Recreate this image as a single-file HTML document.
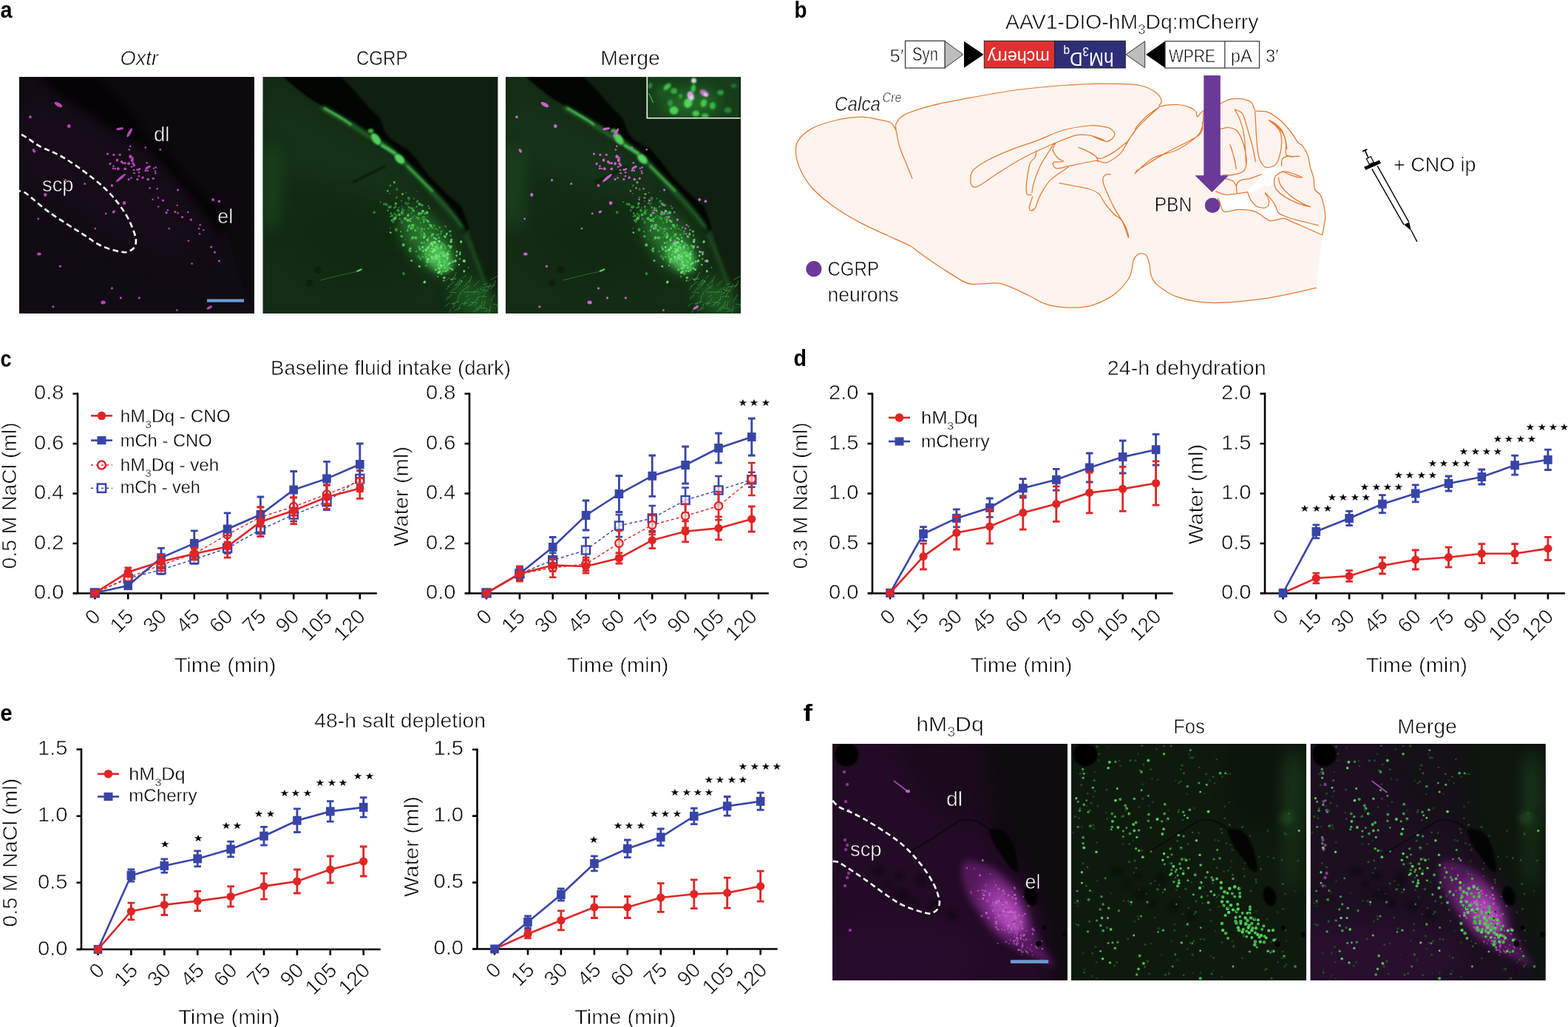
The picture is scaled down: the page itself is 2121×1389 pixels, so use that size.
<!DOCTYPE html>
<html><head><meta charset="utf-8"><title>Figure</title>
<style>html,body{margin:0;padding:0;background:#fff;overflow:hidden}svg{display:block}
text{font-family:"Liberation Sans", Arial, sans-serif}.k{stroke:#fff;stroke-width:0.6px}.k2{stroke:#fff;stroke-width:0.35px}</style></head>
<body><svg xmlns="http://www.w3.org/2000/svg" width="2121" height="1389" viewBox="0 0 2121 1389">
<rect width="2121" height="1389" fill="#fff"/>
<text x="0.5" y="24.3" font-size="32" font-weight="bold" textLength="16.0" lengthAdjust="spacingAndGlyphs">a</text>
<text x="1074.5" y="24.0" font-size="32" font-weight="bold" textLength="17.0" lengthAdjust="spacingAndGlyphs">b</text>
<text x="0.5" y="495.6" font-size="32" font-weight="bold" textLength="15.0" lengthAdjust="spacingAndGlyphs">c</text>
<text x="1073.5" y="494.8" font-size="32" font-weight="bold" textLength="17.5" lengthAdjust="spacingAndGlyphs">d</text>
<text x="0.3" y="975.4" font-size="32" font-weight="bold" textLength="16.5" lengthAdjust="spacingAndGlyphs">e</text>
<text x="1086.5" y="974.8" font-size="32" font-weight="bold" textLength="12.5" lengthAdjust="spacingAndGlyphs">f</text>
<path d="M99.0 802.5H509.8M105.0 803.5V531.3" stroke="#000" stroke-width="2.6" fill="none"/>
<path d="M98.5 802.5H105.0M98.5 735.0H105.0M98.5 667.5H105.0M98.5 600.0H105.0M98.5 532.5H105.0M128.4 802.5V810.5M173.2 802.5V810.5M218.0 802.5V810.5M262.8 802.5V810.5M307.6 802.5V810.5M352.4 802.5V810.5M397.2 802.5V810.5M442.0 802.5V810.5M486.8 802.5V810.5" stroke="#000" stroke-width="2.6" fill="none"/>
<text x="86.5" y="810.2" font-size="28" class="k" text-anchor="end" textLength="40.5" lengthAdjust="spacingAndGlyphs">0.0</text>
<text x="86.5" y="742.7" font-size="28" class="k" text-anchor="end" textLength="40.5" lengthAdjust="spacingAndGlyphs">0.2</text>
<text x="86.5" y="675.2" font-size="28" class="k" text-anchor="end" textLength="40.5" lengthAdjust="spacingAndGlyphs">0.4</text>
<text x="86.5" y="607.7" font-size="28" class="k" text-anchor="end" textLength="40.5" lengthAdjust="spacingAndGlyphs">0.6</text>
<text x="86.5" y="540.2" font-size="28" class="k" text-anchor="end" textLength="40.5" lengthAdjust="spacingAndGlyphs">0.8</text>
<text x="0.0" y="0.0" font-size="28" class="k" text-anchor="end" transform="translate(137.4 835.5) rotate(-45)">0</text>
<text x="0.0" y="0.0" font-size="28" class="k" text-anchor="end" transform="translate(182.2 835.5) rotate(-45)">15</text>
<text x="0.0" y="0.0" font-size="28" class="k" text-anchor="end" transform="translate(227.0 835.5) rotate(-45)">30</text>
<text x="0.0" y="0.0" font-size="28" class="k" text-anchor="end" transform="translate(271.8 835.5) rotate(-45)">45</text>
<text x="0.0" y="0.0" font-size="28" class="k" text-anchor="end" transform="translate(316.6 835.5) rotate(-45)">60</text>
<text x="0.0" y="0.0" font-size="28" class="k" text-anchor="end" transform="translate(361.4 835.5) rotate(-45)">75</text>
<text x="0.0" y="0.0" font-size="28" class="k" text-anchor="end" transform="translate(406.2 835.5) rotate(-45)">90</text>
<text x="0.0" y="0.0" font-size="28" class="k" text-anchor="end" transform="translate(451.0 835.5) rotate(-45)">105</text>
<text x="0.0" y="0.0" font-size="28" class="k" text-anchor="end" transform="translate(495.8 835.5) rotate(-45)">120</text>
<text x="235.7" y="908.5" font-size="28" class="k" textLength="137.8" lengthAdjust="spacingAndGlyphs">Time (min)</text>
<text x="0.0" y="0.0" font-size="28" class="k" text-anchor="middle" textLength="198.0" lengthAdjust="spacingAndGlyphs" transform="translate(21.5 670.4) rotate(-90)">0.5 M NaCl (ml)</text>
<path d="M128.4 802.0 L173.2 782.4 L218.0 770.5 L262.8 756.5 L307.6 741.4 L352.4 716.5 L397.2 696.0 L442.0 678.7 L486.8 647.4" stroke="#3845a8" stroke-width="1.4" fill="none" stroke-dasharray="4 3"/>
<path d="M173.2 778.4V786.4M168.4 778.4H178.0M168.4 786.4H178.0M218.0 764.5V776.5M213.2 764.5H222.8M213.2 776.5H222.8M262.8 750.5V762.5M258.0 750.5H267.6M258.0 762.5H267.6M307.6 734.4V748.4M302.8 734.4H312.4M302.8 748.4H312.4M352.4 707.5V725.5M347.6 707.5H357.2M347.6 725.5H357.2M397.2 687.0V705.0M392.4 687.0H402.0M392.4 705.0H402.0M442.0 667.7V689.7M437.2 667.7H446.8M437.2 689.7H446.8M486.8 636.4V658.4M482.0 636.4H491.6M482.0 658.4H491.6" stroke="#3845a8" stroke-width="2.6" fill="none"/>
<rect x="122.9" y="796.5" width="11" height="11" fill="#fff" fill-opacity="0.6" stroke="#3845a8" stroke-width="2.4"/><rect x="167.7" y="776.9" width="11" height="11" fill="#fff" fill-opacity="0.6" stroke="#3845a8" stroke-width="2.4"/><rect x="212.5" y="765.0" width="11" height="11" fill="#fff" fill-opacity="0.6" stroke="#3845a8" stroke-width="2.4"/><rect x="257.3" y="751.0" width="11" height="11" fill="#fff" fill-opacity="0.6" stroke="#3845a8" stroke-width="2.4"/><rect x="302.1" y="735.9" width="11" height="11" fill="#fff" fill-opacity="0.6" stroke="#3845a8" stroke-width="2.4"/><rect x="346.9" y="711.0" width="11" height="11" fill="#fff" fill-opacity="0.6" stroke="#3845a8" stroke-width="2.4"/><rect x="391.7" y="690.5" width="11" height="11" fill="#fff" fill-opacity="0.6" stroke="#3845a8" stroke-width="2.4"/><rect x="436.5" y="673.2" width="11" height="11" fill="#fff" fill-opacity="0.6" stroke="#3845a8" stroke-width="2.4"/><rect x="481.3" y="641.9" width="11" height="11" fill="#fff" fill-opacity="0.6" stroke="#3845a8" stroke-width="2.4"/>
<path d="M128.4 802.0 L173.2 781.3 L218.0 764.0 L262.8 749.0 L307.6 723.0 L352.4 699.3 L397.2 685.2 L442.0 668.6 L486.8 650.7" stroke="#e02525" stroke-width="1.4" fill="none" stroke-dasharray="4 3"/>
<path d="M173.2 776.3V786.3M168.4 776.3H178.0M168.4 786.3H178.0M218.0 756.0V772.0M213.2 756.0H222.8M213.2 772.0H222.8M262.8 742.0V756.0M258.0 742.0H267.6M258.0 756.0H267.6M307.6 713.0V733.0M302.8 713.0H312.4M302.8 733.0H312.4M352.4 686.3V712.3M347.6 686.3H357.2M347.6 712.3H357.2M397.2 673.2V697.2M392.4 673.2H402.0M392.4 697.2H402.0M442.0 655.6V681.6M437.2 655.6H446.8M437.2 681.6H446.8M486.8 636.7V664.7M482.0 636.7H491.6M482.0 664.7H491.6" stroke="#e02525" stroke-width="2.6" fill="none"/>
<circle cx="128.4" cy="802.0" r="5.2" fill="#fff" fill-opacity="0.6" stroke="#e02525" stroke-width="2.4"/><circle cx="173.2" cy="781.3" r="5.2" fill="#fff" fill-opacity="0.6" stroke="#e02525" stroke-width="2.4"/><circle cx="218.0" cy="764.0" r="5.2" fill="#fff" fill-opacity="0.6" stroke="#e02525" stroke-width="2.4"/><circle cx="262.8" cy="749.0" r="5.2" fill="#fff" fill-opacity="0.6" stroke="#e02525" stroke-width="2.4"/><circle cx="307.6" cy="723.0" r="5.2" fill="#fff" fill-opacity="0.6" stroke="#e02525" stroke-width="2.4"/><circle cx="352.4" cy="699.3" r="5.2" fill="#fff" fill-opacity="0.6" stroke="#e02525" stroke-width="2.4"/><circle cx="397.2" cy="685.2" r="5.2" fill="#fff" fill-opacity="0.6" stroke="#e02525" stroke-width="2.4"/><circle cx="442.0" cy="668.6" r="5.2" fill="#fff" fill-opacity="0.6" stroke="#e02525" stroke-width="2.4"/><circle cx="486.8" cy="650.7" r="5.2" fill="#fff" fill-opacity="0.6" stroke="#e02525" stroke-width="2.4"/>
<path d="M128.4 802.0 L173.2 792.1 L218.0 754.3 L262.8 734.9 L307.6 715.5 L352.4 696.0 L397.2 662.5 L442.0 647.4 L486.8 628.0" stroke="#3845a8" stroke-width="2.6" fill="none"/>
<path d="M173.2 788.1V796.1M168.4 788.1H178.0M168.4 796.1H178.0M218.0 741.3V767.3M213.2 741.3H222.8M213.2 767.3H222.8M262.8 717.9V751.9M258.0 717.9H267.6M258.0 751.9H267.6M307.6 693.9V737.1M302.8 693.9H312.4M302.8 737.1H312.4M352.4 672.0V720.0M347.6 672.0H357.2M347.6 720.0H357.2M397.2 637.5V687.5M392.4 637.5H402.0M392.4 687.5H402.0M442.0 624.4V670.4M437.2 624.4H446.8M437.2 670.4H446.8M486.8 600.0V656.0M482.0 600.0H491.6M482.0 656.0H491.6" stroke="#3845a8" stroke-width="2.8" fill="none"/>
<rect x="122.6" y="796.0" width="11.6" height="12" fill="#3845a8"/><rect x="167.4" y="786.1" width="11.6" height="12" fill="#3845a8"/><rect x="212.2" y="748.3" width="11.6" height="12" fill="#3845a8"/><rect x="257.0" y="728.9" width="11.6" height="12" fill="#3845a8"/><rect x="301.8" y="709.5" width="11.6" height="12" fill="#3845a8"/><rect x="346.6" y="690.0" width="11.6" height="12" fill="#3845a8"/><rect x="391.4" y="656.5" width="11.6" height="12" fill="#3845a8"/><rect x="436.2" y="641.4" width="11.6" height="12" fill="#3845a8"/><rect x="481.0" y="622.0" width="11.6" height="12" fill="#3845a8"/>
<path d="M128.4 802.0 L173.2 773.8 L218.0 759.6 L262.8 749.0 L307.6 739.2 L352.4 705.7 L397.2 690.6 L442.0 672.3 L486.8 660.4" stroke="#e02525" stroke-width="2.6" fill="none"/>
<path d="M173.2 767.8V779.8M168.4 767.8H178.0M168.4 779.8H178.0M218.0 750.6V768.6M213.2 750.6H222.8M213.2 768.6H222.8M262.8 741.0V757.0M258.0 741.0H267.6M258.0 757.0H267.6M307.6 724.2V754.2M302.8 724.2H312.4M302.8 754.2H312.4M352.4 685.7V725.7M347.6 685.7H357.2M347.6 725.7H357.2M397.2 672.6V708.6M392.4 672.6H402.0M392.4 708.6H402.0M442.0 656.3V688.3M437.2 656.3H446.8M437.2 688.3H446.8M486.8 646.4V674.4M482.0 646.4H491.6M482.0 674.4H491.6" stroke="#e02525" stroke-width="2.8" fill="none"/>
<circle cx="128.4" cy="802.0" r="5.6" fill="#e02525"/><circle cx="173.2" cy="773.8" r="5.6" fill="#e02525"/><circle cx="218.0" cy="759.6" r="5.6" fill="#e02525"/><circle cx="262.8" cy="749.0" r="5.6" fill="#e02525"/><circle cx="307.6" cy="739.2" r="5.6" fill="#e02525"/><circle cx="352.4" cy="705.7" r="5.6" fill="#e02525"/><circle cx="397.2" cy="690.6" r="5.6" fill="#e02525"/><circle cx="442.0" cy="672.3" r="5.6" fill="#e02525"/><circle cx="486.8" cy="660.4" r="5.6" fill="#e02525"/>
<path d="M123.0 562.3H152.0" stroke="#e02525" stroke-width="2.6"/>
<circle cx="137.5" cy="562.3" r="5.8" fill="#e02525"/>
<text x="162.7" y="571.3" font-size="24" class="k2" textLength="149.0" lengthAdjust="spacingAndGlyphs">hM<tspan font-size="15" dy="8">3</tspan><tspan dy="-8">Dq - CNO</tspan></text>
<path d="M123.0 595.6H152.0" stroke="#3845a8" stroke-width="2.6"/>
<rect x="131.5" y="590.0" width="12" height="11.2" fill="#3845a8"/>
<text x="162.7" y="604.4" font-size="24" class="k2" textLength="124.0" lengthAdjust="spacingAndGlyphs">mCh - CNO</text>
<path d="M123.0 629.0H152.0" stroke="#e02525" stroke-width="1.4" stroke-dasharray="3 4"/>
<circle cx="137.5" cy="629.0" r="5.4" fill="none" stroke="#e02525" stroke-width="2.5"/>
<text x="162.7" y="636.6" font-size="24" class="k2" textLength="133.5" lengthAdjust="spacingAndGlyphs">hM<tspan font-size="15" dy="8">3</tspan><tspan dy="-8">Dq - veh</tspan></text>
<path d="M123.0 660.2H152.0" stroke="#3845a8" stroke-width="1.4" stroke-dasharray="3 4"/>
<rect x="131.9" y="654.6" width="11.2" height="11.2" fill="none" stroke="#3845a8" stroke-width="2.5"/>
<text x="162.7" y="666.7" font-size="24" class="k2" textLength="108.0" lengthAdjust="spacingAndGlyphs">mCh - veh</text>
<path d="M629.0 802.5H1039.8M635.0 803.5V531.3" stroke="#000" stroke-width="2.6" fill="none"/>
<path d="M628.5 802.5H635.0M628.5 735.0H635.0M628.5 667.5H635.0M628.5 600.0H635.0M628.5 532.5H635.0M658.0 802.5V810.5M702.9 802.5V810.5M747.7 802.5V810.5M792.5 802.5V810.5M837.4 802.5V810.5M882.2 802.5V810.5M927.1 802.5V810.5M972.0 802.5V810.5M1016.8 802.5V810.5" stroke="#000" stroke-width="2.6" fill="none"/>
<text x="616.5" y="810.2" font-size="28" class="k" text-anchor="end" textLength="40.5" lengthAdjust="spacingAndGlyphs">0.0</text>
<text x="616.5" y="742.7" font-size="28" class="k" text-anchor="end" textLength="40.5" lengthAdjust="spacingAndGlyphs">0.2</text>
<text x="616.5" y="675.2" font-size="28" class="k" text-anchor="end" textLength="40.5" lengthAdjust="spacingAndGlyphs">0.4</text>
<text x="616.5" y="607.7" font-size="28" class="k" text-anchor="end" textLength="40.5" lengthAdjust="spacingAndGlyphs">0.6</text>
<text x="616.5" y="540.2" font-size="28" class="k" text-anchor="end" textLength="40.5" lengthAdjust="spacingAndGlyphs">0.8</text>
<text x="0.0" y="0.0" font-size="28" class="k" text-anchor="end" transform="translate(667.0 835.5) rotate(-45)">0</text>
<text x="0.0" y="0.0" font-size="28" class="k" text-anchor="end" transform="translate(711.9 835.5) rotate(-45)">15</text>
<text x="0.0" y="0.0" font-size="28" class="k" text-anchor="end" transform="translate(756.7 835.5) rotate(-45)">30</text>
<text x="0.0" y="0.0" font-size="28" class="k" text-anchor="end" transform="translate(801.5 835.5) rotate(-45)">45</text>
<text x="0.0" y="0.0" font-size="28" class="k" text-anchor="end" transform="translate(846.4 835.5) rotate(-45)">60</text>
<text x="0.0" y="0.0" font-size="28" class="k" text-anchor="end" transform="translate(891.2 835.5) rotate(-45)">75</text>
<text x="0.0" y="0.0" font-size="28" class="k" text-anchor="end" transform="translate(936.1 835.5) rotate(-45)">90</text>
<text x="0.0" y="0.0" font-size="28" class="k" text-anchor="end" transform="translate(981.0 835.5) rotate(-45)">105</text>
<text x="0.0" y="0.0" font-size="28" class="k" text-anchor="end" transform="translate(1025.8 835.5) rotate(-45)">120</text>
<text x="766.7" y="908.5" font-size="28" class="k" textLength="137.8" lengthAdjust="spacingAndGlyphs">Time (min)</text>
<text x="0.0" y="0.0" font-size="28" class="k" text-anchor="middle" textLength="135.0" lengthAdjust="spacingAndGlyphs" transform="translate(551.5 671.4) rotate(-90)">Water (ml)</text>
<path d="M658.0 802.0 L702.9 776.0 L747.7 757.7 L792.5 744.0 L837.4 711.0 L882.2 701.0 L927.1 676.5 L972.0 663.0 L1016.8 648.8" stroke="#3845a8" stroke-width="1.4" fill="none" stroke-dasharray="4 3"/>
<path d="M702.9 768.0V784.0M698.1 768.0H707.6M698.1 784.0H707.6M747.7 747.7V767.7M742.9 747.7H752.5M742.9 767.7H752.5M792.5 727.0V761.0M787.8 727.0H797.3M787.8 761.0H797.3M837.4 696.0V726.0M832.6 696.0H842.2M832.6 726.0H842.2M882.2 684.0V718.0M877.5 684.0H887.0M877.5 718.0H887.0M927.1 659.5V693.5M922.3 659.5H931.9M922.3 693.5H931.9M972.0 644.0V682.0M967.2 644.0H976.8M967.2 682.0H976.8M1016.8 638.8V658.8M1012.0 638.8H1021.6M1012.0 658.8H1021.6" stroke="#3845a8" stroke-width="2.6" fill="none"/>
<rect x="652.5" y="796.5" width="11" height="11" fill="#fff" fill-opacity="0.6" stroke="#3845a8" stroke-width="2.4"/><rect x="697.4" y="770.5" width="11" height="11" fill="#fff" fill-opacity="0.6" stroke="#3845a8" stroke-width="2.4"/><rect x="742.2" y="752.2" width="11" height="11" fill="#fff" fill-opacity="0.6" stroke="#3845a8" stroke-width="2.4"/><rect x="787.0" y="738.5" width="11" height="11" fill="#fff" fill-opacity="0.6" stroke="#3845a8" stroke-width="2.4"/><rect x="831.9" y="705.5" width="11" height="11" fill="#fff" fill-opacity="0.6" stroke="#3845a8" stroke-width="2.4"/><rect x="876.8" y="695.5" width="11" height="11" fill="#fff" fill-opacity="0.6" stroke="#3845a8" stroke-width="2.4"/><rect x="921.6" y="671.0" width="11" height="11" fill="#fff" fill-opacity="0.6" stroke="#3845a8" stroke-width="2.4"/><rect x="966.5" y="657.5" width="11" height="11" fill="#fff" fill-opacity="0.6" stroke="#3845a8" stroke-width="2.4"/><rect x="1011.3" y="643.3" width="11" height="11" fill="#fff" fill-opacity="0.6" stroke="#3845a8" stroke-width="2.4"/>
<path d="M658.0 802.0 L702.9 776.0 L747.7 767.8 L792.5 762.8 L837.4 734.7 L882.2 710.0 L927.1 697.8 L972.0 684.3 L1016.8 648.0" stroke="#e02525" stroke-width="1.4" fill="none" stroke-dasharray="4 3"/>
<path d="M702.9 767.0V785.0M698.1 767.0H707.6M698.1 785.0H707.6M747.7 754.8V780.8M742.9 754.8H752.5M742.9 780.8H752.5M792.5 753.8V771.8M787.8 753.8H797.3M787.8 771.8H797.3M837.4 717.7V751.7M832.6 717.7H842.2M832.6 751.7H842.2M882.2 697.0V723.0M877.5 697.0H887.0M877.5 723.0H887.0M927.1 681.8V713.8M922.3 681.8H931.9M922.3 713.8H931.9M972.0 665.3V703.3M967.2 665.3H976.8M967.2 703.3H976.8M1016.8 626.0V670.0M1012.0 626.0H1021.6M1012.0 670.0H1021.6" stroke="#e02525" stroke-width="2.6" fill="none"/>
<circle cx="658.0" cy="802.0" r="5.2" fill="#fff" fill-opacity="0.6" stroke="#e02525" stroke-width="2.4"/><circle cx="702.9" cy="776.0" r="5.2" fill="#fff" fill-opacity="0.6" stroke="#e02525" stroke-width="2.4"/><circle cx="747.7" cy="767.8" r="5.2" fill="#fff" fill-opacity="0.6" stroke="#e02525" stroke-width="2.4"/><circle cx="792.5" cy="762.8" r="5.2" fill="#fff" fill-opacity="0.6" stroke="#e02525" stroke-width="2.4"/><circle cx="837.4" cy="734.7" r="5.2" fill="#fff" fill-opacity="0.6" stroke="#e02525" stroke-width="2.4"/><circle cx="882.2" cy="710.0" r="5.2" fill="#fff" fill-opacity="0.6" stroke="#e02525" stroke-width="2.4"/><circle cx="927.1" cy="697.8" r="5.2" fill="#fff" fill-opacity="0.6" stroke="#e02525" stroke-width="2.4"/><circle cx="972.0" cy="684.3" r="5.2" fill="#fff" fill-opacity="0.6" stroke="#e02525" stroke-width="2.4"/><circle cx="1016.8" cy="648.0" r="5.2" fill="#fff" fill-opacity="0.6" stroke="#e02525" stroke-width="2.4"/>
<path d="M658.0 802.0 L702.9 776.0 L747.7 740.0 L792.5 697.0 L837.4 668.0 L882.2 643.7 L927.1 629.0 L972.0 606.0 L1016.8 591.0" stroke="#3845a8" stroke-width="2.6" fill="none"/>
<path d="M702.9 768.0V784.0M698.1 768.0H707.6M698.1 784.0H707.6M747.7 726.5V753.5M742.9 726.5H752.5M742.9 753.5H752.5M792.5 677.0V717.0M787.8 677.0H797.3M787.8 717.0H797.3M837.4 643.5V692.5M832.6 643.5H842.2M832.6 692.5H842.2M882.2 616.0V671.4M877.5 616.0H887.0M877.5 671.4H887.0M927.1 604.0V654.0M922.3 604.0H931.9M922.3 654.0H931.9M972.0 586.0V626.0M967.2 586.0H976.8M967.2 626.0H976.8M1016.8 566.0V616.0M1012.0 566.0H1021.6M1012.0 616.0H1021.6" stroke="#3845a8" stroke-width="2.8" fill="none"/>
<rect x="652.2" y="796.0" width="11.6" height="12" fill="#3845a8"/><rect x="697.1" y="770.0" width="11.6" height="12" fill="#3845a8"/><rect x="741.9" y="734.0" width="11.6" height="12" fill="#3845a8"/><rect x="786.8" y="691.0" width="11.6" height="12" fill="#3845a8"/><rect x="831.6" y="662.0" width="11.6" height="12" fill="#3845a8"/><rect x="876.5" y="637.7" width="11.6" height="12" fill="#3845a8"/><rect x="921.3" y="623.0" width="11.6" height="12" fill="#3845a8"/><rect x="966.2" y="600.0" width="11.6" height="12" fill="#3845a8"/><rect x="1011.0" y="585.0" width="11.6" height="12" fill="#3845a8"/>
<path d="M658.0 802.0 L702.9 776.0 L747.7 764.5 L792.5 766.0 L837.4 755.0 L882.2 730.6 L927.1 718.8 L972.0 714.4 L1016.8 702.0" stroke="#e02525" stroke-width="2.6" fill="none"/>
<path d="M702.9 766.0V786.0M698.1 766.0H707.6M698.1 786.0H707.6M747.7 756.5V772.5M742.9 756.5H752.5M742.9 772.5H752.5M792.5 757.0V775.0M787.8 757.0H797.3M787.8 775.0H797.3M837.4 748.0V762.0M832.6 748.0H842.2M832.6 762.0H842.2M882.2 719.6V741.6M877.5 719.6H887.0M877.5 741.6H887.0M927.1 704.8V732.8M922.3 704.8H931.9M922.3 732.8H931.9M972.0 698.9V729.9M967.2 698.9H976.8M967.2 729.9H976.8M1016.8 685.0V719.0M1012.0 685.0H1021.6M1012.0 719.0H1021.6" stroke="#e02525" stroke-width="2.8" fill="none"/>
<circle cx="658.0" cy="802.0" r="5.6" fill="#e02525"/><circle cx="702.9" cy="776.0" r="5.6" fill="#e02525"/><circle cx="747.7" cy="764.5" r="5.6" fill="#e02525"/><circle cx="792.5" cy="766.0" r="5.6" fill="#e02525"/><circle cx="837.4" cy="755.0" r="5.6" fill="#e02525"/><circle cx="882.2" cy="730.6" r="5.6" fill="#e02525"/><circle cx="927.1" cy="718.8" r="5.6" fill="#e02525"/><circle cx="972.0" cy="714.4" r="5.6" fill="#e02525"/><circle cx="1016.8" cy="702.0" r="5.6" fill="#e02525"/>
<text x="996.9" y="550.2" font-size="15.5" textLength="46.3" lengthAdjust="spacingAndGlyphs" font-family="DejaVu Sans, sans-serif" stroke="#fff" stroke-width="0.7">★★★</text>
<path d="M1174.0 802.5H1586.6M1180.0 803.5V531.3" stroke="#000" stroke-width="2.6" fill="none"/>
<path d="M1173.5 802.5H1180.0M1173.5 735.0H1180.0M1173.5 667.5H1180.0M1173.5 600.0H1180.0M1173.5 532.5H1180.0M1204.0 802.5V810.5M1249.0 802.5V810.5M1293.9 802.5V810.5M1338.8 802.5V810.5M1383.8 802.5V810.5M1428.8 802.5V810.5M1473.7 802.5V810.5M1518.7 802.5V810.5M1563.6 802.5V810.5" stroke="#000" stroke-width="2.6" fill="none"/>
<text x="1161.5" y="810.2" font-size="28" class="k" text-anchor="end" textLength="40.5" lengthAdjust="spacingAndGlyphs">0.0</text>
<text x="1161.5" y="742.7" font-size="28" class="k" text-anchor="end" textLength="40.5" lengthAdjust="spacingAndGlyphs">0.5</text>
<text x="1161.5" y="675.2" font-size="28" class="k" text-anchor="end" textLength="40.5" lengthAdjust="spacingAndGlyphs">1.0</text>
<text x="1161.5" y="607.7" font-size="28" class="k" text-anchor="end" textLength="40.5" lengthAdjust="spacingAndGlyphs">1.5</text>
<text x="1161.5" y="540.2" font-size="28" class="k" text-anchor="end" textLength="40.5" lengthAdjust="spacingAndGlyphs">2.0</text>
<text x="0.0" y="0.0" font-size="28" class="k" text-anchor="end" transform="translate(1213.0 835.5) rotate(-45)">0</text>
<text x="0.0" y="0.0" font-size="28" class="k" text-anchor="end" transform="translate(1258.0 835.5) rotate(-45)">15</text>
<text x="0.0" y="0.0" font-size="28" class="k" text-anchor="end" transform="translate(1302.9 835.5) rotate(-45)">30</text>
<text x="0.0" y="0.0" font-size="28" class="k" text-anchor="end" transform="translate(1347.8 835.5) rotate(-45)">45</text>
<text x="0.0" y="0.0" font-size="28" class="k" text-anchor="end" transform="translate(1392.8 835.5) rotate(-45)">60</text>
<text x="0.0" y="0.0" font-size="28" class="k" text-anchor="end" transform="translate(1437.8 835.5) rotate(-45)">75</text>
<text x="0.0" y="0.0" font-size="28" class="k" text-anchor="end" transform="translate(1482.7 835.5) rotate(-45)">90</text>
<text x="0.0" y="0.0" font-size="28" class="k" text-anchor="end" transform="translate(1527.7 835.5) rotate(-45)">105</text>
<text x="0.0" y="0.0" font-size="28" class="k" text-anchor="end" transform="translate(1572.6 835.5) rotate(-45)">120</text>
<text x="1312.7" y="908.5" font-size="28" class="k" textLength="137.8" lengthAdjust="spacingAndGlyphs">Time (min)</text>
<text x="0.0" y="0.0" font-size="28" class="k" text-anchor="middle" textLength="198.0" lengthAdjust="spacingAndGlyphs" transform="translate(1091.5 670.4) rotate(-90)">0.3 M NaCl (ml)</text>
<path d="M1204.0 802.0 L1249.0 722.0 L1293.9 700.9 L1338.8 686.7 L1383.8 660.3 L1428.8 648.8 L1473.7 632.5 L1518.7 618.0 L1563.6 608.2" stroke="#3845a8" stroke-width="2.6" fill="none"/>
<path d="M1249.0 712.7V731.3M1244.2 712.7H1253.8M1244.2 731.3H1253.8M1293.9 688.9V712.9M1289.1 688.9H1298.7M1289.1 712.9H1298.7M1338.8 674.0V699.4M1334.0 674.0H1343.6M1334.0 699.4H1343.6M1383.8 647.6V673.0M1379.0 647.6H1388.6M1379.0 673.0H1388.6M1428.8 634.4V663.2M1424.0 634.4H1433.5M1424.0 663.2H1433.5M1473.7 613.0V652.0M1468.9 613.0H1478.5M1468.9 652.0H1478.5M1518.7 596.0V640.0M1513.9 596.0H1523.5M1513.9 640.0H1523.5M1563.6 587.4V629.0M1558.8 587.4H1568.4M1558.8 629.0H1568.4" stroke="#3845a8" stroke-width="2.8" fill="none"/>
<rect x="1198.2" y="796.0" width="11.6" height="12" fill="#3845a8"/><rect x="1243.2" y="716.0" width="11.6" height="12" fill="#3845a8"/><rect x="1288.1" y="694.9" width="11.6" height="12" fill="#3845a8"/><rect x="1333.0" y="680.7" width="11.6" height="12" fill="#3845a8"/><rect x="1378.0" y="654.3" width="11.6" height="12" fill="#3845a8"/><rect x="1423.0" y="642.8" width="11.6" height="12" fill="#3845a8"/><rect x="1467.9" y="626.5" width="11.6" height="12" fill="#3845a8"/><rect x="1512.9" y="612.0" width="11.6" height="12" fill="#3845a8"/><rect x="1557.8" y="602.2" width="11.6" height="12" fill="#3845a8"/>
<path d="M1204.0 802.0 L1249.0 752.6 L1293.9 720.5 L1338.8 712.0 L1383.8 693.4 L1428.8 681.6 L1473.7 666.4 L1518.7 661.3 L1563.6 653.5" stroke="#e02525" stroke-width="2.6" fill="none"/>
<path d="M1249.0 735.2V770.0M1244.2 735.2H1253.8M1244.2 770.0H1253.8M1293.9 698.0V743.0M1289.1 698.0H1298.7M1289.1 743.0H1298.7M1338.8 689.0V735.0M1334.0 689.0H1343.6M1334.0 735.0H1343.6M1383.8 670.6V716.2M1379.0 670.6H1388.6M1379.0 716.2H1388.6M1428.8 657.9V705.3M1424.0 657.9H1433.5M1424.0 705.3H1433.5M1473.7 639.0V693.8M1468.9 639.0H1478.5M1468.9 693.8H1478.5M1518.7 631.3V691.3M1513.9 631.3H1523.5M1513.9 691.3H1523.5M1563.6 623.9V683.1M1558.8 623.9H1568.4M1558.8 683.1H1568.4" stroke="#e02525" stroke-width="2.8" fill="none"/>
<circle cx="1204.0" cy="802.0" r="5.6" fill="#e02525"/><circle cx="1249.0" cy="752.6" r="5.6" fill="#e02525"/><circle cx="1293.9" cy="720.5" r="5.6" fill="#e02525"/><circle cx="1338.8" cy="712.0" r="5.6" fill="#e02525"/><circle cx="1383.8" cy="693.4" r="5.6" fill="#e02525"/><circle cx="1428.8" cy="681.6" r="5.6" fill="#e02525"/><circle cx="1473.7" cy="666.4" r="5.6" fill="#e02525"/><circle cx="1518.7" cy="661.3" r="5.6" fill="#e02525"/><circle cx="1563.6" cy="653.5" r="5.6" fill="#e02525"/>
<path d="M1202.0 564.9H1231.0" stroke="#e02525" stroke-width="2.6"/>
<circle cx="1216.5" cy="564.9" r="5.8" fill="#e02525"/>
<text x="1246.0" y="573.3" font-size="24" class="k2" textLength="76.7" lengthAdjust="spacingAndGlyphs">hM<tspan font-size="15" dy="8">3</tspan><tspan dy="-8">Dq</tspan></text>
<path d="M1202.0 597.0H1231.0" stroke="#3845a8" stroke-width="2.6"/>
<rect x="1210.5" y="591.4" width="12" height="11.2" fill="#3845a8"/>
<text x="1246.0" y="604.8" font-size="24" class="k2" textLength="92.7" lengthAdjust="spacingAndGlyphs">mCherry</text>
<path d="M1705.0 802.5H2116.9M1711.0 803.5V531.3" stroke="#000" stroke-width="2.6" fill="none"/>
<path d="M1704.5 802.5H1711.0M1704.5 735.0H1711.0M1704.5 667.5H1711.0M1704.5 600.0H1711.0M1704.5 532.5H1711.0M1735.5 802.5V810.5M1780.3 802.5V810.5M1825.1 802.5V810.5M1869.9 802.5V810.5M1914.7 802.5V810.5M1959.5 802.5V810.5M2004.3 802.5V810.5M2049.1 802.5V810.5M2093.9 802.5V810.5" stroke="#000" stroke-width="2.6" fill="none"/>
<text x="1692.5" y="810.2" font-size="28" class="k" text-anchor="end" textLength="40.5" lengthAdjust="spacingAndGlyphs">0.0</text>
<text x="1692.5" y="742.7" font-size="28" class="k" text-anchor="end" textLength="40.5" lengthAdjust="spacingAndGlyphs">0.5</text>
<text x="1692.5" y="675.2" font-size="28" class="k" text-anchor="end" textLength="40.5" lengthAdjust="spacingAndGlyphs">1.0</text>
<text x="1692.5" y="607.7" font-size="28" class="k" text-anchor="end" textLength="40.5" lengthAdjust="spacingAndGlyphs">1.5</text>
<text x="1692.5" y="540.2" font-size="28" class="k" text-anchor="end" textLength="40.5" lengthAdjust="spacingAndGlyphs">2.0</text>
<text x="0.0" y="0.0" font-size="28" class="k" text-anchor="end" transform="translate(1744.5 835.5) rotate(-45)">0</text>
<text x="0.0" y="0.0" font-size="28" class="k" text-anchor="end" transform="translate(1789.3 835.5) rotate(-45)">15</text>
<text x="0.0" y="0.0" font-size="28" class="k" text-anchor="end" transform="translate(1834.1 835.5) rotate(-45)">30</text>
<text x="0.0" y="0.0" font-size="28" class="k" text-anchor="end" transform="translate(1878.9 835.5) rotate(-45)">45</text>
<text x="0.0" y="0.0" font-size="28" class="k" text-anchor="end" transform="translate(1923.7 835.5) rotate(-45)">60</text>
<text x="0.0" y="0.0" font-size="28" class="k" text-anchor="end" transform="translate(1968.5 835.5) rotate(-45)">75</text>
<text x="0.0" y="0.0" font-size="28" class="k" text-anchor="end" transform="translate(2013.3 835.5) rotate(-45)">90</text>
<text x="0.0" y="0.0" font-size="28" class="k" text-anchor="end" transform="translate(2058.1 835.5) rotate(-45)">105</text>
<text x="0.0" y="0.0" font-size="28" class="k" text-anchor="end" transform="translate(2102.9 835.5) rotate(-45)">120</text>
<text x="1847.7" y="908.5" font-size="28" class="k" textLength="137.3" lengthAdjust="spacingAndGlyphs">Time (min)</text>
<text x="0.0" y="0.0" font-size="28" class="k" text-anchor="middle" textLength="136.0" lengthAdjust="spacingAndGlyphs" transform="translate(1627.0 668.6) rotate(-90)">Water (ml)</text>
<path d="M1735.5 802.0 L1780.3 782.0 L1825.1 779.0 L1869.9 765.0 L1914.7 757.0 L1959.5 753.7 L2004.3 748.7 L2049.1 748.7 L2093.9 741.9" stroke="#e02525" stroke-width="2.6" fill="none"/>
<path d="M1780.3 775.2V788.8M1775.5 775.2H1785.1M1775.5 788.8H1785.1M1825.1 771.7V786.3M1820.3 771.7H1829.9M1820.3 786.3H1829.9M1869.9 754.0V776.0M1865.1 754.0H1874.7M1865.1 776.0H1874.7M1914.7 744.0V770.0M1909.9 744.0H1919.5M1909.9 770.0H1919.5M1959.5 740.2V767.2M1954.7 740.2H1964.3M1954.7 767.2H1964.3M2004.3 735.7V761.7M1999.5 735.7H2009.1M1999.5 761.7H2009.1M2049.1 735.7V761.7M2044.3 735.7H2053.9M2044.3 761.7H2053.9M2093.9 726.3V757.5M2089.1 726.3H2098.7M2089.1 757.5H2098.7" stroke="#e02525" stroke-width="2.8" fill="none"/>
<circle cx="1735.5" cy="802.0" r="5.6" fill="#e02525"/><circle cx="1780.3" cy="782.0" r="5.6" fill="#e02525"/><circle cx="1825.1" cy="779.0" r="5.6" fill="#e02525"/><circle cx="1869.9" cy="765.0" r="5.6" fill="#e02525"/><circle cx="1914.7" cy="757.0" r="5.6" fill="#e02525"/><circle cx="1959.5" cy="753.7" r="5.6" fill="#e02525"/><circle cx="2004.3" cy="748.7" r="5.6" fill="#e02525"/><circle cx="2049.1" cy="748.7" r="5.6" fill="#e02525"/><circle cx="2093.9" cy="741.9" r="5.6" fill="#e02525"/>
<path d="M1735.5 802.0 L1780.3 718.9 L1825.1 701.0 L1869.9 681.7 L1914.7 667.4 L1959.5 654.0 L2004.3 645.0 L2049.1 629.2 L2093.9 621.8" stroke="#3845a8" stroke-width="2.6" fill="none"/>
<path d="M1780.3 709.9V727.9M1775.5 709.9H1785.1M1775.5 727.9H1785.1M1825.1 691.4V710.6M1820.3 691.4H1829.9M1820.3 710.6H1829.9M1869.9 669.7V693.7M1865.1 669.7H1874.7M1865.1 693.7H1874.7M1914.7 655.9V678.9M1909.9 655.9H1919.5M1909.9 678.9H1919.5M1959.5 644.0V664.0M1954.7 644.0H1964.3M1954.7 664.0H1964.3M2004.3 635.0V655.0M1999.5 635.0H2009.1M1999.5 655.0H2009.1M2049.1 616.2V642.2M2044.3 616.2H2053.9M2044.3 642.2H2053.9M2093.9 608.1V635.5M2089.1 608.1H2098.7M2089.1 635.5H2098.7" stroke="#3845a8" stroke-width="2.8" fill="none"/>
<rect x="1729.7" y="796.0" width="11.6" height="12" fill="#3845a8"/><rect x="1774.5" y="712.9" width="11.6" height="12" fill="#3845a8"/><rect x="1819.3" y="695.0" width="11.6" height="12" fill="#3845a8"/><rect x="1864.1" y="675.7" width="11.6" height="12" fill="#3845a8"/><rect x="1908.9" y="661.4" width="11.6" height="12" fill="#3845a8"/><rect x="1953.7" y="648.0" width="11.6" height="12" fill="#3845a8"/><rect x="1998.5" y="639.0" width="11.6" height="12" fill="#3845a8"/><rect x="2043.3" y="623.2" width="11.6" height="12" fill="#3845a8"/><rect x="2088.1" y="615.8" width="11.6" height="12" fill="#3845a8"/>
<text x="1757.1" y="693.0" font-size="15.5" textLength="46.3" lengthAdjust="spacingAndGlyphs" font-family="DejaVu Sans, sans-serif" stroke="#fff" stroke-width="0.7">★★★</text>
<text x="1793.8" y="678.1" font-size="15.5" textLength="61.5" lengthAdjust="spacingAndGlyphs" font-family="DejaVu Sans, sans-serif" stroke="#fff" stroke-width="0.7">★★★★</text>
<text x="1838.2" y="663.6" font-size="15.5" textLength="61.5" lengthAdjust="spacingAndGlyphs" font-family="DejaVu Sans, sans-serif" stroke="#fff" stroke-width="0.7">★★★★</text>
<text x="1883.8" y="648.3" font-size="15.5" textLength="61.5" lengthAdjust="spacingAndGlyphs" font-family="DejaVu Sans, sans-serif" stroke="#fff" stroke-width="0.7">★★★★</text>
<text x="1929.8" y="632.4" font-size="15.5" textLength="61.5" lengthAdjust="spacingAndGlyphs" font-family="DejaVu Sans, sans-serif" stroke="#fff" stroke-width="0.7">★★★★</text>
<text x="1972.2" y="615.6" font-size="15.5" textLength="61.5" lengthAdjust="spacingAndGlyphs" font-family="DejaVu Sans, sans-serif" stroke="#fff" stroke-width="0.7">★★★★</text>
<text x="2017.8" y="599.3" font-size="15.5" textLength="61.5" lengthAdjust="spacingAndGlyphs" font-family="DejaVu Sans, sans-serif" stroke="#fff" stroke-width="0.7">★★★★</text>
<text x="2062.2" y="583.4" font-size="15.5" textLength="61.5" lengthAdjust="spacingAndGlyphs" font-family="DejaVu Sans, sans-serif" stroke="#fff" stroke-width="0.7">★★★★</text>
<path d="M104.0 1284.0H514.7M110.0 1285.0V1012.3" stroke="#000" stroke-width="2.6" fill="none"/>
<path d="M103.5 1284.0H110.0M103.5 1193.8H110.0M103.5 1103.7H110.0M103.5 1013.5H110.0M132.5 1284.0V1292.0M177.4 1284.0V1292.0M222.3 1284.0V1292.0M267.2 1284.0V1292.0M312.1 1284.0V1292.0M357.0 1284.0V1292.0M401.9 1284.0V1292.0M446.8 1284.0V1292.0M491.7 1284.0V1292.0" stroke="#000" stroke-width="2.6" fill="none"/>
<text x="91.5" y="1291.7" font-size="28" class="k" text-anchor="end" textLength="40.5" lengthAdjust="spacingAndGlyphs">0.0</text>
<text x="91.5" y="1201.5" font-size="28" class="k" text-anchor="end" textLength="40.5" lengthAdjust="spacingAndGlyphs">0.5</text>
<text x="91.5" y="1111.4" font-size="28" class="k" text-anchor="end" textLength="40.5" lengthAdjust="spacingAndGlyphs">1.0</text>
<text x="91.5" y="1021.2" font-size="28" class="k" text-anchor="end" textLength="40.5" lengthAdjust="spacingAndGlyphs">1.5</text>
<text x="0.0" y="0.0" font-size="28" class="k" text-anchor="end" transform="translate(143.0 1314.0) rotate(-45)">0</text>
<text x="0.0" y="0.0" font-size="28" class="k" text-anchor="end" transform="translate(187.9 1314.0) rotate(-45)">15</text>
<text x="0.0" y="0.0" font-size="28" class="k" text-anchor="end" transform="translate(232.8 1314.0) rotate(-45)">30</text>
<text x="0.0" y="0.0" font-size="28" class="k" text-anchor="end" transform="translate(277.7 1314.0) rotate(-45)">45</text>
<text x="0.0" y="0.0" font-size="28" class="k" text-anchor="end" transform="translate(322.6 1314.0) rotate(-45)">60</text>
<text x="0.0" y="0.0" font-size="28" class="k" text-anchor="end" transform="translate(367.5 1314.0) rotate(-45)">75</text>
<text x="0.0" y="0.0" font-size="28" class="k" text-anchor="end" transform="translate(412.4 1314.0) rotate(-45)">90</text>
<text x="0.0" y="0.0" font-size="28" class="k" text-anchor="end" transform="translate(457.3 1314.0) rotate(-45)">105</text>
<text x="0.0" y="0.0" font-size="28" class="k" text-anchor="end" transform="translate(502.2 1314.0) rotate(-45)">120</text>
<text x="241.2" y="1385.0" font-size="28" class="k" textLength="137.3" lengthAdjust="spacingAndGlyphs">Time (min)</text>
<text x="0.0" y="0.0" font-size="28" class="k" text-anchor="middle" textLength="201.0" lengthAdjust="spacingAndGlyphs" transform="translate(22.5 1153.3) rotate(-90)">0.5 M NaCl (ml)</text>
<path d="M132.5 1284.0 L177.4 1184.0 L222.3 1171.0 L267.2 1161.4 L312.1 1148.5 L357.0 1130.7 L401.9 1109.7 L446.8 1097.4 L491.7 1091.9" stroke="#3845a8" stroke-width="2.6" fill="none"/>
<path d="M177.4 1176.0V1192.0M172.6 1176.0H182.2M172.6 1192.0H182.2M222.3 1161.8V1180.2M217.5 1161.8H227.1M217.5 1180.2H227.1M267.2 1150.9V1171.9M262.4 1150.9H272.0M262.4 1171.9H272.0M312.1 1138.2V1158.8M307.3 1138.2H316.9M307.3 1158.8H316.9M357.0 1118.3V1143.1M352.2 1118.3H361.8M352.2 1143.1H361.8M401.9 1093.9V1125.5M397.1 1093.9H406.7M397.1 1125.5H406.7M446.8 1083.7V1111.1M442.0 1083.7H451.6M442.0 1111.1H451.6M491.7 1078.6V1105.2M486.9 1078.6H496.5M486.9 1105.2H496.5" stroke="#3845a8" stroke-width="2.8" fill="none"/>
<rect x="126.7" y="1278.0" width="11.6" height="12" fill="#3845a8"/><rect x="171.6" y="1178.0" width="11.6" height="12" fill="#3845a8"/><rect x="216.5" y="1165.0" width="11.6" height="12" fill="#3845a8"/><rect x="261.4" y="1155.4" width="11.6" height="12" fill="#3845a8"/><rect x="306.3" y="1142.5" width="11.6" height="12" fill="#3845a8"/><rect x="351.2" y="1124.7" width="11.6" height="12" fill="#3845a8"/><rect x="396.1" y="1103.7" width="11.6" height="12" fill="#3845a8"/><rect x="441.0" y="1091.4" width="11.6" height="12" fill="#3845a8"/><rect x="485.9" y="1085.9" width="11.6" height="12" fill="#3845a8"/>
<path d="M132.5 1284.0 L177.4 1232.5 L222.3 1223.8 L267.2 1218.6 L312.1 1212.5 L357.0 1198.6 L401.9 1192.0 L446.8 1176.0 L491.7 1165.0" stroke="#e02525" stroke-width="2.6" fill="none"/>
<path d="M177.4 1221.2V1243.8M172.6 1221.2H182.2M172.6 1243.8H182.2M222.3 1210.1V1237.5M217.5 1210.1H227.1M217.5 1237.5H227.1M267.2 1205.4V1231.8M262.4 1205.4H272.0M262.4 1231.8H272.0M312.1 1198.8V1226.2M307.3 1198.8H316.9M307.3 1226.2H316.9M357.0 1181.1V1216.1M352.2 1181.1H361.8M352.2 1216.1H361.8M401.9 1176.0V1208.0M397.1 1176.0H406.7M397.1 1208.0H406.7M446.8 1158.0V1194.0M442.0 1158.0H451.6M442.0 1194.0H451.6M491.7 1145.0V1185.0M486.9 1145.0H496.5M486.9 1185.0H496.5" stroke="#e02525" stroke-width="2.8" fill="none"/>
<circle cx="132.5" cy="1284.0" r="5.6" fill="#e02525"/><circle cx="177.4" cy="1232.5" r="5.6" fill="#e02525"/><circle cx="222.3" cy="1223.8" r="5.6" fill="#e02525"/><circle cx="267.2" cy="1218.6" r="5.6" fill="#e02525"/><circle cx="312.1" cy="1212.5" r="5.6" fill="#e02525"/><circle cx="357.0" cy="1198.6" r="5.6" fill="#e02525"/><circle cx="401.9" cy="1192.0" r="5.6" fill="#e02525"/><circle cx="446.8" cy="1176.0" r="5.6" fill="#e02525"/><circle cx="491.7" cy="1165.0" r="5.6" fill="#e02525"/>
<text x="215.1" y="1146.6" font-size="15.5" textLength="15.9" lengthAdjust="spacingAndGlyphs" font-family="DejaVu Sans, sans-serif" stroke="#fff" stroke-width="0.7">★</text>
<text x="260.4" y="1138.9" font-size="15.5" textLength="15.9" lengthAdjust="spacingAndGlyphs" font-family="DejaVu Sans, sans-serif" stroke="#fff" stroke-width="0.7">★</text>
<text x="297.9" y="1121.6" font-size="15.5" textLength="31.1" lengthAdjust="spacingAndGlyphs" font-family="DejaVu Sans, sans-serif" stroke="#fff" stroke-width="0.7">★★</text>
<text x="342.4" y="1106.2" font-size="15.5" textLength="31.1" lengthAdjust="spacingAndGlyphs" font-family="DejaVu Sans, sans-serif" stroke="#fff" stroke-width="0.7">★★</text>
<text x="376.9" y="1077.5" font-size="15.5" textLength="46.3" lengthAdjust="spacingAndGlyphs" font-family="DejaVu Sans, sans-serif" stroke="#fff" stroke-width="0.7">★★★</text>
<text x="425.2" y="1063.6" font-size="15.5" textLength="46.3" lengthAdjust="spacingAndGlyphs" font-family="DejaVu Sans, sans-serif" stroke="#fff" stroke-width="0.7">★★★</text>
<text x="476.4" y="1054.8" font-size="15.5" textLength="31.1" lengthAdjust="spacingAndGlyphs" font-family="DejaVu Sans, sans-serif" stroke="#fff" stroke-width="0.7">★★</text>
<path d="M132.0 1046.7H161.0" stroke="#e02525" stroke-width="2.6"/>
<circle cx="146.5" cy="1046.7" r="5.8" fill="#e02525"/>
<text x="174.2" y="1055.4" font-size="24" class="k2" textLength="76.5" lengthAdjust="spacingAndGlyphs">hM<tspan font-size="15" dy="8">3</tspan><tspan dy="-8">Dq</tspan></text>
<path d="M132.0 1077.4H161.0" stroke="#3845a8" stroke-width="2.6"/>
<rect x="140.5" y="1071.8" width="12" height="11.2" fill="#3845a8"/>
<text x="174.2" y="1083.8" font-size="24" class="k2" textLength="92.5" lengthAdjust="spacingAndGlyphs">mCherry</text>
<path d="M639.5 1283.5H1051.7M645.5 1284.5V1012.5" stroke="#000" stroke-width="2.6" fill="none"/>
<path d="M639.0 1283.5H645.5M639.0 1193.6H645.5M639.0 1103.6H645.5M639.0 1013.7H645.5M669.0 1283.5V1291.5M714.0 1283.5V1291.5M758.9 1283.5V1291.5M803.9 1283.5V1291.5M848.8 1283.5V1291.5M893.8 1283.5V1291.5M938.8 1283.5V1291.5M983.7 1283.5V1291.5M1028.7 1283.5V1291.5" stroke="#000" stroke-width="2.6" fill="none"/>
<text x="627.0" y="1291.2" font-size="28" class="k" text-anchor="end" textLength="40.5" lengthAdjust="spacingAndGlyphs">0.0</text>
<text x="627.0" y="1201.3" font-size="28" class="k" text-anchor="end" textLength="40.5" lengthAdjust="spacingAndGlyphs">0.5</text>
<text x="627.0" y="1111.3" font-size="28" class="k" text-anchor="end" textLength="40.5" lengthAdjust="spacingAndGlyphs">1.0</text>
<text x="627.0" y="1021.4" font-size="28" class="k" text-anchor="end" textLength="40.5" lengthAdjust="spacingAndGlyphs">1.5</text>
<text x="0.0" y="0.0" font-size="28" class="k" text-anchor="end" transform="translate(679.5 1313.5) rotate(-45)">0</text>
<text x="0.0" y="0.0" font-size="28" class="k" text-anchor="end" transform="translate(724.5 1313.5) rotate(-45)">15</text>
<text x="0.0" y="0.0" font-size="28" class="k" text-anchor="end" transform="translate(769.4 1313.5) rotate(-45)">30</text>
<text x="0.0" y="0.0" font-size="28" class="k" text-anchor="end" transform="translate(814.4 1313.5) rotate(-45)">45</text>
<text x="0.0" y="0.0" font-size="28" class="k" text-anchor="end" transform="translate(859.3 1313.5) rotate(-45)">60</text>
<text x="0.0" y="0.0" font-size="28" class="k" text-anchor="end" transform="translate(904.3 1313.5) rotate(-45)">75</text>
<text x="0.0" y="0.0" font-size="28" class="k" text-anchor="end" transform="translate(949.3 1313.5) rotate(-45)">90</text>
<text x="0.0" y="0.0" font-size="28" class="k" text-anchor="end" transform="translate(994.2 1313.5) rotate(-45)">105</text>
<text x="0.0" y="0.0" font-size="28" class="k" text-anchor="end" transform="translate(1039.2 1313.5) rotate(-45)">120</text>
<text x="777.2" y="1385.0" font-size="28" class="k" textLength="137.3" lengthAdjust="spacingAndGlyphs">Time (min)</text>
<text x="0.0" y="0.0" font-size="28" class="k" text-anchor="middle" textLength="136.0" lengthAdjust="spacingAndGlyphs" transform="translate(566.0 1145.3) rotate(-90)">Water (ml)</text>
<path d="M669.0 1283.5 L714.0 1263.2 L758.9 1244.8 L803.9 1227.0 L848.8 1227.0 L893.8 1214.0 L938.8 1209.2 L983.7 1207.6 L1028.7 1198.6" stroke="#e02525" stroke-width="2.6" fill="none"/>
<path d="M714.0 1257.5V1268.9M709.2 1257.5H718.8M709.2 1268.9H718.8M758.9 1231.8V1257.8M754.1 1231.8H763.7M754.1 1257.8H763.7M803.9 1212.5V1241.5M799.1 1212.5H808.7M799.1 1241.5H808.7M848.8 1212.5V1241.5M844.0 1212.5H853.6M844.0 1241.5H853.6M893.8 1194.6V1233.4M889.0 1194.6H898.6M889.0 1233.4H898.6M938.8 1189.8V1228.6M934.0 1189.8H943.6M934.0 1228.6H943.6M983.7 1187.1V1228.1M978.9 1187.1H988.5M978.9 1228.1H988.5M1028.7 1178.1V1219.1M1023.9 1178.1H1033.5M1023.9 1219.1H1033.5" stroke="#e02525" stroke-width="2.8" fill="none"/>
<circle cx="669.0" cy="1283.5" r="5.6" fill="#e02525"/><circle cx="714.0" cy="1263.2" r="5.6" fill="#e02525"/><circle cx="758.9" cy="1244.8" r="5.6" fill="#e02525"/><circle cx="803.9" cy="1227.0" r="5.6" fill="#e02525"/><circle cx="848.8" cy="1227.0" r="5.6" fill="#e02525"/><circle cx="893.8" cy="1214.0" r="5.6" fill="#e02525"/><circle cx="938.8" cy="1209.2" r="5.6" fill="#e02525"/><circle cx="983.7" cy="1207.6" r="5.6" fill="#e02525"/><circle cx="1028.7" cy="1198.6" r="5.6" fill="#e02525"/>
<path d="M669.0 1283.5 L714.0 1247.0 L758.9 1210.0 L803.9 1167.9 L848.8 1147.8 L893.8 1132.3 L938.8 1103.9 L983.7 1090.3 L1028.7 1083.8" stroke="#3845a8" stroke-width="2.6" fill="none"/>
<path d="M714.0 1239.0V1255.0M709.2 1239.0H718.8M709.2 1255.0H718.8M758.9 1202.0V1218.0M754.1 1202.0H763.7M754.1 1218.0H763.7M803.9 1157.9V1177.9M799.1 1157.9H808.7M799.1 1177.9H808.7M848.8 1136.0V1159.6M844.0 1136.0H853.6M844.0 1159.6H853.6M893.8 1121.0V1143.6M889.0 1121.0H898.6M889.0 1143.6H898.6M938.8 1093.2V1114.6M934.0 1093.2H943.6M934.0 1114.6H943.6M983.7 1077.5V1103.1M978.9 1077.5H988.5M978.9 1103.1H988.5M1028.7 1072.2V1095.4M1023.9 1072.2H1033.5M1023.9 1095.4H1033.5" stroke="#3845a8" stroke-width="2.8" fill="none"/>
<rect x="663.2" y="1277.5" width="11.6" height="12" fill="#3845a8"/><rect x="708.2" y="1241.0" width="11.6" height="12" fill="#3845a8"/><rect x="753.1" y="1204.0" width="11.6" height="12" fill="#3845a8"/><rect x="798.1" y="1161.9" width="11.6" height="12" fill="#3845a8"/><rect x="843.0" y="1141.8" width="11.6" height="12" fill="#3845a8"/><rect x="888.0" y="1126.3" width="11.6" height="12" fill="#3845a8"/><rect x="933.0" y="1097.9" width="11.6" height="12" fill="#3845a8"/><rect x="977.9" y="1084.3" width="11.6" height="12" fill="#3845a8"/><rect x="1022.9" y="1077.8" width="11.6" height="12" fill="#3845a8"/>
<text x="795.0" y="1140.5" font-size="15.5" textLength="15.9" lengthAdjust="spacingAndGlyphs" font-family="DejaVu Sans, sans-serif" stroke="#fff" stroke-width="0.7">★</text>
<text x="827.9" y="1121.6" font-size="15.5" textLength="46.3" lengthAdjust="spacingAndGlyphs" font-family="DejaVu Sans, sans-serif" stroke="#fff" stroke-width="0.7">★★★</text>
<text x="876.9" y="1106.2" font-size="15.5" textLength="46.3" lengthAdjust="spacingAndGlyphs" font-family="DejaVu Sans, sans-serif" stroke="#fff" stroke-width="0.7">★★★</text>
<text x="905.2" y="1076.6" font-size="15.5" textLength="61.5" lengthAdjust="spacingAndGlyphs" font-family="DejaVu Sans, sans-serif" stroke="#fff" stroke-width="0.7">★★★★</text>
<text x="950.8" y="1059.6" font-size="15.5" textLength="61.5" lengthAdjust="spacingAndGlyphs" font-family="DejaVu Sans, sans-serif" stroke="#fff" stroke-width="0.7">★★★★</text>
<text x="997.2" y="1041.9" font-size="15.5" textLength="61.5" lengthAdjust="spacingAndGlyphs" font-family="DejaVu Sans, sans-serif" stroke="#fff" stroke-width="0.7">★★★★</text>
<text x="366.0" y="507.4" font-size="28" class="k" textLength="325.0" lengthAdjust="spacingAndGlyphs">Baseline fluid intake (dark)</text>
<text x="1497.8" y="507.4" font-size="28" class="k" textLength="214.8" lengthAdjust="spacingAndGlyphs">24-h dehydration</text>
<text x="425.2" y="983.6" font-size="28" class="k" textLength="231.8" lengthAdjust="spacingAndGlyphs">48-h salt depletion</text>
<path d="M1212.0,176.0 C1210.8,174.3 1208.9,168.4 1205.0,166.0 C1201.1,163.6 1195.5,163.1 1188.8,161.8 C1182.1,160.5 1174.9,158.0 1165.0,158.2 C1155.1,158.4 1140.5,160.4 1129.4,163.0 C1118.3,165.6 1106.8,169.0 1098.5,173.6 C1090.2,178.2 1083.1,184.4 1079.5,190.3 C1075.9,196.2 1075.9,202.2 1076.7,209.3 C1077.5,216.4 1080.3,225.1 1084.3,233.0 C1088.3,240.9 1093.4,248.9 1100.9,256.8 C1108.4,264.7 1118.7,273.0 1129.4,280.5 C1140.1,288.0 1153.1,295.6 1165.0,301.9 C1176.9,308.2 1189.5,313.4 1200.6,318.5 C1211.7,323.6 1224.8,329.2 1231.5,332.8 C1238.2,336.4 1234.3,335.1 1241.0,339.9 C1247.7,344.6 1260.8,354.2 1271.9,361.3 C1283.0,368.4 1298.4,378.9 1307.5,382.7 C1316.6,386.4 1318.6,383.6 1326.5,383.8 C1334.4,384.0 1344.3,381.2 1355.0,383.8 C1365.7,386.4 1380.8,394.7 1390.7,399.3 C1400.6,403.9 1406.1,408.4 1414.4,411.2 C1422.7,414.0 1431.2,415.3 1440.5,415.9 C1449.8,416.5 1461.8,416.0 1470.0,414.7 C1478.2,413.4 1483.4,411.0 1490.0,408.0 C1496.6,405.0 1503.4,401.6 1509.4,396.6 C1515.4,391.6 1522.4,383.1 1526.0,378.0 C1529.6,372.9 1529.6,370.0 1530.8,365.7 C1532.0,361.4 1532.0,355.4 1533.2,352.0 C1534.4,348.6 1536.0,346.5 1538.0,345.0 C1540.0,343.5 1542.8,342.8 1545.0,343.0 C1547.2,343.2 1549.3,343.4 1551.0,346.0 C1552.7,348.6 1554.0,354.2 1555.0,358.5 C1556.0,362.8 1555.3,367.6 1557.0,372.0 C1558.7,376.4 1559.1,380.1 1565.0,385.0 C1570.9,389.9 1580.1,397.6 1592.6,401.7 C1605.1,405.8 1620.2,409.3 1640.0,409.6 C1659.8,409.9 1688.0,407.1 1711.4,403.7 C1734.8,400.3 1768.8,391.8 1780.3,389.4 L1788.6,318.0 C1789.3,314.0 1792.4,300.6 1792.7,293.8 C1793.0,287.0 1791.6,282.2 1790.5,277.2 C1789.4,272.2 1788.0,267.1 1786.0,263.6 C1784.0,260.1 1779.9,259.9 1778.4,256.1 C1776.9,252.3 1777.9,246.0 1776.9,240.9 C1775.9,235.8 1773.6,230.8 1772.3,225.8 C1771.0,220.8 1771.0,215.5 1769.3,210.7 C1767.5,205.9 1764.1,200.1 1761.8,197.1 C1759.5,194.1 1758.2,195.6 1755.7,192.6 C1753.2,189.6 1750.4,183.8 1746.6,179.0 C1742.8,174.2 1738.3,168.4 1733.0,163.8 C1727.7,159.2 1720.4,154.0 1714.9,151.7 C1709.4,149.4 1702.8,150.9 1699.8,150.2 C1696.8,149.4 1698.0,149.2 1696.7,147.2 C1695.4,145.2 1695.2,140.4 1692.2,138.1 C1689.2,135.8 1683.4,134.2 1678.6,133.6 C1673.8,133.0 1668.0,133.4 1663.5,134.4 C1659.0,135.4 1657.5,137.1 1651.4,139.7 C1645.4,142.3 1632.4,147.1 1627.2,150.2 C1622.0,153.2 1621.5,157.7 1620.0,158.0 C1618.5,158.3 1619.4,153.8 1617.9,151.8 C1616.4,149.8 1615.0,147.5 1611.0,145.8 C1607.0,144.1 1599.5,142.1 1593.7,141.5 C1587.9,140.9 1580.7,141.9 1576.4,142.3 C1572.1,142.7 1568.9,145.0 1568.0,144.0 C1567.1,143.0 1571.8,139.3 1571.2,136.3 C1570.6,133.3 1569.2,129.4 1564.3,125.9 C1559.4,122.4 1554.3,117.7 1541.9,115.5 C1529.5,113.3 1507.3,113.0 1490.0,113.0 C1472.7,113.0 1458.2,113.9 1438.0,115.5 C1417.8,117.1 1392.0,119.3 1369.0,122.5 C1346.0,125.7 1318.2,131.2 1300.0,134.6 C1281.8,138.0 1272.6,139.5 1260.0,142.8 C1247.4,146.1 1232.3,150.7 1224.4,154.6 C1216.5,158.5 1214.6,162.9 1212.5,166.5 C1210.4,170.1 1212.1,174.4 1212.0,176.0 Z" fill="#fdf4ef"/>
<path d="M1647.0,268.0 C1647.5,268.8 1648.4,269.6 1649.9,272.7 C1651.4,275.8 1651.6,284.5 1655.9,286.3 C1660.2,288.1 1668.5,283.3 1675.6,283.3 C1682.7,283.3 1691.2,283.8 1698.3,286.3 C1705.3,288.8 1711.6,296.9 1717.9,298.4 C1724.2,299.9 1730.5,294.9 1736.1,295.4 C1741.6,295.9 1742.4,297.6 1751.2,301.4 C1760.0,305.2 1783.0,317.7 1789.0,318.0 C1795.0,318.3 1788.3,305.3 1787.0,303.0 C1785.7,300.7 1784.9,304.9 1781.4,304.4 C1778.0,303.9 1771.3,301.7 1766.3,299.9 C1761.3,298.1 1756.2,295.3 1751.2,293.8 C1746.2,292.3 1739.9,292.1 1736.1,290.8 C1732.3,289.6 1731.0,289.6 1728.5,286.3 C1726.0,283.0 1723.2,275.0 1720.9,271.2 C1718.6,267.4 1716.4,265.4 1714.9,263.6 C1713.4,261.8 1711.7,259.3 1711.9,260.6 C1712.2,261.9 1716.2,268.2 1716.4,271.2 C1716.7,274.2 1715.2,277.2 1713.4,278.7 C1711.6,280.2 1708.8,280.7 1705.8,280.2 C1702.8,279.7 1698.0,278.2 1695.2,275.7 C1692.4,273.2 1690.5,267.6 1689.2,265.1 C1688.0,262.6 1690.9,261.1 1687.7,260.6 C1684.5,260.1 1675.5,261.8 1670.0,262.0 C1664.5,262.2 1658.8,261.0 1655.0,262.0 C1651.2,263.0 1648.3,267.0 1647.0,268.0 C1645.7,269.0 1646.5,267.2 1647.0,268.0 Z" fill="#fff"/>
<path d="M1701.9,235.9 C1702.9,234.1 1705.0,234.0 1707.7,232.3 C1710.3,230.6 1714.6,226.5 1717.8,225.8 C1720.9,225.1 1723.8,228.2 1726.4,228.0 C1729.0,227.7 1732.2,223.9 1733.6,224.4 C1735.0,224.8 1735.8,229.2 1735.0,230.8 C1734.3,232.5 1731.0,232.9 1729.3,234.4 C1727.6,236.0 1726.0,237.8 1725.0,240.2 C1723.9,242.6 1724.5,246.8 1722.8,248.8 C1721.1,250.9 1717.4,252.2 1714.9,252.4 C1712.4,252.7 1709.6,249.8 1707.7,250.3 C1705.8,250.8 1705.5,253.8 1703.4,255.3 C1701.2,256.9 1697.4,258.9 1694.7,259.6 C1692.1,260.4 1688.2,260.5 1687.5,259.6 C1686.8,258.8 1688.7,256.4 1690.4,254.6 C1692.1,252.8 1695.7,250.8 1697.6,248.8 C1699.5,246.9 1701.2,245.2 1701.9,243.1 C1702.6,240.9 1701.0,237.7 1701.9,235.9 Z" fill="#fff"/>
<path d="M1650.8,161.0 C1651.6,160.6 1655.5,170.4 1655.8,172.5 C1656.2,174.7 1653.8,173.6 1653.0,174.0 C1652.1,174.3 1651.2,176.8 1650.8,174.7 C1650.4,172.5 1650.0,161.4 1650.8,161.0 Z" fill="#fff"/>
<path d="M1212.0,176.0 C1210.8,174.3 1208.9,168.4 1205.0,166.0 C1201.1,163.6 1195.5,163.1 1188.8,161.8 C1182.1,160.5 1174.9,158.0 1165.0,158.2 C1155.1,158.4 1140.5,160.4 1129.4,163.0 C1118.3,165.6 1106.8,169.0 1098.5,173.6 C1090.2,178.2 1083.1,184.4 1079.5,190.3 C1075.9,196.2 1075.9,202.2 1076.7,209.3 C1077.5,216.4 1080.3,225.1 1084.3,233.0 C1088.3,240.9 1093.4,248.9 1100.9,256.8 C1108.4,264.7 1118.7,273.0 1129.4,280.5 C1140.1,288.0 1153.1,295.6 1165.0,301.9 C1176.9,308.2 1189.5,313.4 1200.6,318.5 C1211.7,323.6 1224.8,329.2 1231.5,332.8 C1238.2,336.4 1234.3,335.1 1241.0,339.9 C1247.7,344.6 1260.8,354.2 1271.9,361.3 C1283.0,368.4 1298.4,378.9 1307.5,382.7 C1316.6,386.4 1318.6,383.6 1326.5,383.8 C1334.4,384.0 1344.3,381.2 1355.0,383.8 C1365.7,386.4 1380.8,394.7 1390.7,399.3 C1400.6,403.9 1406.1,408.4 1414.4,411.2 C1422.7,414.0 1431.2,415.3 1440.5,415.9 C1449.8,416.5 1461.8,416.0 1470.0,414.7 C1478.2,413.4 1483.4,411.0 1490.0,408.0 C1496.6,405.0 1503.4,401.6 1509.4,396.6 C1515.4,391.6 1522.4,383.1 1526.0,378.0 C1529.6,372.9 1529.6,370.0 1530.8,365.7 C1532.0,361.4 1532.0,355.4 1533.2,352.0 C1534.4,348.6 1536.0,346.5 1538.0,345.0 C1540.0,343.5 1542.8,342.8 1545.0,343.0 C1547.2,343.2 1549.3,343.4 1551.0,346.0 C1552.7,348.6 1554.0,354.2 1555.0,358.5 C1556.0,362.8 1555.3,367.6 1557.0,372.0 C1558.7,376.4 1559.1,380.1 1565.0,385.0 C1570.9,389.9 1580.1,397.6 1592.6,401.7 C1605.1,405.8 1620.2,409.3 1640.0,409.6 C1659.8,409.9 1688.0,407.1 1711.4,403.7 C1734.8,400.3 1768.8,391.8 1780.3,389.4 M1788.6,318.0 C1789.3,314.0 1792.4,300.6 1792.7,293.8 C1793.0,287.0 1791.6,282.2 1790.5,277.2 C1789.4,272.2 1788.0,267.1 1786.0,263.6 C1784.0,260.1 1779.9,259.9 1778.4,256.1 C1776.9,252.3 1777.9,246.0 1776.9,240.9 C1775.9,235.8 1773.6,230.8 1772.3,225.8 C1771.0,220.8 1771.0,215.5 1769.3,210.7 C1767.5,205.9 1764.1,200.1 1761.8,197.1 C1759.5,194.1 1758.2,195.6 1755.7,192.6 C1753.2,189.6 1750.4,183.8 1746.6,179.0 C1742.8,174.2 1738.3,168.4 1733.0,163.8 C1727.7,159.2 1720.4,154.0 1714.9,151.7 C1709.4,149.4 1702.8,150.9 1699.8,150.2 C1696.8,149.4 1698.0,149.2 1696.7,147.2 C1695.4,145.2 1695.2,140.4 1692.2,138.1 C1689.2,135.8 1683.4,134.2 1678.6,133.6 C1673.8,133.0 1668.0,133.4 1663.5,134.4 C1659.0,135.4 1657.5,137.1 1651.4,139.7 C1645.4,142.3 1632.4,147.1 1627.2,150.2 C1622.0,153.2 1621.5,157.7 1620.0,158.0 C1618.5,158.3 1619.4,153.8 1617.9,151.8 C1616.4,149.8 1615.0,147.5 1611.0,145.8 C1607.0,144.1 1599.5,142.1 1593.7,141.5 C1587.9,140.9 1580.7,141.9 1576.4,142.3 C1572.1,142.7 1568.9,145.0 1568.0,144.0 C1567.1,143.0 1571.8,139.3 1571.2,136.3 C1570.6,133.3 1569.2,129.4 1564.3,125.9 C1559.4,122.4 1554.3,117.7 1541.9,115.5 C1529.5,113.3 1507.3,113.0 1490.0,113.0 C1472.7,113.0 1458.2,113.9 1438.0,115.5 C1417.8,117.1 1392.0,119.3 1369.0,122.5 C1346.0,125.7 1318.2,131.2 1300.0,134.6 C1281.8,138.0 1272.6,139.5 1260.0,142.8 C1247.4,146.1 1232.3,150.7 1224.4,154.6 C1216.5,158.5 1214.6,162.9 1212.5,166.5 C1210.4,170.1 1212.1,174.4 1212.0,176.0 M1212.0,176.0 C1212.9,180.0 1214.8,191.9 1217.3,199.8 C1219.8,207.7 1224.0,216.6 1226.8,223.5 C1229.6,230.4 1232.7,238.3 1233.9,241.3 M1490.0,170.8 C1485.5,170.3 1481.4,169.1 1472.8,170.0 C1464.2,170.9 1449.7,172.7 1438.2,176.0 C1426.7,179.3 1415.2,185.5 1403.7,189.8 C1392.2,194.1 1380.6,197.3 1369.1,201.9 C1357.6,206.5 1343.5,212.6 1334.6,217.5 C1325.7,222.4 1319.1,226.4 1315.5,231.3 C1311.9,236.2 1312.7,243.3 1313.0,246.9 C1313.3,250.5 1315.1,252.3 1317.3,252.9 C1319.5,253.5 1320.2,253.6 1325.9,250.3 C1331.7,247.0 1341.7,239.3 1351.8,233.0 C1361.9,226.7 1373.7,218.9 1386.4,212.3 C1399.1,205.7 1416.3,198.2 1427.8,193.3 C1439.3,188.4 1448.0,184.6 1455.5,182.9 C1463.0,181.2 1467.0,182.0 1472.8,182.9 C1478.5,183.8 1486.0,186.7 1490.0,188.1 C1494.0,189.5 1494.4,191.9 1497.0,191.6 C1499.6,191.3 1503.9,188.4 1505.6,186.4 C1507.3,184.4 1508.2,181.7 1507.3,179.5 C1506.4,177.3 1502.9,174.4 1500.0,173.0 C1497.1,171.6 1494.5,171.3 1490.0,170.8 Z M1479.0,185.0 C1480.8,185.8 1487.0,188.4 1490.0,189.5 C1493.0,190.6 1495.8,191.2 1497.0,191.6 M1427.8,193.3 C1427.5,193.9 1426.7,195.1 1426.1,196.8 C1425.5,198.5 1423.5,200.8 1424.4,203.7 C1425.3,206.6 1429.0,211.6 1431.3,214.0 C1433.6,216.4 1439.1,217.4 1438.2,218.3 C1437.3,219.2 1428.4,218.5 1426.1,219.2 C1423.8,219.9 1423.8,221.3 1424.4,222.7 C1425.0,224.1 1425.8,227.5 1429.6,227.8 C1433.3,228.1 1438.3,226.1 1446.9,224.4 C1455.5,222.7 1474.2,218.4 1481.4,217.5 C1488.6,216.6 1487.1,218.9 1490.0,219.2 C1492.9,219.5 1494.4,221.2 1498.7,219.2 C1503.0,217.2 1511.7,211.4 1516.0,207.1 C1520.3,202.8 1521.7,197.9 1524.6,193.3 C1527.5,188.7 1529.8,184.1 1533.2,179.5 C1536.7,174.9 1539.5,171.3 1545.3,165.6 C1551.1,159.8 1564.0,148.4 1567.8,145.0 M1459.0,199.3 C1461.3,200.3 1468.8,203.2 1472.8,205.4 C1476.8,207.6 1481.1,210.0 1483.1,212.3 C1485.1,214.6 1484.6,218.0 1484.9,219.2 M1483.1,213.2 C1484.2,213.3 1486.0,215.3 1490.0,214.0 C1494.0,212.7 1501.8,208.8 1507.3,205.4 C1512.8,202.0 1520.3,195.3 1522.9,193.3 M1401.9,203.7 C1401.6,205.1 1401.6,209.4 1400.2,212.3 C1398.8,215.2 1395.0,216.7 1393.3,221.0 C1391.6,225.3 1390.7,232.4 1389.8,238.2 C1388.9,243.9 1388.1,251.3 1388.1,255.5 C1388.1,259.7 1388.6,262.0 1389.8,263.3 C1391.0,264.6 1394.1,263.3 1395.0,263.3 M1426.1,193.3 C1424.7,195.6 1420.7,201.9 1417.5,207.1 C1414.3,212.3 1410.3,217.8 1407.1,224.4 C1403.9,231.0 1400.4,240.9 1398.5,246.9 C1396.6,252.9 1396.3,258.4 1395.9,260.7 M1445.1,226.1 C1441.1,229.0 1427.3,237.1 1421.0,243.4 C1414.7,249.7 1410.6,257.8 1407.1,264.1 C1403.6,270.4 1402.3,277.9 1400.2,281.4 C1398.1,284.9 1395.5,285.2 1394.2,284.9 C1392.9,284.6 1392.0,282.9 1392.4,279.7 C1392.8,276.5 1396.1,268.2 1396.8,265.9 M1433.0,247.7 C1436.8,248.4 1448.9,250.7 1455.5,252.0 C1462.1,253.3 1467.6,253.8 1472.8,255.5 C1478.0,257.2 1482.9,258.9 1486.6,262.4 C1490.3,265.8 1491.8,271.6 1495.2,276.2 C1498.7,280.8 1503.5,286.2 1507.3,290.0 C1511.0,293.8 1514.5,293.5 1517.7,298.7 C1520.9,303.9 1525.4,319.7 1526.3,321.1 C1527.2,322.5 1526.1,313.9 1522.9,307.3 C1519.7,300.7 1511.9,290.0 1507.3,281.4 C1502.7,272.8 1497.8,261.8 1495.2,255.5 C1492.6,249.2 1491.8,246.6 1491.8,243.4 C1491.8,240.2 1493.5,237.8 1495.2,236.5 C1496.9,235.2 1500.9,235.8 1502.1,235.6 M1535.0,234.8 C1539.0,231.3 1549.4,219.5 1559.2,214.0 C1569.0,208.5 1583.1,207.8 1593.7,202.0 C1604.3,196.2 1617.2,187.9 1623.0,179.5 C1628.8,171.1 1627.4,156.4 1628.3,151.8 M1536.7,231.3 C1543.3,227.3 1562.3,215.2 1576.4,207.1 C1590.5,199.0 1613.0,189.9 1621.3,183.0 C1629.6,176.1 1625.6,168.6 1626.5,165.7 M1522.9,194.2 C1524.9,191.4 1532.7,181.3 1535.0,177.7 C1537.3,174.1 1534.2,175.9 1536.7,172.6 C1539.2,169.3 1544.8,162.6 1550.0,158.0 C1555.2,153.4 1564.8,147.2 1567.8,145.0 M1670.2,148.0 C1671.2,148.4 1674.1,148.9 1676.0,150.2 C1677.9,151.5 1679.6,151.0 1681.8,156.0 C1683.9,160.9 1686.8,172.4 1689.0,179.7 C1691.1,187.0 1693.2,193.4 1694.7,199.9 C1696.3,206.4 1697.7,215.5 1698.3,218.6 M1670.2,148.0 C1671.4,150.4 1675.3,156.2 1677.4,162.4 C1679.6,168.7 1681.9,175.9 1683.2,185.5 C1684.5,195.1 1685.0,214.3 1685.4,220.0 M1650.8,174.7 C1652.6,174.3 1657.9,172.2 1661.6,172.5 C1665.3,172.9 1670.0,174.0 1673.1,176.8 C1676.2,179.7 1678.4,185.0 1680.3,189.8 C1682.2,194.6 1683.7,200.6 1684.6,205.6 C1685.6,210.7 1686.3,216.0 1686.1,220.0 C1685.8,224.1 1684.9,227.7 1683.2,230.1 C1681.5,232.5 1678.9,233.4 1676.0,234.4 C1673.1,235.5 1669.5,236.2 1665.9,236.6 C1662.3,237.0 1656.3,236.6 1654.4,236.6 M1663.8,195.6 C1664.6,198.2 1667.4,205.9 1668.8,211.4 C1670.2,216.9 1671.8,225.8 1672.4,228.7 M1663.8,195.6 C1664.1,196.5 1664.7,197.5 1665.9,201.3 C1667.1,205.2 1670.1,215.7 1671.0,218.6 M1697.6,150.9 C1697.8,155.0 1698.6,167.7 1699.0,175.4 C1699.5,183.1 1699.8,190.5 1700.5,197.0 C1701.2,203.5 1701.9,209.7 1703.4,214.3 C1704.8,218.8 1707.2,222.3 1709.1,224.4 C1711.0,226.4 1712.2,226.8 1714.9,226.5 C1717.5,226.3 1722.3,225.4 1725.0,222.9 C1727.6,220.4 1729.3,216.2 1730.7,211.4 C1732.2,206.6 1733.4,199.4 1733.6,194.1 C1733.8,188.8 1733.4,183.6 1732.2,179.7 C1731.0,175.9 1728.8,173.7 1726.4,171.1 C1724.0,168.4 1719.2,165.1 1717.8,163.9 M1716.3,162.4 C1718.0,163.4 1723.3,165.6 1726.4,168.2 C1729.5,170.8 1732.9,174.0 1735.0,178.3 C1737.2,182.6 1738.6,189.1 1739.4,194.1 C1740.1,199.2 1738.2,205.6 1739.4,208.5 C1740.6,211.4 1743.4,210.9 1746.6,211.4 C1749.7,211.9 1756.2,211.4 1758.1,211.4 M1716.3,162.4 C1718.7,164.4 1727.1,170.1 1730.7,174.0 C1734.3,177.8 1736.2,180.9 1737.9,185.5 C1739.6,190.0 1740.3,198.7 1740.8,201.3 M1733.6,224.4 C1733.7,222.9 1733.1,217.9 1734.3,215.7 C1735.5,213.6 1738.3,212.0 1740.8,211.4 C1743.3,210.8 1748.0,212.0 1749.4,212.1 M1735.0,231.6 C1736.5,232.3 1740.8,234.7 1743.7,235.9 C1746.6,237.1 1749.4,238.0 1752.3,238.8 C1755.2,239.5 1760.7,240.6 1761.0,240.2 C1761.2,239.8 1757.1,237.9 1753.8,236.6 C1750.4,235.3 1744.4,232.9 1740.8,232.3 C1737.2,231.7 1733.6,232.9 1732.2,233.0 M1732.2,233.0 C1731.0,234.0 1726.4,236.4 1725.0,238.8 C1723.5,241.2 1723.3,244.5 1723.5,247.4 C1723.8,250.3 1724.0,252.9 1726.4,256.0 C1728.8,259.2 1733.1,263.0 1737.9,266.1 C1742.7,269.2 1749.4,272.5 1755.2,274.8 C1761.0,277.0 1771.5,279.8 1772.5,279.8 C1773.4,279.8 1765.8,277.5 1761.0,274.8 C1756.2,272.0 1748.5,267.3 1743.7,263.2 C1738.9,259.2 1734.6,254.1 1732.2,250.3 C1729.8,246.4 1729.8,241.9 1729.3,240.2 M1644.3,258.9 C1646.5,259.6 1652.5,262.8 1657.3,263.2 C1662.1,263.7 1668.1,262.4 1673.1,261.8 C1678.2,261.2 1685.1,260.0 1687.5,259.6 M1673.1,261.8 C1673.1,259.6 1671.9,252.0 1673.1,248.8 C1674.3,245.7 1677.4,244.3 1680.3,243.1 C1683.2,241.9 1686.1,242.8 1690.4,241.6 C1694.7,240.4 1703.6,236.8 1706.2,235.9 M1657.3,241.6 C1659.0,242.1 1664.8,242.8 1667.4,244.5 C1669.9,246.2 1671.6,250.5 1672.4,251.7 M1687.5,259.6 C1688.2,261.4 1689.9,267.3 1691.8,270.4 C1693.8,273.6 1696.4,276.6 1699.0,278.4 C1701.7,280.2 1705.0,281.1 1707.7,281.2 C1710.3,281.4 1713.4,280.9 1714.9,279.1 C1716.3,277.3 1716.9,273.4 1716.3,270.4 C1715.7,267.4 1711.0,261.6 1711.3,261.1 C1711.5,260.6 1715.5,264.8 1717.8,267.6 C1720.0,270.3 1723.0,274.3 1725.0,277.6 C1726.9,281.0 1726.6,285.1 1729.3,287.7 C1731.9,290.4 1736.5,291.8 1740.8,293.5 C1745.1,295.2 1750.4,296.5 1755.2,297.8 C1760.0,299.1 1764.8,300.2 1769.6,301.4 C1774.4,302.6 1781.6,304.4 1784.0,305.0 M1647.0,268.0 C1647.5,268.8 1648.4,269.6 1649.9,272.7 C1651.4,275.8 1651.6,284.5 1655.9,286.3 C1660.2,288.1 1668.5,283.3 1675.6,283.3 C1682.7,283.3 1691.2,283.8 1698.3,286.3 C1705.3,288.8 1711.6,296.9 1717.9,298.4 C1724.2,299.9 1730.5,294.9 1736.1,295.4 C1741.6,295.9 1742.4,297.6 1751.2,301.4 C1760.0,305.2 1782.7,315.2 1789.0,318.0" fill="none" stroke="#e8782f" stroke-width="1.25" stroke-linecap="round" stroke-linejoin="round"/>
<path d="M1628.3,101.9 H1650.8 V237.3 H1662 L1639.4,260 L1616.4,237.3 H1628.3 Z" fill="#6b3997"/>
<circle cx="1640.1" cy="277.7" r="10.3" fill="#6b3997"/>
<text x="1561.7" y="286.1" font-size="28" class="k" textLength="50.5" lengthAdjust="spacingAndGlyphs">PBN</text>
<circle cx="1100.9" cy="363.7" r="10.6" fill="#6b3997"/>
<text x="1119.5" y="373.2" font-size="28" class="k" textLength="69.5" lengthAdjust="spacingAndGlyphs">CGRP</text>
<text x="1119.5" y="407.6" font-size="28" class="k" textLength="96.0" lengthAdjust="spacingAndGlyphs">neurons</text>
<text x="1129.0" y="150.4" font-size="28" class="k" textLength="62.0" lengthAdjust="spacingAndGlyphs" font-style="italic">Calca</text>
<text x="1193.5" y="138.0" font-size="18.5" class="k" textLength="26.0" lengthAdjust="spacingAndGlyphs" font-style="italic">Cre</text>
<text x="1360.0" y="38.9" font-size="27.5" class="k" textLength="342.5" lengthAdjust="spacingAndGlyphs">AAV1-DIO-hM<tspan font-size="18" dy="7">3</tspan><tspan dy="-7">Dq:mCherry</tspan></text>
<text x="1203.5" y="83.5" font-size="24" class="k" textLength="19.0" lengthAdjust="spacingAndGlyphs">5′</text>
<text x="1712.0" y="83.5" font-size="24" class="k" textLength="17.5" lengthAdjust="spacingAndGlyphs">3′</text>
<rect x="1224.5" y="55.3" width="53.7" height="36.7" fill="#fff" stroke="#333" stroke-width="1.2"/>
<text x="1234.0" y="82.0" font-size="25.5" class="k" textLength="35.0" lengthAdjust="spacingAndGlyphs">Syn</text>
<path d="M1278.2,55.8 L1302.8,73.7 L1278.2,91.7 Z" fill="#bdbdbd" stroke="#333" stroke-width="1"/>
<path d="M1304,55.8 L1330.5,73.7 L1304,91.7 Z" fill="#000"/>
<rect x="1331.3" y="55.3" width="95.4" height="36.7" fill="#e03030" stroke="#222" stroke-width="1"/>
<rect x="1426.7" y="55.3" width="95.6" height="36.7" fill="#2e2e78" stroke="#222" stroke-width="1"/>
<text x="0.0" y="0.0" font-size="24" textLength="84.0" lengthAdjust="spacingAndGlyphs" fill="#fff" transform="translate(1419.7,68.5) rotate(180)">mcherry</text>
<text x="0.0" y="0.0" font-size="25" textLength="68.0" lengthAdjust="spacingAndGlyphs" fill="#fff" transform="translate(1506.5,71) rotate(180)">hM<tspan font-size="16" dy="7">3</tspan><tspan dy="-7">D</tspan><tspan font-size="16" dy="7">q</tspan></text>
<path d="M1548.7,55.8 L1523,73.7 L1548.7,91.7 Z" fill="#bdbdbd" stroke="#333" stroke-width="1"/>
<path d="M1576,55.8 L1550,73.7 L1576,91.7 Z" fill="#000"/>
<rect x="1576" y="55.8" width="127.5" height="36.2" fill="#fff" stroke="#333" stroke-width="1.2"/>
<path d="M1656.8,55.8 V92" stroke="#333" stroke-width="1.2"/>
<text x="1581.0" y="83.5" font-size="24" class="k" textLength="63.0" lengthAdjust="spacingAndGlyphs">WPRE</text>
<text x="1664.8" y="83.5" font-size="24" class="k" textLength="29.0" lengthAdjust="spacingAndGlyphs">pA</text>
<g stroke="#000" fill="none" stroke-linecap="butt"><path d="M1843,204.8 L1849.4,201.9" stroke-width="1.8"/><path d="M1846.5,203.4 L1850.5,212.8" stroke-width="1.6"/><path d="M1848.3,214.6 L1854.3,211.8 L1858.2,219.5 L1852.2,222.3 Z" stroke-width="1.2" fill="#fff"/><path d="M1846.2,227.9 L1867,218.6" stroke-width="4.8"/><path d="M1855.7,228.4 L1898.9,303.8 M1863.2,224.4 L1905.8,300.4" stroke-width="1.4"/><path d="M1916.8,326.9 L1908.7,311.3" stroke-width="1.4"/></g>
<path d="M1899.2,303.8 L1906.2,300.4 L1908.9,312 Z" fill="#000"/>
<text x="1885.0" y="232.4" font-size="28" class="k" textLength="111.5" lengthAdjust="spacingAndGlyphs">+ CNO ip</text>
<defs>
<filter color-interpolation-filters="sRGB" id="b1" x="-20%" y="-20%" width="140%" height="140%"><feGaussianBlur stdDeviation="1"/></filter>
<filter color-interpolation-filters="sRGB" id="b2" x="-20%" y="-20%" width="140%" height="140%"><feGaussianBlur stdDeviation="2.5"/></filter>
<filter color-interpolation-filters="sRGB" id="b4" x="-30%" y="-30%" width="160%" height="160%"><feGaussianBlur stdDeviation="5"/></filter>
<filter color-interpolation-filters="sRGB" id="b8" x="-50%" y="-50%" width="200%" height="200%"><feGaussianBlur stdDeviation="10"/></filter>
<filter color-interpolation-filters="sRGB" id="b16" x="-50%" y="-50%" width="200%" height="200%"><feGaussianBlur stdDeviation="18"/></filter>
<filter color-interpolation-filters="sRGB" id="b0" x="-50%" y="-50%" width="200%" height="200%"><feGaussianBlur stdDeviation="0.6"/></filter>
<clipPath id="cpA"><rect width="318" height="320"/></clipPath>
<clipPath id="cpIn"><rect width="126" height="55"/></clipPath>
</defs>
<g transform="translate(26,104)" clip-path="url(#cpA)">
<rect width="318" height="320" fill="#120b13"/>
<path d="M0.0,0.0 L27.0,0.0 L45.0,15.0 L60.0,27.0 L81.5,40.0 L105.6,55.8 L120.7,66.4 L143.3,80.0 L160.0,88.0 L175.0,98.0 L188.0,111.6 L211.0,135.8 L230.0,158.0 L248.0,180.0 L262.0,200.0 L272.0,214.0 L284.0,225.0 L292.0,250.0 L305.0,290.0 L318.0,318.0 L318.0,320.0 L0.0,320.0 Z" fill="#110b13"/>
<path d="M0.0,40.0 C6.7,22.5 25.0,31.7 40.0,35.0 C55.0,38.3 71.7,50.0 90.0,60.0 C108.3,70.0 130.0,81.7 150.0,95.0 C170.0,108.3 195.0,124.2 210.0,140.0 C225.0,155.8 236.7,173.3 240.0,190.0 C243.3,206.7 241.7,233.3 230.0,240.0 C218.3,246.7 190.0,236.7 170.0,230.0 C150.0,223.3 130.0,211.7 110.0,200.0 C90.0,188.3 68.3,170.0 50.0,160.0 C31.7,150.0 8.3,160.0 0.0,140.0 C-8.3,120.0 -6.7,57.5 0.0,40.0 Z" fill="#170d19" filter="url(#b16)" opacity="0.8"/>
<path d="M106.0,0.0 L120.7,15.1 L143.3,40.7 L158.4,55.8 L166.0,75.4 L173.5,84.5 L196.0,98.0 L208.2,111.6 L226.3,135.8 L250.0,159.0 L268.6,175.0 L279.0,205.0 L279.0,205.0 L284.0,225.0 L292.0,250.0 L305.0,290.0 L318.0,318.0 L318.0,0.0 Z" fill="#0d090e"/>
<path d="M27.0,0.0 L45.0,15.0 L60.0,27.0 L81.5,40.0 L105.6,55.8 L120.7,66.4 L143.3,80.0 L160.0,88.0 L175.0,98.0 L188.0,111.6 L211.0,135.8 L230.0,158.0 L248.0,180.0 L262.0,200.0 L272.0,214.0 L279.0,205.0 L268.6,175.0 L250.0,159.0 L226.3,135.8 L208.2,111.6 L196.0,98.0 L173.5,84.5 L166.0,75.4 L158.4,55.8 L143.3,40.7 L120.7,15.1 L106.0,0.0 Z" fill="#050305" filter="url(#b4)"/>
<g fill="#b845bc" opacity="1.0" filter="url(#b0)"><ellipse cx="53.0" cy="37.6" rx="2.6" ry="6.0" transform="rotate(-60 53.0 37.6)"/><ellipse cx="15.0" cy="54.2" rx="1.8" ry="1.9" transform="rotate(0 15.0 54.2)"/><ellipse cx="67.3" cy="66.6" rx="2.4" ry="2.5" transform="rotate(0 67.3 66.6)"/><ellipse cx="19.8" cy="99.8" rx="1.8" ry="3.0" transform="rotate(-30 19.8 99.8)"/><ellipse cx="136.2" cy="70.1" rx="1.6" ry="5.1" transform="rotate(80 136.2 70.1)"/><ellipse cx="149.2" cy="75.6" rx="2.0" ry="6.8" transform="rotate(30 149.2 75.6)"/><circle cx="119.5" cy="104.1" r="1.6"/><circle cx="127.9" cy="105.3" r="1.6"/><circle cx="136.2" cy="105.3" r="1.6"/><ellipse cx="132.6" cy="112.4" rx="1.8" ry="2.0" transform="rotate(0 132.6 112.4)"/><ellipse cx="138.6" cy="114.8" rx="1.8" ry="1.9" transform="rotate(0 138.6 114.8)"/><ellipse cx="150.4" cy="107.7" rx="2.1" ry="2.5" transform="rotate(0 150.4 107.7)"/><ellipse cx="152.8" cy="112.4" rx="2.1" ry="2.5" transform="rotate(0 152.8 112.4)"/><ellipse cx="148.1" cy="117.2" rx="1.9" ry="2.0" transform="rotate(0 148.1 117.2)"/><ellipse cx="155.2" cy="119.5" rx="1.8" ry="1.9" transform="rotate(0 155.2 119.5)"/><ellipse cx="133.8" cy="124.3" rx="1.9" ry="2.0" transform="rotate(0 133.8 124.3)"/><ellipse cx="143.3" cy="124.3" rx="1.8" ry="1.9" transform="rotate(0 143.3 124.3)"/><circle cx="159.9" cy="125.5" r="1.6"/><ellipse cx="174.2" cy="122.4" rx="1.6" ry="4.2" transform="rotate(60 174.2 122.4)"/><ellipse cx="137.4" cy="136.7" rx="1.8" ry="8.5" transform="rotate(50 137.4 136.7)"/><ellipse cx="125.5" cy="146.9" rx="1.8" ry="1.9" transform="rotate(0 125.5 146.9)"/><circle cx="148.1" cy="138.6" r="1.6"/><circle cx="159.9" cy="138.6" r="1.6"/><circle cx="167.1" cy="136.2" r="1.6"/><ellipse cx="174.2" cy="138.6" rx="1.8" ry="1.9" transform="rotate(0 174.2 138.6)"/><circle cx="181.3" cy="137.4" r="1.6"/><circle cx="214.6" cy="152.8" r="1.6"/><ellipse cx="262.1" cy="165.9" rx="1.9" ry="2.0" transform="rotate(0 262.1 165.9)"/><ellipse cx="270.4" cy="168.2" rx="1.8" ry="1.9" transform="rotate(0 270.4 168.2)"/><circle cx="194.4" cy="167.1" r="1.6"/><circle cx="199.1" cy="183.7" r="1.6"/><circle cx="211.0" cy="182.5" r="1.6"/><circle cx="220.5" cy="189.6" r="1.6"/><circle cx="232.4" cy="193.2" r="1.6"/><ellipse cx="35.2" cy="159.5" rx="2.2" ry="2.4" transform="rotate(0 35.2 159.5)"/><circle cx="62.5" cy="139.7" r="1.6"/><circle cx="88.7" cy="144.5" r="1.6"/><ellipse cx="142.1" cy="170.6" rx="2.4" ry="2.5" transform="rotate(0 142.1 170.6)"/><ellipse cx="127.9" cy="182.5" rx="1.6" ry="2.5" transform="rotate(60 127.9 182.5)"/><circle cx="117.2" cy="184.9" r="1.4"/><circle cx="25.7" cy="192.0" r="1.4"/><circle cx="259.7" cy="230.0" r="1.6"/><circle cx="264.5" cy="237.1" r="1.6"/><circle cx="270.4" cy="249.0" r="1.6"/><ellipse cx="26.9" cy="239.5" rx="2.8" ry="2.1" transform="rotate(0 26.9 239.5)"/><circle cx="55.4" cy="256.2" r="1.6"/><circle cx="125.5" cy="285.9" r="1.6"/><circle cx="137.4" cy="298.9" r="1.6"/><circle cx="162.3" cy="298.9" r="1.6"/><ellipse cx="113.6" cy="304.9" rx="3.2" ry="2.5" transform="rotate(0 113.6 304.9)"/><circle cx="45.9" cy="310.8" r="1.6"/><ellipse cx="257.3" cy="312.0" rx="1.6" ry="4.2" transform="rotate(60 257.3 312.0)"/><circle cx="213.4" cy="315.6" r="1.4"/><circle cx="190.8" cy="98.2" r="1.3"/><circle cx="176.6" cy="150.4" r="1.3"/><circle cx="202.7" cy="205.1" r="1.3"/><circle cx="243.1" cy="205.1" r="1.3"/><circle cx="228.8" cy="221.7" r="1.3"/><circle cx="233.6" cy="252.6" r="1.3"/><circle cx="102.9" cy="205.1" r="1.3"/><circle cx="153.8" cy="109.5" r="1.3"/><circle cx="151.6" cy="136.6" r="1.3"/><circle cx="161.9" cy="125.5" r="1.3"/><circle cx="132.0" cy="113.1" r="1.3"/><circle cx="162.1" cy="129.2" r="1.3"/><circle cx="122.7" cy="117.9" r="1.3"/><circle cx="184.6" cy="122.4" r="1.3"/><circle cx="162.0" cy="134.2" r="1.3"/><circle cx="123.4" cy="117.1" r="1.3"/><circle cx="155.0" cy="126.0" r="1.3"/><circle cx="170.8" cy="127.0" r="1.3"/><circle cx="140.7" cy="116.6" r="1.3"/><circle cx="152.1" cy="121.8" r="1.3"/><circle cx="155.5" cy="130.2" r="1.3"/><circle cx="129.8" cy="124.0" r="1.3"/><circle cx="173.8" cy="126.8" r="1.3"/><circle cx="172.8" cy="116.2" r="1.3"/><circle cx="148.8" cy="98.5" r="1.3"/><circle cx="162.9" cy="124.2" r="1.3"/><circle cx="171.4" cy="126.3" r="1.3"/><circle cx="143.5" cy="116.9" r="1.3"/><circle cx="127.2" cy="123.9" r="1.3"/><circle cx="143.3" cy="116.4" r="1.3"/><circle cx="154.4" cy="116.7" r="1.3"/><circle cx="170.9" cy="95.5" r="1.3"/><circle cx="150.2" cy="93.8" r="1.3"/><circle cx="140.3" cy="116.6" r="1.3"/><circle cx="127.4" cy="120.8" r="1.3"/><circle cx="151.6" cy="108.2" r="1.3"/><circle cx="153.5" cy="117.1" r="1.3"/><circle cx="214.7" cy="184.2" r="1.2"/><circle cx="249.3" cy="207.1" r="1.2"/><circle cx="188.3" cy="175.4" r="1.2"/><circle cx="228.2" cy="183.0" r="1.2"/><circle cx="183.9" cy="127.4" r="1.2"/><circle cx="186.7" cy="151.3" r="1.2"/><circle cx="200.9" cy="180.2" r="1.2"/><circle cx="244.1" cy="212.3" r="1.2"/><circle cx="244.7" cy="200.3" r="1.2"/><circle cx="184.4" cy="130.2" r="1.2"/><circle cx="213.7" cy="173.7" r="1.2"/><circle cx="181.9" cy="123.6" r="1.2"/><circle cx="180.6" cy="165.7" r="1.2"/><circle cx="187.9" cy="163.5" r="1.2"/></g>
<path d="M-8.0,78.0 C-1.7,69.7 17.8,89.3 30.0,95.0 C42.2,100.7 51.5,103.6 65.3,112.4 C79.1,121.2 100.1,136.5 112.8,148.0 C125.5,159.5 134.1,170.6 141.3,181.3 C148.5,192.0 153.4,204.2 156.0,212.0 C158.6,219.8 158.3,224.0 157.0,228.0 C155.7,232.0 151.8,234.6 148.4,236.0 C145.0,237.4 142.9,237.8 136.5,236.5 C130.1,235.2 117.9,231.7 110.0,228.0 C102.1,224.3 100.4,222.0 89.0,214.6 C77.6,207.2 54.7,193.1 41.5,183.7 C28.3,174.3 18.2,164.4 10.0,158.0 C1.8,151.6 -5.0,158.3 -8.0,145.0 C-11.0,131.7 -14.3,86.3 -8.0,78.0 Z" fill="none" stroke="#fff" stroke-width="2.6" stroke-dasharray="7.5 4.5"/>
<text x="182.0" y="86.9" font-size="28" fill="#fff" stroke="#0e090f" stroke-width="0.6" textLength="21.5" lengthAdjust="spacingAndGlyphs">dl</text>
<text x="31.0" y="155.0" font-size="28" fill="#fff" stroke="#0e090f" stroke-width="0.6" textLength="42.5" lengthAdjust="spacingAndGlyphs">scp</text>
<text x="268.3" y="198.3" font-size="28" fill="#fff" stroke="#0e090f" stroke-width="0.6" textLength="21.0" lengthAdjust="spacingAndGlyphs">el</text>
<rect x="254" y="300.5" width="50" height="4.2" fill="#6c9bd2"/>
</g>
<g transform="translate(355.5,104)" clip-path="url(#cpA)">
<rect width="318" height="320" fill="#13291a"/>
<path d="M0.0,0.0 L27.0,0.0 L45.0,15.0 L60.0,27.0 L81.5,40.0 L105.6,55.8 L120.7,66.4 L143.3,80.0 L160.0,88.0 L175.0,98.0 L188.0,111.6 L211.0,135.8 L230.0,158.0 L248.0,180.0 L262.0,200.0 L272.0,214.0 L284.0,225.0 L292.0,250.0 L305.0,290.0 L318.0,318.0 L318.0,320.0 L0.0,320.0 Z" fill="#132c14"/>
<path d="M0.0,40.0 C6.7,25.8 25.0,31.7 40.0,35.0 C55.0,38.3 71.7,50.0 90.0,60.0 C108.3,70.0 131.7,83.3 150.0,95.0 C168.3,106.7 189.2,118.3 200.0,130.0 C210.8,141.7 220.0,158.3 215.0,165.0 C210.0,171.7 187.5,172.5 170.0,170.0 C152.5,167.5 130.0,156.7 110.0,150.0 C90.0,143.3 68.3,135.0 50.0,130.0 C31.7,125.0 8.3,135.0 0.0,120.0 C-8.3,105.0 -6.7,54.2 0.0,40.0 Z" fill="#1a3b1d" filter="url(#b16)" opacity="0.45"/>
<ellipse cx="12" cy="150" rx="14" ry="60" fill="#1d4521" filter="url(#b8)" opacity="0.8"/>
<ellipse cx="120" cy="225" rx="80" ry="45" fill="#10280f" filter="url(#b16)" opacity="0.8" transform="rotate(20 120 225)"/>
<path d="M106.0,0.0 L120.7,15.1 L143.3,40.7 L158.4,55.8 L166.0,75.4 L173.5,84.5 L196.0,98.0 L208.2,111.6 L226.3,135.8 L250.0,159.0 L268.6,175.0 L279.0,205.0 L279.0,205.0 L284.0,225.0 L292.0,250.0 L305.0,290.0 L318.0,318.0 L318.0,0.0 Z" fill="#10200f"/>
<path d="M27.0,0.0 L45.0,15.0 L60.0,27.0 L81.5,40.0 L105.6,55.8 L120.7,66.4 L143.3,80.0 L160.0,88.0 L175.0,98.0 L188.0,111.6 L211.0,135.8 L230.0,158.0 L248.0,180.0 L262.0,200.0 L272.0,214.0 L279.0,205.0 L268.6,175.0 L250.0,159.0 L226.3,135.8 L208.2,111.6 L196.0,98.0 L173.5,84.5 L166.0,75.4 L158.4,55.8 L143.3,40.7 L120.7,15.1 L106.0,0.0 Z" fill="#030503" filter="url(#b1)"/>
<path d="M80,41 C100,52 120,64 143,79 C160,88 172,96 186,110 C200,124 215,140 232,158 C245,172 258,186 270,205" stroke="#2f8c37" stroke-width="5" fill="none" filter="url(#b2)" opacity="0.85"/>
<path d="M270,205 C280,225 290,250 305,290" stroke="#24622a" stroke-width="4" fill="none" filter="url(#b2)" opacity="0.7"/>
<path d="M83,42 C100,52 112,58 120,65" stroke="#4cc255" stroke-width="2.5" fill="none" filter="url(#b1)"/>
<ellipse cx="153" cy="84" rx="9" ry="5" fill="#55d060" filter="url(#b1)" transform="rotate(55 153 84)"/>
<ellipse cx="146" cy="73" rx="4" ry="3" fill="#3faa48" filter="url(#b1)"/>
<ellipse cx="185" cy="111" rx="8" ry="5" fill="#5ad464" filter="url(#b1)" transform="rotate(45 185 111)"/>
<path d="M160,92 L180,104" stroke="#49bb52" stroke-width="4" filter="url(#b1)"/>
<path d="M195,120 L230,155" stroke="#3aa043" stroke-width="3" filter="url(#b1)"/>
<path d="M121,143 C135,136 150,128 166,121" stroke="#0a1a0a" stroke-width="3" fill="none" filter="url(#b1)"/>
<ellipse cx="222" cy="222" rx="50" ry="24" fill="#2a7a30" filter="url(#b8)" transform="rotate(52 222 222)" opacity="0.9"/>
<ellipse cx="236" cy="242" rx="24" ry="16" fill="#3c9c42" filter="url(#b4)" transform="rotate(50 236 242)"/>
<g opacity="0.9" filter="url(#b0)"><ellipse cx="213.1" cy="243.8" rx="1.5" ry="1.1" fill="#2e8a35" transform="rotate(143 213.1 243.8)"/><ellipse cx="236.6" cy="213.5" rx="1.9" ry="1.2" fill="#52c85a" transform="rotate(168 236.6 213.5)"/><ellipse cx="202.8" cy="200.9" rx="2.1" ry="2.4" fill="#52c85a" transform="rotate(79 202.8 200.9)"/><ellipse cx="247.1" cy="256.5" rx="1.7" ry="1.0" fill="#62da6a" transform="rotate(59 247.1 256.5)"/><ellipse cx="205.8" cy="199.1" rx="0.8" ry="1.0" fill="#2e8a35" transform="rotate(16 205.8 199.1)"/><ellipse cx="218.6" cy="212.3" rx="1.6" ry="1.4" fill="#52c85a" transform="rotate(87 218.6 212.3)"/><ellipse cx="213.8" cy="217.0" rx="0.9" ry="0.7" fill="#52c85a" transform="rotate(121 213.8 217.0)"/><ellipse cx="240.8" cy="212.6" rx="1.0" ry="1.0" fill="#3fae48" transform="rotate(149 240.8 212.6)"/><ellipse cx="201.0" cy="248.5" rx="1.2" ry="1.6" fill="#62da6a" transform="rotate(90 201.0 248.5)"/><ellipse cx="193.4" cy="208.5" rx="0.8" ry="0.6" fill="#2e8a35" transform="rotate(129 193.4 208.5)"/><ellipse cx="237.1" cy="242.2" rx="0.9" ry="1.0" fill="#62da6a" transform="rotate(94 237.1 242.2)"/><ellipse cx="205.2" cy="188.0" rx="1.1" ry="0.8" fill="#3fae48" transform="rotate(63 205.2 188.0)"/><ellipse cx="235.2" cy="230.2" rx="1.1" ry="0.8" fill="#2e8a35" transform="rotate(166 235.2 230.2)"/><ellipse cx="212.4" cy="232.8" rx="1.8" ry="2.0" fill="#52c85a" transform="rotate(162 212.4 232.8)"/><ellipse cx="236.4" cy="235.6" rx="2.1" ry="2.3" fill="#52c85a" transform="rotate(159 236.4 235.6)"/><ellipse cx="196.5" cy="187.1" rx="2.1" ry="1.7" fill="#52c85a" transform="rotate(101 196.5 187.1)"/><ellipse cx="192.9" cy="190.4" rx="0.9" ry="0.7" fill="#62da6a" transform="rotate(154 192.9 190.4)"/><ellipse cx="215.1" cy="206.3" rx="1.0" ry="0.7" fill="#52c85a" transform="rotate(61 215.1 206.3)"/><ellipse cx="278.2" cy="257.9" rx="0.9" ry="0.6" fill="#62da6a" transform="rotate(117 278.2 257.9)"/><ellipse cx="240.2" cy="232.2" rx="2.1" ry="1.8" fill="#52c85a" transform="rotate(28 240.2 232.2)"/><ellipse cx="178.0" cy="192.2" rx="1.6" ry="2.1" fill="#62da6a" transform="rotate(55 178.0 192.2)"/><ellipse cx="202.7" cy="189.9" rx="1.3" ry="0.9" fill="#3fae48" transform="rotate(129 202.7 189.9)"/><ellipse cx="202.7" cy="217.5" rx="2.0" ry="2.1" fill="#52c85a" transform="rotate(46 202.7 217.5)"/><ellipse cx="159.2" cy="169.3" rx="1.0" ry="0.7" fill="#52c85a" transform="rotate(17 159.2 169.3)"/><ellipse cx="232.6" cy="241.6" rx="0.9" ry="0.6" fill="#52c85a" transform="rotate(51 232.6 241.6)"/><ellipse cx="172.8" cy="210.5" rx="1.5" ry="1.2" fill="#62da6a" transform="rotate(30 172.8 210.5)"/><ellipse cx="211.3" cy="230.0" rx="1.6" ry="1.7" fill="#3fae48" transform="rotate(134 211.3 230.0)"/><ellipse cx="244.7" cy="275.4" rx="1.4" ry="0.9" fill="#62da6a" transform="rotate(138 244.7 275.4)"/><ellipse cx="210.8" cy="242.8" rx="2.1" ry="2.3" fill="#2e8a35" transform="rotate(134 210.8 242.8)"/><ellipse cx="208.2" cy="217.5" rx="1.9" ry="2.4" fill="#2e8a35" transform="rotate(88 208.2 217.5)"/><ellipse cx="201.2" cy="177.7" rx="1.5" ry="1.8" fill="#3fae48" transform="rotate(174 201.2 177.7)"/><ellipse cx="186.8" cy="209.4" rx="0.9" ry="1.1" fill="#52c85a" transform="rotate(176 186.8 209.4)"/><ellipse cx="196.7" cy="203.9" rx="1.0" ry="0.6" fill="#62da6a" transform="rotate(13 196.7 203.9)"/><ellipse cx="246.3" cy="216.1" rx="1.5" ry="2.0" fill="#62da6a" transform="rotate(122 246.3 216.1)"/><ellipse cx="222.6" cy="194.5" rx="2.0" ry="1.3" fill="#62da6a" transform="rotate(4 222.6 194.5)"/><ellipse cx="215.2" cy="205.8" rx="1.8" ry="2.2" fill="#2e8a35" transform="rotate(130 215.2 205.8)"/><ellipse cx="199.6" cy="195.2" rx="1.3" ry="1.0" fill="#62da6a" transform="rotate(165 199.6 195.2)"/><ellipse cx="214.9" cy="205.9" rx="1.5" ry="1.7" fill="#52c85a" transform="rotate(160 214.9 205.9)"/><ellipse cx="236.7" cy="206.9" rx="1.1" ry="1.5" fill="#2e8a35" transform="rotate(69 236.7 206.9)"/><ellipse cx="204.4" cy="164.6" rx="1.0" ry="0.8" fill="#3fae48" transform="rotate(158 204.4 164.6)"/><ellipse cx="218.6" cy="205.9" rx="0.9" ry="0.8" fill="#52c85a" transform="rotate(170 218.6 205.9)"/><ellipse cx="227.7" cy="201.0" rx="2.2" ry="1.6" fill="#3fae48" transform="rotate(78 227.7 201.0)"/><ellipse cx="218.0" cy="193.6" rx="1.2" ry="1.6" fill="#52c85a" transform="rotate(58 218.0 193.6)"/><ellipse cx="190.3" cy="227.3" rx="2.1" ry="2.1" fill="#52c85a" transform="rotate(43 190.3 227.3)"/><ellipse cx="222.0" cy="183.6" rx="2.1" ry="2.1" fill="#52c85a" transform="rotate(79 222.0 183.6)"/><ellipse cx="210.6" cy="191.5" rx="1.7" ry="1.9" fill="#52c85a" transform="rotate(18 210.6 191.5)"/><ellipse cx="229.0" cy="229.1" rx="1.9" ry="2.6" fill="#2e8a35" transform="rotate(127 229.0 229.1)"/><ellipse cx="234.8" cy="243.9" rx="1.4" ry="1.3" fill="#3fae48" transform="rotate(81 234.8 243.9)"/><ellipse cx="260.4" cy="273.2" rx="0.9" ry="0.8" fill="#52c85a" transform="rotate(82 260.4 273.2)"/><ellipse cx="236.2" cy="226.8" rx="1.6" ry="2.1" fill="#52c85a" transform="rotate(78 236.2 226.8)"/><ellipse cx="232.4" cy="217.9" rx="1.4" ry="1.4" fill="#62da6a" transform="rotate(41 232.4 217.9)"/><ellipse cx="248.8" cy="212.6" rx="2.0" ry="1.3" fill="#62da6a" transform="rotate(105 248.8 212.6)"/><ellipse cx="236.7" cy="270.1" rx="1.0" ry="1.0" fill="#52c85a" transform="rotate(95 236.7 270.1)"/><ellipse cx="197.4" cy="180.1" rx="1.0" ry="0.7" fill="#2e8a35" transform="rotate(52 197.4 180.1)"/><ellipse cx="214.7" cy="208.8" rx="1.7" ry="1.3" fill="#3fae48" transform="rotate(18 214.7 208.8)"/><ellipse cx="233.4" cy="216.5" rx="0.9" ry="0.6" fill="#2e8a35" transform="rotate(89 233.4 216.5)"/><ellipse cx="220.0" cy="184.6" rx="0.8" ry="0.7" fill="#52c85a" transform="rotate(65 220.0 184.6)"/><ellipse cx="206.8" cy="217.7" rx="1.8" ry="1.9" fill="#52c85a" transform="rotate(14 206.8 217.7)"/><ellipse cx="228.5" cy="215.2" rx="1.8" ry="2.0" fill="#3fae48" transform="rotate(114 228.5 215.2)"/><ellipse cx="214.6" cy="207.2" rx="1.5" ry="1.1" fill="#2e8a35" transform="rotate(153 214.6 207.2)"/><ellipse cx="254.0" cy="214.4" rx="1.1" ry="1.3" fill="#3fae48" transform="rotate(162 254.0 214.4)"/><ellipse cx="181.3" cy="152.0" rx="1.3" ry="1.8" fill="#2e8a35" transform="rotate(169 181.3 152.0)"/><ellipse cx="217.5" cy="211.8" rx="1.0" ry="0.8" fill="#2e8a35" transform="rotate(5 217.5 211.8)"/><ellipse cx="178.9" cy="191.0" rx="2.1" ry="2.2" fill="#52c85a" transform="rotate(159 178.9 191.0)"/><ellipse cx="190.5" cy="266.1" rx="1.9" ry="2.2" fill="#2e8a35" transform="rotate(159 190.5 266.1)"/><ellipse cx="206.2" cy="207.7" rx="1.6" ry="1.4" fill="#62da6a" transform="rotate(121 206.2 207.7)"/><ellipse cx="242.9" cy="226.5" rx="2.1" ry="2.8" fill="#3fae48" transform="rotate(136 242.9 226.5)"/><ellipse cx="247.0" cy="253.4" rx="1.1" ry="1.1" fill="#3fae48" transform="rotate(67 247.0 253.4)"/><ellipse cx="230.9" cy="233.5" rx="1.1" ry="1.1" fill="#52c85a" transform="rotate(115 230.9 233.5)"/><ellipse cx="239.3" cy="203.5" rx="1.2" ry="1.1" fill="#52c85a" transform="rotate(68 239.3 203.5)"/><ellipse cx="200.0" cy="191.9" rx="1.1" ry="1.3" fill="#62da6a" transform="rotate(60 200.0 191.9)"/><ellipse cx="196.7" cy="194.0" rx="1.8" ry="2.5" fill="#52c85a" transform="rotate(68 196.7 194.0)"/><ellipse cx="213.1" cy="210.7" rx="1.6" ry="2.2" fill="#2e8a35" transform="rotate(35 213.1 210.7)"/><ellipse cx="199.5" cy="231.9" rx="1.7" ry="1.1" fill="#62da6a" transform="rotate(165 199.5 231.9)"/><ellipse cx="218.0" cy="233.7" rx="1.3" ry="1.5" fill="#2e8a35" transform="rotate(108 218.0 233.7)"/><ellipse cx="225.2" cy="177.5" rx="1.3" ry="1.1" fill="#3fae48" transform="rotate(141 225.2 177.5)"/><ellipse cx="253.4" cy="209.0" rx="1.6" ry="1.4" fill="#52c85a" transform="rotate(153 253.4 209.0)"/><ellipse cx="223.9" cy="205.0" rx="1.0" ry="1.3" fill="#52c85a" transform="rotate(48 223.9 205.0)"/><ellipse cx="218.0" cy="196.4" rx="1.5" ry="1.1" fill="#52c85a" transform="rotate(139 218.0 196.4)"/><ellipse cx="210.2" cy="205.4" rx="2.1" ry="2.1" fill="#2e8a35" transform="rotate(2 210.2 205.4)"/><ellipse cx="231.6" cy="217.9" rx="1.8" ry="1.7" fill="#2e8a35" transform="rotate(22 231.6 217.9)"/><ellipse cx="246.8" cy="231.4" rx="2.2" ry="1.7" fill="#3fae48" transform="rotate(127 246.8 231.4)"/><ellipse cx="191.1" cy="180.3" rx="1.4" ry="0.9" fill="#2e8a35" transform="rotate(171 191.1 180.3)"/><ellipse cx="216.9" cy="235.4" rx="1.7" ry="1.6" fill="#62da6a" transform="rotate(92 216.9 235.4)"/><ellipse cx="199.0" cy="234.6" rx="2.0" ry="2.6" fill="#3fae48" transform="rotate(152 199.0 234.6)"/><ellipse cx="247.3" cy="202.4" rx="1.3" ry="0.9" fill="#3fae48" transform="rotate(2 247.3 202.4)"/><ellipse cx="192.6" cy="219.8" rx="1.1" ry="0.7" fill="#2e8a35" transform="rotate(34 192.6 219.8)"/><ellipse cx="215.9" cy="243.1" rx="1.1" ry="0.8" fill="#52c85a" transform="rotate(96 215.9 243.1)"/><ellipse cx="220.7" cy="237.8" rx="1.1" ry="1.3" fill="#3fae48" transform="rotate(97 220.7 237.8)"/><ellipse cx="222.1" cy="232.1" rx="1.1" ry="1.1" fill="#3fae48" transform="rotate(142 222.1 232.1)"/><ellipse cx="248.9" cy="242.8" rx="1.4" ry="1.9" fill="#3fae48" transform="rotate(145 248.9 242.8)"/><ellipse cx="223.9" cy="174.5" rx="0.8" ry="0.8" fill="#62da6a" transform="rotate(160 223.9 174.5)"/><ellipse cx="234.3" cy="205.4" rx="0.9" ry="0.9" fill="#52c85a" transform="rotate(140 234.3 205.4)"/><ellipse cx="200.2" cy="220.4" rx="1.5" ry="1.1" fill="#2e8a35" transform="rotate(61 200.2 220.4)"/><ellipse cx="216.6" cy="181.5" rx="2.1" ry="1.7" fill="#62da6a" transform="rotate(21 216.6 181.5)"/><ellipse cx="204.0" cy="180.9" rx="1.9" ry="1.3" fill="#52c85a" transform="rotate(56 204.0 180.9)"/><ellipse cx="223.9" cy="249.6" rx="2.1" ry="1.3" fill="#62da6a" transform="rotate(134 223.9 249.6)"/><ellipse cx="238.3" cy="217.6" rx="1.7" ry="1.6" fill="#3fae48" transform="rotate(100 238.3 217.6)"/><ellipse cx="200.8" cy="204.9" rx="1.7" ry="1.8" fill="#62da6a" transform="rotate(78 200.8 204.9)"/><ellipse cx="217.8" cy="211.0" rx="1.0" ry="0.8" fill="#52c85a" transform="rotate(30 217.8 211.0)"/><ellipse cx="218.4" cy="215.8" rx="2.0" ry="2.7" fill="#52c85a" transform="rotate(45 218.4 215.8)"/><ellipse cx="174.5" cy="194.2" rx="1.2" ry="1.3" fill="#52c85a" transform="rotate(150 174.5 194.2)"/><ellipse cx="220.6" cy="192.1" rx="1.3" ry="1.7" fill="#2e8a35" transform="rotate(117 220.6 192.1)"/><ellipse cx="187.9" cy="215.7" rx="2.0" ry="1.6" fill="#3fae48" transform="rotate(179 187.9 215.7)"/><ellipse cx="196.0" cy="207.4" rx="1.8" ry="1.1" fill="#52c85a" transform="rotate(104 196.0 207.4)"/><ellipse cx="230.2" cy="224.7" rx="1.9" ry="2.5" fill="#52c85a" transform="rotate(161 230.2 224.7)"/><ellipse cx="268.1" cy="223.0" rx="1.7" ry="1.9" fill="#62da6a" transform="rotate(38 268.1 223.0)"/><ellipse cx="211.8" cy="256.3" rx="1.7" ry="1.4" fill="#62da6a" transform="rotate(23 211.8 256.3)"/><ellipse cx="203.1" cy="204.3" rx="1.9" ry="1.4" fill="#3fae48" transform="rotate(20 203.1 204.3)"/><ellipse cx="207.1" cy="202.4" rx="1.0" ry="1.0" fill="#2e8a35" transform="rotate(53 207.1 202.4)"/></g>
<g opacity="0.85" filter="url(#b0)"><ellipse cx="246.7" cy="201.5" rx="0.8" ry="0.7" fill="#37a040" transform="rotate(68 246.7 201.5)"/><ellipse cx="173.2" cy="184.6" rx="1.3" ry="1.0" fill="#4ec057" transform="rotate(82 173.2 184.6)"/><ellipse cx="207.1" cy="190.9" rx="1.4" ry="0.9" fill="#2e8a35" transform="rotate(113 207.1 190.9)"/><ellipse cx="167.0" cy="172.4" rx="1.7" ry="1.9" fill="#37a040" transform="rotate(118 167.0 172.4)"/><ellipse cx="177.9" cy="142.7" rx="1.5" ry="1.9" fill="#4ec057" transform="rotate(174 177.9 142.7)"/><ellipse cx="172.2" cy="204.5" rx="0.9" ry="0.9" fill="#2e8a35" transform="rotate(129 172.2 204.5)"/><ellipse cx="187.5" cy="167.7" rx="1.0" ry="1.2" fill="#2e8a35" transform="rotate(96 187.5 167.7)"/><ellipse cx="197.3" cy="167.4" rx="0.9" ry="0.6" fill="#2e8a35" transform="rotate(7 197.3 167.4)"/><ellipse cx="187.4" cy="195.0" rx="1.2" ry="1.1" fill="#2e8a35" transform="rotate(52 187.4 195.0)"/><ellipse cx="178.2" cy="193.7" rx="1.1" ry="0.8" fill="#2e8a35" transform="rotate(112 178.2 193.7)"/><ellipse cx="215.1" cy="213.4" rx="1.1" ry="1.1" fill="#4ec057" transform="rotate(165 215.1 213.4)"/><ellipse cx="172.8" cy="146.5" rx="1.3" ry="0.8" fill="#37a040" transform="rotate(114 172.8 146.5)"/><ellipse cx="189.0" cy="182.7" rx="1.6" ry="2.2" fill="#37a040" transform="rotate(145 189.0 182.7)"/><ellipse cx="224.0" cy="196.0" rx="1.7" ry="1.5" fill="#4ec057" transform="rotate(175 224.0 196.0)"/><ellipse cx="188.4" cy="183.6" rx="1.1" ry="1.2" fill="#37a040" transform="rotate(136 188.4 183.6)"/><ellipse cx="183.9" cy="176.9" rx="0.9" ry="0.9" fill="#37a040" transform="rotate(31 183.9 176.9)"/><ellipse cx="171.7" cy="157.9" rx="0.9" ry="0.7" fill="#4ec057" transform="rotate(2 171.7 157.9)"/><ellipse cx="212.0" cy="172.0" rx="1.8" ry="2.3" fill="#4ec057" transform="rotate(124 212.0 172.0)"/><ellipse cx="170.9" cy="176.3" rx="1.7" ry="1.8" fill="#2e8a35" transform="rotate(77 170.9 176.3)"/><ellipse cx="176.2" cy="196.0" rx="1.5" ry="1.8" fill="#2e8a35" transform="rotate(20 176.2 196.0)"/><ellipse cx="193.5" cy="170.8" rx="1.7" ry="1.6" fill="#2e8a35" transform="rotate(30 193.5 170.8)"/><ellipse cx="196.6" cy="171.3" rx="1.5" ry="1.1" fill="#2e8a35" transform="rotate(101 196.6 171.3)"/><ellipse cx="179.3" cy="173.4" rx="1.1" ry="1.0" fill="#2e8a35" transform="rotate(4 179.3 173.4)"/><ellipse cx="231.9" cy="200.8" rx="1.0" ry="1.2" fill="#4ec057" transform="rotate(31 231.9 200.8)"/><ellipse cx="179.8" cy="175.7" rx="1.3" ry="1.1" fill="#37a040" transform="rotate(108 179.8 175.7)"/><ellipse cx="229.3" cy="204.3" rx="1.4" ry="1.2" fill="#37a040" transform="rotate(162 229.3 204.3)"/><ellipse cx="224.3" cy="217.5" rx="1.3" ry="0.8" fill="#4ec057" transform="rotate(82 224.3 217.5)"/><ellipse cx="171.3" cy="176.6" rx="1.2" ry="1.0" fill="#4ec057" transform="rotate(173 171.3 176.6)"/><ellipse cx="184.6" cy="186.4" rx="1.9" ry="2.1" fill="#4ec057" transform="rotate(136 184.6 186.4)"/><ellipse cx="222.4" cy="188.5" rx="0.9" ry="0.7" fill="#2e8a35" transform="rotate(47 222.4 188.5)"/><ellipse cx="219.3" cy="184.6" rx="1.5" ry="2.1" fill="#37a040" transform="rotate(50 219.3 184.6)"/><ellipse cx="201.1" cy="184.0" rx="1.1" ry="1.4" fill="#37a040" transform="rotate(45 201.1 184.0)"/><ellipse cx="226.5" cy="201.3" rx="1.3" ry="0.9" fill="#37a040" transform="rotate(36 226.5 201.3)"/><ellipse cx="180.8" cy="163.4" rx="1.0" ry="1.0" fill="#37a040" transform="rotate(110 180.8 163.4)"/><ellipse cx="150.7" cy="183.3" rx="1.9" ry="2.1" fill="#2e8a35" transform="rotate(31 150.7 183.3)"/><ellipse cx="241.5" cy="209.3" rx="2.0" ry="1.4" fill="#37a040" transform="rotate(123 241.5 209.3)"/><ellipse cx="216.1" cy="191.2" rx="1.2" ry="1.4" fill="#2e8a35" transform="rotate(9 216.1 191.2)"/><ellipse cx="226.2" cy="210.0" rx="1.2" ry="0.8" fill="#37a040" transform="rotate(17 226.2 210.0)"/><ellipse cx="211.3" cy="185.1" rx="2.0" ry="2.4" fill="#4ec057" transform="rotate(40 211.3 185.1)"/><ellipse cx="172.1" cy="147.4" rx="1.2" ry="1.4" fill="#2e8a35" transform="rotate(134 172.1 147.4)"/><ellipse cx="216.6" cy="190.9" rx="2.0" ry="2.7" fill="#2e8a35" transform="rotate(23 216.6 190.9)"/><ellipse cx="169.2" cy="180.7" rx="1.4" ry="1.2" fill="#37a040" transform="rotate(38 169.2 180.7)"/><ellipse cx="197.1" cy="175.9" rx="1.3" ry="0.8" fill="#4ec057" transform="rotate(57 197.1 175.9)"/><ellipse cx="164.3" cy="172.0" rx="1.9" ry="1.7" fill="#2e8a35" transform="rotate(172 164.3 172.0)"/><ellipse cx="213.5" cy="197.1" rx="1.3" ry="1.1" fill="#37a040" transform="rotate(90 213.5 197.1)"/><ellipse cx="236.8" cy="214.0" rx="1.3" ry="1.4" fill="#2e8a35" transform="rotate(165 236.8 214.0)"/><ellipse cx="227.5" cy="201.7" rx="2.0" ry="1.9" fill="#4ec057" transform="rotate(1 227.5 201.7)"/><ellipse cx="195.0" cy="173.0" rx="0.8" ry="0.8" fill="#2e8a35" transform="rotate(175 195.0 173.0)"/><ellipse cx="209.1" cy="168.4" rx="1.8" ry="2.2" fill="#2e8a35" transform="rotate(26 209.1 168.4)"/><ellipse cx="231.1" cy="204.3" rx="1.4" ry="1.6" fill="#2e8a35" transform="rotate(167 231.1 204.3)"/><ellipse cx="170.8" cy="174.9" rx="1.8" ry="1.2" fill="#2e8a35" transform="rotate(3 170.8 174.9)"/><ellipse cx="188.4" cy="175.6" rx="1.0" ry="0.9" fill="#2e8a35" transform="rotate(176 188.4 175.6)"/><ellipse cx="192.7" cy="191.8" rx="1.9" ry="2.6" fill="#4ec057" transform="rotate(98 192.7 191.8)"/><ellipse cx="174.9" cy="187.8" rx="1.7" ry="1.8" fill="#37a040" transform="rotate(162 174.9 187.8)"/><ellipse cx="207.1" cy="208.4" rx="1.6" ry="1.1" fill="#37a040" transform="rotate(166 207.1 208.4)"/><ellipse cx="209.2" cy="190.1" rx="0.9" ry="0.6" fill="#2e8a35" transform="rotate(143 209.2 190.1)"/><ellipse cx="208.5" cy="154.8" rx="0.8" ry="0.7" fill="#2e8a35" transform="rotate(98 208.5 154.8)"/><ellipse cx="172.8" cy="175.8" rx="1.9" ry="1.4" fill="#37a040" transform="rotate(132 172.8 175.8)"/><ellipse cx="201.8" cy="180.7" rx="1.0" ry="0.8" fill="#37a040" transform="rotate(11 201.8 180.7)"/><ellipse cx="198.0" cy="176.7" rx="1.5" ry="1.4" fill="#37a040" transform="rotate(8 198.0 176.7)"/><ellipse cx="208.2" cy="175.4" rx="1.6" ry="1.1" fill="#37a040" transform="rotate(143 208.2 175.4)"/><ellipse cx="178.3" cy="185.2" rx="1.5" ry="2.0" fill="#2e8a35" transform="rotate(2 178.3 185.2)"/><ellipse cx="179.9" cy="171.3" rx="1.6" ry="1.7" fill="#4ec057" transform="rotate(150 179.9 171.3)"/><ellipse cx="196.5" cy="208.1" rx="1.0" ry="0.7" fill="#37a040" transform="rotate(105 196.5 208.1)"/><ellipse cx="226.0" cy="200.1" rx="1.7" ry="1.3" fill="#4ec057" transform="rotate(31 226.0 200.1)"/><ellipse cx="197.4" cy="164.2" rx="1.9" ry="2.4" fill="#2e8a35" transform="rotate(151 197.4 164.2)"/><ellipse cx="188.2" cy="196.5" rx="1.7" ry="2.3" fill="#2e8a35" transform="rotate(165 188.2 196.5)"/><ellipse cx="209.0" cy="203.9" rx="0.9" ry="1.0" fill="#4ec057" transform="rotate(68 209.0 203.9)"/><ellipse cx="172.5" cy="188.8" rx="1.1" ry="1.0" fill="#2e8a35" transform="rotate(159 172.5 188.8)"/><ellipse cx="188.7" cy="179.3" rx="1.8" ry="1.5" fill="#2e8a35" transform="rotate(101 188.7 179.3)"/><ellipse cx="208.5" cy="189.9" rx="1.7" ry="1.2" fill="#37a040" transform="rotate(101 208.5 189.9)"/><ellipse cx="189.0" cy="158.5" rx="1.8" ry="1.3" fill="#4ec057" transform="rotate(160 189.0 158.5)"/><ellipse cx="189.1" cy="185.4" rx="1.7" ry="1.5" fill="#2e8a35" transform="rotate(17 189.1 185.4)"/><ellipse cx="178.0" cy="176.9" rx="1.3" ry="1.5" fill="#37a040" transform="rotate(68 178.0 176.9)"/><ellipse cx="203.0" cy="178.1" rx="1.9" ry="1.2" fill="#2e8a35" transform="rotate(155 203.0 178.1)"/><ellipse cx="215.3" cy="173.5" rx="1.8" ry="2.1" fill="#37a040" transform="rotate(118 215.3 173.5)"/><ellipse cx="214.6" cy="184.5" rx="1.6" ry="2.1" fill="#4ec057" transform="rotate(26 214.6 184.5)"/><ellipse cx="185.3" cy="191.9" rx="1.5" ry="1.6" fill="#2e8a35" transform="rotate(146 185.3 191.9)"/><ellipse cx="181.0" cy="162.9" rx="1.3" ry="1.5" fill="#2e8a35" transform="rotate(108 181.0 162.9)"/><ellipse cx="183.0" cy="180.8" rx="1.8" ry="2.3" fill="#37a040" transform="rotate(142 183.0 180.8)"/><ellipse cx="168.9" cy="154.2" rx="1.2" ry="1.6" fill="#4ec057" transform="rotate(140 168.9 154.2)"/><ellipse cx="193.7" cy="156.2" rx="1.0" ry="0.6" fill="#4ec057" transform="rotate(110 193.7 156.2)"/><ellipse cx="217.8" cy="189.5" rx="1.5" ry="1.9" fill="#37a040" transform="rotate(94 217.8 189.5)"/><ellipse cx="180.5" cy="206.6" rx="2.0" ry="2.3" fill="#37a040" transform="rotate(177 180.5 206.6)"/><ellipse cx="210.6" cy="191.5" rx="1.2" ry="1.4" fill="#2e8a35" transform="rotate(73 210.6 191.5)"/><ellipse cx="187.7" cy="183.9" rx="1.8" ry="1.2" fill="#4ec057" transform="rotate(68 187.7 183.9)"/><ellipse cx="176.2" cy="192.1" rx="0.9" ry="0.6" fill="#37a040" transform="rotate(33 176.2 192.1)"/><ellipse cx="214.1" cy="186.0" rx="1.2" ry="0.8" fill="#37a040" transform="rotate(121 214.1 186.0)"/><ellipse cx="180.6" cy="188.0" rx="1.8" ry="2.4" fill="#2e8a35" transform="rotate(180 180.6 188.0)"/><ellipse cx="197.9" cy="201.7" rx="1.9" ry="2.3" fill="#4ec057" transform="rotate(51 197.9 201.7)"/></g>
<ellipse cx="238" cy="245" rx="20" ry="12" fill="#4cbc54" filter="url(#b4)" transform="rotate(50 238 245)" opacity="0.8"/>
<g opacity="0.9" filter="url(#b0)"><ellipse cx="243.2" cy="248.2" rx="1.5" ry="1.5" fill="#5ad062" transform="rotate(126 243.2 248.2)"/><ellipse cx="251.4" cy="228.3" rx="1.1" ry="1.5" fill="#5ad062" transform="rotate(58 251.4 228.3)"/><ellipse cx="229.5" cy="212.7" rx="1.6" ry="1.1" fill="#7ae884" transform="rotate(159 229.5 212.7)"/><ellipse cx="233.5" cy="231.7" rx="1.0" ry="0.7" fill="#6ee478" transform="rotate(96 233.5 231.7)"/><ellipse cx="255.0" cy="220.5" rx="1.6" ry="1.8" fill="#5ad062" transform="rotate(47 255.0 220.5)"/><ellipse cx="246.8" cy="251.1" rx="1.1" ry="0.9" fill="#6ee478" transform="rotate(125 246.8 251.1)"/><ellipse cx="226.1" cy="235.9" rx="1.3" ry="1.0" fill="#5ad062" transform="rotate(51 226.1 235.9)"/><ellipse cx="249.4" cy="247.2" rx="1.2" ry="1.1" fill="#6ee478" transform="rotate(105 249.4 247.2)"/><ellipse cx="223.3" cy="246.7" rx="1.7" ry="2.3" fill="#7ae884" transform="rotate(77 223.3 246.7)"/><ellipse cx="241.3" cy="257.2" rx="1.3" ry="1.2" fill="#5ad062" transform="rotate(167 241.3 257.2)"/><ellipse cx="250.7" cy="253.9" rx="0.8" ry="0.8" fill="#7ae884" transform="rotate(35 250.7 253.9)"/><ellipse cx="244.8" cy="255.1" rx="1.2" ry="1.1" fill="#6ee478" transform="rotate(34 244.8 255.1)"/><ellipse cx="246.4" cy="258.7" rx="1.6" ry="1.1" fill="#6ee478" transform="rotate(35 246.4 258.7)"/><ellipse cx="237.9" cy="250.2" rx="0.9" ry="0.6" fill="#7ae884" transform="rotate(127 237.9 250.2)"/><ellipse cx="237.5" cy="253.1" rx="1.4" ry="0.9" fill="#7ae884" transform="rotate(129 237.5 253.1)"/><ellipse cx="242.5" cy="247.5" rx="1.9" ry="1.2" fill="#48bb51" transform="rotate(90 242.5 247.5)"/><ellipse cx="236.4" cy="231.7" rx="1.6" ry="1.7" fill="#6ee478" transform="rotate(126 236.4 231.7)"/><ellipse cx="236.0" cy="247.3" rx="1.2" ry="0.8" fill="#6ee478" transform="rotate(39 236.0 247.3)"/><ellipse cx="221.0" cy="255.2" rx="0.8" ry="1.0" fill="#6ee478" transform="rotate(105 221.0 255.2)"/><ellipse cx="235.1" cy="230.0" rx="1.7" ry="2.3" fill="#5ad062" transform="rotate(150 235.1 230.0)"/><ellipse cx="244.3" cy="255.4" rx="1.0" ry="1.3" fill="#5ad062" transform="rotate(114 244.3 255.4)"/><ellipse cx="247.5" cy="262.7" rx="1.4" ry="1.1" fill="#7ae884" transform="rotate(42 247.5 262.7)"/><ellipse cx="233.8" cy="244.9" rx="1.0" ry="1.4" fill="#6ee478" transform="rotate(57 233.8 244.9)"/><ellipse cx="241.7" cy="250.3" rx="0.9" ry="0.8" fill="#48bb51" transform="rotate(5 241.7 250.3)"/><ellipse cx="237.8" cy="242.5" rx="1.8" ry="1.4" fill="#7ae884" transform="rotate(96 237.8 242.5)"/><ellipse cx="237.2" cy="254.2" rx="1.6" ry="1.8" fill="#5ad062" transform="rotate(19 237.2 254.2)"/><ellipse cx="266.3" cy="246.1" rx="1.1" ry="1.4" fill="#48bb51" transform="rotate(47 266.3 246.1)"/><ellipse cx="227.0" cy="250.0" rx="1.8" ry="1.8" fill="#48bb51" transform="rotate(125 227.0 250.0)"/><ellipse cx="266.5" cy="239.9" rx="1.4" ry="1.2" fill="#6ee478" transform="rotate(158 266.5 239.9)"/><ellipse cx="244.3" cy="262.5" rx="1.6" ry="1.1" fill="#6ee478" transform="rotate(166 244.3 262.5)"/><ellipse cx="233.1" cy="242.8" rx="1.0" ry="0.9" fill="#6ee478" transform="rotate(171 233.1 242.8)"/><ellipse cx="245.5" cy="253.1" rx="0.9" ry="0.9" fill="#5ad062" transform="rotate(9 245.5 253.1)"/><ellipse cx="236.7" cy="238.4" rx="1.9" ry="1.5" fill="#5ad062" transform="rotate(55 236.7 238.4)"/><ellipse cx="213.2" cy="246.4" rx="1.2" ry="1.4" fill="#48bb51" transform="rotate(143 213.2 246.4)"/><ellipse cx="241.9" cy="252.5" rx="1.6" ry="1.0" fill="#48bb51" transform="rotate(44 241.9 252.5)"/><ellipse cx="238.7" cy="254.1" rx="1.9" ry="1.3" fill="#5ad062" transform="rotate(163 238.7 254.1)"/><ellipse cx="262.1" cy="241.8" rx="1.4" ry="1.3" fill="#6ee478" transform="rotate(64 262.1 241.8)"/><ellipse cx="246.2" cy="241.7" rx="1.9" ry="2.5" fill="#6ee478" transform="rotate(67 246.2 241.7)"/><ellipse cx="255.2" cy="274.2" rx="0.9" ry="1.1" fill="#6ee478" transform="rotate(135 255.2 274.2)"/><ellipse cx="230.1" cy="228.9" rx="2.0" ry="2.5" fill="#48bb51" transform="rotate(20 230.1 228.9)"/><ellipse cx="218.1" cy="223.9" rx="0.9" ry="0.8" fill="#7ae884" transform="rotate(69 218.1 223.9)"/><ellipse cx="253.1" cy="251.7" rx="1.3" ry="1.4" fill="#7ae884" transform="rotate(71 253.1 251.7)"/><ellipse cx="214.9" cy="224.5" rx="1.2" ry="1.0" fill="#7ae884" transform="rotate(2 214.9 224.5)"/><ellipse cx="239.7" cy="250.6" rx="1.7" ry="1.1" fill="#7ae884" transform="rotate(101 239.7 250.6)"/><ellipse cx="244.8" cy="240.4" rx="0.8" ry="1.1" fill="#6ee478" transform="rotate(105 244.8 240.4)"/><ellipse cx="229.3" cy="244.7" rx="1.9" ry="1.7" fill="#6ee478" transform="rotate(72 229.3 244.7)"/><ellipse cx="233.1" cy="234.9" rx="1.6" ry="1.5" fill="#7ae884" transform="rotate(144 233.1 234.9)"/><ellipse cx="216.1" cy="230.3" rx="1.7" ry="1.4" fill="#6ee478" transform="rotate(95 216.1 230.3)"/><ellipse cx="240.9" cy="229.2" rx="1.5" ry="1.2" fill="#6ee478" transform="rotate(83 240.9 229.2)"/><ellipse cx="267.0" cy="237.4" rx="1.5" ry="1.2" fill="#5ad062" transform="rotate(75 267.0 237.4)"/><ellipse cx="238.9" cy="263.6" rx="1.5" ry="1.5" fill="#5ad062" transform="rotate(117 238.9 263.6)"/><ellipse cx="241.8" cy="266.5" rx="1.3" ry="0.9" fill="#6ee478" transform="rotate(91 241.8 266.5)"/><ellipse cx="238.1" cy="241.9" rx="1.3" ry="1.7" fill="#6ee478" transform="rotate(28 238.1 241.9)"/><ellipse cx="251.0" cy="253.0" rx="1.6" ry="1.3" fill="#6ee478" transform="rotate(22 251.0 253.0)"/><ellipse cx="233.7" cy="260.7" rx="1.6" ry="1.7" fill="#48bb51" transform="rotate(59 233.7 260.7)"/><ellipse cx="245.4" cy="239.6" rx="1.7" ry="1.9" fill="#6ee478" transform="rotate(111 245.4 239.6)"/><ellipse cx="235.3" cy="242.6" rx="1.6" ry="1.3" fill="#7ae884" transform="rotate(77 235.3 242.6)"/><ellipse cx="241.7" cy="237.4" rx="1.1" ry="1.2" fill="#7ae884" transform="rotate(111 241.7 237.4)"/><ellipse cx="222.5" cy="250.5" rx="1.9" ry="1.9" fill="#48bb51" transform="rotate(163 222.5 250.5)"/><ellipse cx="241.4" cy="230.3" rx="1.3" ry="1.7" fill="#6ee478" transform="rotate(2 241.4 230.3)"/><ellipse cx="238.2" cy="230.8" rx="1.5" ry="2.0" fill="#48bb51" transform="rotate(70 238.2 230.8)"/><ellipse cx="223.6" cy="247.8" rx="1.9" ry="2.7" fill="#6ee478" transform="rotate(20 223.6 247.8)"/><ellipse cx="229.5" cy="236.4" rx="1.8" ry="1.7" fill="#7ae884" transform="rotate(30 229.5 236.4)"/><ellipse cx="241.2" cy="249.0" rx="1.3" ry="1.5" fill="#48bb51" transform="rotate(88 241.2 249.0)"/><ellipse cx="224.2" cy="248.7" rx="1.7" ry="1.5" fill="#48bb51" transform="rotate(15 224.2 248.7)"/><ellipse cx="229.2" cy="235.9" rx="1.3" ry="0.9" fill="#6ee478" transform="rotate(146 229.2 235.9)"/><ellipse cx="252.1" cy="235.3" rx="1.7" ry="1.0" fill="#48bb51" transform="rotate(162 252.1 235.3)"/><ellipse cx="250.0" cy="240.8" rx="1.0" ry="0.8" fill="#7ae884" transform="rotate(132 250.0 240.8)"/><ellipse cx="238.7" cy="246.1" rx="0.9" ry="0.8" fill="#7ae884" transform="rotate(20 238.7 246.1)"/><ellipse cx="231.1" cy="250.4" rx="1.0" ry="0.8" fill="#7ae884" transform="rotate(164 231.1 250.4)"/><ellipse cx="250.0" cy="237.4" rx="0.9" ry="1.2" fill="#7ae884" transform="rotate(25 250.0 237.4)"/><ellipse cx="238.1" cy="264.4" rx="1.9" ry="2.2" fill="#6ee478" transform="rotate(63 238.1 264.4)"/><ellipse cx="250.8" cy="258.5" rx="1.6" ry="1.7" fill="#48bb51" transform="rotate(40 250.8 258.5)"/><ellipse cx="236.7" cy="236.4" rx="1.1" ry="1.5" fill="#48bb51" transform="rotate(168 236.7 236.4)"/><ellipse cx="235.0" cy="245.6" rx="1.8" ry="1.5" fill="#7ae884" transform="rotate(22 235.0 245.6)"/><ellipse cx="245.4" cy="271.6" rx="1.6" ry="2.0" fill="#5ad062" transform="rotate(88 245.4 271.6)"/><ellipse cx="223.6" cy="231.2" rx="1.7" ry="2.1" fill="#6ee478" transform="rotate(31 223.6 231.2)"/><ellipse cx="229.6" cy="247.7" rx="0.9" ry="0.9" fill="#5ad062" transform="rotate(43 229.6 247.7)"/><ellipse cx="229.4" cy="227.6" rx="2.0" ry="1.6" fill="#6ee478" transform="rotate(58 229.4 227.6)"/><ellipse cx="240.3" cy="246.1" rx="1.5" ry="0.9" fill="#5ad062" transform="rotate(55 240.3 246.1)"/><ellipse cx="247.0" cy="240.6" rx="1.2" ry="1.2" fill="#5ad062" transform="rotate(90 247.0 240.6)"/><ellipse cx="207.5" cy="235.9" rx="1.3" ry="1.0" fill="#48bb51" transform="rotate(138 207.5 235.9)"/><ellipse cx="240.1" cy="254.0" rx="1.2" ry="1.0" fill="#7ae884" transform="rotate(65 240.1 254.0)"/><ellipse cx="238.3" cy="253.2" rx="1.1" ry="0.7" fill="#48bb51" transform="rotate(133 238.3 253.2)"/><ellipse cx="256.6" cy="260.6" rx="1.5" ry="1.1" fill="#7ae884" transform="rotate(146 256.6 260.6)"/><ellipse cx="239.0" cy="250.7" rx="1.7" ry="1.4" fill="#6ee478" transform="rotate(78 239.0 250.7)"/><ellipse cx="241.0" cy="255.7" rx="1.3" ry="1.8" fill="#7ae884" transform="rotate(81 241.0 255.7)"/><ellipse cx="262.5" cy="236.4" rx="1.4" ry="1.6" fill="#5ad062" transform="rotate(169 262.5 236.4)"/><ellipse cx="250.0" cy="239.9" rx="1.4" ry="2.0" fill="#7ae884" transform="rotate(107 250.0 239.9)"/><ellipse cx="233.2" cy="229.8" rx="1.1" ry="1.1" fill="#7ae884" transform="rotate(90 233.2 229.8)"/><ellipse cx="238.7" cy="257.6" rx="1.6" ry="1.7" fill="#48bb51" transform="rotate(66 238.7 257.6)"/><ellipse cx="249.8" cy="260.9" rx="1.4" ry="1.9" fill="#5ad062" transform="rotate(141 249.8 260.9)"/><ellipse cx="243.9" cy="252.0" rx="1.4" ry="0.9" fill="#48bb51" transform="rotate(33 243.9 252.0)"/><ellipse cx="233.5" cy="249.3" rx="0.9" ry="0.6" fill="#48bb51" transform="rotate(16 233.5 249.3)"/><ellipse cx="254.6" cy="222.9" rx="1.5" ry="1.8" fill="#6ee478" transform="rotate(92 254.6 222.9)"/><ellipse cx="234.7" cy="236.3" rx="0.8" ry="0.8" fill="#48bb51" transform="rotate(34 234.7 236.3)"/><ellipse cx="238.2" cy="247.0" rx="2.0" ry="2.5" fill="#5ad062" transform="rotate(35 238.2 247.0)"/><ellipse cx="225.9" cy="227.9" rx="0.9" ry="0.7" fill="#6ee478" transform="rotate(51 225.9 227.9)"/><ellipse cx="229.0" cy="247.5" rx="1.5" ry="1.3" fill="#5ad062" transform="rotate(41 229.0 247.5)"/><ellipse cx="224.9" cy="240.7" rx="1.1" ry="1.5" fill="#48bb51" transform="rotate(9 224.9 240.7)"/><ellipse cx="233.1" cy="244.4" rx="1.6" ry="2.1" fill="#6ee478" transform="rotate(120 233.1 244.4)"/><ellipse cx="238.0" cy="255.8" rx="1.4" ry="1.0" fill="#48bb51" transform="rotate(86 238.0 255.8)"/><ellipse cx="238.6" cy="222.4" rx="1.9" ry="1.6" fill="#7ae884" transform="rotate(29 238.6 222.4)"/><ellipse cx="239.3" cy="243.7" rx="1.1" ry="1.3" fill="#6ee478" transform="rotate(70 239.3 243.7)"/><ellipse cx="246.2" cy="250.1" rx="2.0" ry="2.5" fill="#5ad062" transform="rotate(105 246.2 250.1)"/><ellipse cx="221.8" cy="232.3" rx="1.2" ry="0.9" fill="#5ad062" transform="rotate(162 221.8 232.3)"/><ellipse cx="236.1" cy="230.8" rx="0.9" ry="1.1" fill="#7ae884" transform="rotate(95 236.1 230.8)"/><ellipse cx="257.0" cy="250.0" rx="1.7" ry="1.5" fill="#5ad062" transform="rotate(115 257.0 250.0)"/><ellipse cx="254.2" cy="259.2" rx="1.6" ry="1.1" fill="#6ee478" transform="rotate(35 254.2 259.2)"/><ellipse cx="232.5" cy="224.0" rx="1.9" ry="2.5" fill="#6ee478" transform="rotate(88 232.5 224.0)"/><ellipse cx="220.7" cy="234.1" rx="1.9" ry="1.6" fill="#7ae884" transform="rotate(22 220.7 234.1)"/><ellipse cx="265.4" cy="254.0" rx="1.2" ry="1.1" fill="#7ae884" transform="rotate(114 265.4 254.0)"/><ellipse cx="222.8" cy="220.5" rx="2.0" ry="1.4" fill="#6ee478" transform="rotate(87 222.8 220.5)"/><ellipse cx="240.0" cy="262.8" rx="1.1" ry="1.1" fill="#7ae884" transform="rotate(143 240.0 262.8)"/><ellipse cx="230.7" cy="212.9" rx="1.3" ry="1.6" fill="#48bb51" transform="rotate(19 230.7 212.9)"/><ellipse cx="243.3" cy="263.1" rx="1.4" ry="1.8" fill="#48bb51" transform="rotate(27 243.3 263.1)"/><ellipse cx="249.6" cy="244.7" rx="1.8" ry="1.8" fill="#6ee478" transform="rotate(52 249.6 244.7)"/><ellipse cx="218.2" cy="217.5" rx="1.0" ry="1.3" fill="#7ae884" transform="rotate(59 218.2 217.5)"/><ellipse cx="234.0" cy="261.1" rx="0.9" ry="0.8" fill="#6ee478" transform="rotate(116 234.0 261.1)"/><ellipse cx="225.6" cy="228.5" rx="1.3" ry="0.8" fill="#5ad062" transform="rotate(78 225.6 228.5)"/><ellipse cx="244.2" cy="236.7" rx="1.1" ry="1.1" fill="#7ae884" transform="rotate(91 244.2 236.7)"/><ellipse cx="260.4" cy="248.9" rx="1.9" ry="1.6" fill="#6ee478" transform="rotate(138 260.4 248.9)"/><ellipse cx="229.2" cy="232.4" rx="1.6" ry="1.8" fill="#48bb51" transform="rotate(161 229.2 232.4)"/><ellipse cx="268.8" cy="276.5" rx="1.3" ry="1.5" fill="#5ad062" transform="rotate(177 268.8 276.5)"/><ellipse cx="230.6" cy="235.6" rx="1.4" ry="0.9" fill="#7ae884" transform="rotate(167 230.6 235.6)"/><ellipse cx="238.2" cy="259.1" rx="2.0" ry="1.6" fill="#6ee478" transform="rotate(67 238.2 259.1)"/><ellipse cx="225.3" cy="240.5" rx="1.7" ry="1.1" fill="#5ad062" transform="rotate(131 225.3 240.5)"/><ellipse cx="244.1" cy="241.6" rx="1.8" ry="1.3" fill="#7ae884" transform="rotate(143 244.1 241.6)"/><ellipse cx="244.5" cy="239.2" rx="1.6" ry="2.2" fill="#5ad062" transform="rotate(155 244.5 239.2)"/><ellipse cx="231.1" cy="233.8" rx="1.5" ry="1.7" fill="#7ae884" transform="rotate(118 231.1 233.8)"/><ellipse cx="272.3" cy="262.8" rx="1.7" ry="1.5" fill="#6ee478" transform="rotate(86 272.3 262.8)"/><ellipse cx="240.9" cy="259.1" rx="1.4" ry="0.9" fill="#5ad062" transform="rotate(122 240.9 259.1)"/><ellipse cx="231.5" cy="236.5" rx="1.1" ry="1.4" fill="#6ee478" transform="rotate(122 231.5 236.5)"/><ellipse cx="220.2" cy="239.8" rx="1.1" ry="1.5" fill="#48bb51" transform="rotate(83 220.2 239.8)"/><ellipse cx="238.6" cy="240.2" rx="1.0" ry="1.0" fill="#5ad062" transform="rotate(87 238.6 240.2)"/><ellipse cx="228.6" cy="243.4" rx="1.6" ry="1.8" fill="#7ae884" transform="rotate(142 228.6 243.4)"/><ellipse cx="254.0" cy="230.1" rx="2.0" ry="2.6" fill="#5ad062" transform="rotate(30 254.0 230.1)"/><ellipse cx="272.3" cy="249.0" rx="1.9" ry="2.1" fill="#7ae884" transform="rotate(95 272.3 249.0)"/><ellipse cx="228.7" cy="232.2" rx="1.1" ry="1.0" fill="#6ee478" transform="rotate(4 228.7 232.2)"/><ellipse cx="216.8" cy="244.1" rx="0.9" ry="0.5" fill="#6ee478" transform="rotate(92 216.8 244.1)"/><ellipse cx="231.9" cy="218.1" rx="1.0" ry="1.3" fill="#7ae884" transform="rotate(140 231.9 218.1)"/><ellipse cx="253.2" cy="239.8" rx="0.8" ry="0.7" fill="#48bb51" transform="rotate(66 253.2 239.8)"/><ellipse cx="242.4" cy="238.6" rx="1.7" ry="2.4" fill="#5ad062" transform="rotate(138 242.4 238.6)"/><ellipse cx="220.7" cy="243.4" rx="1.9" ry="1.5" fill="#48bb51" transform="rotate(131 220.7 243.4)"/><ellipse cx="240.4" cy="238.1" rx="1.9" ry="1.6" fill="#5ad062" transform="rotate(53 240.4 238.1)"/><ellipse cx="239.5" cy="234.7" rx="0.8" ry="0.5" fill="#5ad062" transform="rotate(61 239.5 234.7)"/><ellipse cx="244.5" cy="246.3" rx="0.9" ry="0.6" fill="#5ad062" transform="rotate(14 244.5 246.3)"/><ellipse cx="249.9" cy="238.8" rx="1.7" ry="1.4" fill="#6ee478" transform="rotate(86 249.9 238.8)"/><ellipse cx="232.1" cy="247.4" rx="1.0" ry="1.2" fill="#7ae884" transform="rotate(67 232.1 247.4)"/><ellipse cx="241.0" cy="265.7" rx="0.9" ry="0.6" fill="#5ad062" transform="rotate(52 241.0 265.7)"/><ellipse cx="218.8" cy="277.5" rx="2.0" ry="1.7" fill="#6ee478" transform="rotate(149 218.8 277.5)"/><ellipse cx="249.4" cy="255.5" rx="1.3" ry="0.8" fill="#5ad062" transform="rotate(86 249.4 255.5)"/><ellipse cx="232.2" cy="233.5" rx="1.7" ry="1.5" fill="#7ae884" transform="rotate(168 232.2 233.5)"/><ellipse cx="239.3" cy="256.4" rx="1.3" ry="0.9" fill="#48bb51" transform="rotate(176 239.3 256.4)"/><ellipse cx="236.5" cy="238.7" rx="0.8" ry="0.7" fill="#5ad062" transform="rotate(27 236.5 238.7)"/><ellipse cx="246.2" cy="227.9" rx="1.0" ry="1.0" fill="#5ad062" transform="rotate(90 246.2 227.9)"/><ellipse cx="227.8" cy="225.2" rx="1.9" ry="1.5" fill="#7ae884" transform="rotate(127 227.8 225.2)"/><ellipse cx="241.6" cy="255.5" rx="1.6" ry="1.6" fill="#7ae884" transform="rotate(80 241.6 255.5)"/><ellipse cx="234.1" cy="240.7" rx="1.9" ry="1.3" fill="#7ae884" transform="rotate(6 234.1 240.7)"/><ellipse cx="234.4" cy="219.4" rx="1.0" ry="1.4" fill="#7ae884" transform="rotate(167 234.4 219.4)"/></g>
<ellipse cx="285" cy="300" rx="32" ry="20" fill="#1f5a24" filter="url(#b8)" transform="rotate(35 285 300)" opacity="0.9"/>
<g stroke="#44b04c" stroke-width="0.8" opacity="0.7" fill="none" filter="url(#b0)"><path d="M245.9,277.4 l6.8,-6.6"/><path d="M255.1,277.4 l5.2,-8.6"/><path d="M255.8,307.6 l4.8,-1.7"/><path d="M284.1,293.5 l8.8,-8.1"/><path d="M251.8,273.0 l7.2,0.7"/><path d="M259.5,287.9 l8.0,-8.5"/><path d="M260.4,282.4 l7.5,-3.8"/><path d="M314.6,312.3 l3.8,-4.2"/><path d="M306.1,319.5 l2.2,-9.6"/><path d="M308.4,303.3 l5.2,-9.0"/><path d="M298.3,281.3 l5.4,-2.1"/><path d="M248.0,288.1 l4.7,-5.5"/><path d="M292.2,312.1 l11.7,1.6"/><path d="M317.5,309.9 l3.3,-4.3"/><path d="M290.5,298.2 l4.5,-1.5"/><path d="M259.1,316.2 l8.7,-4.1"/><path d="M252.0,291.2 l9.2,0.5"/><path d="M317.4,281.5 l8.1,-6.5"/><path d="M277.5,309.9 l4.3,-2.4"/><path d="M252.2,319.2 l2.0,-5.2"/><path d="M269.5,306.2 l7.8,-0.3"/><path d="M281.4,309.8 l4.0,-5.7"/><path d="M289.7,302.5 l1.1,-4.8"/><path d="M255.1,306.8 l11.3,-3.4"/><path d="M301.0,284.2 l11.7,-2.1"/><path d="M270.5,272.5 l4.4,-4.5"/><path d="M257.9,274.2 l4.0,-10.2"/><path d="M248.6,301.5 l2.7,-4.9"/><path d="M304.9,286.3 l3.4,-6.8"/><path d="M295.7,297.2 l7.2,-0.2"/><path d="M283.3,306.4 l7.7,-6.0"/><path d="M279.1,278.4 l3.7,-9.6"/><path d="M299.4,317.3 l8.3,-2.5"/><path d="M257.1,313.0 l2.6,-6.9"/><path d="M255.3,290.3 l4.6,-5.8"/><path d="M296.9,298.0 l5.4,-8.7"/><path d="M298.7,311.7 l2.0,-8.7"/><path d="M310.4,284.4 l5.0,-9.3"/><path d="M271.6,291.3 l7.0,-0.6"/><path d="M259.5,282.3 l6.3,-7.2"/><path d="M271.9,309.0 l1.6,-5.8"/><path d="M290.6,295.0 l9.5,-6.5"/><path d="M265.2,280.7 l1.8,-7.7"/><path d="M266.7,294.7 l0.7,-3.9"/><path d="M272.7,308.4 l6.9,-9.0"/><path d="M287.3,291.4 l5.8,-0.9"/><path d="M289.2,312.6 l5.6,-3.3"/><path d="M252.0,299.6 l3.2,-6.2"/><path d="M284.6,317.2 l7.7,-2.6"/><path d="M307.7,286.8 l6.7,-6.6"/><path d="M285.5,282.6 l7.8,-7.2"/><path d="M262.7,305.9 l2.9,-11.3"/><path d="M294.9,287.5 l10.2,1.8"/><path d="M249.5,283.9 l9.8,-6.9"/><path d="M255.3,274.3 l2.7,-3.4"/><path d="M274.9,297.8 l3.9,-3.3"/><path d="M246.7,310.5 l6.0,-5.0"/><path d="M279.9,304.9 l10.6,0.4"/><path d="M298.1,288.3 l2.0,-4.3"/><path d="M307.7,274.7 l10.0,-5.3"/><path d="M268.5,290.7 l8.6,-7.7"/><path d="M294.9,312.3 l2.3,-9.6"/><path d="M277.9,291.3 l9.8,-0.9"/><path d="M311.5,307.4 l7.4,0.4"/><path d="M285.6,309.7 l4.0,-3.2"/><path d="M287.7,313.8 l5.0,-0.0"/><path d="M272.8,283.0 l7.7,-8.8"/><path d="M275.7,287.0 l4.3,-6.2"/><path d="M293.9,288.4 l2.6,-5.2"/><path d="M264.0,315.5 l4.3,-9.1"/></g>
<path d="M78,275 C95,270 115,266 132,262" stroke="#2d7a32" stroke-width="1.2" fill="none" opacity="0.8"/>
<path d="M127,263 L134,260" stroke="#5ad062" stroke-width="2"/>
<circle cx="74" cy="261" r="5" fill="#0c1e0c" opacity="0.8"/>
<circle cx="63" cy="279" r="5" fill="#0c1e0c" opacity="0.8"/>
</g>
<g transform="translate(684,104)" clip-path="url(#cpA)">
<rect width="318" height="320" fill="#13291a"/>
<path d="M0.0,0.0 L27.0,0.0 L45.0,15.0 L60.0,27.0 L81.5,40.0 L105.6,55.8 L120.7,66.4 L143.3,80.0 L160.0,88.0 L175.0,98.0 L188.0,111.6 L211.0,135.8 L230.0,158.0 L248.0,180.0 L262.0,200.0 L272.0,214.0 L284.0,225.0 L292.0,250.0 L305.0,290.0 L318.0,318.0 L318.0,320.0 L0.0,320.0 Z" fill="#132c14"/>
<path d="M0.0,40.0 C6.7,25.8 25.0,31.7 40.0,35.0 C55.0,38.3 71.7,50.0 90.0,60.0 C108.3,70.0 131.7,83.3 150.0,95.0 C168.3,106.7 189.2,118.3 200.0,130.0 C210.8,141.7 220.0,158.3 215.0,165.0 C210.0,171.7 187.5,172.5 170.0,170.0 C152.5,167.5 130.0,156.7 110.0,150.0 C90.0,143.3 68.3,135.0 50.0,130.0 C31.7,125.0 8.3,135.0 0.0,120.0 C-8.3,105.0 -6.7,54.2 0.0,40.0 Z" fill="#1a3b1d" filter="url(#b16)" opacity="0.45"/>
<ellipse cx="12" cy="150" rx="14" ry="60" fill="#1d4521" filter="url(#b8)" opacity="0.8"/>
<ellipse cx="120" cy="225" rx="80" ry="45" fill="#10280f" filter="url(#b16)" opacity="0.8" transform="rotate(20 120 225)"/>
<path d="M106.0,0.0 L120.7,15.1 L143.3,40.7 L158.4,55.8 L166.0,75.4 L173.5,84.5 L196.0,98.0 L208.2,111.6 L226.3,135.8 L250.0,159.0 L268.6,175.0 L279.0,205.0 L279.0,205.0 L284.0,225.0 L292.0,250.0 L305.0,290.0 L318.0,318.0 L318.0,0.0 Z" fill="#10200f"/>
<path d="M27.0,0.0 L45.0,15.0 L60.0,27.0 L81.5,40.0 L105.6,55.8 L120.7,66.4 L143.3,80.0 L160.0,88.0 L175.0,98.0 L188.0,111.6 L211.0,135.8 L230.0,158.0 L248.0,180.0 L262.0,200.0 L272.0,214.0 L279.0,205.0 L268.6,175.0 L250.0,159.0 L226.3,135.8 L208.2,111.6 L196.0,98.0 L173.5,84.5 L166.0,75.4 L158.4,55.8 L143.3,40.7 L120.7,15.1 L106.0,0.0 Z" fill="#030503" filter="url(#b1)"/>
<path d="M80,41 C100,52 120,64 143,79 C160,88 172,96 186,110 C200,124 215,140 232,158 C245,172 258,186 270,205" stroke="#2f8c37" stroke-width="5" fill="none" filter="url(#b2)" opacity="0.85"/>
<path d="M270,205 C280,225 290,250 305,290" stroke="#24622a" stroke-width="4" fill="none" filter="url(#b2)" opacity="0.7"/>
<path d="M83,42 C100,52 112,58 120,65" stroke="#4cc255" stroke-width="2.5" fill="none" filter="url(#b1)"/>
<ellipse cx="153" cy="84" rx="9" ry="5" fill="#55d060" filter="url(#b1)" transform="rotate(55 153 84)"/>
<ellipse cx="146" cy="73" rx="4" ry="3" fill="#3faa48" filter="url(#b1)"/>
<ellipse cx="185" cy="111" rx="8" ry="5" fill="#5ad464" filter="url(#b1)" transform="rotate(45 185 111)"/>
<path d="M160,92 L180,104" stroke="#49bb52" stroke-width="4" filter="url(#b1)"/>
<path d="M195,120 L230,155" stroke="#3aa043" stroke-width="3" filter="url(#b1)"/>
<path d="M121,143 C135,136 150,128 166,121" stroke="#0a1a0a" stroke-width="3" fill="none" filter="url(#b1)"/>
<ellipse cx="222" cy="222" rx="50" ry="24" fill="#2a7a30" filter="url(#b8)" transform="rotate(52 222 222)" opacity="0.9"/>
<ellipse cx="236" cy="242" rx="24" ry="16" fill="#3c9c42" filter="url(#b4)" transform="rotate(50 236 242)"/>
<g opacity="0.9" filter="url(#b0)"><ellipse cx="213.1" cy="243.8" rx="1.5" ry="1.1" fill="#2e8a35" transform="rotate(143 213.1 243.8)"/><ellipse cx="236.6" cy="213.5" rx="1.9" ry="1.2" fill="#52c85a" transform="rotate(168 236.6 213.5)"/><ellipse cx="202.8" cy="200.9" rx="2.1" ry="2.4" fill="#52c85a" transform="rotate(79 202.8 200.9)"/><ellipse cx="247.1" cy="256.5" rx="1.7" ry="1.0" fill="#62da6a" transform="rotate(59 247.1 256.5)"/><ellipse cx="205.8" cy="199.1" rx="0.8" ry="1.0" fill="#2e8a35" transform="rotate(16 205.8 199.1)"/><ellipse cx="218.6" cy="212.3" rx="1.6" ry="1.4" fill="#52c85a" transform="rotate(87 218.6 212.3)"/><ellipse cx="213.8" cy="217.0" rx="0.9" ry="0.7" fill="#52c85a" transform="rotate(121 213.8 217.0)"/><ellipse cx="240.8" cy="212.6" rx="1.0" ry="1.0" fill="#3fae48" transform="rotate(149 240.8 212.6)"/><ellipse cx="201.0" cy="248.5" rx="1.2" ry="1.6" fill="#62da6a" transform="rotate(90 201.0 248.5)"/><ellipse cx="193.4" cy="208.5" rx="0.8" ry="0.6" fill="#2e8a35" transform="rotate(129 193.4 208.5)"/><ellipse cx="237.1" cy="242.2" rx="0.9" ry="1.0" fill="#62da6a" transform="rotate(94 237.1 242.2)"/><ellipse cx="205.2" cy="188.0" rx="1.1" ry="0.8" fill="#3fae48" transform="rotate(63 205.2 188.0)"/><ellipse cx="235.2" cy="230.2" rx="1.1" ry="0.8" fill="#2e8a35" transform="rotate(166 235.2 230.2)"/><ellipse cx="212.4" cy="232.8" rx="1.8" ry="2.0" fill="#52c85a" transform="rotate(162 212.4 232.8)"/><ellipse cx="236.4" cy="235.6" rx="2.1" ry="2.3" fill="#52c85a" transform="rotate(159 236.4 235.6)"/><ellipse cx="196.5" cy="187.1" rx="2.1" ry="1.7" fill="#52c85a" transform="rotate(101 196.5 187.1)"/><ellipse cx="192.9" cy="190.4" rx="0.9" ry="0.7" fill="#62da6a" transform="rotate(154 192.9 190.4)"/><ellipse cx="215.1" cy="206.3" rx="1.0" ry="0.7" fill="#52c85a" transform="rotate(61 215.1 206.3)"/><ellipse cx="278.2" cy="257.9" rx="0.9" ry="0.6" fill="#62da6a" transform="rotate(117 278.2 257.9)"/><ellipse cx="240.2" cy="232.2" rx="2.1" ry="1.8" fill="#52c85a" transform="rotate(28 240.2 232.2)"/><ellipse cx="178.0" cy="192.2" rx="1.6" ry="2.1" fill="#62da6a" transform="rotate(55 178.0 192.2)"/><ellipse cx="202.7" cy="189.9" rx="1.3" ry="0.9" fill="#3fae48" transform="rotate(129 202.7 189.9)"/><ellipse cx="202.7" cy="217.5" rx="2.0" ry="2.1" fill="#52c85a" transform="rotate(46 202.7 217.5)"/><ellipse cx="159.2" cy="169.3" rx="1.0" ry="0.7" fill="#52c85a" transform="rotate(17 159.2 169.3)"/><ellipse cx="232.6" cy="241.6" rx="0.9" ry="0.6" fill="#52c85a" transform="rotate(51 232.6 241.6)"/><ellipse cx="172.8" cy="210.5" rx="1.5" ry="1.2" fill="#62da6a" transform="rotate(30 172.8 210.5)"/><ellipse cx="211.3" cy="230.0" rx="1.6" ry="1.7" fill="#3fae48" transform="rotate(134 211.3 230.0)"/><ellipse cx="244.7" cy="275.4" rx="1.4" ry="0.9" fill="#62da6a" transform="rotate(138 244.7 275.4)"/><ellipse cx="210.8" cy="242.8" rx="2.1" ry="2.3" fill="#2e8a35" transform="rotate(134 210.8 242.8)"/><ellipse cx="208.2" cy="217.5" rx="1.9" ry="2.4" fill="#2e8a35" transform="rotate(88 208.2 217.5)"/><ellipse cx="201.2" cy="177.7" rx="1.5" ry="1.8" fill="#3fae48" transform="rotate(174 201.2 177.7)"/><ellipse cx="186.8" cy="209.4" rx="0.9" ry="1.1" fill="#52c85a" transform="rotate(176 186.8 209.4)"/><ellipse cx="196.7" cy="203.9" rx="1.0" ry="0.6" fill="#62da6a" transform="rotate(13 196.7 203.9)"/><ellipse cx="246.3" cy="216.1" rx="1.5" ry="2.0" fill="#62da6a" transform="rotate(122 246.3 216.1)"/><ellipse cx="222.6" cy="194.5" rx="2.0" ry="1.3" fill="#62da6a" transform="rotate(4 222.6 194.5)"/><ellipse cx="215.2" cy="205.8" rx="1.8" ry="2.2" fill="#2e8a35" transform="rotate(130 215.2 205.8)"/><ellipse cx="199.6" cy="195.2" rx="1.3" ry="1.0" fill="#62da6a" transform="rotate(165 199.6 195.2)"/><ellipse cx="214.9" cy="205.9" rx="1.5" ry="1.7" fill="#52c85a" transform="rotate(160 214.9 205.9)"/><ellipse cx="236.7" cy="206.9" rx="1.1" ry="1.5" fill="#2e8a35" transform="rotate(69 236.7 206.9)"/><ellipse cx="204.4" cy="164.6" rx="1.0" ry="0.8" fill="#3fae48" transform="rotate(158 204.4 164.6)"/><ellipse cx="218.6" cy="205.9" rx="0.9" ry="0.8" fill="#52c85a" transform="rotate(170 218.6 205.9)"/><ellipse cx="227.7" cy="201.0" rx="2.2" ry="1.6" fill="#3fae48" transform="rotate(78 227.7 201.0)"/><ellipse cx="218.0" cy="193.6" rx="1.2" ry="1.6" fill="#52c85a" transform="rotate(58 218.0 193.6)"/><ellipse cx="190.3" cy="227.3" rx="2.1" ry="2.1" fill="#52c85a" transform="rotate(43 190.3 227.3)"/><ellipse cx="222.0" cy="183.6" rx="2.1" ry="2.1" fill="#52c85a" transform="rotate(79 222.0 183.6)"/><ellipse cx="210.6" cy="191.5" rx="1.7" ry="1.9" fill="#52c85a" transform="rotate(18 210.6 191.5)"/><ellipse cx="229.0" cy="229.1" rx="1.9" ry="2.6" fill="#2e8a35" transform="rotate(127 229.0 229.1)"/><ellipse cx="234.8" cy="243.9" rx="1.4" ry="1.3" fill="#3fae48" transform="rotate(81 234.8 243.9)"/><ellipse cx="260.4" cy="273.2" rx="0.9" ry="0.8" fill="#52c85a" transform="rotate(82 260.4 273.2)"/><ellipse cx="236.2" cy="226.8" rx="1.6" ry="2.1" fill="#52c85a" transform="rotate(78 236.2 226.8)"/><ellipse cx="232.4" cy="217.9" rx="1.4" ry="1.4" fill="#62da6a" transform="rotate(41 232.4 217.9)"/><ellipse cx="248.8" cy="212.6" rx="2.0" ry="1.3" fill="#62da6a" transform="rotate(105 248.8 212.6)"/><ellipse cx="236.7" cy="270.1" rx="1.0" ry="1.0" fill="#52c85a" transform="rotate(95 236.7 270.1)"/><ellipse cx="197.4" cy="180.1" rx="1.0" ry="0.7" fill="#2e8a35" transform="rotate(52 197.4 180.1)"/><ellipse cx="214.7" cy="208.8" rx="1.7" ry="1.3" fill="#3fae48" transform="rotate(18 214.7 208.8)"/><ellipse cx="233.4" cy="216.5" rx="0.9" ry="0.6" fill="#2e8a35" transform="rotate(89 233.4 216.5)"/><ellipse cx="220.0" cy="184.6" rx="0.8" ry="0.7" fill="#52c85a" transform="rotate(65 220.0 184.6)"/><ellipse cx="206.8" cy="217.7" rx="1.8" ry="1.9" fill="#52c85a" transform="rotate(14 206.8 217.7)"/><ellipse cx="228.5" cy="215.2" rx="1.8" ry="2.0" fill="#3fae48" transform="rotate(114 228.5 215.2)"/><ellipse cx="214.6" cy="207.2" rx="1.5" ry="1.1" fill="#2e8a35" transform="rotate(153 214.6 207.2)"/><ellipse cx="254.0" cy="214.4" rx="1.1" ry="1.3" fill="#3fae48" transform="rotate(162 254.0 214.4)"/><ellipse cx="181.3" cy="152.0" rx="1.3" ry="1.8" fill="#2e8a35" transform="rotate(169 181.3 152.0)"/><ellipse cx="217.5" cy="211.8" rx="1.0" ry="0.8" fill="#2e8a35" transform="rotate(5 217.5 211.8)"/><ellipse cx="178.9" cy="191.0" rx="2.1" ry="2.2" fill="#52c85a" transform="rotate(159 178.9 191.0)"/><ellipse cx="190.5" cy="266.1" rx="1.9" ry="2.2" fill="#2e8a35" transform="rotate(159 190.5 266.1)"/><ellipse cx="206.2" cy="207.7" rx="1.6" ry="1.4" fill="#62da6a" transform="rotate(121 206.2 207.7)"/><ellipse cx="242.9" cy="226.5" rx="2.1" ry="2.8" fill="#3fae48" transform="rotate(136 242.9 226.5)"/><ellipse cx="247.0" cy="253.4" rx="1.1" ry="1.1" fill="#3fae48" transform="rotate(67 247.0 253.4)"/><ellipse cx="230.9" cy="233.5" rx="1.1" ry="1.1" fill="#52c85a" transform="rotate(115 230.9 233.5)"/><ellipse cx="239.3" cy="203.5" rx="1.2" ry="1.1" fill="#52c85a" transform="rotate(68 239.3 203.5)"/><ellipse cx="200.0" cy="191.9" rx="1.1" ry="1.3" fill="#62da6a" transform="rotate(60 200.0 191.9)"/><ellipse cx="196.7" cy="194.0" rx="1.8" ry="2.5" fill="#52c85a" transform="rotate(68 196.7 194.0)"/><ellipse cx="213.1" cy="210.7" rx="1.6" ry="2.2" fill="#2e8a35" transform="rotate(35 213.1 210.7)"/><ellipse cx="199.5" cy="231.9" rx="1.7" ry="1.1" fill="#62da6a" transform="rotate(165 199.5 231.9)"/><ellipse cx="218.0" cy="233.7" rx="1.3" ry="1.5" fill="#2e8a35" transform="rotate(108 218.0 233.7)"/><ellipse cx="225.2" cy="177.5" rx="1.3" ry="1.1" fill="#3fae48" transform="rotate(141 225.2 177.5)"/><ellipse cx="253.4" cy="209.0" rx="1.6" ry="1.4" fill="#52c85a" transform="rotate(153 253.4 209.0)"/><ellipse cx="223.9" cy="205.0" rx="1.0" ry="1.3" fill="#52c85a" transform="rotate(48 223.9 205.0)"/><ellipse cx="218.0" cy="196.4" rx="1.5" ry="1.1" fill="#52c85a" transform="rotate(139 218.0 196.4)"/><ellipse cx="210.2" cy="205.4" rx="2.1" ry="2.1" fill="#2e8a35" transform="rotate(2 210.2 205.4)"/><ellipse cx="231.6" cy="217.9" rx="1.8" ry="1.7" fill="#2e8a35" transform="rotate(22 231.6 217.9)"/><ellipse cx="246.8" cy="231.4" rx="2.2" ry="1.7" fill="#3fae48" transform="rotate(127 246.8 231.4)"/><ellipse cx="191.1" cy="180.3" rx="1.4" ry="0.9" fill="#2e8a35" transform="rotate(171 191.1 180.3)"/><ellipse cx="216.9" cy="235.4" rx="1.7" ry="1.6" fill="#62da6a" transform="rotate(92 216.9 235.4)"/><ellipse cx="199.0" cy="234.6" rx="2.0" ry="2.6" fill="#3fae48" transform="rotate(152 199.0 234.6)"/><ellipse cx="247.3" cy="202.4" rx="1.3" ry="0.9" fill="#3fae48" transform="rotate(2 247.3 202.4)"/><ellipse cx="192.6" cy="219.8" rx="1.1" ry="0.7" fill="#2e8a35" transform="rotate(34 192.6 219.8)"/><ellipse cx="215.9" cy="243.1" rx="1.1" ry="0.8" fill="#52c85a" transform="rotate(96 215.9 243.1)"/><ellipse cx="220.7" cy="237.8" rx="1.1" ry="1.3" fill="#3fae48" transform="rotate(97 220.7 237.8)"/><ellipse cx="222.1" cy="232.1" rx="1.1" ry="1.1" fill="#3fae48" transform="rotate(142 222.1 232.1)"/><ellipse cx="248.9" cy="242.8" rx="1.4" ry="1.9" fill="#3fae48" transform="rotate(145 248.9 242.8)"/><ellipse cx="223.9" cy="174.5" rx="0.8" ry="0.8" fill="#62da6a" transform="rotate(160 223.9 174.5)"/><ellipse cx="234.3" cy="205.4" rx="0.9" ry="0.9" fill="#52c85a" transform="rotate(140 234.3 205.4)"/><ellipse cx="200.2" cy="220.4" rx="1.5" ry="1.1" fill="#2e8a35" transform="rotate(61 200.2 220.4)"/><ellipse cx="216.6" cy="181.5" rx="2.1" ry="1.7" fill="#62da6a" transform="rotate(21 216.6 181.5)"/><ellipse cx="204.0" cy="180.9" rx="1.9" ry="1.3" fill="#52c85a" transform="rotate(56 204.0 180.9)"/><ellipse cx="223.9" cy="249.6" rx="2.1" ry="1.3" fill="#62da6a" transform="rotate(134 223.9 249.6)"/><ellipse cx="238.3" cy="217.6" rx="1.7" ry="1.6" fill="#3fae48" transform="rotate(100 238.3 217.6)"/><ellipse cx="200.8" cy="204.9" rx="1.7" ry="1.8" fill="#62da6a" transform="rotate(78 200.8 204.9)"/><ellipse cx="217.8" cy="211.0" rx="1.0" ry="0.8" fill="#52c85a" transform="rotate(30 217.8 211.0)"/><ellipse cx="218.4" cy="215.8" rx="2.0" ry="2.7" fill="#52c85a" transform="rotate(45 218.4 215.8)"/><ellipse cx="174.5" cy="194.2" rx="1.2" ry="1.3" fill="#52c85a" transform="rotate(150 174.5 194.2)"/><ellipse cx="220.6" cy="192.1" rx="1.3" ry="1.7" fill="#2e8a35" transform="rotate(117 220.6 192.1)"/><ellipse cx="187.9" cy="215.7" rx="2.0" ry="1.6" fill="#3fae48" transform="rotate(179 187.9 215.7)"/><ellipse cx="196.0" cy="207.4" rx="1.8" ry="1.1" fill="#52c85a" transform="rotate(104 196.0 207.4)"/><ellipse cx="230.2" cy="224.7" rx="1.9" ry="2.5" fill="#52c85a" transform="rotate(161 230.2 224.7)"/><ellipse cx="268.1" cy="223.0" rx="1.7" ry="1.9" fill="#62da6a" transform="rotate(38 268.1 223.0)"/><ellipse cx="211.8" cy="256.3" rx="1.7" ry="1.4" fill="#62da6a" transform="rotate(23 211.8 256.3)"/><ellipse cx="203.1" cy="204.3" rx="1.9" ry="1.4" fill="#3fae48" transform="rotate(20 203.1 204.3)"/><ellipse cx="207.1" cy="202.4" rx="1.0" ry="1.0" fill="#2e8a35" transform="rotate(53 207.1 202.4)"/></g>
<g opacity="0.85" filter="url(#b0)"><ellipse cx="246.7" cy="201.5" rx="0.8" ry="0.7" fill="#37a040" transform="rotate(68 246.7 201.5)"/><ellipse cx="173.2" cy="184.6" rx="1.3" ry="1.0" fill="#4ec057" transform="rotate(82 173.2 184.6)"/><ellipse cx="207.1" cy="190.9" rx="1.4" ry="0.9" fill="#2e8a35" transform="rotate(113 207.1 190.9)"/><ellipse cx="167.0" cy="172.4" rx="1.7" ry="1.9" fill="#37a040" transform="rotate(118 167.0 172.4)"/><ellipse cx="177.9" cy="142.7" rx="1.5" ry="1.9" fill="#4ec057" transform="rotate(174 177.9 142.7)"/><ellipse cx="172.2" cy="204.5" rx="0.9" ry="0.9" fill="#2e8a35" transform="rotate(129 172.2 204.5)"/><ellipse cx="187.5" cy="167.7" rx="1.0" ry="1.2" fill="#2e8a35" transform="rotate(96 187.5 167.7)"/><ellipse cx="197.3" cy="167.4" rx="0.9" ry="0.6" fill="#2e8a35" transform="rotate(7 197.3 167.4)"/><ellipse cx="187.4" cy="195.0" rx="1.2" ry="1.1" fill="#2e8a35" transform="rotate(52 187.4 195.0)"/><ellipse cx="178.2" cy="193.7" rx="1.1" ry="0.8" fill="#2e8a35" transform="rotate(112 178.2 193.7)"/><ellipse cx="215.1" cy="213.4" rx="1.1" ry="1.1" fill="#4ec057" transform="rotate(165 215.1 213.4)"/><ellipse cx="172.8" cy="146.5" rx="1.3" ry="0.8" fill="#37a040" transform="rotate(114 172.8 146.5)"/><ellipse cx="189.0" cy="182.7" rx="1.6" ry="2.2" fill="#37a040" transform="rotate(145 189.0 182.7)"/><ellipse cx="224.0" cy="196.0" rx="1.7" ry="1.5" fill="#4ec057" transform="rotate(175 224.0 196.0)"/><ellipse cx="188.4" cy="183.6" rx="1.1" ry="1.2" fill="#37a040" transform="rotate(136 188.4 183.6)"/><ellipse cx="183.9" cy="176.9" rx="0.9" ry="0.9" fill="#37a040" transform="rotate(31 183.9 176.9)"/><ellipse cx="171.7" cy="157.9" rx="0.9" ry="0.7" fill="#4ec057" transform="rotate(2 171.7 157.9)"/><ellipse cx="212.0" cy="172.0" rx="1.8" ry="2.3" fill="#4ec057" transform="rotate(124 212.0 172.0)"/><ellipse cx="170.9" cy="176.3" rx="1.7" ry="1.8" fill="#2e8a35" transform="rotate(77 170.9 176.3)"/><ellipse cx="176.2" cy="196.0" rx="1.5" ry="1.8" fill="#2e8a35" transform="rotate(20 176.2 196.0)"/><ellipse cx="193.5" cy="170.8" rx="1.7" ry="1.6" fill="#2e8a35" transform="rotate(30 193.5 170.8)"/><ellipse cx="196.6" cy="171.3" rx="1.5" ry="1.1" fill="#2e8a35" transform="rotate(101 196.6 171.3)"/><ellipse cx="179.3" cy="173.4" rx="1.1" ry="1.0" fill="#2e8a35" transform="rotate(4 179.3 173.4)"/><ellipse cx="231.9" cy="200.8" rx="1.0" ry="1.2" fill="#4ec057" transform="rotate(31 231.9 200.8)"/><ellipse cx="179.8" cy="175.7" rx="1.3" ry="1.1" fill="#37a040" transform="rotate(108 179.8 175.7)"/><ellipse cx="229.3" cy="204.3" rx="1.4" ry="1.2" fill="#37a040" transform="rotate(162 229.3 204.3)"/><ellipse cx="224.3" cy="217.5" rx="1.3" ry="0.8" fill="#4ec057" transform="rotate(82 224.3 217.5)"/><ellipse cx="171.3" cy="176.6" rx="1.2" ry="1.0" fill="#4ec057" transform="rotate(173 171.3 176.6)"/><ellipse cx="184.6" cy="186.4" rx="1.9" ry="2.1" fill="#4ec057" transform="rotate(136 184.6 186.4)"/><ellipse cx="222.4" cy="188.5" rx="0.9" ry="0.7" fill="#2e8a35" transform="rotate(47 222.4 188.5)"/><ellipse cx="219.3" cy="184.6" rx="1.5" ry="2.1" fill="#37a040" transform="rotate(50 219.3 184.6)"/><ellipse cx="201.1" cy="184.0" rx="1.1" ry="1.4" fill="#37a040" transform="rotate(45 201.1 184.0)"/><ellipse cx="226.5" cy="201.3" rx="1.3" ry="0.9" fill="#37a040" transform="rotate(36 226.5 201.3)"/><ellipse cx="180.8" cy="163.4" rx="1.0" ry="1.0" fill="#37a040" transform="rotate(110 180.8 163.4)"/><ellipse cx="150.7" cy="183.3" rx="1.9" ry="2.1" fill="#2e8a35" transform="rotate(31 150.7 183.3)"/><ellipse cx="241.5" cy="209.3" rx="2.0" ry="1.4" fill="#37a040" transform="rotate(123 241.5 209.3)"/><ellipse cx="216.1" cy="191.2" rx="1.2" ry="1.4" fill="#2e8a35" transform="rotate(9 216.1 191.2)"/><ellipse cx="226.2" cy="210.0" rx="1.2" ry="0.8" fill="#37a040" transform="rotate(17 226.2 210.0)"/><ellipse cx="211.3" cy="185.1" rx="2.0" ry="2.4" fill="#4ec057" transform="rotate(40 211.3 185.1)"/><ellipse cx="172.1" cy="147.4" rx="1.2" ry="1.4" fill="#2e8a35" transform="rotate(134 172.1 147.4)"/><ellipse cx="216.6" cy="190.9" rx="2.0" ry="2.7" fill="#2e8a35" transform="rotate(23 216.6 190.9)"/><ellipse cx="169.2" cy="180.7" rx="1.4" ry="1.2" fill="#37a040" transform="rotate(38 169.2 180.7)"/><ellipse cx="197.1" cy="175.9" rx="1.3" ry="0.8" fill="#4ec057" transform="rotate(57 197.1 175.9)"/><ellipse cx="164.3" cy="172.0" rx="1.9" ry="1.7" fill="#2e8a35" transform="rotate(172 164.3 172.0)"/><ellipse cx="213.5" cy="197.1" rx="1.3" ry="1.1" fill="#37a040" transform="rotate(90 213.5 197.1)"/><ellipse cx="236.8" cy="214.0" rx="1.3" ry="1.4" fill="#2e8a35" transform="rotate(165 236.8 214.0)"/><ellipse cx="227.5" cy="201.7" rx="2.0" ry="1.9" fill="#4ec057" transform="rotate(1 227.5 201.7)"/><ellipse cx="195.0" cy="173.0" rx="0.8" ry="0.8" fill="#2e8a35" transform="rotate(175 195.0 173.0)"/><ellipse cx="209.1" cy="168.4" rx="1.8" ry="2.2" fill="#2e8a35" transform="rotate(26 209.1 168.4)"/><ellipse cx="231.1" cy="204.3" rx="1.4" ry="1.6" fill="#2e8a35" transform="rotate(167 231.1 204.3)"/><ellipse cx="170.8" cy="174.9" rx="1.8" ry="1.2" fill="#2e8a35" transform="rotate(3 170.8 174.9)"/><ellipse cx="188.4" cy="175.6" rx="1.0" ry="0.9" fill="#2e8a35" transform="rotate(176 188.4 175.6)"/><ellipse cx="192.7" cy="191.8" rx="1.9" ry="2.6" fill="#4ec057" transform="rotate(98 192.7 191.8)"/><ellipse cx="174.9" cy="187.8" rx="1.7" ry="1.8" fill="#37a040" transform="rotate(162 174.9 187.8)"/><ellipse cx="207.1" cy="208.4" rx="1.6" ry="1.1" fill="#37a040" transform="rotate(166 207.1 208.4)"/><ellipse cx="209.2" cy="190.1" rx="0.9" ry="0.6" fill="#2e8a35" transform="rotate(143 209.2 190.1)"/><ellipse cx="208.5" cy="154.8" rx="0.8" ry="0.7" fill="#2e8a35" transform="rotate(98 208.5 154.8)"/><ellipse cx="172.8" cy="175.8" rx="1.9" ry="1.4" fill="#37a040" transform="rotate(132 172.8 175.8)"/><ellipse cx="201.8" cy="180.7" rx="1.0" ry="0.8" fill="#37a040" transform="rotate(11 201.8 180.7)"/><ellipse cx="198.0" cy="176.7" rx="1.5" ry="1.4" fill="#37a040" transform="rotate(8 198.0 176.7)"/><ellipse cx="208.2" cy="175.4" rx="1.6" ry="1.1" fill="#37a040" transform="rotate(143 208.2 175.4)"/><ellipse cx="178.3" cy="185.2" rx="1.5" ry="2.0" fill="#2e8a35" transform="rotate(2 178.3 185.2)"/><ellipse cx="179.9" cy="171.3" rx="1.6" ry="1.7" fill="#4ec057" transform="rotate(150 179.9 171.3)"/><ellipse cx="196.5" cy="208.1" rx="1.0" ry="0.7" fill="#37a040" transform="rotate(105 196.5 208.1)"/><ellipse cx="226.0" cy="200.1" rx="1.7" ry="1.3" fill="#4ec057" transform="rotate(31 226.0 200.1)"/><ellipse cx="197.4" cy="164.2" rx="1.9" ry="2.4" fill="#2e8a35" transform="rotate(151 197.4 164.2)"/><ellipse cx="188.2" cy="196.5" rx="1.7" ry="2.3" fill="#2e8a35" transform="rotate(165 188.2 196.5)"/><ellipse cx="209.0" cy="203.9" rx="0.9" ry="1.0" fill="#4ec057" transform="rotate(68 209.0 203.9)"/><ellipse cx="172.5" cy="188.8" rx="1.1" ry="1.0" fill="#2e8a35" transform="rotate(159 172.5 188.8)"/><ellipse cx="188.7" cy="179.3" rx="1.8" ry="1.5" fill="#2e8a35" transform="rotate(101 188.7 179.3)"/><ellipse cx="208.5" cy="189.9" rx="1.7" ry="1.2" fill="#37a040" transform="rotate(101 208.5 189.9)"/><ellipse cx="189.0" cy="158.5" rx="1.8" ry="1.3" fill="#4ec057" transform="rotate(160 189.0 158.5)"/><ellipse cx="189.1" cy="185.4" rx="1.7" ry="1.5" fill="#2e8a35" transform="rotate(17 189.1 185.4)"/><ellipse cx="178.0" cy="176.9" rx="1.3" ry="1.5" fill="#37a040" transform="rotate(68 178.0 176.9)"/><ellipse cx="203.0" cy="178.1" rx="1.9" ry="1.2" fill="#2e8a35" transform="rotate(155 203.0 178.1)"/><ellipse cx="215.3" cy="173.5" rx="1.8" ry="2.1" fill="#37a040" transform="rotate(118 215.3 173.5)"/><ellipse cx="214.6" cy="184.5" rx="1.6" ry="2.1" fill="#4ec057" transform="rotate(26 214.6 184.5)"/><ellipse cx="185.3" cy="191.9" rx="1.5" ry="1.6" fill="#2e8a35" transform="rotate(146 185.3 191.9)"/><ellipse cx="181.0" cy="162.9" rx="1.3" ry="1.5" fill="#2e8a35" transform="rotate(108 181.0 162.9)"/><ellipse cx="183.0" cy="180.8" rx="1.8" ry="2.3" fill="#37a040" transform="rotate(142 183.0 180.8)"/><ellipse cx="168.9" cy="154.2" rx="1.2" ry="1.6" fill="#4ec057" transform="rotate(140 168.9 154.2)"/><ellipse cx="193.7" cy="156.2" rx="1.0" ry="0.6" fill="#4ec057" transform="rotate(110 193.7 156.2)"/><ellipse cx="217.8" cy="189.5" rx="1.5" ry="1.9" fill="#37a040" transform="rotate(94 217.8 189.5)"/><ellipse cx="180.5" cy="206.6" rx="2.0" ry="2.3" fill="#37a040" transform="rotate(177 180.5 206.6)"/><ellipse cx="210.6" cy="191.5" rx="1.2" ry="1.4" fill="#2e8a35" transform="rotate(73 210.6 191.5)"/><ellipse cx="187.7" cy="183.9" rx="1.8" ry="1.2" fill="#4ec057" transform="rotate(68 187.7 183.9)"/><ellipse cx="176.2" cy="192.1" rx="0.9" ry="0.6" fill="#37a040" transform="rotate(33 176.2 192.1)"/><ellipse cx="214.1" cy="186.0" rx="1.2" ry="0.8" fill="#37a040" transform="rotate(121 214.1 186.0)"/><ellipse cx="180.6" cy="188.0" rx="1.8" ry="2.4" fill="#2e8a35" transform="rotate(180 180.6 188.0)"/><ellipse cx="197.9" cy="201.7" rx="1.9" ry="2.3" fill="#4ec057" transform="rotate(51 197.9 201.7)"/></g>
<ellipse cx="238" cy="245" rx="20" ry="12" fill="#4cbc54" filter="url(#b4)" transform="rotate(50 238 245)" opacity="0.8"/>
<g opacity="0.9" filter="url(#b0)"><ellipse cx="243.2" cy="248.2" rx="1.5" ry="1.5" fill="#5ad062" transform="rotate(126 243.2 248.2)"/><ellipse cx="251.4" cy="228.3" rx="1.1" ry="1.5" fill="#5ad062" transform="rotate(58 251.4 228.3)"/><ellipse cx="229.5" cy="212.7" rx="1.6" ry="1.1" fill="#7ae884" transform="rotate(159 229.5 212.7)"/><ellipse cx="233.5" cy="231.7" rx="1.0" ry="0.7" fill="#6ee478" transform="rotate(96 233.5 231.7)"/><ellipse cx="255.0" cy="220.5" rx="1.6" ry="1.8" fill="#5ad062" transform="rotate(47 255.0 220.5)"/><ellipse cx="246.8" cy="251.1" rx="1.1" ry="0.9" fill="#6ee478" transform="rotate(125 246.8 251.1)"/><ellipse cx="226.1" cy="235.9" rx="1.3" ry="1.0" fill="#5ad062" transform="rotate(51 226.1 235.9)"/><ellipse cx="249.4" cy="247.2" rx="1.2" ry="1.1" fill="#6ee478" transform="rotate(105 249.4 247.2)"/><ellipse cx="223.3" cy="246.7" rx="1.7" ry="2.3" fill="#7ae884" transform="rotate(77 223.3 246.7)"/><ellipse cx="241.3" cy="257.2" rx="1.3" ry="1.2" fill="#5ad062" transform="rotate(167 241.3 257.2)"/><ellipse cx="250.7" cy="253.9" rx="0.8" ry="0.8" fill="#7ae884" transform="rotate(35 250.7 253.9)"/><ellipse cx="244.8" cy="255.1" rx="1.2" ry="1.1" fill="#6ee478" transform="rotate(34 244.8 255.1)"/><ellipse cx="246.4" cy="258.7" rx="1.6" ry="1.1" fill="#6ee478" transform="rotate(35 246.4 258.7)"/><ellipse cx="237.9" cy="250.2" rx="0.9" ry="0.6" fill="#7ae884" transform="rotate(127 237.9 250.2)"/><ellipse cx="237.5" cy="253.1" rx="1.4" ry="0.9" fill="#7ae884" transform="rotate(129 237.5 253.1)"/><ellipse cx="242.5" cy="247.5" rx="1.9" ry="1.2" fill="#48bb51" transform="rotate(90 242.5 247.5)"/><ellipse cx="236.4" cy="231.7" rx="1.6" ry="1.7" fill="#6ee478" transform="rotate(126 236.4 231.7)"/><ellipse cx="236.0" cy="247.3" rx="1.2" ry="0.8" fill="#6ee478" transform="rotate(39 236.0 247.3)"/><ellipse cx="221.0" cy="255.2" rx="0.8" ry="1.0" fill="#6ee478" transform="rotate(105 221.0 255.2)"/><ellipse cx="235.1" cy="230.0" rx="1.7" ry="2.3" fill="#5ad062" transform="rotate(150 235.1 230.0)"/><ellipse cx="244.3" cy="255.4" rx="1.0" ry="1.3" fill="#5ad062" transform="rotate(114 244.3 255.4)"/><ellipse cx="247.5" cy="262.7" rx="1.4" ry="1.1" fill="#7ae884" transform="rotate(42 247.5 262.7)"/><ellipse cx="233.8" cy="244.9" rx="1.0" ry="1.4" fill="#6ee478" transform="rotate(57 233.8 244.9)"/><ellipse cx="241.7" cy="250.3" rx="0.9" ry="0.8" fill="#48bb51" transform="rotate(5 241.7 250.3)"/><ellipse cx="237.8" cy="242.5" rx="1.8" ry="1.4" fill="#7ae884" transform="rotate(96 237.8 242.5)"/><ellipse cx="237.2" cy="254.2" rx="1.6" ry="1.8" fill="#5ad062" transform="rotate(19 237.2 254.2)"/><ellipse cx="266.3" cy="246.1" rx="1.1" ry="1.4" fill="#48bb51" transform="rotate(47 266.3 246.1)"/><ellipse cx="227.0" cy="250.0" rx="1.8" ry="1.8" fill="#48bb51" transform="rotate(125 227.0 250.0)"/><ellipse cx="266.5" cy="239.9" rx="1.4" ry="1.2" fill="#6ee478" transform="rotate(158 266.5 239.9)"/><ellipse cx="244.3" cy="262.5" rx="1.6" ry="1.1" fill="#6ee478" transform="rotate(166 244.3 262.5)"/><ellipse cx="233.1" cy="242.8" rx="1.0" ry="0.9" fill="#6ee478" transform="rotate(171 233.1 242.8)"/><ellipse cx="245.5" cy="253.1" rx="0.9" ry="0.9" fill="#5ad062" transform="rotate(9 245.5 253.1)"/><ellipse cx="236.7" cy="238.4" rx="1.9" ry="1.5" fill="#5ad062" transform="rotate(55 236.7 238.4)"/><ellipse cx="213.2" cy="246.4" rx="1.2" ry="1.4" fill="#48bb51" transform="rotate(143 213.2 246.4)"/><ellipse cx="241.9" cy="252.5" rx="1.6" ry="1.0" fill="#48bb51" transform="rotate(44 241.9 252.5)"/><ellipse cx="238.7" cy="254.1" rx="1.9" ry="1.3" fill="#5ad062" transform="rotate(163 238.7 254.1)"/><ellipse cx="262.1" cy="241.8" rx="1.4" ry="1.3" fill="#6ee478" transform="rotate(64 262.1 241.8)"/><ellipse cx="246.2" cy="241.7" rx="1.9" ry="2.5" fill="#6ee478" transform="rotate(67 246.2 241.7)"/><ellipse cx="255.2" cy="274.2" rx="0.9" ry="1.1" fill="#6ee478" transform="rotate(135 255.2 274.2)"/><ellipse cx="230.1" cy="228.9" rx="2.0" ry="2.5" fill="#48bb51" transform="rotate(20 230.1 228.9)"/><ellipse cx="218.1" cy="223.9" rx="0.9" ry="0.8" fill="#7ae884" transform="rotate(69 218.1 223.9)"/><ellipse cx="253.1" cy="251.7" rx="1.3" ry="1.4" fill="#7ae884" transform="rotate(71 253.1 251.7)"/><ellipse cx="214.9" cy="224.5" rx="1.2" ry="1.0" fill="#7ae884" transform="rotate(2 214.9 224.5)"/><ellipse cx="239.7" cy="250.6" rx="1.7" ry="1.1" fill="#7ae884" transform="rotate(101 239.7 250.6)"/><ellipse cx="244.8" cy="240.4" rx="0.8" ry="1.1" fill="#6ee478" transform="rotate(105 244.8 240.4)"/><ellipse cx="229.3" cy="244.7" rx="1.9" ry="1.7" fill="#6ee478" transform="rotate(72 229.3 244.7)"/><ellipse cx="233.1" cy="234.9" rx="1.6" ry="1.5" fill="#7ae884" transform="rotate(144 233.1 234.9)"/><ellipse cx="216.1" cy="230.3" rx="1.7" ry="1.4" fill="#6ee478" transform="rotate(95 216.1 230.3)"/><ellipse cx="240.9" cy="229.2" rx="1.5" ry="1.2" fill="#6ee478" transform="rotate(83 240.9 229.2)"/><ellipse cx="267.0" cy="237.4" rx="1.5" ry="1.2" fill="#5ad062" transform="rotate(75 267.0 237.4)"/><ellipse cx="238.9" cy="263.6" rx="1.5" ry="1.5" fill="#5ad062" transform="rotate(117 238.9 263.6)"/><ellipse cx="241.8" cy="266.5" rx="1.3" ry="0.9" fill="#6ee478" transform="rotate(91 241.8 266.5)"/><ellipse cx="238.1" cy="241.9" rx="1.3" ry="1.7" fill="#6ee478" transform="rotate(28 238.1 241.9)"/><ellipse cx="251.0" cy="253.0" rx="1.6" ry="1.3" fill="#6ee478" transform="rotate(22 251.0 253.0)"/><ellipse cx="233.7" cy="260.7" rx="1.6" ry="1.7" fill="#48bb51" transform="rotate(59 233.7 260.7)"/><ellipse cx="245.4" cy="239.6" rx="1.7" ry="1.9" fill="#6ee478" transform="rotate(111 245.4 239.6)"/><ellipse cx="235.3" cy="242.6" rx="1.6" ry="1.3" fill="#7ae884" transform="rotate(77 235.3 242.6)"/><ellipse cx="241.7" cy="237.4" rx="1.1" ry="1.2" fill="#7ae884" transform="rotate(111 241.7 237.4)"/><ellipse cx="222.5" cy="250.5" rx="1.9" ry="1.9" fill="#48bb51" transform="rotate(163 222.5 250.5)"/><ellipse cx="241.4" cy="230.3" rx="1.3" ry="1.7" fill="#6ee478" transform="rotate(2 241.4 230.3)"/><ellipse cx="238.2" cy="230.8" rx="1.5" ry="2.0" fill="#48bb51" transform="rotate(70 238.2 230.8)"/><ellipse cx="223.6" cy="247.8" rx="1.9" ry="2.7" fill="#6ee478" transform="rotate(20 223.6 247.8)"/><ellipse cx="229.5" cy="236.4" rx="1.8" ry="1.7" fill="#7ae884" transform="rotate(30 229.5 236.4)"/><ellipse cx="241.2" cy="249.0" rx="1.3" ry="1.5" fill="#48bb51" transform="rotate(88 241.2 249.0)"/><ellipse cx="224.2" cy="248.7" rx="1.7" ry="1.5" fill="#48bb51" transform="rotate(15 224.2 248.7)"/><ellipse cx="229.2" cy="235.9" rx="1.3" ry="0.9" fill="#6ee478" transform="rotate(146 229.2 235.9)"/><ellipse cx="252.1" cy="235.3" rx="1.7" ry="1.0" fill="#48bb51" transform="rotate(162 252.1 235.3)"/><ellipse cx="250.0" cy="240.8" rx="1.0" ry="0.8" fill="#7ae884" transform="rotate(132 250.0 240.8)"/><ellipse cx="238.7" cy="246.1" rx="0.9" ry="0.8" fill="#7ae884" transform="rotate(20 238.7 246.1)"/><ellipse cx="231.1" cy="250.4" rx="1.0" ry="0.8" fill="#7ae884" transform="rotate(164 231.1 250.4)"/><ellipse cx="250.0" cy="237.4" rx="0.9" ry="1.2" fill="#7ae884" transform="rotate(25 250.0 237.4)"/><ellipse cx="238.1" cy="264.4" rx="1.9" ry="2.2" fill="#6ee478" transform="rotate(63 238.1 264.4)"/><ellipse cx="250.8" cy="258.5" rx="1.6" ry="1.7" fill="#48bb51" transform="rotate(40 250.8 258.5)"/><ellipse cx="236.7" cy="236.4" rx="1.1" ry="1.5" fill="#48bb51" transform="rotate(168 236.7 236.4)"/><ellipse cx="235.0" cy="245.6" rx="1.8" ry="1.5" fill="#7ae884" transform="rotate(22 235.0 245.6)"/><ellipse cx="245.4" cy="271.6" rx="1.6" ry="2.0" fill="#5ad062" transform="rotate(88 245.4 271.6)"/><ellipse cx="223.6" cy="231.2" rx="1.7" ry="2.1" fill="#6ee478" transform="rotate(31 223.6 231.2)"/><ellipse cx="229.6" cy="247.7" rx="0.9" ry="0.9" fill="#5ad062" transform="rotate(43 229.6 247.7)"/><ellipse cx="229.4" cy="227.6" rx="2.0" ry="1.6" fill="#6ee478" transform="rotate(58 229.4 227.6)"/><ellipse cx="240.3" cy="246.1" rx="1.5" ry="0.9" fill="#5ad062" transform="rotate(55 240.3 246.1)"/><ellipse cx="247.0" cy="240.6" rx="1.2" ry="1.2" fill="#5ad062" transform="rotate(90 247.0 240.6)"/><ellipse cx="207.5" cy="235.9" rx="1.3" ry="1.0" fill="#48bb51" transform="rotate(138 207.5 235.9)"/><ellipse cx="240.1" cy="254.0" rx="1.2" ry="1.0" fill="#7ae884" transform="rotate(65 240.1 254.0)"/><ellipse cx="238.3" cy="253.2" rx="1.1" ry="0.7" fill="#48bb51" transform="rotate(133 238.3 253.2)"/><ellipse cx="256.6" cy="260.6" rx="1.5" ry="1.1" fill="#7ae884" transform="rotate(146 256.6 260.6)"/><ellipse cx="239.0" cy="250.7" rx="1.7" ry="1.4" fill="#6ee478" transform="rotate(78 239.0 250.7)"/><ellipse cx="241.0" cy="255.7" rx="1.3" ry="1.8" fill="#7ae884" transform="rotate(81 241.0 255.7)"/><ellipse cx="262.5" cy="236.4" rx="1.4" ry="1.6" fill="#5ad062" transform="rotate(169 262.5 236.4)"/><ellipse cx="250.0" cy="239.9" rx="1.4" ry="2.0" fill="#7ae884" transform="rotate(107 250.0 239.9)"/><ellipse cx="233.2" cy="229.8" rx="1.1" ry="1.1" fill="#7ae884" transform="rotate(90 233.2 229.8)"/><ellipse cx="238.7" cy="257.6" rx="1.6" ry="1.7" fill="#48bb51" transform="rotate(66 238.7 257.6)"/><ellipse cx="249.8" cy="260.9" rx="1.4" ry="1.9" fill="#5ad062" transform="rotate(141 249.8 260.9)"/><ellipse cx="243.9" cy="252.0" rx="1.4" ry="0.9" fill="#48bb51" transform="rotate(33 243.9 252.0)"/><ellipse cx="233.5" cy="249.3" rx="0.9" ry="0.6" fill="#48bb51" transform="rotate(16 233.5 249.3)"/><ellipse cx="254.6" cy="222.9" rx="1.5" ry="1.8" fill="#6ee478" transform="rotate(92 254.6 222.9)"/><ellipse cx="234.7" cy="236.3" rx="0.8" ry="0.8" fill="#48bb51" transform="rotate(34 234.7 236.3)"/><ellipse cx="238.2" cy="247.0" rx="2.0" ry="2.5" fill="#5ad062" transform="rotate(35 238.2 247.0)"/><ellipse cx="225.9" cy="227.9" rx="0.9" ry="0.7" fill="#6ee478" transform="rotate(51 225.9 227.9)"/><ellipse cx="229.0" cy="247.5" rx="1.5" ry="1.3" fill="#5ad062" transform="rotate(41 229.0 247.5)"/><ellipse cx="224.9" cy="240.7" rx="1.1" ry="1.5" fill="#48bb51" transform="rotate(9 224.9 240.7)"/><ellipse cx="233.1" cy="244.4" rx="1.6" ry="2.1" fill="#6ee478" transform="rotate(120 233.1 244.4)"/><ellipse cx="238.0" cy="255.8" rx="1.4" ry="1.0" fill="#48bb51" transform="rotate(86 238.0 255.8)"/><ellipse cx="238.6" cy="222.4" rx="1.9" ry="1.6" fill="#7ae884" transform="rotate(29 238.6 222.4)"/><ellipse cx="239.3" cy="243.7" rx="1.1" ry="1.3" fill="#6ee478" transform="rotate(70 239.3 243.7)"/><ellipse cx="246.2" cy="250.1" rx="2.0" ry="2.5" fill="#5ad062" transform="rotate(105 246.2 250.1)"/><ellipse cx="221.8" cy="232.3" rx="1.2" ry="0.9" fill="#5ad062" transform="rotate(162 221.8 232.3)"/><ellipse cx="236.1" cy="230.8" rx="0.9" ry="1.1" fill="#7ae884" transform="rotate(95 236.1 230.8)"/><ellipse cx="257.0" cy="250.0" rx="1.7" ry="1.5" fill="#5ad062" transform="rotate(115 257.0 250.0)"/><ellipse cx="254.2" cy="259.2" rx="1.6" ry="1.1" fill="#6ee478" transform="rotate(35 254.2 259.2)"/><ellipse cx="232.5" cy="224.0" rx="1.9" ry="2.5" fill="#6ee478" transform="rotate(88 232.5 224.0)"/><ellipse cx="220.7" cy="234.1" rx="1.9" ry="1.6" fill="#7ae884" transform="rotate(22 220.7 234.1)"/><ellipse cx="265.4" cy="254.0" rx="1.2" ry="1.1" fill="#7ae884" transform="rotate(114 265.4 254.0)"/><ellipse cx="222.8" cy="220.5" rx="2.0" ry="1.4" fill="#6ee478" transform="rotate(87 222.8 220.5)"/><ellipse cx="240.0" cy="262.8" rx="1.1" ry="1.1" fill="#7ae884" transform="rotate(143 240.0 262.8)"/><ellipse cx="230.7" cy="212.9" rx="1.3" ry="1.6" fill="#48bb51" transform="rotate(19 230.7 212.9)"/><ellipse cx="243.3" cy="263.1" rx="1.4" ry="1.8" fill="#48bb51" transform="rotate(27 243.3 263.1)"/><ellipse cx="249.6" cy="244.7" rx="1.8" ry="1.8" fill="#6ee478" transform="rotate(52 249.6 244.7)"/><ellipse cx="218.2" cy="217.5" rx="1.0" ry="1.3" fill="#7ae884" transform="rotate(59 218.2 217.5)"/><ellipse cx="234.0" cy="261.1" rx="0.9" ry="0.8" fill="#6ee478" transform="rotate(116 234.0 261.1)"/><ellipse cx="225.6" cy="228.5" rx="1.3" ry="0.8" fill="#5ad062" transform="rotate(78 225.6 228.5)"/><ellipse cx="244.2" cy="236.7" rx="1.1" ry="1.1" fill="#7ae884" transform="rotate(91 244.2 236.7)"/><ellipse cx="260.4" cy="248.9" rx="1.9" ry="1.6" fill="#6ee478" transform="rotate(138 260.4 248.9)"/><ellipse cx="229.2" cy="232.4" rx="1.6" ry="1.8" fill="#48bb51" transform="rotate(161 229.2 232.4)"/><ellipse cx="268.8" cy="276.5" rx="1.3" ry="1.5" fill="#5ad062" transform="rotate(177 268.8 276.5)"/><ellipse cx="230.6" cy="235.6" rx="1.4" ry="0.9" fill="#7ae884" transform="rotate(167 230.6 235.6)"/><ellipse cx="238.2" cy="259.1" rx="2.0" ry="1.6" fill="#6ee478" transform="rotate(67 238.2 259.1)"/><ellipse cx="225.3" cy="240.5" rx="1.7" ry="1.1" fill="#5ad062" transform="rotate(131 225.3 240.5)"/><ellipse cx="244.1" cy="241.6" rx="1.8" ry="1.3" fill="#7ae884" transform="rotate(143 244.1 241.6)"/><ellipse cx="244.5" cy="239.2" rx="1.6" ry="2.2" fill="#5ad062" transform="rotate(155 244.5 239.2)"/><ellipse cx="231.1" cy="233.8" rx="1.5" ry="1.7" fill="#7ae884" transform="rotate(118 231.1 233.8)"/><ellipse cx="272.3" cy="262.8" rx="1.7" ry="1.5" fill="#6ee478" transform="rotate(86 272.3 262.8)"/><ellipse cx="240.9" cy="259.1" rx="1.4" ry="0.9" fill="#5ad062" transform="rotate(122 240.9 259.1)"/><ellipse cx="231.5" cy="236.5" rx="1.1" ry="1.4" fill="#6ee478" transform="rotate(122 231.5 236.5)"/><ellipse cx="220.2" cy="239.8" rx="1.1" ry="1.5" fill="#48bb51" transform="rotate(83 220.2 239.8)"/><ellipse cx="238.6" cy="240.2" rx="1.0" ry="1.0" fill="#5ad062" transform="rotate(87 238.6 240.2)"/><ellipse cx="228.6" cy="243.4" rx="1.6" ry="1.8" fill="#7ae884" transform="rotate(142 228.6 243.4)"/><ellipse cx="254.0" cy="230.1" rx="2.0" ry="2.6" fill="#5ad062" transform="rotate(30 254.0 230.1)"/><ellipse cx="272.3" cy="249.0" rx="1.9" ry="2.1" fill="#7ae884" transform="rotate(95 272.3 249.0)"/><ellipse cx="228.7" cy="232.2" rx="1.1" ry="1.0" fill="#6ee478" transform="rotate(4 228.7 232.2)"/><ellipse cx="216.8" cy="244.1" rx="0.9" ry="0.5" fill="#6ee478" transform="rotate(92 216.8 244.1)"/><ellipse cx="231.9" cy="218.1" rx="1.0" ry="1.3" fill="#7ae884" transform="rotate(140 231.9 218.1)"/><ellipse cx="253.2" cy="239.8" rx="0.8" ry="0.7" fill="#48bb51" transform="rotate(66 253.2 239.8)"/><ellipse cx="242.4" cy="238.6" rx="1.7" ry="2.4" fill="#5ad062" transform="rotate(138 242.4 238.6)"/><ellipse cx="220.7" cy="243.4" rx="1.9" ry="1.5" fill="#48bb51" transform="rotate(131 220.7 243.4)"/><ellipse cx="240.4" cy="238.1" rx="1.9" ry="1.6" fill="#5ad062" transform="rotate(53 240.4 238.1)"/><ellipse cx="239.5" cy="234.7" rx="0.8" ry="0.5" fill="#5ad062" transform="rotate(61 239.5 234.7)"/><ellipse cx="244.5" cy="246.3" rx="0.9" ry="0.6" fill="#5ad062" transform="rotate(14 244.5 246.3)"/><ellipse cx="249.9" cy="238.8" rx="1.7" ry="1.4" fill="#6ee478" transform="rotate(86 249.9 238.8)"/><ellipse cx="232.1" cy="247.4" rx="1.0" ry="1.2" fill="#7ae884" transform="rotate(67 232.1 247.4)"/><ellipse cx="241.0" cy="265.7" rx="0.9" ry="0.6" fill="#5ad062" transform="rotate(52 241.0 265.7)"/><ellipse cx="218.8" cy="277.5" rx="2.0" ry="1.7" fill="#6ee478" transform="rotate(149 218.8 277.5)"/><ellipse cx="249.4" cy="255.5" rx="1.3" ry="0.8" fill="#5ad062" transform="rotate(86 249.4 255.5)"/><ellipse cx="232.2" cy="233.5" rx="1.7" ry="1.5" fill="#7ae884" transform="rotate(168 232.2 233.5)"/><ellipse cx="239.3" cy="256.4" rx="1.3" ry="0.9" fill="#48bb51" transform="rotate(176 239.3 256.4)"/><ellipse cx="236.5" cy="238.7" rx="0.8" ry="0.7" fill="#5ad062" transform="rotate(27 236.5 238.7)"/><ellipse cx="246.2" cy="227.9" rx="1.0" ry="1.0" fill="#5ad062" transform="rotate(90 246.2 227.9)"/><ellipse cx="227.8" cy="225.2" rx="1.9" ry="1.5" fill="#7ae884" transform="rotate(127 227.8 225.2)"/><ellipse cx="241.6" cy="255.5" rx="1.6" ry="1.6" fill="#7ae884" transform="rotate(80 241.6 255.5)"/><ellipse cx="234.1" cy="240.7" rx="1.9" ry="1.3" fill="#7ae884" transform="rotate(6 234.1 240.7)"/><ellipse cx="234.4" cy="219.4" rx="1.0" ry="1.4" fill="#7ae884" transform="rotate(167 234.4 219.4)"/></g>
<ellipse cx="285" cy="300" rx="32" ry="20" fill="#1f5a24" filter="url(#b8)" transform="rotate(35 285 300)" opacity="0.9"/>
<g stroke="#44b04c" stroke-width="0.8" opacity="0.7" fill="none" filter="url(#b0)"><path d="M245.9,277.4 l6.8,-6.6"/><path d="M255.1,277.4 l5.2,-8.6"/><path d="M255.8,307.6 l4.8,-1.7"/><path d="M284.1,293.5 l8.8,-8.1"/><path d="M251.8,273.0 l7.2,0.7"/><path d="M259.5,287.9 l8.0,-8.5"/><path d="M260.4,282.4 l7.5,-3.8"/><path d="M314.6,312.3 l3.8,-4.2"/><path d="M306.1,319.5 l2.2,-9.6"/><path d="M308.4,303.3 l5.2,-9.0"/><path d="M298.3,281.3 l5.4,-2.1"/><path d="M248.0,288.1 l4.7,-5.5"/><path d="M292.2,312.1 l11.7,1.6"/><path d="M317.5,309.9 l3.3,-4.3"/><path d="M290.5,298.2 l4.5,-1.5"/><path d="M259.1,316.2 l8.7,-4.1"/><path d="M252.0,291.2 l9.2,0.5"/><path d="M317.4,281.5 l8.1,-6.5"/><path d="M277.5,309.9 l4.3,-2.4"/><path d="M252.2,319.2 l2.0,-5.2"/><path d="M269.5,306.2 l7.8,-0.3"/><path d="M281.4,309.8 l4.0,-5.7"/><path d="M289.7,302.5 l1.1,-4.8"/><path d="M255.1,306.8 l11.3,-3.4"/><path d="M301.0,284.2 l11.7,-2.1"/><path d="M270.5,272.5 l4.4,-4.5"/><path d="M257.9,274.2 l4.0,-10.2"/><path d="M248.6,301.5 l2.7,-4.9"/><path d="M304.9,286.3 l3.4,-6.8"/><path d="M295.7,297.2 l7.2,-0.2"/><path d="M283.3,306.4 l7.7,-6.0"/><path d="M279.1,278.4 l3.7,-9.6"/><path d="M299.4,317.3 l8.3,-2.5"/><path d="M257.1,313.0 l2.6,-6.9"/><path d="M255.3,290.3 l4.6,-5.8"/><path d="M296.9,298.0 l5.4,-8.7"/><path d="M298.7,311.7 l2.0,-8.7"/><path d="M310.4,284.4 l5.0,-9.3"/><path d="M271.6,291.3 l7.0,-0.6"/><path d="M259.5,282.3 l6.3,-7.2"/><path d="M271.9,309.0 l1.6,-5.8"/><path d="M290.6,295.0 l9.5,-6.5"/><path d="M265.2,280.7 l1.8,-7.7"/><path d="M266.7,294.7 l0.7,-3.9"/><path d="M272.7,308.4 l6.9,-9.0"/><path d="M287.3,291.4 l5.8,-0.9"/><path d="M289.2,312.6 l5.6,-3.3"/><path d="M252.0,299.6 l3.2,-6.2"/><path d="M284.6,317.2 l7.7,-2.6"/><path d="M307.7,286.8 l6.7,-6.6"/><path d="M285.5,282.6 l7.8,-7.2"/><path d="M262.7,305.9 l2.9,-11.3"/><path d="M294.9,287.5 l10.2,1.8"/><path d="M249.5,283.9 l9.8,-6.9"/><path d="M255.3,274.3 l2.7,-3.4"/><path d="M274.9,297.8 l3.9,-3.3"/><path d="M246.7,310.5 l6.0,-5.0"/><path d="M279.9,304.9 l10.6,0.4"/><path d="M298.1,288.3 l2.0,-4.3"/><path d="M307.7,274.7 l10.0,-5.3"/><path d="M268.5,290.7 l8.6,-7.7"/><path d="M294.9,312.3 l2.3,-9.6"/><path d="M277.9,291.3 l9.8,-0.9"/><path d="M311.5,307.4 l7.4,0.4"/><path d="M285.6,309.7 l4.0,-3.2"/><path d="M287.7,313.8 l5.0,-0.0"/><path d="M272.8,283.0 l7.7,-8.8"/><path d="M275.7,287.0 l4.3,-6.2"/><path d="M293.9,288.4 l2.6,-5.2"/><path d="M264.0,315.5 l4.3,-9.1"/></g>
<path d="M78,275 C95,270 115,266 132,262" stroke="#2d7a32" stroke-width="1.2" fill="none" opacity="0.8"/>
<path d="M127,263 L134,260" stroke="#5ad062" stroke-width="2"/>
<circle cx="74" cy="261" r="5" fill="#0c1e0c" opacity="0.8"/>
<circle cx="63" cy="279" r="5" fill="#0c1e0c" opacity="0.8"/>
<g fill="#cf5fd3" opacity="1.0" filter="url(#b0)"><ellipse cx="53.0" cy="37.6" rx="2.6" ry="6.0" transform="rotate(-60 53.0 37.6)"/><ellipse cx="15.0" cy="54.2" rx="1.8" ry="1.9" transform="rotate(0 15.0 54.2)"/><ellipse cx="67.3" cy="66.6" rx="2.4" ry="2.5" transform="rotate(0 67.3 66.6)"/><ellipse cx="19.8" cy="99.8" rx="1.8" ry="3.0" transform="rotate(-30 19.8 99.8)"/><ellipse cx="136.2" cy="70.1" rx="1.6" ry="5.1" transform="rotate(80 136.2 70.1)"/><ellipse cx="149.2" cy="75.6" rx="2.0" ry="6.8" transform="rotate(30 149.2 75.6)"/><circle cx="119.5" cy="104.1" r="1.6"/><circle cx="127.9" cy="105.3" r="1.6"/><circle cx="136.2" cy="105.3" r="1.6"/><ellipse cx="132.6" cy="112.4" rx="1.8" ry="2.0" transform="rotate(0 132.6 112.4)"/><ellipse cx="138.6" cy="114.8" rx="1.8" ry="1.9" transform="rotate(0 138.6 114.8)"/><ellipse cx="150.4" cy="107.7" rx="2.1" ry="2.5" transform="rotate(0 150.4 107.7)"/><ellipse cx="152.8" cy="112.4" rx="2.1" ry="2.5" transform="rotate(0 152.8 112.4)"/><ellipse cx="148.1" cy="117.2" rx="1.9" ry="2.0" transform="rotate(0 148.1 117.2)"/><ellipse cx="155.2" cy="119.5" rx="1.8" ry="1.9" transform="rotate(0 155.2 119.5)"/><ellipse cx="133.8" cy="124.3" rx="1.9" ry="2.0" transform="rotate(0 133.8 124.3)"/><ellipse cx="143.3" cy="124.3" rx="1.8" ry="1.9" transform="rotate(0 143.3 124.3)"/><circle cx="159.9" cy="125.5" r="1.6"/><ellipse cx="174.2" cy="122.4" rx="1.6" ry="4.2" transform="rotate(60 174.2 122.4)"/><ellipse cx="137.4" cy="136.7" rx="1.8" ry="8.5" transform="rotate(50 137.4 136.7)"/><ellipse cx="125.5" cy="146.9" rx="1.8" ry="1.9" transform="rotate(0 125.5 146.9)"/><circle cx="148.1" cy="138.6" r="1.6"/><circle cx="159.9" cy="138.6" r="1.6"/><circle cx="167.1" cy="136.2" r="1.6"/><ellipse cx="174.2" cy="138.6" rx="1.8" ry="1.9" transform="rotate(0 174.2 138.6)"/><circle cx="181.3" cy="137.4" r="1.6"/><circle cx="214.6" cy="152.8" r="1.6"/><ellipse cx="262.1" cy="165.9" rx="1.9" ry="2.0" transform="rotate(0 262.1 165.9)"/><ellipse cx="270.4" cy="168.2" rx="1.8" ry="1.9" transform="rotate(0 270.4 168.2)"/><circle cx="194.4" cy="167.1" r="1.6"/><circle cx="199.1" cy="183.7" r="1.6"/><circle cx="211.0" cy="182.5" r="1.6"/><circle cx="220.5" cy="189.6" r="1.6"/><circle cx="232.4" cy="193.2" r="1.6"/><ellipse cx="35.2" cy="159.5" rx="2.2" ry="2.4" transform="rotate(0 35.2 159.5)"/><circle cx="62.5" cy="139.7" r="1.6"/><circle cx="88.7" cy="144.5" r="1.6"/><ellipse cx="142.1" cy="170.6" rx="2.4" ry="2.5" transform="rotate(0 142.1 170.6)"/><ellipse cx="127.9" cy="182.5" rx="1.6" ry="2.5" transform="rotate(60 127.9 182.5)"/><circle cx="117.2" cy="184.9" r="1.4"/><circle cx="25.7" cy="192.0" r="1.4"/><circle cx="259.7" cy="230.0" r="1.6"/><circle cx="264.5" cy="237.1" r="1.6"/><circle cx="270.4" cy="249.0" r="1.6"/><ellipse cx="26.9" cy="239.5" rx="2.8" ry="2.1" transform="rotate(0 26.9 239.5)"/><circle cx="55.4" cy="256.2" r="1.6"/><circle cx="125.5" cy="285.9" r="1.6"/><circle cx="137.4" cy="298.9" r="1.6"/><circle cx="162.3" cy="298.9" r="1.6"/><ellipse cx="113.6" cy="304.9" rx="3.2" ry="2.5" transform="rotate(0 113.6 304.9)"/><circle cx="45.9" cy="310.8" r="1.6"/><ellipse cx="257.3" cy="312.0" rx="1.6" ry="4.2" transform="rotate(60 257.3 312.0)"/><circle cx="213.4" cy="315.6" r="1.4"/><circle cx="190.8" cy="98.2" r="1.3"/><circle cx="176.6" cy="150.4" r="1.3"/><circle cx="202.7" cy="205.1" r="1.3"/><circle cx="243.1" cy="205.1" r="1.3"/><circle cx="228.8" cy="221.7" r="1.3"/><circle cx="233.6" cy="252.6" r="1.3"/><circle cx="102.9" cy="205.1" r="1.3"/><circle cx="153.8" cy="109.5" r="1.3"/><circle cx="151.6" cy="136.6" r="1.3"/><circle cx="161.9" cy="125.5" r="1.3"/><circle cx="132.0" cy="113.1" r="1.3"/><circle cx="162.1" cy="129.2" r="1.3"/><circle cx="122.7" cy="117.9" r="1.3"/><circle cx="184.6" cy="122.4" r="1.3"/><circle cx="162.0" cy="134.2" r="1.3"/><circle cx="123.4" cy="117.1" r="1.3"/><circle cx="155.0" cy="126.0" r="1.3"/><circle cx="170.8" cy="127.0" r="1.3"/><circle cx="140.7" cy="116.6" r="1.3"/><circle cx="152.1" cy="121.8" r="1.3"/><circle cx="155.5" cy="130.2" r="1.3"/><circle cx="129.8" cy="124.0" r="1.3"/><circle cx="173.8" cy="126.8" r="1.3"/><circle cx="172.8" cy="116.2" r="1.3"/><circle cx="148.8" cy="98.5" r="1.3"/><circle cx="162.9" cy="124.2" r="1.3"/><circle cx="171.4" cy="126.3" r="1.3"/><circle cx="143.5" cy="116.9" r="1.3"/><circle cx="127.2" cy="123.9" r="1.3"/><circle cx="143.3" cy="116.4" r="1.3"/><circle cx="154.4" cy="116.7" r="1.3"/><circle cx="170.9" cy="95.5" r="1.3"/><circle cx="150.2" cy="93.8" r="1.3"/><circle cx="140.3" cy="116.6" r="1.3"/><circle cx="127.4" cy="120.8" r="1.3"/><circle cx="151.6" cy="108.2" r="1.3"/><circle cx="153.5" cy="117.1" r="1.3"/><circle cx="214.7" cy="184.2" r="1.2"/><circle cx="249.3" cy="207.1" r="1.2"/><circle cx="188.3" cy="175.4" r="1.2"/><circle cx="228.2" cy="183.0" r="1.2"/><circle cx="183.9" cy="127.4" r="1.2"/><circle cx="186.7" cy="151.3" r="1.2"/><circle cx="200.9" cy="180.2" r="1.2"/><circle cx="244.1" cy="212.3" r="1.2"/><circle cx="244.7" cy="200.3" r="1.2"/><circle cx="184.4" cy="130.2" r="1.2"/><circle cx="213.7" cy="173.7" r="1.2"/><circle cx="181.9" cy="123.6" r="1.2"/><circle cx="180.6" cy="165.7" r="1.2"/><circle cx="187.9" cy="163.5" r="1.2"/></g>
<g transform="translate(190.5,0)">
<g clip-path="url(#cpIn)">
<rect width="126" height="55" fill="#163d1a"/>
<ellipse cx="60" cy="35" rx="40" ry="18" fill="#24702a" filter="url(#b8)" opacity="0.9"/>
<ellipse cx="25" cy="20" rx="14" ry="10" fill="#1f5a24" filter="url(#b4)" opacity="0.8"/>
<ellipse cx="27.9" cy="13.4" rx="6" ry="3.5" fill="#3ec14a" filter="url(#b1)" transform="rotate(-40 27.9 13.4)"/>
<ellipse cx="37.1" cy="19.1" rx="4.5" ry="4" fill="#34a83f" filter="url(#b1)" transform="rotate(0 37.1 19.1)"/>
<ellipse cx="63.3" cy="15.6" rx="3.2" ry="5.5" fill="#3cc046" filter="url(#b1)" transform="rotate(10 63.3 15.6)"/>
<ellipse cx="77.4" cy="35.4" rx="4" ry="5.5" fill="#42c84c" filter="url(#b1)" transform="rotate(20 77.4 35.4)"/>
<ellipse cx="89.5" cy="39" rx="4" ry="5" fill="#3bb545" filter="url(#b1)" transform="rotate(0 89.5 39)"/>
<ellipse cx="100.1" cy="21.2" rx="4.5" ry="3.5" fill="#2f9a38" filter="url(#b1)" transform="rotate(0 100.1 21.2)"/>
<ellipse cx="37.1" cy="45.3" rx="6" ry="5.5" fill="#4cd056" filter="url(#b1)" transform="rotate(0 37.1 45.3)"/>
<ellipse cx="56.2" cy="35.4" rx="5.5" ry="6.5" fill="#52d65c" filter="url(#b1)" transform="rotate(20 56.2 35.4)"/>
<ellipse cx="66.8" cy="49.5" rx="5" ry="4" fill="#45c44e" filter="url(#b1)" transform="rotate(0 66.8 49.5)"/>
<ellipse cx="79.2" cy="52.3" rx="5" ry="3" fill="#3db847" filter="url(#b1)" transform="rotate(0 79.2 52.3)"/>
<ellipse cx="32.2" cy="35.4" rx="3.5" ry="4.5" fill="#2e9637" filter="url(#b1)" transform="rotate(0 32.2 35.4)"/>
<ellipse cx="5" cy="12" rx="2.5" ry="4" fill="#2d8a34" filter="url(#b1)" transform="rotate(20 5 12)"/>
<ellipse cx="110" cy="45" rx="5" ry="4" fill="#2a8231" filter="url(#b1)" transform="rotate(0 110 45)"/>
<ellipse cx="46" cy="26" rx="3" ry="3" fill="#2f9a38" filter="url(#b1)" transform="rotate(0 46 26)"/>
<ellipse cx="118" cy="12" rx="4" ry="3" fill="#24702a" filter="url(#b1)" transform="rotate(0 118 12)"/>
<path d="M3,22 C6,28 8,32 9,35" stroke="#3aa843" stroke-width="1.5" fill="none" filter="url(#b0)"/>
<ellipse cx="59.8" cy="26.2" rx="4" ry="6" fill="#ead0ee" filter="url(#b1)" transform="rotate(-25 59.8 26.2)"/>
<ellipse cx="59" cy="23" rx="3" ry="3" fill="#d890dc" filter="url(#b1)"/>
<ellipse cx="78.1" cy="21.9" rx="6.5" ry="4" fill="#c472cc" filter="url(#b1)" transform="rotate(30 78.1 21.9)"/>
<ellipse cx="80" cy="24" rx="3" ry="2" fill="#e8d6ea" filter="url(#b1)" transform="rotate(30 80 24)"/>
<ellipse cx="64" cy="5" rx="3.5" ry="3.5" fill="#cfe6cf" filter="url(#b1)"/>
</g>
<path d="M0.8,0 V55.8 H127" fill="none" stroke="#eef5ee" stroke-width="1.6"/>
</g>
</g>
<g transform="translate(1126,1006)" clip-path="url(#cpA)">
<rect width="318" height="320" fill="#220b25"/>
<path d="M110.0,-10.0 C147.5,-16.7 293.3,-66.7 330.0,-10.0 C366.7,46.7 334.2,273.3 330.0,330.0 C325.8,386.7 311.3,343.3 305.0,330.0 C298.7,316.7 298.7,273.3 292.0,250.0 C285.3,226.7 274.5,208.3 265.0,190.0 C255.5,171.7 245.0,153.3 235.0,140.0 C225.0,126.7 215.8,116.7 205.0,110.0 C194.2,103.3 182.5,106.7 170.0,100.0 C157.5,93.3 140.8,81.7 130.0,70.0 C119.2,58.3 108.3,43.3 105.0,30.0 C101.7,16.7 72.5,-3.3 110.0,-10.0 Z" fill="#1a0a1c" filter="url(#b8)"/>
<path d="M215.0,-10.0 C234.7,-18.3 310.8,-66.7 330.0,-10.0 C349.2,46.7 334.2,273.3 330.0,330.0 C325.8,386.7 311.7,343.3 305.0,330.0 C298.3,316.7 296.7,272.5 290.0,250.0 C283.3,227.5 272.0,210.0 265.0,195.0 C258.0,180.0 254.2,171.7 248.0,160.0 C241.8,148.3 233.3,135.0 228.0,125.0 C222.7,115.0 218.7,114.2 216.0,100.0 C213.3,85.8 212.2,58.3 212.0,40.0 C211.8,21.7 195.3,-1.7 215.0,-10.0 Z" fill="#100a11" filter="url(#b8)"/>
<ellipse cx="80" cy="290" rx="120" ry="50" fill="#2a0d30" filter="url(#b16)" opacity="0.8"/>
<path d="M184.0,158.0 C191.5,157.6 209.8,163.5 219.7,169.8 C229.6,176.1 237.6,187.7 243.5,196.0 C249.4,204.3 250.2,209.8 255.3,219.7 C260.4,229.6 269.2,245.4 274.3,255.3 C279.4,265.2 281.9,271.6 286.2,279.0 C290.5,286.4 303.2,298.8 300.0,300.0 C296.8,301.2 276.6,290.5 267.2,286.2 C257.8,281.9 251.4,279.4 243.5,274.3 C235.6,269.2 226.4,262.4 219.7,255.3 C212.9,248.2 208.9,239.5 203.0,231.6 C197.1,223.7 188.7,217.7 184.0,207.8 C179.3,197.9 174.6,180.5 174.6,172.2 C174.6,163.9 176.5,158.4 184.0,158.0 Z" fill="#5a1a62" filter="url(#b4)" opacity="0.90"/>
<ellipse cx="232" cy="222" rx="40" ry="22" fill="#9a3aa2" filter="url(#b8)" transform="rotate(55 232 222)" opacity="1.00"/>
<ellipse cx="238" cy="232" rx="26" ry="13" fill="#b04cb8" filter="url(#b4)" transform="rotate(55 238 232)" opacity="1.00"/>
<g opacity="0.85" filter="url(#b0)"><ellipse cx="218.8" cy="217.4" rx="1.7" ry="1.5" fill="#b85cc0" transform="rotate(161 218.8 217.4)"/><ellipse cx="221.1" cy="227.3" rx="1.6" ry="1.8" fill="#a548ac" transform="rotate(151 221.1 227.3)"/><ellipse cx="221.7" cy="215.1" rx="1.8" ry="1.5" fill="#b85cc0" transform="rotate(46 221.7 215.1)"/><ellipse cx="238.0" cy="205.6" rx="1.6" ry="1.0" fill="#a548ac" transform="rotate(156 238.0 205.6)"/><ellipse cx="243.9" cy="228.7" rx="1.5" ry="1.1" fill="#8d3a94" transform="rotate(121 243.9 228.7)"/><ellipse cx="239.0" cy="270.1" rx="0.9" ry="0.7" fill="#b85cc0" transform="rotate(112 239.0 270.1)"/><ellipse cx="228.9" cy="211.5" rx="1.1" ry="0.8" fill="#a548ac" transform="rotate(120 228.9 211.5)"/><ellipse cx="205.0" cy="204.8" rx="1.7" ry="1.3" fill="#c873cf" transform="rotate(15 205.0 204.8)"/><ellipse cx="251.7" cy="278.8" rx="1.2" ry="1.5" fill="#c873cf" transform="rotate(97 251.7 278.8)"/><ellipse cx="258.5" cy="240.3" rx="1.0" ry="1.2" fill="#8d3a94" transform="rotate(129 258.5 240.3)"/><ellipse cx="243.6" cy="207.9" rx="1.8" ry="2.1" fill="#a548ac" transform="rotate(161 243.6 207.9)"/><ellipse cx="203.3" cy="202.4" rx="1.4" ry="1.3" fill="#a548ac" transform="rotate(153 203.3 202.4)"/><ellipse cx="244.7" cy="239.1" rx="1.2" ry="1.1" fill="#c873cf" transform="rotate(130 244.7 239.1)"/><ellipse cx="237.8" cy="224.1" rx="1.3" ry="1.8" fill="#8d3a94" transform="rotate(45 237.8 224.1)"/><ellipse cx="203.7" cy="209.3" rx="1.6" ry="1.3" fill="#c873cf" transform="rotate(79 203.7 209.3)"/><ellipse cx="242.0" cy="253.2" rx="0.8" ry="0.6" fill="#b85cc0" transform="rotate(120 242.0 253.2)"/><ellipse cx="239.0" cy="241.6" rx="1.3" ry="0.9" fill="#b85cc0" transform="rotate(69 239.0 241.6)"/><ellipse cx="246.6" cy="204.3" rx="1.4" ry="1.6" fill="#c873cf" transform="rotate(99 246.6 204.3)"/><ellipse cx="192.0" cy="168.7" rx="1.6" ry="1.0" fill="#8d3a94" transform="rotate(106 192.0 168.7)"/><ellipse cx="257.3" cy="249.6" rx="1.2" ry="1.7" fill="#b85cc0" transform="rotate(173 257.3 249.6)"/><ellipse cx="249.2" cy="258.4" rx="1.0" ry="0.9" fill="#8d3a94" transform="rotate(168 249.2 258.4)"/><ellipse cx="246.1" cy="240.0" rx="1.7" ry="1.8" fill="#8d3a94" transform="rotate(149 246.1 240.0)"/><ellipse cx="246.5" cy="232.3" rx="1.1" ry="1.4" fill="#c873cf" transform="rotate(124 246.5 232.3)"/><ellipse cx="220.7" cy="235.5" rx="1.0" ry="0.8" fill="#c873cf" transform="rotate(85 220.7 235.5)"/><ellipse cx="242.2" cy="251.2" rx="0.9" ry="1.1" fill="#c873cf" transform="rotate(129 242.2 251.2)"/><ellipse cx="233.5" cy="222.0" rx="1.2" ry="1.2" fill="#b85cc0" transform="rotate(165 233.5 222.0)"/><ellipse cx="223.6" cy="201.5" rx="1.0" ry="1.3" fill="#a548ac" transform="rotate(92 223.6 201.5)"/><ellipse cx="232.5" cy="252.2" rx="0.8" ry="1.0" fill="#c873cf" transform="rotate(49 232.5 252.2)"/><ellipse cx="254.4" cy="262.8" rx="1.2" ry="0.9" fill="#b85cc0" transform="rotate(95 254.4 262.8)"/><ellipse cx="220.9" cy="191.2" rx="0.9" ry="0.9" fill="#c873cf" transform="rotate(7 220.9 191.2)"/><ellipse cx="217.5" cy="217.7" rx="1.6" ry="1.9" fill="#a548ac" transform="rotate(154 217.5 217.7)"/><ellipse cx="203.8" cy="198.2" rx="1.1" ry="1.4" fill="#a548ac" transform="rotate(98 203.8 198.2)"/><ellipse cx="248.0" cy="235.5" rx="1.6" ry="1.4" fill="#c873cf" transform="rotate(143 248.0 235.5)"/><ellipse cx="239.1" cy="246.3" rx="1.0" ry="0.9" fill="#8d3a94" transform="rotate(48 239.1 246.3)"/><ellipse cx="238.7" cy="230.3" rx="1.1" ry="1.5" fill="#a548ac" transform="rotate(56 238.7 230.3)"/><ellipse cx="243.1" cy="228.1" rx="1.8" ry="2.3" fill="#c873cf" transform="rotate(125 243.1 228.1)"/><ellipse cx="272.6" cy="252.5" rx="1.3" ry="1.8" fill="#8d3a94" transform="rotate(49 272.6 252.5)"/><ellipse cx="259.0" cy="258.7" rx="1.6" ry="1.9" fill="#c873cf" transform="rotate(73 259.0 258.7)"/><ellipse cx="233.2" cy="198.5" rx="1.4" ry="1.0" fill="#8d3a94" transform="rotate(169 233.2 198.5)"/><ellipse cx="235.4" cy="225.0" rx="1.3" ry="1.0" fill="#8d3a94" transform="rotate(120 235.4 225.0)"/><ellipse cx="221.8" cy="227.4" rx="1.1" ry="0.7" fill="#8d3a94" transform="rotate(152 221.8 227.4)"/><ellipse cx="245.0" cy="243.0" rx="1.7" ry="1.7" fill="#c873cf" transform="rotate(129 245.0 243.0)"/><ellipse cx="187.6" cy="201.3" rx="1.7" ry="1.6" fill="#8d3a94" transform="rotate(170 187.6 201.3)"/><ellipse cx="206.5" cy="198.8" rx="1.6" ry="1.1" fill="#a548ac" transform="rotate(110 206.5 198.8)"/><ellipse cx="247.6" cy="250.8" rx="1.3" ry="1.4" fill="#a548ac" transform="rotate(85 247.6 250.8)"/><ellipse cx="236.6" cy="224.8" rx="1.4" ry="1.4" fill="#a548ac" transform="rotate(15 236.6 224.8)"/><ellipse cx="271.0" cy="250.6" rx="1.6" ry="2.2" fill="#a548ac" transform="rotate(175 271.0 250.6)"/><ellipse cx="234.2" cy="224.1" rx="1.3" ry="1.2" fill="#8d3a94" transform="rotate(49 234.2 224.1)"/><ellipse cx="249.1" cy="256.1" rx="1.7" ry="2.2" fill="#a548ac" transform="rotate(141 249.1 256.1)"/><ellipse cx="250.1" cy="242.5" rx="1.3" ry="1.1" fill="#8d3a94" transform="rotate(172 250.1 242.5)"/><ellipse cx="270.9" cy="257.1" rx="1.5" ry="1.2" fill="#b85cc0" transform="rotate(33 270.9 257.1)"/><ellipse cx="244.6" cy="241.2" rx="1.3" ry="1.5" fill="#8d3a94" transform="rotate(44 244.6 241.2)"/><ellipse cx="230.2" cy="227.5" rx="0.9" ry="1.2" fill="#a548ac" transform="rotate(169 230.2 227.5)"/><ellipse cx="219.7" cy="222.6" rx="0.9" ry="0.7" fill="#b85cc0" transform="rotate(31 219.7 222.6)"/><ellipse cx="218.8" cy="186.3" rx="0.9" ry="0.9" fill="#a548ac" transform="rotate(168 218.8 186.3)"/><ellipse cx="251.3" cy="220.5" rx="1.0" ry="0.8" fill="#a548ac" transform="rotate(44 251.3 220.5)"/><ellipse cx="249.3" cy="271.1" rx="1.7" ry="2.1" fill="#a548ac" transform="rotate(34 249.3 271.1)"/><ellipse cx="210.5" cy="201.8" rx="1.3" ry="1.1" fill="#8d3a94" transform="rotate(63 210.5 201.8)"/><ellipse cx="252.2" cy="232.1" rx="1.3" ry="1.1" fill="#c873cf" transform="rotate(70 252.2 232.1)"/><ellipse cx="238.7" cy="221.8" rx="0.8" ry="0.6" fill="#a548ac" transform="rotate(78 238.7 221.8)"/><ellipse cx="222.1" cy="214.3" rx="1.6" ry="2.2" fill="#c873cf" transform="rotate(42 222.1 214.3)"/><ellipse cx="223.6" cy="222.1" rx="1.1" ry="1.4" fill="#8d3a94" transform="rotate(177 223.6 222.1)"/><ellipse cx="231.2" cy="226.3" rx="1.5" ry="1.8" fill="#c873cf" transform="rotate(107 231.2 226.3)"/><ellipse cx="256.3" cy="245.8" rx="1.0" ry="0.7" fill="#c873cf" transform="rotate(77 256.3 245.8)"/><ellipse cx="222.3" cy="217.8" rx="0.8" ry="0.8" fill="#a548ac" transform="rotate(44 222.3 217.8)"/><ellipse cx="197.1" cy="198.7" rx="1.0" ry="1.0" fill="#c873cf" transform="rotate(83 197.1 198.7)"/><ellipse cx="228.6" cy="226.0" rx="1.0" ry="0.9" fill="#8d3a94" transform="rotate(152 228.6 226.0)"/><ellipse cx="228.6" cy="211.8" rx="1.4" ry="1.9" fill="#8d3a94" transform="rotate(126 228.6 211.8)"/><ellipse cx="237.7" cy="227.8" rx="1.6" ry="1.3" fill="#c873cf" transform="rotate(30 237.7 227.8)"/><ellipse cx="225.3" cy="212.7" rx="1.6" ry="1.2" fill="#c873cf" transform="rotate(87 225.3 212.7)"/><ellipse cx="237.0" cy="222.4" rx="1.1" ry="0.7" fill="#b85cc0" transform="rotate(64 237.0 222.4)"/><ellipse cx="257.6" cy="232.5" rx="1.4" ry="1.9" fill="#a548ac" transform="rotate(173 257.6 232.5)"/><ellipse cx="246.5" cy="228.1" rx="1.7" ry="2.3" fill="#b85cc0" transform="rotate(37 246.5 228.1)"/><ellipse cx="249.9" cy="252.3" rx="1.6" ry="1.9" fill="#a548ac" transform="rotate(83 249.9 252.3)"/><ellipse cx="254.9" cy="259.0" rx="1.3" ry="1.2" fill="#b85cc0" transform="rotate(96 254.9 259.0)"/><ellipse cx="239.4" cy="255.0" rx="1.3" ry="1.0" fill="#b85cc0" transform="rotate(38 239.4 255.0)"/><ellipse cx="240.0" cy="227.3" rx="1.6" ry="1.1" fill="#c873cf" transform="rotate(139 240.0 227.3)"/><ellipse cx="223.7" cy="269.9" rx="1.3" ry="0.9" fill="#a548ac" transform="rotate(60 223.7 269.9)"/><ellipse cx="223.6" cy="207.3" rx="0.9" ry="0.6" fill="#8d3a94" transform="rotate(50 223.6 207.3)"/><ellipse cx="212.5" cy="204.9" rx="1.1" ry="1.0" fill="#c873cf" transform="rotate(179 212.5 204.9)"/><ellipse cx="241.8" cy="249.1" rx="1.1" ry="0.9" fill="#c873cf" transform="rotate(4 241.8 249.1)"/><ellipse cx="260.3" cy="247.7" rx="0.8" ry="1.0" fill="#8d3a94" transform="rotate(107 260.3 247.7)"/><ellipse cx="247.9" cy="216.2" rx="1.7" ry="2.1" fill="#b85cc0" transform="rotate(33 247.9 216.2)"/><ellipse cx="206.8" cy="199.5" rx="1.3" ry="1.3" fill="#b85cc0" transform="rotate(12 206.8 199.5)"/><ellipse cx="239.5" cy="242.8" rx="1.2" ry="0.9" fill="#b85cc0" transform="rotate(47 239.5 242.8)"/><ellipse cx="234.4" cy="213.9" rx="1.3" ry="0.9" fill="#a548ac" transform="rotate(151 234.4 213.9)"/><ellipse cx="230.9" cy="199.1" rx="1.6" ry="1.4" fill="#c873cf" transform="rotate(140 230.9 199.1)"/><ellipse cx="258.2" cy="206.6" rx="0.9" ry="0.8" fill="#c873cf" transform="rotate(40 258.2 206.6)"/><ellipse cx="253.4" cy="222.6" rx="1.6" ry="2.1" fill="#8d3a94" transform="rotate(105 253.4 222.6)"/><ellipse cx="229.8" cy="220.7" rx="1.3" ry="1.1" fill="#8d3a94" transform="rotate(93 229.8 220.7)"/><ellipse cx="224.1" cy="251.3" rx="1.5" ry="1.3" fill="#b85cc0" transform="rotate(179 224.1 251.3)"/><ellipse cx="233.7" cy="212.6" rx="1.6" ry="2.1" fill="#a548ac" transform="rotate(151 233.7 212.6)"/><ellipse cx="246.4" cy="224.0" rx="1.6" ry="1.3" fill="#8d3a94" transform="rotate(178 246.4 224.0)"/><ellipse cx="213.6" cy="176.1" rx="1.1" ry="1.1" fill="#a548ac" transform="rotate(148 213.6 176.1)"/><ellipse cx="202.0" cy="232.8" rx="1.6" ry="1.6" fill="#a548ac" transform="rotate(128 202.0 232.8)"/><ellipse cx="230.1" cy="204.6" rx="1.4" ry="1.8" fill="#a548ac" transform="rotate(15 230.1 204.6)"/><ellipse cx="283.4" cy="266.7" rx="0.9" ry="1.0" fill="#a548ac" transform="rotate(12 283.4 266.7)"/><ellipse cx="232.9" cy="233.1" rx="1.7" ry="1.9" fill="#b85cc0" transform="rotate(169 232.9 233.1)"/><ellipse cx="222.4" cy="243.5" rx="1.2" ry="1.0" fill="#c873cf" transform="rotate(162 222.4 243.5)"/><ellipse cx="245.1" cy="235.3" rx="1.2" ry="1.1" fill="#b85cc0" transform="rotate(34 245.1 235.3)"/><ellipse cx="209.6" cy="212.2" rx="1.7" ry="2.3" fill="#a548ac" transform="rotate(169 209.6 212.2)"/><ellipse cx="220.1" cy="243.1" rx="1.2" ry="1.1" fill="#a548ac" transform="rotate(167 220.1 243.1)"/><ellipse cx="243.0" cy="199.8" rx="1.6" ry="0.9" fill="#8d3a94" transform="rotate(14 243.0 199.8)"/><ellipse cx="257.2" cy="272.6" rx="1.6" ry="1.4" fill="#b85cc0" transform="rotate(118 257.2 272.6)"/><ellipse cx="255.4" cy="241.3" rx="1.6" ry="2.1" fill="#b85cc0" transform="rotate(154 255.4 241.3)"/><ellipse cx="203.3" cy="157.6" rx="1.5" ry="1.4" fill="#c873cf" transform="rotate(54 203.3 157.6)"/><ellipse cx="202.2" cy="198.4" rx="1.0" ry="1.0" fill="#a548ac" transform="rotate(69 202.2 198.4)"/><ellipse cx="238.1" cy="246.1" rx="1.7" ry="1.8" fill="#c873cf" transform="rotate(160 238.1 246.1)"/><ellipse cx="187.5" cy="199.5" rx="0.9" ry="1.1" fill="#8d3a94" transform="rotate(145 187.5 199.5)"/><ellipse cx="225.1" cy="196.4" rx="1.5" ry="2.0" fill="#b85cc0" transform="rotate(164 225.1 196.4)"/><ellipse cx="236.3" cy="215.1" rx="1.1" ry="1.2" fill="#8d3a94" transform="rotate(74 236.3 215.1)"/><ellipse cx="226.3" cy="230.3" rx="1.3" ry="1.2" fill="#b85cc0" transform="rotate(97 226.3 230.3)"/><ellipse cx="221.2" cy="242.4" rx="0.8" ry="0.7" fill="#c873cf" transform="rotate(74 221.2 242.4)"/><ellipse cx="213.5" cy="208.2" rx="1.5" ry="1.7" fill="#8d3a94" transform="rotate(132 213.5 208.2)"/><ellipse cx="248.5" cy="270.6" rx="1.0" ry="0.9" fill="#b85cc0" transform="rotate(114 248.5 270.6)"/><ellipse cx="260.5" cy="230.2" rx="1.4" ry="1.4" fill="#b85cc0" transform="rotate(55 260.5 230.2)"/><ellipse cx="242.8" cy="229.8" rx="1.2" ry="0.9" fill="#8d3a94" transform="rotate(83 242.8 229.8)"/><ellipse cx="256.2" cy="219.6" rx="0.8" ry="0.7" fill="#a548ac" transform="rotate(166 256.2 219.6)"/><ellipse cx="248.0" cy="209.5" rx="1.7" ry="1.9" fill="#b85cc0" transform="rotate(69 248.0 209.5)"/><ellipse cx="235.5" cy="214.9" rx="1.4" ry="1.8" fill="#c873cf" transform="rotate(163 235.5 214.9)"/><ellipse cx="217.3" cy="214.7" rx="1.1" ry="0.8" fill="#c873cf" transform="rotate(30 217.3 214.7)"/><ellipse cx="199.4" cy="178.0" rx="1.7" ry="1.1" fill="#c873cf" transform="rotate(79 199.4 178.0)"/><ellipse cx="221.6" cy="240.6" rx="1.7" ry="1.1" fill="#c873cf" transform="rotate(162 221.6 240.6)"/><ellipse cx="247.0" cy="247.0" rx="1.1" ry="0.9" fill="#c873cf" transform="rotate(32 247.0 247.0)"/><ellipse cx="230.0" cy="200.0" rx="1.4" ry="1.2" fill="#a548ac" transform="rotate(18 230.0 200.0)"/><ellipse cx="265.4" cy="218.9" rx="1.4" ry="1.8" fill="#8d3a94" transform="rotate(33 265.4 218.9)"/><ellipse cx="224.8" cy="233.2" rx="1.1" ry="1.0" fill="#c873cf" transform="rotate(117 224.8 233.2)"/><ellipse cx="208.3" cy="228.8" rx="1.6" ry="1.7" fill="#c873cf" transform="rotate(116 208.3 228.8)"/><ellipse cx="207.3" cy="191.3" rx="1.2" ry="1.4" fill="#a548ac" transform="rotate(169 207.3 191.3)"/><ellipse cx="251.4" cy="271.0" rx="0.8" ry="0.5" fill="#a548ac" transform="rotate(121 251.4 271.0)"/><ellipse cx="237.6" cy="236.7" rx="1.0" ry="0.7" fill="#a548ac" transform="rotate(94 237.6 236.7)"/><ellipse cx="211.1" cy="235.3" rx="1.6" ry="1.8" fill="#a548ac" transform="rotate(75 211.1 235.3)"/><ellipse cx="221.3" cy="247.8" rx="1.8" ry="1.5" fill="#a548ac" transform="rotate(55 221.3 247.8)"/><ellipse cx="181.9" cy="167.8" rx="1.1" ry="1.3" fill="#b85cc0" transform="rotate(148 181.9 167.8)"/><ellipse cx="248.9" cy="262.4" rx="1.2" ry="1.0" fill="#c873cf" transform="rotate(132 248.9 262.4)"/><ellipse cx="230.6" cy="215.6" rx="1.2" ry="0.9" fill="#8d3a94" transform="rotate(124 230.6 215.6)"/><ellipse cx="251.3" cy="234.0" rx="1.4" ry="1.1" fill="#a548ac" transform="rotate(55 251.3 234.0)"/><ellipse cx="214.0" cy="218.7" rx="1.7" ry="1.1" fill="#a548ac" transform="rotate(154 214.0 218.7)"/><ellipse cx="226.7" cy="228.3" rx="1.8" ry="1.8" fill="#8d3a94" transform="rotate(100 226.7 228.3)"/><ellipse cx="235.9" cy="232.5" rx="1.6" ry="1.7" fill="#b85cc0" transform="rotate(173 235.9 232.5)"/><ellipse cx="255.8" cy="251.1" rx="0.9" ry="1.1" fill="#8d3a94" transform="rotate(61 255.8 251.1)"/><ellipse cx="237.4" cy="221.8" rx="1.3" ry="1.8" fill="#b85cc0" transform="rotate(132 237.4 221.8)"/><ellipse cx="262.5" cy="253.0" rx="1.2" ry="0.8" fill="#b85cc0" transform="rotate(179 262.5 253.0)"/><ellipse cx="238.0" cy="204.8" rx="1.2" ry="1.4" fill="#c873cf" transform="rotate(68 238.0 204.8)"/><ellipse cx="232.9" cy="202.6" rx="1.2" ry="0.9" fill="#c873cf" transform="rotate(40 232.9 202.6)"/><ellipse cx="230.6" cy="217.5" rx="1.0" ry="0.9" fill="#c873cf" transform="rotate(67 230.6 217.5)"/><ellipse cx="241.1" cy="220.7" rx="1.0" ry="0.7" fill="#a548ac" transform="rotate(168 241.1 220.7)"/><ellipse cx="212.6" cy="202.6" rx="1.7" ry="1.6" fill="#b85cc0" transform="rotate(156 212.6 202.6)"/><ellipse cx="246.4" cy="195.0" rx="1.6" ry="2.1" fill="#a548ac" transform="rotate(157 246.4 195.0)"/><ellipse cx="241.3" cy="255.3" rx="1.6" ry="1.4" fill="#8d3a94" transform="rotate(104 241.3 255.3)"/><ellipse cx="225.9" cy="245.7" rx="0.9" ry="1.3" fill="#8d3a94" transform="rotate(7 225.9 245.7)"/><ellipse cx="284.1" cy="277.2" rx="1.0" ry="1.2" fill="#c873cf" transform="rotate(60 284.1 277.2)"/><ellipse cx="197.6" cy="210.0" rx="0.8" ry="1.1" fill="#8d3a94" transform="rotate(71 197.6 210.0)"/><ellipse cx="217.5" cy="225.7" rx="1.4" ry="1.5" fill="#b85cc0" transform="rotate(96 217.5 225.7)"/><ellipse cx="231.0" cy="234.5" rx="1.2" ry="1.2" fill="#8d3a94" transform="rotate(27 231.0 234.5)"/><ellipse cx="228.6" cy="227.2" rx="0.9" ry="0.7" fill="#b85cc0" transform="rotate(77 228.6 227.2)"/><ellipse cx="238.1" cy="225.5" rx="1.1" ry="1.0" fill="#a548ac" transform="rotate(81 238.1 225.5)"/><ellipse cx="282.9" cy="292.1" rx="1.0" ry="1.2" fill="#8d3a94" transform="rotate(5 282.9 292.1)"/><ellipse cx="229.3" cy="250.7" rx="1.1" ry="1.0" fill="#a548ac" transform="rotate(85 229.3 250.7)"/><ellipse cx="244.6" cy="226.9" rx="0.9" ry="0.7" fill="#a548ac" transform="rotate(137 244.6 226.9)"/></g>
<g opacity="0.8" filter="url(#b0)"><ellipse cx="249.8" cy="259.7" rx="1.0" ry="0.7" fill="#b45bbb" transform="rotate(18 249.8 259.7)"/><ellipse cx="256.6" cy="256.1" rx="0.8" ry="0.6" fill="#b45bbb" transform="rotate(42 256.6 256.1)"/><ellipse cx="246.1" cy="247.1" rx="1.0" ry="1.0" fill="#b45bbb" transform="rotate(146 246.1 247.1)"/><ellipse cx="264.1" cy="283.0" rx="1.1" ry="0.8" fill="#b45bbb" transform="rotate(172 264.1 283.0)"/><ellipse cx="246.0" cy="260.9" rx="1.1" ry="1.0" fill="#9a44a2" transform="rotate(48 246.0 260.9)"/><ellipse cx="256.9" cy="275.4" rx="1.6" ry="1.4" fill="#9a44a2" transform="rotate(99 256.9 275.4)"/><ellipse cx="262.3" cy="264.7" rx="1.3" ry="1.5" fill="#b45bbb" transform="rotate(8 262.3 264.7)"/><ellipse cx="246.2" cy="266.6" rx="1.5" ry="1.9" fill="#9a44a2" transform="rotate(68 246.2 266.6)"/><ellipse cx="232.3" cy="243.4" rx="1.1" ry="0.8" fill="#9a44a2" transform="rotate(48 232.3 243.4)"/><ellipse cx="263.9" cy="275.0" rx="1.2" ry="1.0" fill="#9a44a2" transform="rotate(83 263.9 275.0)"/><ellipse cx="234.8" cy="267.8" rx="1.3" ry="1.7" fill="#9a44a2" transform="rotate(140 234.8 267.8)"/><ellipse cx="248.8" cy="263.4" rx="1.1" ry="0.7" fill="#b45bbb" transform="rotate(164 248.8 263.4)"/><ellipse cx="242.1" cy="242.7" rx="1.3" ry="1.2" fill="#9a44a2" transform="rotate(165 242.1 242.7)"/><ellipse cx="242.8" cy="254.1" rx="1.4" ry="1.4" fill="#9a44a2" transform="rotate(134 242.8 254.1)"/><ellipse cx="237.1" cy="250.6" rx="1.0" ry="1.4" fill="#b45bbb" transform="rotate(92 237.1 250.6)"/><ellipse cx="251.1" cy="265.7" rx="0.9" ry="0.7" fill="#9a44a2" transform="rotate(122 251.1 265.7)"/><ellipse cx="246.7" cy="250.5" rx="1.2" ry="1.7" fill="#b45bbb" transform="rotate(155 246.7 250.5)"/><ellipse cx="262.1" cy="280.7" rx="1.4" ry="1.2" fill="#b45bbb" transform="rotate(53 262.1 280.7)"/><ellipse cx="250.0" cy="262.8" rx="1.6" ry="1.9" fill="#b45bbb" transform="rotate(91 250.0 262.8)"/><ellipse cx="253.8" cy="278.1" rx="0.9" ry="1.1" fill="#9a44a2" transform="rotate(97 253.8 278.1)"/><ellipse cx="258.7" cy="259.7" rx="1.3" ry="1.3" fill="#9a44a2" transform="rotate(20 258.7 259.7)"/><ellipse cx="222.2" cy="249.1" rx="1.0" ry="0.8" fill="#b45bbb" transform="rotate(102 222.2 249.1)"/><ellipse cx="257.0" cy="281.5" rx="1.6" ry="1.6" fill="#9a44a2" transform="rotate(23 257.0 281.5)"/><ellipse cx="251.3" cy="238.9" rx="1.0" ry="1.3" fill="#9a44a2" transform="rotate(76 251.3 238.9)"/><ellipse cx="245.4" cy="270.2" rx="1.4" ry="1.3" fill="#9a44a2" transform="rotate(121 245.4 270.2)"/><ellipse cx="229.2" cy="250.9" rx="0.9" ry="0.7" fill="#b45bbb" transform="rotate(61 229.2 250.9)"/><ellipse cx="247.2" cy="253.4" rx="0.8" ry="0.9" fill="#9a44a2" transform="rotate(11 247.2 253.4)"/><ellipse cx="251.3" cy="265.1" rx="0.9" ry="0.7" fill="#b45bbb" transform="rotate(120 251.3 265.1)"/><ellipse cx="248.0" cy="265.4" rx="1.0" ry="1.0" fill="#b45bbb" transform="rotate(73 248.0 265.4)"/><ellipse cx="255.1" cy="279.2" rx="1.1" ry="1.1" fill="#b45bbb" transform="rotate(131 255.1 279.2)"/><ellipse cx="253.9" cy="236.5" rx="0.8" ry="1.0" fill="#9a44a2" transform="rotate(144 253.9 236.5)"/><ellipse cx="251.7" cy="269.4" rx="0.9" ry="0.7" fill="#b45bbb" transform="rotate(83 251.7 269.4)"/><ellipse cx="253.9" cy="264.1" rx="0.8" ry="1.2" fill="#9a44a2" transform="rotate(150 253.9 264.1)"/><ellipse cx="270.5" cy="285.9" rx="0.9" ry="0.9" fill="#9a44a2" transform="rotate(38 270.5 285.9)"/><ellipse cx="246.6" cy="259.6" rx="0.8" ry="0.7" fill="#b45bbb" transform="rotate(167 246.6 259.6)"/><ellipse cx="256.0" cy="260.8" rx="0.9" ry="0.8" fill="#b45bbb" transform="rotate(174 256.0 260.8)"/><ellipse cx="244.6" cy="247.0" rx="0.8" ry="0.9" fill="#b45bbb" transform="rotate(91 244.6 247.0)"/><ellipse cx="255.5" cy="264.2" rx="1.5" ry="1.0" fill="#9a44a2" transform="rotate(12 255.5 264.2)"/><ellipse cx="259.7" cy="266.4" rx="1.3" ry="0.8" fill="#9a44a2" transform="rotate(15 259.7 266.4)"/><ellipse cx="250.5" cy="249.5" rx="1.5" ry="1.2" fill="#b45bbb" transform="rotate(129 250.5 249.5)"/><ellipse cx="244.8" cy="266.8" rx="1.2" ry="1.6" fill="#b45bbb" transform="rotate(168 244.8 266.8)"/><ellipse cx="260.7" cy="278.3" rx="0.9" ry="0.7" fill="#9a44a2" transform="rotate(48 260.7 278.3)"/><ellipse cx="269.9" cy="280.2" rx="1.1" ry="0.8" fill="#9a44a2" transform="rotate(150 269.9 280.2)"/><ellipse cx="254.4" cy="252.2" rx="1.3" ry="1.4" fill="#9a44a2" transform="rotate(168 254.4 252.2)"/><ellipse cx="256.0" cy="285.7" rx="0.9" ry="0.6" fill="#b45bbb" transform="rotate(100 256.0 285.7)"/><ellipse cx="240.7" cy="265.2" rx="1.0" ry="1.1" fill="#b45bbb" transform="rotate(48 240.7 265.2)"/><ellipse cx="231.7" cy="237.8" rx="0.9" ry="0.8" fill="#9a44a2" transform="rotate(50 231.7 237.8)"/><ellipse cx="263.6" cy="281.8" rx="0.9" ry="0.9" fill="#b45bbb" transform="rotate(127 263.6 281.8)"/><ellipse cx="247.4" cy="256.1" rx="1.2" ry="1.6" fill="#9a44a2" transform="rotate(105 247.4 256.1)"/><ellipse cx="250.1" cy="267.3" rx="1.1" ry="1.5" fill="#b45bbb" transform="rotate(175 250.1 267.3)"/><ellipse cx="256.0" cy="273.4" rx="1.3" ry="1.2" fill="#9a44a2" transform="rotate(101 256.0 273.4)"/><ellipse cx="276.3" cy="276.2" rx="1.5" ry="1.2" fill="#9a44a2" transform="rotate(29 276.3 276.2)"/><ellipse cx="255.0" cy="261.8" rx="0.8" ry="1.0" fill="#b45bbb" transform="rotate(60 255.0 261.8)"/><ellipse cx="267.5" cy="277.7" rx="1.0" ry="1.2" fill="#9a44a2" transform="rotate(19 267.5 277.7)"/><ellipse cx="269.2" cy="272.0" rx="1.0" ry="1.3" fill="#9a44a2" transform="rotate(63 269.2 272.0)"/><ellipse cx="267.5" cy="264.6" rx="0.8" ry="0.6" fill="#9a44a2" transform="rotate(59 267.5 264.6)"/><ellipse cx="275.1" cy="273.8" rx="1.1" ry="1.1" fill="#b45bbb" transform="rotate(122 275.1 273.8)"/><ellipse cx="258.3" cy="264.7" rx="0.9" ry="1.2" fill="#9a44a2" transform="rotate(32 258.3 264.7)"/><ellipse cx="257.2" cy="270.0" rx="1.3" ry="1.1" fill="#9a44a2" transform="rotate(142 257.2 270.0)"/><ellipse cx="222.3" cy="236.1" rx="1.1" ry="1.2" fill="#9a44a2" transform="rotate(46 222.3 236.1)"/></g>
<g fill="#9a3ea2" opacity="0.85" filter="url(#b0)">
<circle cx="16" cy="38" r="2.2"/>
<circle cx="20" cy="55" r="2.2"/>
<circle cx="18" cy="78" r="2.2"/>
<circle cx="22" cy="90" r="2.2"/>
<circle cx="17" cy="130" r="2.2"/>
<circle cx="20" cy="137" r="2.2"/>
<circle cx="18" cy="143" r="2.2"/>
<circle cx="22" cy="175" r="2.2"/>
<circle cx="20" cy="181" r="2.2"/>
<circle cx="17" cy="192" r="2.2"/>
<circle cx="24" cy="252" r="2.2"/>
</g>
<path d="M83,50 L104,66" stroke="#a848b0" stroke-width="1.8" filter="url(#b0)"/>
<ellipse cx="102" cy="64" rx="3" ry="2" fill="#c060c8"/>
<ellipse cx="62" cy="172" rx="9" ry="7" fill="#000" opacity="0.28" filter="url(#b2)"/>
<ellipse cx="95" cy="203" rx="10" ry="8" fill="#000" opacity="0.28" filter="url(#b2)"/>
<ellipse cx="121" cy="184" rx="8" ry="11" fill="#000" opacity="0.28" filter="url(#b2)"/>
<ellipse cx="138" cy="220" rx="9" ry="8" fill="#000" opacity="0.28" filter="url(#b2)"/>
<ellipse cx="162" cy="232" rx="8" ry="7" fill="#000" opacity="0.28" filter="url(#b2)"/>
<ellipse cx="90" cy="179" rx="7" ry="6" fill="#000" opacity="0.28" filter="url(#b2)"/>
<ellipse cx="110" cy="215" rx="7" ry="6" fill="#000" opacity="0.28" filter="url(#b2)"/>
<ellipse cx="75" cy="190" rx="6" ry="6" fill="#000" opacity="0.28" filter="url(#b2)"/>
<circle cx="19" cy="14.5" r="16" fill="#000" filter="url(#b1)"/>
<path d="M212.0,117.0 C212.3,113.2 218.8,115.3 222.0,115.5 C225.2,115.7 228.0,115.9 231.0,118.0 C234.0,120.1 237.3,123.5 240.0,128.0 C242.7,132.5 245.2,138.8 247.0,145.0 C248.8,151.2 250.5,160.3 251.0,165.0 C251.5,169.7 251.3,172.2 250.0,173.0 C248.7,173.8 246.0,173.0 243.0,170.0 C240.0,167.0 235.8,160.3 232.0,155.0 C228.2,149.7 223.3,144.3 220.0,138.0 C216.7,131.7 211.7,120.8 212.0,117.0 Z" fill="#030403" filter="url(#b1)"/>
<ellipse cx="268.4" cy="206" rx="8.5" ry="13.5" fill="#020202" filter="url(#b1)" transform="rotate(-15 268.4 206)"/>
<circle cx="286.9" cy="248.7" r="3" fill="#030303"/><circle cx="278.8" cy="270.6" r="3.8" fill="#030303"/>
<circle cx="314.5" cy="258" r="3.5" fill="#050505"/>
<path d="M101,148 C125,135 150,118 172,104 C185,101 200,104 213,117" stroke="#060806" stroke-width="1.5" fill="none" opacity="0.85"/>
<path d="M-8.0,76.0 C-5.0,65.3 1.8,81.8 10.0,86.0 C18.2,90.2 28.3,93.3 41.5,100.9 C54.7,108.5 76.3,121.9 89.0,131.8 C101.7,141.7 109.6,150.8 117.5,160.3 C125.4,169.8 132.0,180.4 136.5,188.8 C141.0,197.2 143.4,205.5 144.5,211.0 C145.6,216.5 144.3,219.2 143.0,222.0 C141.7,224.8 139.6,226.9 136.5,228.0 C133.4,229.1 132.6,230.7 124.7,228.5 C116.8,226.3 102.9,222.8 89.0,215.0 C75.1,207.2 54.7,190.7 41.5,181.7 C28.3,172.7 18.2,166.3 10.0,161.0 C1.8,155.7 -5.0,164.2 -8.0,150.0 C-11.0,135.8 -11.0,86.7 -8.0,76.0 Z" fill="none" stroke="#fff" stroke-width="2.6" stroke-dasharray="7.5 4.5"/>
<text x="154.0" y="84.3" font-size="28" fill="#fff" stroke="#160a18" stroke-width="0.6" textLength="22.0" lengthAdjust="spacingAndGlyphs">dl</text>
<text x="24.0" y="152.0" font-size="28" fill="#fff" stroke="#220b25" stroke-width="0.6" textLength="42.5" lengthAdjust="spacingAndGlyphs">scp</text>
<text x="260.5" y="196.0" font-size="28" fill="#fff" stroke="#120a13" stroke-width="0.6" textLength="21.0" lengthAdjust="spacingAndGlyphs">el</text>
<rect x="241" y="292.3" width="51.2" height="4.6" fill="#6c9bd2"/>
</g>
<g transform="translate(1449,1006)" clip-path="url(#cpA)">
<rect width="318" height="320" fill="#0f1a0e"/>
<path d="M215.0,-10.0 C226.3,-21.7 270.8,-21.7 282.0,-10.0 C293.2,1.7 282.7,40.0 282.0,60.0 C281.3,80.0 283.3,101.3 278.0,110.0 C272.7,118.7 258.8,113.7 250.0,112.0 C241.2,110.3 231.0,108.7 225.0,100.0 C219.0,91.3 215.7,78.3 214.0,60.0 C212.3,41.7 203.7,1.7 215.0,-10.0 Z" fill="#0c150c" filter="url(#b8)"/>
<ellipse cx="300" cy="70" rx="14" ry="60" fill="#1a3a1c" filter="url(#b8)" opacity="0.8"/>
<ellipse cx="298" cy="150" rx="12" ry="50" fill="#173317" filter="url(#b8)" opacity="0.7"/>
<ellipse cx="292" cy="100" rx="9" ry="9" fill="#1f4a22" filter="url(#b4)" opacity="0.8"/>
<g filter="url(#b0)"><circle cx="125.6" cy="13.8" r="1.8" fill="#48ba50"/><circle cx="104.3" cy="22.5" r="2.0" fill="#4dca56"/><circle cx="51.8" cy="24.8" r="2.0" fill="#4bc554"/><circle cx="59.9" cy="24.2" r="1.7" fill="#35863b"/><circle cx="50.1" cy="32.8" r="1.8" fill="#52d75b"/><circle cx="15.6" cy="34.6" r="1.5" fill="#50d35a"/><circle cx="17.3" cy="40.3" r="1.5" fill="#43ad4a"/><circle cx="16.1" cy="46.1" r="1.7" fill="#45b34d"/><circle cx="31.1" cy="49.5" r="1.5" fill="#34853a"/><circle cx="95.0" cy="38.0" r="1.9" fill="#3d9c44"/><circle cx="29.4" cy="59.3" r="1.5" fill="#4cc755"/><circle cx="62.2" cy="60.5" r="1.5" fill="#4dca56"/><circle cx="95.0" cy="62.8" r="1.5" fill="#47ba50"/><circle cx="157.3" cy="57.6" r="1.9" fill="#34843a"/><circle cx="104.3" cy="70.3" r="1.5" fill="#3b9641"/><circle cx="59.9" cy="76.6" r="1.9" fill="#53da5d"/><circle cx="66.2" cy="74.9" r="2.0" fill="#3d9d44"/><circle cx="85.3" cy="74.3" r="1.8" fill="#45b34d"/><circle cx="73.2" cy="83.5" r="2.0" fill="#3a9641"/><circle cx="74.9" cy="87.6" r="2.0" fill="#4ac052"/><circle cx="6.9" cy="73.7" r="1.6" fill="#50d25a"/><circle cx="9.2" cy="78.3" r="1.5" fill="#3fa347"/><circle cx="20.7" cy="76.6" r="1.4" fill="#39913f"/><circle cx="17.3" cy="82.4" r="1.8" fill="#3d9e44"/><circle cx="11.5" cy="90.4" r="1.8" fill="#34843a"/><circle cx="23.0" cy="92.2" r="1.6" fill="#3fa146"/><circle cx="126.7" cy="81.8" r="1.7" fill="#4ecc57"/><circle cx="151.5" cy="92.2" r="1.7" fill="#3e9f45"/><circle cx="153.2" cy="96.8" r="1.4" fill="#4ac253"/><circle cx="157.3" cy="100.2" r="1.4" fill="#53d95d"/><circle cx="78.3" cy="94.5" r="1.9" fill="#4cc654"/><circle cx="55.3" cy="94.5" r="1.9" fill="#35853a"/><circle cx="59.3" cy="98.5" r="1.7" fill="#40a447"/><circle cx="70.3" cy="97.9" r="1.4" fill="#34853a"/><circle cx="104.8" cy="95.6" r="2.0" fill="#3a9440"/><circle cx="126.2" cy="94.5" r="1.9" fill="#3a9541"/><circle cx="116.4" cy="102.0" r="2.0" fill="#51d55b"/><circle cx="122.7" cy="104.8" r="1.6" fill="#3fa246"/><circle cx="130.8" cy="101.4" r="1.9" fill="#45b24c"/><circle cx="104.3" cy="104.3" r="1.8" fill="#378d3d"/><circle cx="55.9" cy="104.8" r="1.9" fill="#4dca56"/><circle cx="25.9" cy="111.2" r="2.0" fill="#35873b"/><circle cx="9.2" cy="112.3" r="1.6" fill="#378c3d"/><circle cx="84.1" cy="108.9" r="2.0" fill="#47b94f"/><circle cx="87.6" cy="106.6" r="2.0" fill="#3fa246"/><circle cx="55.3" cy="112.3" r="1.6" fill="#45b44d"/><circle cx="54.1" cy="115.8" r="1.5" fill="#3ea045"/><circle cx="74.9" cy="113.5" r="1.5" fill="#368b3c"/><circle cx="63.4" cy="112.9" r="2.0" fill="#4ac052"/><circle cx="107.7" cy="113.5" r="1.4" fill="#39923f"/><circle cx="125.0" cy="115.2" r="1.7" fill="#53da5d"/><circle cx="70.3" cy="118.1" r="1.5" fill="#41a748"/><circle cx="85.3" cy="117.5" r="1.9" fill="#47b84f"/><circle cx="91.6" cy="116.9" r="1.7" fill="#42ac4a"/><circle cx="79.5" cy="121.5" r="1.9" fill="#36893c"/><circle cx="70.3" cy="125.6" r="1.7" fill="#35873b"/><circle cx="88.7" cy="126.2" r="1.5" fill="#4ecd58"/><circle cx="123.3" cy="122.1" r="2.0" fill="#4bc454"/><circle cx="145.2" cy="123.3" r="1.9" fill="#48bb50"/><circle cx="152.1" cy="125.0" r="1.7" fill="#378d3d"/><circle cx="16.1" cy="126.7" r="1.9" fill="#39913f"/><circle cx="16.1" cy="134.8" r="1.7" fill="#3d9e44"/><circle cx="17.3" cy="140.6" r="1.9" fill="#53db5d"/><circle cx="34.0" cy="146.3" r="1.7" fill="#53d95d"/><circle cx="91.6" cy="144.6" r="1.8" fill="#43af4b"/><circle cx="107.7" cy="145.2" r="1.6" fill="#43ae4b"/><circle cx="134.2" cy="141.7" r="1.5" fill="#41a748"/><circle cx="148.6" cy="141.1" r="2.0" fill="#40a547"/><circle cx="125.6" cy="148.6" r="1.8" fill="#52d85c"/><circle cx="130.8" cy="153.2" r="1.6" fill="#44b04b"/><circle cx="135.9" cy="149.8" r="1.6" fill="#378c3d"/><circle cx="96.8" cy="153.2" r="1.9" fill="#4dc856"/><circle cx="149.8" cy="156.1" r="1.9" fill="#3fa347"/><circle cx="123.8" cy="157.3" r="1.8" fill="#4cc855"/><circle cx="155.5" cy="157.3" r="1.9" fill="#49be51"/><circle cx="87.6" cy="141.7" r="1.8" fill="#3fa447"/><circle cx="160.0" cy="89.3" r="1.7" fill="#3d9c44"/><circle cx="175.1" cy="164.0" r="1.8" fill="#4cc755"/><circle cx="167.6" cy="177.3" r="2.0" fill="#3d9e44"/><circle cx="184.3" cy="173.8" r="1.7" fill="#48bd51"/><circle cx="182.0" cy="180.7" r="1.7" fill="#34853a"/><circle cx="190.1" cy="180.7" r="1.8" fill="#3c9a43"/><circle cx="191.8" cy="184.2" r="1.9" fill="#43ac4a"/><circle cx="197.0" cy="182.5" r="1.9" fill="#48bd51"/><circle cx="218.9" cy="182.5" r="1.8" fill="#3fa246"/><circle cx="175.7" cy="187.6" r="1.9" fill="#4bc454"/><circle cx="202.8" cy="187.6" r="2.2" fill="#51d55b"/><circle cx="174.0" cy="195.1" r="2.0" fill="#53d95d"/><circle cx="202.8" cy="195.1" r="2.3" fill="#45b34d"/><circle cx="221.2" cy="193.4" r="2.3" fill="#4ecc57"/><circle cx="214.3" cy="195.7" r="2.2" fill="#50d159"/><circle cx="227.0" cy="195.7" r="2.3" fill="#4dc956"/><circle cx="189.0" cy="199.7" r="1.8" fill="#48bc50"/><circle cx="207.4" cy="200.3" r="2.2" fill="#4ac052"/><circle cx="211.4" cy="202.0" r="1.9" fill="#4dca56"/><circle cx="217.8" cy="202.6" r="2.0" fill="#43ad4b"/><circle cx="228.1" cy="202.0" r="1.9" fill="#45b44d"/><circle cx="165.3" cy="203.8" r="1.6" fill="#43ad4a"/><circle cx="193.6" cy="204.4" r="1.8" fill="#47b950"/><circle cx="176.3" cy="207.2" r="1.9" fill="#3b9942"/><circle cx="205.1" cy="207.2" r="2.1" fill="#47b84f"/><circle cx="221.2" cy="206.7" r="1.9" fill="#49bd51"/><circle cx="228.1" cy="206.7" r="2.1" fill="#4cc554"/><circle cx="185.5" cy="214.7" r="2.0" fill="#46b74e"/><circle cx="203.9" cy="213.6" r="2.2" fill="#50d25a"/><circle cx="211.4" cy="213.6" r="2.2" fill="#4cc855"/><circle cx="225.2" cy="217.0" r="2.1" fill="#4dc856"/><circle cx="206.2" cy="218.8" r="2.2" fill="#44b04c"/><circle cx="216.0" cy="218.2" r="2.3" fill="#4dc956"/><circle cx="241.9" cy="220.5" r="2.0" fill="#46b64e"/><circle cx="211.4" cy="222.8" r="2.4" fill="#53da5d"/><circle cx="218.9" cy="224.5" r="2.1" fill="#53db5d"/><circle cx="225.8" cy="223.4" r="2.1" fill="#53db5d"/><circle cx="241.9" cy="223.9" r="2.2" fill="#44b14c"/><circle cx="213.1" cy="228.0" r="2.3" fill="#50d159"/><circle cx="223.5" cy="226.8" r="2.4" fill="#47b84f"/><circle cx="231.6" cy="229.1" r="2.0" fill="#47b84f"/><circle cx="238.5" cy="229.1" r="2.1" fill="#4dc856"/><circle cx="241.4" cy="229.1" r="2.0" fill="#4fcf58"/><circle cx="208.5" cy="232.0" r="2.1" fill="#4bc554"/><circle cx="222.4" cy="234.9" r="2.1" fill="#4ac153"/><circle cx="228.1" cy="233.7" r="2.0" fill="#43ad4a"/><circle cx="235.6" cy="235.5" r="2.2" fill="#52d65b"/><circle cx="243.1" cy="235.5" r="2.2" fill="#49c052"/><circle cx="247.7" cy="237.2" r="2.4" fill="#4ac253"/><circle cx="252.9" cy="238.3" r="2.0" fill="#51d45b"/><circle cx="222.4" cy="240.0" r="2.3" fill="#43ae4b"/><circle cx="229.3" cy="240.0" r="2.3" fill="#47b94f"/><circle cx="238.5" cy="238.9" r="2.2" fill="#4ac253"/><circle cx="244.3" cy="243.0" r="2.2" fill="#45b24d"/><circle cx="203.9" cy="243.0" r="2.3" fill="#46b64e"/><circle cx="223.5" cy="242.4" r="2.3" fill="#42ac4a"/><circle cx="229.3" cy="243.0" r="1.9" fill="#4ecd58"/><circle cx="236.2" cy="243.5" r="2.4" fill="#4dca56"/><circle cx="240.8" cy="245.8" r="2.4" fill="#47b94f"/><circle cx="252.9" cy="243.5" r="2.0" fill="#49bf52"/><circle cx="260.4" cy="246.4" r="2.1" fill="#44b04c"/><circle cx="225.8" cy="248.7" r="2.3" fill="#4cc755"/><circle cx="232.7" cy="251.0" r="2.1" fill="#4ac052"/><circle cx="239.6" cy="248.7" r="2.1" fill="#52d95c"/><circle cx="245.4" cy="249.3" r="2.2" fill="#45b24d"/><circle cx="250.0" cy="249.3" r="2.2" fill="#4cc655"/><circle cx="227.0" cy="252.2" r="2.3" fill="#46b74f"/><circle cx="237.3" cy="253.3" r="2.1" fill="#46b64e"/><circle cx="244.3" cy="252.2" r="2.2" fill="#4ece58"/><circle cx="258.1" cy="251.0" r="2.0" fill="#44af4b"/><circle cx="205.1" cy="252.2" r="2.1" fill="#51d65b"/><circle cx="209.1" cy="256.2" r="2.3" fill="#43ac4a"/><circle cx="231.6" cy="254.5" r="2.2" fill="#53d95d"/><circle cx="240.8" cy="255.6" r="2.2" fill="#53da5d"/><circle cx="248.9" cy="255.6" r="2.1" fill="#4dc956"/><circle cx="273.0" cy="252.2" r="2.1" fill="#4dc956"/><circle cx="252.3" cy="257.9" r="2.2" fill="#51d35a"/><circle cx="256.9" cy="259.1" r="2.2" fill="#51d45b"/><circle cx="267.3" cy="252.7" r="2.1" fill="#4fcf58"/><circle cx="237.3" cy="260.8" r="1.9" fill="#46b54e"/><circle cx="244.3" cy="262.0" r="1.9" fill="#4fd059"/><circle cx="254.6" cy="261.4" r="2.1" fill="#4dc956"/><circle cx="261.5" cy="260.2" r="2.0" fill="#45b24d"/><circle cx="263.8" cy="262.5" r="2.0" fill="#51d65b"/><circle cx="212.0" cy="263.1" r="2.0" fill="#45b34d"/><circle cx="248.9" cy="267.7" r="2.4" fill="#43ac4a"/><circle cx="255.8" cy="267.7" r="2.2" fill="#4ecc57"/><circle cx="261.0" cy="268.3" r="2.2" fill="#44b04c"/><circle cx="274.2" cy="265.4" r="2.0" fill="#4fce58"/><circle cx="276.5" cy="264.3" r="1.4" fill="#3a9541"/><circle cx="248.3" cy="271.8" r="2.4" fill="#49be52"/><circle cx="251.2" cy="275.2" r="1.6" fill="#3fa447"/><circle cx="241.4" cy="281.0" r="1.6" fill="#43ad4a"/><circle cx="266.1" cy="280.4" r="1.8" fill="#4bc454"/><circle cx="269.6" cy="282.1" r="1.5" fill="#39923f"/><circle cx="273.6" cy="280.4" r="2.0" fill="#49bf52"/><circle cx="288.0" cy="287.3" r="1.7" fill="#48bc51"/><circle cx="174.6" cy="279.8" r="1.4" fill="#53d95d"/><circle cx="303.0" cy="301.1" r="1.9" fill="#36893c"/><circle cx="175.1" cy="248.7" r="1.4" fill="#41a848"/><circle cx="174.6" cy="317.3" r="2.0" fill="#45b44d"/><circle cx="218.9" cy="301.1" r="1.6" fill="#44b14c"/><circle cx="163.6" cy="270.0" r="1.4" fill="#378c3d"/><circle cx="14.4" cy="173.8" r="1.7" fill="#50d35a"/><circle cx="14.4" cy="188.2" r="1.4" fill="#51d65b"/><circle cx="8.1" cy="199.2" r="1.4" fill="#3c9942"/><circle cx="25.3" cy="198.6" r="1.4" fill="#41a748"/><circle cx="40.9" cy="206.7" r="1.6" fill="#3c9a43"/><circle cx="8.6" cy="212.4" r="1.4" fill="#3e9f45"/><circle cx="23.6" cy="210.7" r="2.0" fill="#35873b"/><circle cx="43.2" cy="217.0" r="1.7" fill="#3a9340"/><circle cx="50.7" cy="222.2" r="1.7" fill="#41a748"/><circle cx="64.5" cy="225.7" r="1.6" fill="#378b3d"/><circle cx="39.2" cy="223.9" r="1.7" fill="#378d3d"/><circle cx="41.5" cy="235.5" r="1.8" fill="#51d55b"/><circle cx="49.5" cy="235.5" r="1.5" fill="#4fcf58"/><circle cx="34.6" cy="238.9" r="1.7" fill="#35853a"/><circle cx="39.7" cy="245.8" r="1.7" fill="#43ae4b"/><circle cx="43.2" cy="252.7" r="1.8" fill="#40a547"/><circle cx="53.6" cy="251.0" r="1.9" fill="#4bc354"/><circle cx="22.5" cy="253.9" r="1.7" fill="#3e9f45"/><circle cx="84.7" cy="259.1" r="1.5" fill="#4ecc57"/><circle cx="94.5" cy="233.2" r="1.6" fill="#388e3e"/><circle cx="103.1" cy="214.1" r="1.9" fill="#378b3d"/><circle cx="81.2" cy="214.1" r="1.6" fill="#4ecc57"/><circle cx="116.4" cy="196.9" r="1.4" fill="#388f3e"/><circle cx="126.7" cy="196.9" r="1.5" fill="#3c9942"/><circle cx="124.4" cy="252.2" r="1.7" fill="#42a949"/><circle cx="117.5" cy="254.5" r="1.4" fill="#3c9942"/><circle cx="55.9" cy="268.9" r="1.4" fill="#4ac153"/><circle cx="62.8" cy="268.3" r="1.6" fill="#3a9541"/><circle cx="50.1" cy="269.4" r="1.5" fill="#40a547"/><circle cx="39.7" cy="280.4" r="1.6" fill="#41a949"/><circle cx="59.3" cy="276.4" r="1.7" fill="#4cc655"/><circle cx="42.6" cy="290.8" r="1.8" fill="#50d25a"/><circle cx="52.4" cy="296.0" r="1.7" fill="#4cc655"/><circle cx="92.7" cy="286.7" r="1.9" fill="#42ab49"/><circle cx="97.9" cy="297.1" r="2.0" fill="#49bd51"/><circle cx="91.0" cy="304.6" r="1.8" fill="#4bc454"/><circle cx="88.7" cy="312.1" r="1.9" fill="#3c9b43"/><circle cx="140.6" cy="285.0" r="1.5" fill="#40a547"/><circle cx="137.1" cy="301.1" r="1.5" fill="#368a3c"/><circle cx="157.3" cy="244.1" r="1.8" fill="#3c9b43"/><circle cx="142.3" cy="217.0" r="1.4" fill="#3d9d44"/><circle cx="149.2" cy="268.9" r="1.7" fill="#4cc755"/><circle cx="46.1" cy="181.9" r="1.4" fill="#35863a"/><circle cx="135.4" cy="161.7" r="1.6" fill="#388f3e"/><circle cx="138.2" cy="165.8" r="2.0" fill="#4fcf58"/><circle cx="135.9" cy="170.4" r="1.5" fill="#47b950"/><circle cx="142.3" cy="170.4" r="1.6" fill="#42a949"/><circle cx="141.1" cy="173.2" r="1.4" fill="#3ea145"/><circle cx="135.4" cy="175.6" r="1.9" fill="#46b74f"/><circle cx="133.6" cy="177.3" r="1.5" fill="#4bc454"/><circle cx="144.0" cy="177.9" r="1.5" fill="#45b24d"/><circle cx="148.0" cy="168.6" r="1.7" fill="#4ac253"/><circle cx="151.5" cy="175.6" r="1.9" fill="#52d65b"/><circle cx="126.2" cy="162.9" r="1.6" fill="#388e3e"/><circle cx="138.8" cy="186.5" r="1.7" fill="#51d45a"/><circle cx="145.7" cy="184.8" r="1.7" fill="#42aa49"/><circle cx="145.7" cy="188.2" r="2.0" fill="#4cc755"/><circle cx="144.0" cy="192.3" r="2.0" fill="#45b24d"/><circle cx="157.8" cy="184.8" r="1.5" fill="#47b84f"/><circle cx="158.4" cy="168.1" r="1.7" fill="#4ecb57"/><circle cx="146.9" cy="162.3" r="2.0" fill="#36883b"/><circle cx="161.3" cy="8.6" r="1.7" fill="#35873b"/><circle cx="201.6" cy="39.7" r="1.9" fill="#43ae4b"/><circle cx="208.5" cy="39.7" r="1.5" fill="#40a648"/><circle cx="172.8" cy="53.0" r="1.5" fill="#3d9c43"/><circle cx="183.2" cy="55.3" r="1.6" fill="#46b54e"/><circle cx="174.6" cy="65.1" r="1.5" fill="#4cc655"/><circle cx="160.7" cy="89.3" r="1.5" fill="#3fa346"/><circle cx="185.5" cy="91.6" r="1.9" fill="#53da5d"/><circle cx="169.4" cy="130.8" r="1.8" fill="#4fce58"/><circle cx="197.6" cy="143.4" r="1.5" fill="#41a748"/><circle cx="174.0" cy="150.3" r="1.7" fill="#4ecd57"/><circle cx="193.0" cy="156.1" r="1.5" fill="#35873b"/><circle cx="201.0" cy="155.0" r="1.8" fill="#378c3d"/><circle cx="308.2" cy="117.5" r="1.5" fill="#50d35a"/><circle cx="273.0" cy="198.9" r="1.4" fill="#18361a"/><circle cx="162.7" cy="187.4" r="1.4" fill="#1c421f"/><circle cx="10.5" cy="100.6" r="1.4" fill="#225125"/><circle cx="127.3" cy="312.4" r="1.7" fill="#225125"/><circle cx="212.4" cy="171.6" r="1.4" fill="#204d23"/><circle cx="215.4" cy="167.0" r="1.2" fill="#19391b"/><circle cx="113.7" cy="185.4" r="1.6" fill="#1c421e"/><circle cx="24.6" cy="240.1" r="1.7" fill="#255928"/><circle cx="217.9" cy="266.9" r="1.5" fill="#1b3e1d"/><circle cx="164.2" cy="285.2" r="1.7" fill="#204b22"/><circle cx="125.5" cy="2.9" r="1.3" fill="#214f24"/><circle cx="284.5" cy="289.6" r="1.4" fill="#1a3a1b"/><circle cx="218.3" cy="176.9" r="1.4" fill="#245828"/><circle cx="68.8" cy="98.6" r="1.5" fill="#255928"/><circle cx="54.6" cy="202.0" r="1.3" fill="#19381b"/><circle cx="179.7" cy="264.4" r="1.6" fill="#1e4620"/><circle cx="135.6" cy="169.1" r="1.4" fill="#1c411e"/><circle cx="192.1" cy="307.4" r="1.2" fill="#1a3a1b"/><circle cx="178.6" cy="192.7" r="1.3" fill="#204d23"/><circle cx="205.0" cy="220.1" r="1.2" fill="#1f4921"/><circle cx="264.1" cy="304.5" r="1.6" fill="#214f24"/><circle cx="266.0" cy="152.6" r="1.3" fill="#1a3c1c"/><circle cx="31.1" cy="50.0" r="1.3" fill="#235326"/><circle cx="233.2" cy="260.0" r="1.6" fill="#255a28"/><circle cx="302.5" cy="199.5" r="1.3" fill="#193a1b"/><circle cx="22.2" cy="67.2" r="1.4" fill="#225024"/><circle cx="172.6" cy="120.6" r="1.5" fill="#1d441f"/><circle cx="216.7" cy="158.6" r="1.7" fill="#19391b"/><circle cx="240.6" cy="229.9" r="1.3" fill="#1f4821"/><circle cx="113.2" cy="235.0" r="1.4" fill="#1c411e"/><circle cx="158.6" cy="222.2" r="1.5" fill="#1c411e"/><circle cx="107.8" cy="270.0" r="1.2" fill="#1e4620"/><circle cx="76.7" cy="212.5" r="1.3" fill="#19391b"/><circle cx="152.0" cy="313.1" r="1.4" fill="#255a28"/><circle cx="30.8" cy="114.4" r="1.2" fill="#235426"/><circle cx="115.4" cy="7.2" r="1.4" fill="#1d4520"/><circle cx="164.3" cy="18.8" r="1.7" fill="#1e4721"/><circle cx="150.2" cy="29.0" r="1.7" fill="#225124"/><circle cx="161.5" cy="18.7" r="1.6" fill="#1e4720"/><circle cx="188.4" cy="287.1" r="1.5" fill="#19371a"/><circle cx="9.5" cy="245.2" r="1.6" fill="#245627"/><circle cx="289.4" cy="121.6" r="1.6" fill="#245928"/><circle cx="48.5" cy="248.8" r="1.7" fill="#265d29"/><circle cx="70.0" cy="135.2" r="1.4" fill="#1c411e"/><circle cx="211.3" cy="41.0" r="1.4" fill="#19391b"/><circle cx="121.7" cy="285.6" r="1.3" fill="#18361a"/><circle cx="262.1" cy="305.6" r="1.3" fill="#1b3f1d"/><circle cx="290.9" cy="298.3" r="1.3" fill="#1e4620"/><circle cx="85.7" cy="240.2" r="1.6" fill="#1a3c1c"/><circle cx="164.8" cy="310.1" r="1.2" fill="#1a3a1b"/><circle cx="204.1" cy="120.5" r="1.4" fill="#204c23"/><circle cx="84.6" cy="174.3" r="1.3" fill="#1f4921"/><circle cx="133.5" cy="161.3" r="1.6" fill="#19381a"/><circle cx="159.2" cy="14.1" r="1.4" fill="#18371a"/><circle cx="95.5" cy="144.2" r="1.7" fill="#1d441f"/><circle cx="168.4" cy="227.4" r="1.7" fill="#265c29"/><circle cx="96.8" cy="54.7" r="1.2" fill="#1e4721"/><circle cx="233.2" cy="169.1" r="1.7" fill="#1c411e"/><circle cx="175.2" cy="264.2" r="1.4" fill="#1f4921"/><circle cx="179.7" cy="67.5" r="1.2" fill="#19391b"/><circle cx="109.4" cy="47.4" r="1.3" fill="#1c411e"/><circle cx="248.1" cy="236.2" r="1.6" fill="#214e24"/><circle cx="124.0" cy="200.7" r="1.3" fill="#245828"/><circle cx="139.7" cy="285.5" r="1.3" fill="#19381a"/><circle cx="234.3" cy="179.3" r="1.2" fill="#245627"/><circle cx="157.2" cy="277.3" r="1.5" fill="#1a3a1b"/><circle cx="228.4" cy="195.2" r="1.3" fill="#255b29"/><circle cx="36.9" cy="22.2" r="1.2" fill="#19381b"/><circle cx="146.5" cy="207.0" r="1.6" fill="#19381b"/><circle cx="203.9" cy="268.6" r="1.6" fill="#1c401e"/><circle cx="95.8" cy="2.5" r="1.5" fill="#255928"/><circle cx="148.2" cy="51.1" r="1.3" fill="#255b29"/><circle cx="66.4" cy="29.9" r="1.2" fill="#1e4620"/><circle cx="197.2" cy="207.6" r="1.3" fill="#1f4921"/><circle cx="217.8" cy="143.3" r="1.7" fill="#1a3b1c"/><circle cx="86.1" cy="158.0" r="1.7" fill="#204b22"/><circle cx="210.0" cy="134.6" r="1.6" fill="#1c411e"/><circle cx="35.9" cy="83.9" r="1.6" fill="#1c401e"/><circle cx="199.6" cy="204.4" r="1.3" fill="#235426"/><circle cx="107.6" cy="34.5" r="1.6" fill="#204c23"/><circle cx="17.7" cy="309.2" r="1.5" fill="#225225"/><circle cx="83.9" cy="131.0" r="1.2" fill="#19381b"/><circle cx="227.1" cy="131.7" r="1.2" fill="#1c421e"/><circle cx="58.6" cy="300.1" r="1.6" fill="#1f4922"/><circle cx="34.7" cy="133.5" r="1.2" fill="#204c23"/><circle cx="93.1" cy="36.1" r="1.7" fill="#255b29"/><circle cx="148.4" cy="34.5" r="1.3" fill="#204b22"/><circle cx="28.3" cy="314.0" r="1.4" fill="#1c401e"/><circle cx="175.0" cy="309.5" r="1.3" fill="#1f4a22"/><circle cx="290.3" cy="122.6" r="1.7" fill="#1d421f"/><circle cx="256.6" cy="169.2" r="1.2" fill="#255a29"/><circle cx="148.3" cy="142.0" r="1.5" fill="#1f4922"/><circle cx="91.2" cy="237.2" r="1.4" fill="#235326"/><circle cx="191.9" cy="44.4" r="1.5" fill="#225225"/><circle cx="34.2" cy="317.2" r="1.3" fill="#19391b"/><circle cx="142.2" cy="197.8" r="1.3" fill="#225125"/><circle cx="35.0" cy="185.4" r="1.4" fill="#19381a"/><circle cx="107.7" cy="189.0" r="1.4" fill="#245827"/><circle cx="132.2" cy="310.5" r="1.5" fill="#235326"/><circle cx="100.1" cy="271.6" r="1.4" fill="#245627"/><circle cx="214.2" cy="109.4" r="1.5" fill="#225225"/><circle cx="194.9" cy="253.5" r="1.4" fill="#18361a"/><circle cx="250.3" cy="245.8" r="1.2" fill="#1f4b22"/><circle cx="152.3" cy="39.8" r="1.7" fill="#245727"/><circle cx="76.8" cy="264.0" r="1.4" fill="#214f24"/><circle cx="73.9" cy="88.5" r="1.5" fill="#204c23"/><circle cx="235.4" cy="161.2" r="1.4" fill="#225225"/><circle cx="119.1" cy="190.6" r="1.4" fill="#225124"/><circle cx="21.3" cy="84.3" r="1.3" fill="#19381a"/><circle cx="6.5" cy="244.1" r="1.4" fill="#1e4721"/><circle cx="254.1" cy="152.6" r="1.2" fill="#235526"/><circle cx="243.0" cy="199.0" r="1.5" fill="#225225"/><circle cx="269.2" cy="197.1" r="1.6" fill="#265c29"/><circle cx="65.2" cy="22.9" r="1.3" fill="#1d441f"/><circle cx="30.0" cy="71.6" r="1.4" fill="#1c411e"/><circle cx="230.8" cy="124.8" r="1.7" fill="#255928"/><circle cx="143.6" cy="131.2" r="1.4" fill="#235426"/><circle cx="219.7" cy="273.9" r="1.6" fill="#245827"/><circle cx="290.0" cy="252.6" r="1.5" fill="#214f24"/><circle cx="279.2" cy="227.5" r="1.3" fill="#1d431f"/><circle cx="80.6" cy="217.5" r="1.3" fill="#1f4b22"/><circle cx="265.8" cy="117.5" r="1.5" fill="#1d441f"/><circle cx="47.2" cy="93.0" r="1.3" fill="#1e4620"/><circle cx="34.9" cy="3.9" r="1.7" fill="#245627"/><circle cx="104.4" cy="294.1" r="1.3" fill="#18361a"/><circle cx="20.4" cy="192.2" r="1.4" fill="#235526"/><circle cx="143.7" cy="292.3" r="1.5" fill="#1a3c1c"/><circle cx="135.9" cy="141.1" r="1.3" fill="#1c411e"/><circle cx="71.0" cy="212.2" r="1.2" fill="#225225"/><circle cx="129.9" cy="103.3" r="1.6" fill="#1c421e"/><circle cx="214.8" cy="41.0" r="1.2" fill="#214f24"/><circle cx="289.6" cy="203.1" r="1.5" fill="#1f4821"/><circle cx="141.1" cy="49.8" r="1.4" fill="#19391b"/><circle cx="213.8" cy="79.0" r="1.2" fill="#1c421e"/><circle cx="294.4" cy="94.2" r="1.4" fill="#255b29"/><circle cx="29.6" cy="110.2" r="1.5" fill="#1e4821"/><circle cx="32.9" cy="274.5" r="1.5" fill="#1e4721"/><circle cx="91.7" cy="85.5" r="1.5" fill="#1d431f"/><circle cx="161.2" cy="269.3" r="1.4" fill="#214f24"/><circle cx="195.1" cy="130.1" r="1.3" fill="#1e4721"/><circle cx="191.4" cy="188.6" r="1.4" fill="#225225"/><circle cx="15.0" cy="36.4" r="1.7" fill="#19381b"/><circle cx="27.6" cy="200.0" r="1.5" fill="#18371a"/><circle cx="145.4" cy="53.1" r="1.5" fill="#1f4a22"/><circle cx="270.0" cy="268.0" r="1.6" fill="#1a3d1c"/><circle cx="151.0" cy="103.0" r="1.3" fill="#245828"/><circle cx="118.3" cy="249.7" r="1.7" fill="#1d4520"/><circle cx="271.1" cy="317.1" r="1.6" fill="#225225"/><circle cx="145.7" cy="89.8" r="1.4" fill="#255a28"/><circle cx="128.2" cy="82.7" r="1.4" fill="#214e23"/><circle cx="144.7" cy="92.5" r="1.6" fill="#214f24"/><circle cx="78.5" cy="159.8" r="1.5" fill="#255928"/><circle cx="194.1" cy="53.3" r="1.2" fill="#1f4921"/><circle cx="87.8" cy="168.2" r="1.3" fill="#265c29"/><circle cx="12.2" cy="40.6" r="1.7" fill="#1c421e"/><circle cx="79.8" cy="22.6" r="1.7" fill="#225325"/><circle cx="291.0" cy="266.1" r="1.3" fill="#1a3c1c"/><circle cx="86.8" cy="22.7" r="1.6" fill="#1f4921"/><circle cx="5.3" cy="98.3" r="1.6" fill="#225225"/><circle cx="231.7" cy="290.1" r="1.4" fill="#204c23"/><circle cx="90.7" cy="13.5" r="1.4" fill="#1a3a1b"/><circle cx="27.3" cy="80.1" r="1.7" fill="#1f4921"/><circle cx="264.8" cy="237.2" r="1.4" fill="#1d4520"/><circle cx="101.6" cy="202.4" r="1.6" fill="#1c411e"/><circle cx="49.0" cy="4.8" r="1.3" fill="#18361a"/><circle cx="96.8" cy="74.2" r="1.5" fill="#204d23"/><circle cx="90.5" cy="232.9" r="1.7" fill="#1a3a1b"/><circle cx="187.9" cy="224.7" r="1.4" fill="#245827"/><circle cx="199.6" cy="220.3" r="1.3" fill="#1f4821"/><circle cx="173.2" cy="32.1" r="1.4" fill="#1f4821"/><circle cx="165.9" cy="267.1" r="1.5" fill="#204d23"/><circle cx="207.8" cy="100.7" r="1.4" fill="#204d23"/><circle cx="204.4" cy="44.3" r="1.5" fill="#1b3d1d"/><circle cx="34.1" cy="295.5" r="1.4" fill="#1c411e"/><circle cx="11.8" cy="87.3" r="1.4" fill="#255928"/><circle cx="26.9" cy="113.1" r="1.5" fill="#18371a"/><circle cx="73.8" cy="90.8" r="1.4" fill="#1c401e"/><circle cx="152.8" cy="155.3" r="1.5" fill="#225225"/><circle cx="151.9" cy="171.8" r="1.7" fill="#214e23"/><circle cx="15.9" cy="161.6" r="1.4" fill="#225024"/><circle cx="117.5" cy="196.8" r="1.5" fill="#255a28"/><circle cx="224.2" cy="226.2" r="1.3" fill="#214e23"/><circle cx="196.8" cy="21.3" r="1.3" fill="#1f4921"/><circle cx="166.5" cy="230.2" r="1.4" fill="#255a29"/><circle cx="141.1" cy="181.0" r="1.4" fill="#225225"/><circle cx="206.7" cy="172.6" r="1.6" fill="#1a3b1c"/><circle cx="154.8" cy="196.5" r="1.7" fill="#235526"/><circle cx="288.8" cy="301.0" r="1.4" fill="#235426"/><circle cx="169.0" cy="212.9" r="1.6" fill="#225225"/><circle cx="306.7" cy="158.0" r="1.5" fill="#204c22"/><circle cx="17.4" cy="305.1" r="1.4" fill="#19371a"/><circle cx="61.8" cy="295.5" r="1.3" fill="#235526"/><circle cx="77.8" cy="212.9" r="1.6" fill="#1f4821"/><circle cx="105.2" cy="83.9" r="1.2" fill="#1a3a1b"/><circle cx="48.7" cy="101.4" r="1.7" fill="#1d441f"/><circle cx="80.4" cy="94.7" r="1.4" fill="#1a3a1b"/><circle cx="166.5" cy="87.0" r="1.6" fill="#193a1b"/><circle cx="139.9" cy="244.0" r="1.6" fill="#1c421f"/><circle cx="135.2" cy="3.0" r="1.7" fill="#225225"/><circle cx="233.5" cy="258.3" r="1.4" fill="#1f4821"/><circle cx="287.5" cy="288.9" r="1.7" fill="#204b22"/><circle cx="97.7" cy="28.1" r="1.5" fill="#1e4721"/><circle cx="99.5" cy="301.5" r="1.4" fill="#235426"/><circle cx="78.7" cy="135.6" r="1.3" fill="#265d29"/><circle cx="197.1" cy="167.5" r="1.5" fill="#1f4a22"/><circle cx="117.1" cy="48.6" r="1.3" fill="#1e4620"/><circle cx="5.2" cy="215.2" r="1.3" fill="#1c421f"/><circle cx="156.7" cy="68.2" r="1.4" fill="#19381b"/><circle cx="28.8" cy="283.3" r="1.3" fill="#225225"/><circle cx="16.4" cy="282.9" r="1.5" fill="#19381a"/><circle cx="135.7" cy="266.4" r="1.3" fill="#1b3f1d"/><circle cx="22.0" cy="166.9" r="1.4" fill="#255928"/><circle cx="284.9" cy="157.4" r="1.3" fill="#255b29"/><circle cx="273.8" cy="154.5" r="1.3" fill="#265c29"/><circle cx="103.4" cy="294.1" r="1.7" fill="#225225"/><circle cx="25.0" cy="90.3" r="1.7" fill="#225024"/><circle cx="14.3" cy="111.9" r="1.3" fill="#1b3f1d"/><circle cx="164.1" cy="119.8" r="1.4" fill="#255b29"/><circle cx="189.4" cy="239.6" r="1.2" fill="#245828"/><circle cx="31.9" cy="64.0" r="1.6" fill="#214e23"/><circle cx="151.5" cy="230.2" r="1.3" fill="#1b3e1d"/><circle cx="37.4" cy="13.6" r="1.7" fill="#1d431f"/><circle cx="131.5" cy="90.1" r="1.4" fill="#1a3c1c"/><circle cx="279.6" cy="295.5" r="1.4" fill="#1b3e1d"/><circle cx="202.7" cy="115.4" r="1.4" fill="#214d23"/><circle cx="160.0" cy="156.1" r="1.4" fill="#255b29"/><circle cx="139.7" cy="252.2" r="1.5" fill="#204d23"/><circle cx="250.0" cy="227.0" r="1.4" fill="#1a3c1c"/><circle cx="8.6" cy="219.2" r="1.3" fill="#18371a"/><circle cx="9.1" cy="214.3" r="1.4" fill="#215024"/><circle cx="287.0" cy="223.5" r="1.7" fill="#1b3d1c"/><circle cx="184.4" cy="205.5" r="1.6" fill="#214e23"/><circle cx="92.2" cy="197.3" r="1.4" fill="#1c401e"/><circle cx="105.7" cy="311.1" r="1.4" fill="#204c22"/><circle cx="207.9" cy="84.8" r="1.3" fill="#204c23"/><circle cx="190.0" cy="311.0" r="1.6" fill="#265c29"/><circle cx="157.9" cy="135.3" r="1.4" fill="#235326"/><circle cx="182.6" cy="40.7" r="1.5" fill="#225325"/><circle cx="173.9" cy="188.0" r="1.3" fill="#1a3b1c"/><circle cx="231.5" cy="112.5" r="1.6" fill="#225325"/><circle cx="241.9" cy="124.3" r="1.6" fill="#1b3e1d"/><circle cx="211.8" cy="222.1" r="1.2" fill="#204d23"/><circle cx="250.2" cy="187.9" r="1.3" fill="#225225"/><circle cx="138.7" cy="185.4" r="1.3" fill="#204b22"/><circle cx="192.7" cy="289.4" r="1.4" fill="#214f24"/><circle cx="199.2" cy="130.9" r="1.5" fill="#1d4520"/><circle cx="13.7" cy="55.7" r="1.5" fill="#214f24"/><circle cx="155.9" cy="260.0" r="1.4" fill="#235326"/><circle cx="215.3" cy="136.6" r="1.2" fill="#204b22"/><circle cx="271.5" cy="279.8" r="1.6" fill="#1f4b22"/><circle cx="203.5" cy="315.0" r="1.4" fill="#1a3b1b"/><circle cx="47.9" cy="62.2" r="1.4" fill="#235326"/><circle cx="110.5" cy="78.6" r="1.7" fill="#1b3d1d"/><circle cx="286.1" cy="281.0" r="1.3" fill="#225225"/><circle cx="286.2" cy="189.4" r="1.5" fill="#255b29"/><circle cx="187.5" cy="49.2" r="1.5" fill="#19381a"/><circle cx="2.4" cy="120.2" r="1.4" fill="#19391b"/><circle cx="177.7" cy="215.5" r="1.5" fill="#1f4a22"/><circle cx="249.8" cy="184.1" r="1.5" fill="#245627"/><circle cx="32.3" cy="38.0" r="1.6" fill="#18361a"/></g>
<ellipse cx="62" cy="172" rx="9" ry="7" fill="#000" opacity="0.28" filter="url(#b2)"/>
<ellipse cx="95" cy="203" rx="10" ry="8" fill="#000" opacity="0.28" filter="url(#b2)"/>
<ellipse cx="121" cy="184" rx="8" ry="11" fill="#000" opacity="0.28" filter="url(#b2)"/>
<ellipse cx="138" cy="220" rx="9" ry="8" fill="#000" opacity="0.28" filter="url(#b2)"/>
<ellipse cx="162" cy="232" rx="8" ry="7" fill="#000" opacity="0.28" filter="url(#b2)"/>
<ellipse cx="90" cy="179" rx="7" ry="6" fill="#000" opacity="0.28" filter="url(#b2)"/>
<ellipse cx="110" cy="215" rx="7" ry="6" fill="#000" opacity="0.28" filter="url(#b2)"/>
<ellipse cx="75" cy="190" rx="6" ry="6" fill="#000" opacity="0.28" filter="url(#b2)"/>
<circle cx="19" cy="14.5" r="16" fill="#000" filter="url(#b1)"/>
<path d="M212.0,117.0 C212.3,113.2 218.8,115.3 222.0,115.5 C225.2,115.7 228.0,115.9 231.0,118.0 C234.0,120.1 237.3,123.5 240.0,128.0 C242.7,132.5 245.2,138.8 247.0,145.0 C248.8,151.2 250.5,160.3 251.0,165.0 C251.5,169.7 251.3,172.2 250.0,173.0 C248.7,173.8 246.0,173.0 243.0,170.0 C240.0,167.0 235.8,160.3 232.0,155.0 C228.2,149.7 223.3,144.3 220.0,138.0 C216.7,131.7 211.7,120.8 212.0,117.0 Z" fill="#030403" filter="url(#b1)"/>
<ellipse cx="268.4" cy="206" rx="8.5" ry="13.5" fill="#020202" filter="url(#b1)" transform="rotate(-15 268.4 206)"/>
<circle cx="286.9" cy="248.7" r="3" fill="#030303"/><circle cx="278.8" cy="270.6" r="3.8" fill="#030303"/>
<circle cx="314.5" cy="258" r="3.5" fill="#050505"/>
<path d="M101,148 C125,135 150,118 172,104 C185,101 200,104 213,117" stroke="#060806" stroke-width="1.5" fill="none" opacity="0.85"/>
</g>
<g transform="translate(1772.5,1006)" clip-path="url(#cpA)">
<rect width="318" height="320" fill="#1c0f20"/>
<path d="M110.0,-10.0 C147.5,-16.7 293.3,-66.7 330.0,-10.0 C366.7,46.7 334.2,273.3 330.0,330.0 C325.8,386.7 311.3,343.3 305.0,330.0 C298.7,316.7 298.7,273.3 292.0,250.0 C285.3,226.7 274.5,208.3 265.0,190.0 C255.5,171.7 245.0,153.3 235.0,140.0 C225.0,126.7 215.8,116.7 205.0,110.0 C194.2,103.3 182.5,106.7 170.0,100.0 C157.5,93.3 140.8,81.7 130.0,70.0 C119.2,58.3 108.3,43.3 105.0,30.0 C101.7,16.7 72.5,-3.3 110.0,-10.0 Z" fill="#161018" filter="url(#b8)"/>
<path d="M215.0,-10.0 C234.7,-18.3 310.8,-66.7 330.0,-10.0 C349.2,46.7 334.2,273.3 330.0,330.0 C325.8,386.7 311.7,343.3 305.0,330.0 C298.3,316.7 296.7,272.5 290.0,250.0 C283.3,227.5 272.0,210.0 265.0,195.0 C258.0,180.0 254.2,171.7 248.0,160.0 C241.8,148.3 233.3,135.0 228.0,125.0 C222.7,115.0 218.7,114.2 216.0,100.0 C213.3,85.8 212.2,58.3 212.0,40.0 C211.8,21.7 195.3,-1.7 215.0,-10.0 Z" fill="#0e160e" filter="url(#b8)"/>
<ellipse cx="80" cy="290" rx="130" ry="50" fill="#2c0f32" filter="url(#b16)" opacity="0.8"/>
<ellipse cx="300" cy="70" rx="14" ry="60" fill="#1a3a1c" filter="url(#b8)" opacity="0.8"/>
<ellipse cx="298" cy="150" rx="12" ry="50" fill="#173317" filter="url(#b8)" opacity="0.7"/>
<ellipse cx="292" cy="100" rx="9" ry="9" fill="#1f4a22" filter="url(#b4)" opacity="0.8"/>
<path d="M184.0,158.0 C191.5,157.6 209.8,163.5 219.7,169.8 C229.6,176.1 237.6,187.7 243.5,196.0 C249.4,204.3 250.2,209.8 255.3,219.7 C260.4,229.6 269.2,245.4 274.3,255.3 C279.4,265.2 281.9,271.6 286.2,279.0 C290.5,286.4 303.2,298.8 300.0,300.0 C296.8,301.2 276.6,290.5 267.2,286.2 C257.8,281.9 251.4,279.4 243.5,274.3 C235.6,269.2 226.4,262.4 219.7,255.3 C212.9,248.2 208.9,239.5 203.0,231.6 C197.1,223.7 188.7,217.7 184.0,207.8 C179.3,197.9 174.6,180.5 174.6,172.2 C174.6,163.9 176.5,158.4 184.0,158.0 Z" fill="#5a1a62" filter="url(#b4)" opacity="0.85"/>
<ellipse cx="232" cy="222" rx="40" ry="22" fill="#9a3aa2" filter="url(#b8)" transform="rotate(55 232 222)" opacity="0.95"/>
<ellipse cx="238" cy="232" rx="26" ry="13" fill="#b04cb8" filter="url(#b4)" transform="rotate(55 238 232)" opacity="0.95"/>
<g opacity="0.8075" filter="url(#b0)"><ellipse cx="218.8" cy="217.4" rx="1.7" ry="1.5" fill="#b85cc0" transform="rotate(161 218.8 217.4)"/><ellipse cx="221.1" cy="227.3" rx="1.6" ry="1.8" fill="#a548ac" transform="rotate(151 221.1 227.3)"/><ellipse cx="221.7" cy="215.1" rx="1.8" ry="1.5" fill="#b85cc0" transform="rotate(46 221.7 215.1)"/><ellipse cx="238.0" cy="205.6" rx="1.6" ry="1.0" fill="#a548ac" transform="rotate(156 238.0 205.6)"/><ellipse cx="243.9" cy="228.7" rx="1.5" ry="1.1" fill="#8d3a94" transform="rotate(121 243.9 228.7)"/><ellipse cx="239.0" cy="270.1" rx="0.9" ry="0.7" fill="#b85cc0" transform="rotate(112 239.0 270.1)"/><ellipse cx="228.9" cy="211.5" rx="1.1" ry="0.8" fill="#a548ac" transform="rotate(120 228.9 211.5)"/><ellipse cx="205.0" cy="204.8" rx="1.7" ry="1.3" fill="#c873cf" transform="rotate(15 205.0 204.8)"/><ellipse cx="251.7" cy="278.8" rx="1.2" ry="1.5" fill="#c873cf" transform="rotate(97 251.7 278.8)"/><ellipse cx="258.5" cy="240.3" rx="1.0" ry="1.2" fill="#8d3a94" transform="rotate(129 258.5 240.3)"/><ellipse cx="243.6" cy="207.9" rx="1.8" ry="2.1" fill="#a548ac" transform="rotate(161 243.6 207.9)"/><ellipse cx="203.3" cy="202.4" rx="1.4" ry="1.3" fill="#a548ac" transform="rotate(153 203.3 202.4)"/><ellipse cx="244.7" cy="239.1" rx="1.2" ry="1.1" fill="#c873cf" transform="rotate(130 244.7 239.1)"/><ellipse cx="237.8" cy="224.1" rx="1.3" ry="1.8" fill="#8d3a94" transform="rotate(45 237.8 224.1)"/><ellipse cx="203.7" cy="209.3" rx="1.6" ry="1.3" fill="#c873cf" transform="rotate(79 203.7 209.3)"/><ellipse cx="242.0" cy="253.2" rx="0.8" ry="0.6" fill="#b85cc0" transform="rotate(120 242.0 253.2)"/><ellipse cx="239.0" cy="241.6" rx="1.3" ry="0.9" fill="#b85cc0" transform="rotate(69 239.0 241.6)"/><ellipse cx="246.6" cy="204.3" rx="1.4" ry="1.6" fill="#c873cf" transform="rotate(99 246.6 204.3)"/><ellipse cx="192.0" cy="168.7" rx="1.6" ry="1.0" fill="#8d3a94" transform="rotate(106 192.0 168.7)"/><ellipse cx="257.3" cy="249.6" rx="1.2" ry="1.7" fill="#b85cc0" transform="rotate(173 257.3 249.6)"/><ellipse cx="249.2" cy="258.4" rx="1.0" ry="0.9" fill="#8d3a94" transform="rotate(168 249.2 258.4)"/><ellipse cx="246.1" cy="240.0" rx="1.7" ry="1.8" fill="#8d3a94" transform="rotate(149 246.1 240.0)"/><ellipse cx="246.5" cy="232.3" rx="1.1" ry="1.4" fill="#c873cf" transform="rotate(124 246.5 232.3)"/><ellipse cx="220.7" cy="235.5" rx="1.0" ry="0.8" fill="#c873cf" transform="rotate(85 220.7 235.5)"/><ellipse cx="242.2" cy="251.2" rx="0.9" ry="1.1" fill="#c873cf" transform="rotate(129 242.2 251.2)"/><ellipse cx="233.5" cy="222.0" rx="1.2" ry="1.2" fill="#b85cc0" transform="rotate(165 233.5 222.0)"/><ellipse cx="223.6" cy="201.5" rx="1.0" ry="1.3" fill="#a548ac" transform="rotate(92 223.6 201.5)"/><ellipse cx="232.5" cy="252.2" rx="0.8" ry="1.0" fill="#c873cf" transform="rotate(49 232.5 252.2)"/><ellipse cx="254.4" cy="262.8" rx="1.2" ry="0.9" fill="#b85cc0" transform="rotate(95 254.4 262.8)"/><ellipse cx="220.9" cy="191.2" rx="0.9" ry="0.9" fill="#c873cf" transform="rotate(7 220.9 191.2)"/><ellipse cx="217.5" cy="217.7" rx="1.6" ry="1.9" fill="#a548ac" transform="rotate(154 217.5 217.7)"/><ellipse cx="203.8" cy="198.2" rx="1.1" ry="1.4" fill="#a548ac" transform="rotate(98 203.8 198.2)"/><ellipse cx="248.0" cy="235.5" rx="1.6" ry="1.4" fill="#c873cf" transform="rotate(143 248.0 235.5)"/><ellipse cx="239.1" cy="246.3" rx="1.0" ry="0.9" fill="#8d3a94" transform="rotate(48 239.1 246.3)"/><ellipse cx="238.7" cy="230.3" rx="1.1" ry="1.5" fill="#a548ac" transform="rotate(56 238.7 230.3)"/><ellipse cx="243.1" cy="228.1" rx="1.8" ry="2.3" fill="#c873cf" transform="rotate(125 243.1 228.1)"/><ellipse cx="272.6" cy="252.5" rx="1.3" ry="1.8" fill="#8d3a94" transform="rotate(49 272.6 252.5)"/><ellipse cx="259.0" cy="258.7" rx="1.6" ry="1.9" fill="#c873cf" transform="rotate(73 259.0 258.7)"/><ellipse cx="233.2" cy="198.5" rx="1.4" ry="1.0" fill="#8d3a94" transform="rotate(169 233.2 198.5)"/><ellipse cx="235.4" cy="225.0" rx="1.3" ry="1.0" fill="#8d3a94" transform="rotate(120 235.4 225.0)"/><ellipse cx="221.8" cy="227.4" rx="1.1" ry="0.7" fill="#8d3a94" transform="rotate(152 221.8 227.4)"/><ellipse cx="245.0" cy="243.0" rx="1.7" ry="1.7" fill="#c873cf" transform="rotate(129 245.0 243.0)"/><ellipse cx="187.6" cy="201.3" rx="1.7" ry="1.6" fill="#8d3a94" transform="rotate(170 187.6 201.3)"/><ellipse cx="206.5" cy="198.8" rx="1.6" ry="1.1" fill="#a548ac" transform="rotate(110 206.5 198.8)"/><ellipse cx="247.6" cy="250.8" rx="1.3" ry="1.4" fill="#a548ac" transform="rotate(85 247.6 250.8)"/><ellipse cx="236.6" cy="224.8" rx="1.4" ry="1.4" fill="#a548ac" transform="rotate(15 236.6 224.8)"/><ellipse cx="271.0" cy="250.6" rx="1.6" ry="2.2" fill="#a548ac" transform="rotate(175 271.0 250.6)"/><ellipse cx="234.2" cy="224.1" rx="1.3" ry="1.2" fill="#8d3a94" transform="rotate(49 234.2 224.1)"/><ellipse cx="249.1" cy="256.1" rx="1.7" ry="2.2" fill="#a548ac" transform="rotate(141 249.1 256.1)"/><ellipse cx="250.1" cy="242.5" rx="1.3" ry="1.1" fill="#8d3a94" transform="rotate(172 250.1 242.5)"/><ellipse cx="270.9" cy="257.1" rx="1.5" ry="1.2" fill="#b85cc0" transform="rotate(33 270.9 257.1)"/><ellipse cx="244.6" cy="241.2" rx="1.3" ry="1.5" fill="#8d3a94" transform="rotate(44 244.6 241.2)"/><ellipse cx="230.2" cy="227.5" rx="0.9" ry="1.2" fill="#a548ac" transform="rotate(169 230.2 227.5)"/><ellipse cx="219.7" cy="222.6" rx="0.9" ry="0.7" fill="#b85cc0" transform="rotate(31 219.7 222.6)"/><ellipse cx="218.8" cy="186.3" rx="0.9" ry="0.9" fill="#a548ac" transform="rotate(168 218.8 186.3)"/><ellipse cx="251.3" cy="220.5" rx="1.0" ry="0.8" fill="#a548ac" transform="rotate(44 251.3 220.5)"/><ellipse cx="249.3" cy="271.1" rx="1.7" ry="2.1" fill="#a548ac" transform="rotate(34 249.3 271.1)"/><ellipse cx="210.5" cy="201.8" rx="1.3" ry="1.1" fill="#8d3a94" transform="rotate(63 210.5 201.8)"/><ellipse cx="252.2" cy="232.1" rx="1.3" ry="1.1" fill="#c873cf" transform="rotate(70 252.2 232.1)"/><ellipse cx="238.7" cy="221.8" rx="0.8" ry="0.6" fill="#a548ac" transform="rotate(78 238.7 221.8)"/><ellipse cx="222.1" cy="214.3" rx="1.6" ry="2.2" fill="#c873cf" transform="rotate(42 222.1 214.3)"/><ellipse cx="223.6" cy="222.1" rx="1.1" ry="1.4" fill="#8d3a94" transform="rotate(177 223.6 222.1)"/><ellipse cx="231.2" cy="226.3" rx="1.5" ry="1.8" fill="#c873cf" transform="rotate(107 231.2 226.3)"/><ellipse cx="256.3" cy="245.8" rx="1.0" ry="0.7" fill="#c873cf" transform="rotate(77 256.3 245.8)"/><ellipse cx="222.3" cy="217.8" rx="0.8" ry="0.8" fill="#a548ac" transform="rotate(44 222.3 217.8)"/><ellipse cx="197.1" cy="198.7" rx="1.0" ry="1.0" fill="#c873cf" transform="rotate(83 197.1 198.7)"/><ellipse cx="228.6" cy="226.0" rx="1.0" ry="0.9" fill="#8d3a94" transform="rotate(152 228.6 226.0)"/><ellipse cx="228.6" cy="211.8" rx="1.4" ry="1.9" fill="#8d3a94" transform="rotate(126 228.6 211.8)"/><ellipse cx="237.7" cy="227.8" rx="1.6" ry="1.3" fill="#c873cf" transform="rotate(30 237.7 227.8)"/><ellipse cx="225.3" cy="212.7" rx="1.6" ry="1.2" fill="#c873cf" transform="rotate(87 225.3 212.7)"/><ellipse cx="237.0" cy="222.4" rx="1.1" ry="0.7" fill="#b85cc0" transform="rotate(64 237.0 222.4)"/><ellipse cx="257.6" cy="232.5" rx="1.4" ry="1.9" fill="#a548ac" transform="rotate(173 257.6 232.5)"/><ellipse cx="246.5" cy="228.1" rx="1.7" ry="2.3" fill="#b85cc0" transform="rotate(37 246.5 228.1)"/><ellipse cx="249.9" cy="252.3" rx="1.6" ry="1.9" fill="#a548ac" transform="rotate(83 249.9 252.3)"/><ellipse cx="254.9" cy="259.0" rx="1.3" ry="1.2" fill="#b85cc0" transform="rotate(96 254.9 259.0)"/><ellipse cx="239.4" cy="255.0" rx="1.3" ry="1.0" fill="#b85cc0" transform="rotate(38 239.4 255.0)"/><ellipse cx="240.0" cy="227.3" rx="1.6" ry="1.1" fill="#c873cf" transform="rotate(139 240.0 227.3)"/><ellipse cx="223.7" cy="269.9" rx="1.3" ry="0.9" fill="#a548ac" transform="rotate(60 223.7 269.9)"/><ellipse cx="223.6" cy="207.3" rx="0.9" ry="0.6" fill="#8d3a94" transform="rotate(50 223.6 207.3)"/><ellipse cx="212.5" cy="204.9" rx="1.1" ry="1.0" fill="#c873cf" transform="rotate(179 212.5 204.9)"/><ellipse cx="241.8" cy="249.1" rx="1.1" ry="0.9" fill="#c873cf" transform="rotate(4 241.8 249.1)"/><ellipse cx="260.3" cy="247.7" rx="0.8" ry="1.0" fill="#8d3a94" transform="rotate(107 260.3 247.7)"/><ellipse cx="247.9" cy="216.2" rx="1.7" ry="2.1" fill="#b85cc0" transform="rotate(33 247.9 216.2)"/><ellipse cx="206.8" cy="199.5" rx="1.3" ry="1.3" fill="#b85cc0" transform="rotate(12 206.8 199.5)"/><ellipse cx="239.5" cy="242.8" rx="1.2" ry="0.9" fill="#b85cc0" transform="rotate(47 239.5 242.8)"/><ellipse cx="234.4" cy="213.9" rx="1.3" ry="0.9" fill="#a548ac" transform="rotate(151 234.4 213.9)"/><ellipse cx="230.9" cy="199.1" rx="1.6" ry="1.4" fill="#c873cf" transform="rotate(140 230.9 199.1)"/><ellipse cx="258.2" cy="206.6" rx="0.9" ry="0.8" fill="#c873cf" transform="rotate(40 258.2 206.6)"/><ellipse cx="253.4" cy="222.6" rx="1.6" ry="2.1" fill="#8d3a94" transform="rotate(105 253.4 222.6)"/><ellipse cx="229.8" cy="220.7" rx="1.3" ry="1.1" fill="#8d3a94" transform="rotate(93 229.8 220.7)"/><ellipse cx="224.1" cy="251.3" rx="1.5" ry="1.3" fill="#b85cc0" transform="rotate(179 224.1 251.3)"/><ellipse cx="233.7" cy="212.6" rx="1.6" ry="2.1" fill="#a548ac" transform="rotate(151 233.7 212.6)"/><ellipse cx="246.4" cy="224.0" rx="1.6" ry="1.3" fill="#8d3a94" transform="rotate(178 246.4 224.0)"/><ellipse cx="213.6" cy="176.1" rx="1.1" ry="1.1" fill="#a548ac" transform="rotate(148 213.6 176.1)"/><ellipse cx="202.0" cy="232.8" rx="1.6" ry="1.6" fill="#a548ac" transform="rotate(128 202.0 232.8)"/><ellipse cx="230.1" cy="204.6" rx="1.4" ry="1.8" fill="#a548ac" transform="rotate(15 230.1 204.6)"/><ellipse cx="283.4" cy="266.7" rx="0.9" ry="1.0" fill="#a548ac" transform="rotate(12 283.4 266.7)"/><ellipse cx="232.9" cy="233.1" rx="1.7" ry="1.9" fill="#b85cc0" transform="rotate(169 232.9 233.1)"/><ellipse cx="222.4" cy="243.5" rx="1.2" ry="1.0" fill="#c873cf" transform="rotate(162 222.4 243.5)"/><ellipse cx="245.1" cy="235.3" rx="1.2" ry="1.1" fill="#b85cc0" transform="rotate(34 245.1 235.3)"/><ellipse cx="209.6" cy="212.2" rx="1.7" ry="2.3" fill="#a548ac" transform="rotate(169 209.6 212.2)"/><ellipse cx="220.1" cy="243.1" rx="1.2" ry="1.1" fill="#a548ac" transform="rotate(167 220.1 243.1)"/><ellipse cx="243.0" cy="199.8" rx="1.6" ry="0.9" fill="#8d3a94" transform="rotate(14 243.0 199.8)"/><ellipse cx="257.2" cy="272.6" rx="1.6" ry="1.4" fill="#b85cc0" transform="rotate(118 257.2 272.6)"/><ellipse cx="255.4" cy="241.3" rx="1.6" ry="2.1" fill="#b85cc0" transform="rotate(154 255.4 241.3)"/><ellipse cx="203.3" cy="157.6" rx="1.5" ry="1.4" fill="#c873cf" transform="rotate(54 203.3 157.6)"/><ellipse cx="202.2" cy="198.4" rx="1.0" ry="1.0" fill="#a548ac" transform="rotate(69 202.2 198.4)"/><ellipse cx="238.1" cy="246.1" rx="1.7" ry="1.8" fill="#c873cf" transform="rotate(160 238.1 246.1)"/><ellipse cx="187.5" cy="199.5" rx="0.9" ry="1.1" fill="#8d3a94" transform="rotate(145 187.5 199.5)"/><ellipse cx="225.1" cy="196.4" rx="1.5" ry="2.0" fill="#b85cc0" transform="rotate(164 225.1 196.4)"/><ellipse cx="236.3" cy="215.1" rx="1.1" ry="1.2" fill="#8d3a94" transform="rotate(74 236.3 215.1)"/><ellipse cx="226.3" cy="230.3" rx="1.3" ry="1.2" fill="#b85cc0" transform="rotate(97 226.3 230.3)"/><ellipse cx="221.2" cy="242.4" rx="0.8" ry="0.7" fill="#c873cf" transform="rotate(74 221.2 242.4)"/><ellipse cx="213.5" cy="208.2" rx="1.5" ry="1.7" fill="#8d3a94" transform="rotate(132 213.5 208.2)"/><ellipse cx="248.5" cy="270.6" rx="1.0" ry="0.9" fill="#b85cc0" transform="rotate(114 248.5 270.6)"/><ellipse cx="260.5" cy="230.2" rx="1.4" ry="1.4" fill="#b85cc0" transform="rotate(55 260.5 230.2)"/><ellipse cx="242.8" cy="229.8" rx="1.2" ry="0.9" fill="#8d3a94" transform="rotate(83 242.8 229.8)"/><ellipse cx="256.2" cy="219.6" rx="0.8" ry="0.7" fill="#a548ac" transform="rotate(166 256.2 219.6)"/><ellipse cx="248.0" cy="209.5" rx="1.7" ry="1.9" fill="#b85cc0" transform="rotate(69 248.0 209.5)"/><ellipse cx="235.5" cy="214.9" rx="1.4" ry="1.8" fill="#c873cf" transform="rotate(163 235.5 214.9)"/><ellipse cx="217.3" cy="214.7" rx="1.1" ry="0.8" fill="#c873cf" transform="rotate(30 217.3 214.7)"/><ellipse cx="199.4" cy="178.0" rx="1.7" ry="1.1" fill="#c873cf" transform="rotate(79 199.4 178.0)"/><ellipse cx="221.6" cy="240.6" rx="1.7" ry="1.1" fill="#c873cf" transform="rotate(162 221.6 240.6)"/><ellipse cx="247.0" cy="247.0" rx="1.1" ry="0.9" fill="#c873cf" transform="rotate(32 247.0 247.0)"/><ellipse cx="230.0" cy="200.0" rx="1.4" ry="1.2" fill="#a548ac" transform="rotate(18 230.0 200.0)"/><ellipse cx="265.4" cy="218.9" rx="1.4" ry="1.8" fill="#8d3a94" transform="rotate(33 265.4 218.9)"/><ellipse cx="224.8" cy="233.2" rx="1.1" ry="1.0" fill="#c873cf" transform="rotate(117 224.8 233.2)"/><ellipse cx="208.3" cy="228.8" rx="1.6" ry="1.7" fill="#c873cf" transform="rotate(116 208.3 228.8)"/><ellipse cx="207.3" cy="191.3" rx="1.2" ry="1.4" fill="#a548ac" transform="rotate(169 207.3 191.3)"/><ellipse cx="251.4" cy="271.0" rx="0.8" ry="0.5" fill="#a548ac" transform="rotate(121 251.4 271.0)"/><ellipse cx="237.6" cy="236.7" rx="1.0" ry="0.7" fill="#a548ac" transform="rotate(94 237.6 236.7)"/><ellipse cx="211.1" cy="235.3" rx="1.6" ry="1.8" fill="#a548ac" transform="rotate(75 211.1 235.3)"/><ellipse cx="221.3" cy="247.8" rx="1.8" ry="1.5" fill="#a548ac" transform="rotate(55 221.3 247.8)"/><ellipse cx="181.9" cy="167.8" rx="1.1" ry="1.3" fill="#b85cc0" transform="rotate(148 181.9 167.8)"/><ellipse cx="248.9" cy="262.4" rx="1.2" ry="1.0" fill="#c873cf" transform="rotate(132 248.9 262.4)"/><ellipse cx="230.6" cy="215.6" rx="1.2" ry="0.9" fill="#8d3a94" transform="rotate(124 230.6 215.6)"/><ellipse cx="251.3" cy="234.0" rx="1.4" ry="1.1" fill="#a548ac" transform="rotate(55 251.3 234.0)"/><ellipse cx="214.0" cy="218.7" rx="1.7" ry="1.1" fill="#a548ac" transform="rotate(154 214.0 218.7)"/><ellipse cx="226.7" cy="228.3" rx="1.8" ry="1.8" fill="#8d3a94" transform="rotate(100 226.7 228.3)"/><ellipse cx="235.9" cy="232.5" rx="1.6" ry="1.7" fill="#b85cc0" transform="rotate(173 235.9 232.5)"/><ellipse cx="255.8" cy="251.1" rx="0.9" ry="1.1" fill="#8d3a94" transform="rotate(61 255.8 251.1)"/><ellipse cx="237.4" cy="221.8" rx="1.3" ry="1.8" fill="#b85cc0" transform="rotate(132 237.4 221.8)"/><ellipse cx="262.5" cy="253.0" rx="1.2" ry="0.8" fill="#b85cc0" transform="rotate(179 262.5 253.0)"/><ellipse cx="238.0" cy="204.8" rx="1.2" ry="1.4" fill="#c873cf" transform="rotate(68 238.0 204.8)"/><ellipse cx="232.9" cy="202.6" rx="1.2" ry="0.9" fill="#c873cf" transform="rotate(40 232.9 202.6)"/><ellipse cx="230.6" cy="217.5" rx="1.0" ry="0.9" fill="#c873cf" transform="rotate(67 230.6 217.5)"/><ellipse cx="241.1" cy="220.7" rx="1.0" ry="0.7" fill="#a548ac" transform="rotate(168 241.1 220.7)"/><ellipse cx="212.6" cy="202.6" rx="1.7" ry="1.6" fill="#b85cc0" transform="rotate(156 212.6 202.6)"/><ellipse cx="246.4" cy="195.0" rx="1.6" ry="2.1" fill="#a548ac" transform="rotate(157 246.4 195.0)"/><ellipse cx="241.3" cy="255.3" rx="1.6" ry="1.4" fill="#8d3a94" transform="rotate(104 241.3 255.3)"/><ellipse cx="225.9" cy="245.7" rx="0.9" ry="1.3" fill="#8d3a94" transform="rotate(7 225.9 245.7)"/><ellipse cx="284.1" cy="277.2" rx="1.0" ry="1.2" fill="#c873cf" transform="rotate(60 284.1 277.2)"/><ellipse cx="197.6" cy="210.0" rx="0.8" ry="1.1" fill="#8d3a94" transform="rotate(71 197.6 210.0)"/><ellipse cx="217.5" cy="225.7" rx="1.4" ry="1.5" fill="#b85cc0" transform="rotate(96 217.5 225.7)"/><ellipse cx="231.0" cy="234.5" rx="1.2" ry="1.2" fill="#8d3a94" transform="rotate(27 231.0 234.5)"/><ellipse cx="228.6" cy="227.2" rx="0.9" ry="0.7" fill="#b85cc0" transform="rotate(77 228.6 227.2)"/><ellipse cx="238.1" cy="225.5" rx="1.1" ry="1.0" fill="#a548ac" transform="rotate(81 238.1 225.5)"/><ellipse cx="282.9" cy="292.1" rx="1.0" ry="1.2" fill="#8d3a94" transform="rotate(5 282.9 292.1)"/><ellipse cx="229.3" cy="250.7" rx="1.1" ry="1.0" fill="#a548ac" transform="rotate(85 229.3 250.7)"/><ellipse cx="244.6" cy="226.9" rx="0.9" ry="0.7" fill="#a548ac" transform="rotate(137 244.6 226.9)"/></g>
<g opacity="0.76" filter="url(#b0)"><ellipse cx="249.8" cy="259.7" rx="1.0" ry="0.7" fill="#b45bbb" transform="rotate(18 249.8 259.7)"/><ellipse cx="256.6" cy="256.1" rx="0.8" ry="0.6" fill="#b45bbb" transform="rotate(42 256.6 256.1)"/><ellipse cx="246.1" cy="247.1" rx="1.0" ry="1.0" fill="#b45bbb" transform="rotate(146 246.1 247.1)"/><ellipse cx="264.1" cy="283.0" rx="1.1" ry="0.8" fill="#b45bbb" transform="rotate(172 264.1 283.0)"/><ellipse cx="246.0" cy="260.9" rx="1.1" ry="1.0" fill="#9a44a2" transform="rotate(48 246.0 260.9)"/><ellipse cx="256.9" cy="275.4" rx="1.6" ry="1.4" fill="#9a44a2" transform="rotate(99 256.9 275.4)"/><ellipse cx="262.3" cy="264.7" rx="1.3" ry="1.5" fill="#b45bbb" transform="rotate(8 262.3 264.7)"/><ellipse cx="246.2" cy="266.6" rx="1.5" ry="1.9" fill="#9a44a2" transform="rotate(68 246.2 266.6)"/><ellipse cx="232.3" cy="243.4" rx="1.1" ry="0.8" fill="#9a44a2" transform="rotate(48 232.3 243.4)"/><ellipse cx="263.9" cy="275.0" rx="1.2" ry="1.0" fill="#9a44a2" transform="rotate(83 263.9 275.0)"/><ellipse cx="234.8" cy="267.8" rx="1.3" ry="1.7" fill="#9a44a2" transform="rotate(140 234.8 267.8)"/><ellipse cx="248.8" cy="263.4" rx="1.1" ry="0.7" fill="#b45bbb" transform="rotate(164 248.8 263.4)"/><ellipse cx="242.1" cy="242.7" rx="1.3" ry="1.2" fill="#9a44a2" transform="rotate(165 242.1 242.7)"/><ellipse cx="242.8" cy="254.1" rx="1.4" ry="1.4" fill="#9a44a2" transform="rotate(134 242.8 254.1)"/><ellipse cx="237.1" cy="250.6" rx="1.0" ry="1.4" fill="#b45bbb" transform="rotate(92 237.1 250.6)"/><ellipse cx="251.1" cy="265.7" rx="0.9" ry="0.7" fill="#9a44a2" transform="rotate(122 251.1 265.7)"/><ellipse cx="246.7" cy="250.5" rx="1.2" ry="1.7" fill="#b45bbb" transform="rotate(155 246.7 250.5)"/><ellipse cx="262.1" cy="280.7" rx="1.4" ry="1.2" fill="#b45bbb" transform="rotate(53 262.1 280.7)"/><ellipse cx="250.0" cy="262.8" rx="1.6" ry="1.9" fill="#b45bbb" transform="rotate(91 250.0 262.8)"/><ellipse cx="253.8" cy="278.1" rx="0.9" ry="1.1" fill="#9a44a2" transform="rotate(97 253.8 278.1)"/><ellipse cx="258.7" cy="259.7" rx="1.3" ry="1.3" fill="#9a44a2" transform="rotate(20 258.7 259.7)"/><ellipse cx="222.2" cy="249.1" rx="1.0" ry="0.8" fill="#b45bbb" transform="rotate(102 222.2 249.1)"/><ellipse cx="257.0" cy="281.5" rx="1.6" ry="1.6" fill="#9a44a2" transform="rotate(23 257.0 281.5)"/><ellipse cx="251.3" cy="238.9" rx="1.0" ry="1.3" fill="#9a44a2" transform="rotate(76 251.3 238.9)"/><ellipse cx="245.4" cy="270.2" rx="1.4" ry="1.3" fill="#9a44a2" transform="rotate(121 245.4 270.2)"/><ellipse cx="229.2" cy="250.9" rx="0.9" ry="0.7" fill="#b45bbb" transform="rotate(61 229.2 250.9)"/><ellipse cx="247.2" cy="253.4" rx="0.8" ry="0.9" fill="#9a44a2" transform="rotate(11 247.2 253.4)"/><ellipse cx="251.3" cy="265.1" rx="0.9" ry="0.7" fill="#b45bbb" transform="rotate(120 251.3 265.1)"/><ellipse cx="248.0" cy="265.4" rx="1.0" ry="1.0" fill="#b45bbb" transform="rotate(73 248.0 265.4)"/><ellipse cx="255.1" cy="279.2" rx="1.1" ry="1.1" fill="#b45bbb" transform="rotate(131 255.1 279.2)"/><ellipse cx="253.9" cy="236.5" rx="0.8" ry="1.0" fill="#9a44a2" transform="rotate(144 253.9 236.5)"/><ellipse cx="251.7" cy="269.4" rx="0.9" ry="0.7" fill="#b45bbb" transform="rotate(83 251.7 269.4)"/><ellipse cx="253.9" cy="264.1" rx="0.8" ry="1.2" fill="#9a44a2" transform="rotate(150 253.9 264.1)"/><ellipse cx="270.5" cy="285.9" rx="0.9" ry="0.9" fill="#9a44a2" transform="rotate(38 270.5 285.9)"/><ellipse cx="246.6" cy="259.6" rx="0.8" ry="0.7" fill="#b45bbb" transform="rotate(167 246.6 259.6)"/><ellipse cx="256.0" cy="260.8" rx="0.9" ry="0.8" fill="#b45bbb" transform="rotate(174 256.0 260.8)"/><ellipse cx="244.6" cy="247.0" rx="0.8" ry="0.9" fill="#b45bbb" transform="rotate(91 244.6 247.0)"/><ellipse cx="255.5" cy="264.2" rx="1.5" ry="1.0" fill="#9a44a2" transform="rotate(12 255.5 264.2)"/><ellipse cx="259.7" cy="266.4" rx="1.3" ry="0.8" fill="#9a44a2" transform="rotate(15 259.7 266.4)"/><ellipse cx="250.5" cy="249.5" rx="1.5" ry="1.2" fill="#b45bbb" transform="rotate(129 250.5 249.5)"/><ellipse cx="244.8" cy="266.8" rx="1.2" ry="1.6" fill="#b45bbb" transform="rotate(168 244.8 266.8)"/><ellipse cx="260.7" cy="278.3" rx="0.9" ry="0.7" fill="#9a44a2" transform="rotate(48 260.7 278.3)"/><ellipse cx="269.9" cy="280.2" rx="1.1" ry="0.8" fill="#9a44a2" transform="rotate(150 269.9 280.2)"/><ellipse cx="254.4" cy="252.2" rx="1.3" ry="1.4" fill="#9a44a2" transform="rotate(168 254.4 252.2)"/><ellipse cx="256.0" cy="285.7" rx="0.9" ry="0.6" fill="#b45bbb" transform="rotate(100 256.0 285.7)"/><ellipse cx="240.7" cy="265.2" rx="1.0" ry="1.1" fill="#b45bbb" transform="rotate(48 240.7 265.2)"/><ellipse cx="231.7" cy="237.8" rx="0.9" ry="0.8" fill="#9a44a2" transform="rotate(50 231.7 237.8)"/><ellipse cx="263.6" cy="281.8" rx="0.9" ry="0.9" fill="#b45bbb" transform="rotate(127 263.6 281.8)"/><ellipse cx="247.4" cy="256.1" rx="1.2" ry="1.6" fill="#9a44a2" transform="rotate(105 247.4 256.1)"/><ellipse cx="250.1" cy="267.3" rx="1.1" ry="1.5" fill="#b45bbb" transform="rotate(175 250.1 267.3)"/><ellipse cx="256.0" cy="273.4" rx="1.3" ry="1.2" fill="#9a44a2" transform="rotate(101 256.0 273.4)"/><ellipse cx="276.3" cy="276.2" rx="1.5" ry="1.2" fill="#9a44a2" transform="rotate(29 276.3 276.2)"/><ellipse cx="255.0" cy="261.8" rx="0.8" ry="1.0" fill="#b45bbb" transform="rotate(60 255.0 261.8)"/><ellipse cx="267.5" cy="277.7" rx="1.0" ry="1.2" fill="#9a44a2" transform="rotate(19 267.5 277.7)"/><ellipse cx="269.2" cy="272.0" rx="1.0" ry="1.3" fill="#9a44a2" transform="rotate(63 269.2 272.0)"/><ellipse cx="267.5" cy="264.6" rx="0.8" ry="0.6" fill="#9a44a2" transform="rotate(59 267.5 264.6)"/><ellipse cx="275.1" cy="273.8" rx="1.1" ry="1.1" fill="#b45bbb" transform="rotate(122 275.1 273.8)"/><ellipse cx="258.3" cy="264.7" rx="0.9" ry="1.2" fill="#9a44a2" transform="rotate(32 258.3 264.7)"/><ellipse cx="257.2" cy="270.0" rx="1.3" ry="1.1" fill="#9a44a2" transform="rotate(142 257.2 270.0)"/><ellipse cx="222.3" cy="236.1" rx="1.1" ry="1.2" fill="#9a44a2" transform="rotate(46 222.3 236.1)"/></g>
<g fill="#9a3ea2" opacity="0.85" filter="url(#b0)">
<circle cx="16" cy="38" r="2.2"/>
<circle cx="20" cy="55" r="2.2"/>
<circle cx="18" cy="78" r="2.2"/>
<circle cx="22" cy="90" r="2.2"/>
<circle cx="17" cy="130" r="2.2"/>
<circle cx="20" cy="137" r="2.2"/>
<circle cx="18" cy="143" r="2.2"/>
<circle cx="22" cy="175" r="2.2"/>
<circle cx="20" cy="181" r="2.2"/>
<circle cx="17" cy="192" r="2.2"/>
</g>
<path d="M83,50 L104,66" stroke="#a848b0" stroke-width="1.8" filter="url(#b0)"/>
<g filter="url(#b0)"><circle cx="125.6" cy="13.8" r="1.8" fill="#48ba50"/><circle cx="104.3" cy="22.5" r="2.0" fill="#4dca56"/><circle cx="51.8" cy="24.8" r="2.0" fill="#4bc554"/><circle cx="59.9" cy="24.2" r="1.7" fill="#35863b"/><circle cx="50.1" cy="32.8" r="1.8" fill="#52d75b"/><circle cx="15.6" cy="34.6" r="1.5" fill="#50d35a"/><circle cx="17.3" cy="40.3" r="1.5" fill="#43ad4a"/><circle cx="16.1" cy="46.1" r="1.7" fill="#45b34d"/><circle cx="31.1" cy="49.5" r="1.5" fill="#34853a"/><circle cx="95.0" cy="38.0" r="1.9" fill="#3d9c44"/><circle cx="29.4" cy="59.3" r="1.5" fill="#4cc755"/><circle cx="62.2" cy="60.5" r="1.5" fill="#4dca56"/><circle cx="95.0" cy="62.8" r="1.5" fill="#47ba50"/><circle cx="157.3" cy="57.6" r="1.9" fill="#34843a"/><circle cx="104.3" cy="70.3" r="1.5" fill="#3b9641"/><circle cx="59.9" cy="76.6" r="1.9" fill="#53da5d"/><circle cx="66.2" cy="74.9" r="2.0" fill="#3d9d44"/><circle cx="85.3" cy="74.3" r="1.8" fill="#45b34d"/><circle cx="73.2" cy="83.5" r="2.0" fill="#3a9641"/><circle cx="74.9" cy="87.6" r="2.0" fill="#4ac052"/><circle cx="6.9" cy="73.7" r="1.6" fill="#50d25a"/><circle cx="9.2" cy="78.3" r="1.5" fill="#3fa347"/><circle cx="20.7" cy="76.6" r="1.4" fill="#39913f"/><circle cx="17.3" cy="82.4" r="1.8" fill="#3d9e44"/><circle cx="11.5" cy="90.4" r="1.8" fill="#34843a"/><circle cx="23.0" cy="92.2" r="1.6" fill="#3fa146"/><circle cx="126.7" cy="81.8" r="1.7" fill="#4ecc57"/><circle cx="151.5" cy="92.2" r="1.7" fill="#3e9f45"/><circle cx="153.2" cy="96.8" r="1.4" fill="#4ac253"/><circle cx="157.3" cy="100.2" r="1.4" fill="#53d95d"/><circle cx="78.3" cy="94.5" r="1.9" fill="#4cc654"/><circle cx="55.3" cy="94.5" r="1.9" fill="#35853a"/><circle cx="59.3" cy="98.5" r="1.7" fill="#40a447"/><circle cx="70.3" cy="97.9" r="1.4" fill="#34853a"/><circle cx="104.8" cy="95.6" r="2.0" fill="#3a9440"/><circle cx="126.2" cy="94.5" r="1.9" fill="#3a9541"/><circle cx="116.4" cy="102.0" r="2.0" fill="#51d55b"/><circle cx="122.7" cy="104.8" r="1.6" fill="#3fa246"/><circle cx="130.8" cy="101.4" r="1.9" fill="#45b24c"/><circle cx="104.3" cy="104.3" r="1.8" fill="#378d3d"/><circle cx="55.9" cy="104.8" r="1.9" fill="#4dca56"/><circle cx="25.9" cy="111.2" r="2.0" fill="#35873b"/><circle cx="9.2" cy="112.3" r="1.6" fill="#378c3d"/><circle cx="84.1" cy="108.9" r="2.0" fill="#47b94f"/><circle cx="87.6" cy="106.6" r="2.0" fill="#3fa246"/><circle cx="55.3" cy="112.3" r="1.6" fill="#45b44d"/><circle cx="54.1" cy="115.8" r="1.5" fill="#3ea045"/><circle cx="74.9" cy="113.5" r="1.5" fill="#368b3c"/><circle cx="63.4" cy="112.9" r="2.0" fill="#4ac052"/><circle cx="107.7" cy="113.5" r="1.4" fill="#39923f"/><circle cx="125.0" cy="115.2" r="1.7" fill="#53da5d"/><circle cx="70.3" cy="118.1" r="1.5" fill="#41a748"/><circle cx="85.3" cy="117.5" r="1.9" fill="#47b84f"/><circle cx="91.6" cy="116.9" r="1.7" fill="#42ac4a"/><circle cx="79.5" cy="121.5" r="1.9" fill="#36893c"/><circle cx="70.3" cy="125.6" r="1.7" fill="#35873b"/><circle cx="88.7" cy="126.2" r="1.5" fill="#4ecd58"/><circle cx="123.3" cy="122.1" r="2.0" fill="#4bc454"/><circle cx="145.2" cy="123.3" r="1.9" fill="#48bb50"/><circle cx="152.1" cy="125.0" r="1.7" fill="#378d3d"/><circle cx="16.1" cy="126.7" r="1.9" fill="#39913f"/><circle cx="16.1" cy="134.8" r="1.7" fill="#3d9e44"/><circle cx="17.3" cy="140.6" r="1.9" fill="#53db5d"/><circle cx="34.0" cy="146.3" r="1.7" fill="#53d95d"/><circle cx="91.6" cy="144.6" r="1.8" fill="#43af4b"/><circle cx="107.7" cy="145.2" r="1.6" fill="#43ae4b"/><circle cx="134.2" cy="141.7" r="1.5" fill="#41a748"/><circle cx="148.6" cy="141.1" r="2.0" fill="#40a547"/><circle cx="125.6" cy="148.6" r="1.8" fill="#52d85c"/><circle cx="130.8" cy="153.2" r="1.6" fill="#44b04b"/><circle cx="135.9" cy="149.8" r="1.6" fill="#378c3d"/><circle cx="96.8" cy="153.2" r="1.9" fill="#4dc856"/><circle cx="149.8" cy="156.1" r="1.9" fill="#3fa347"/><circle cx="123.8" cy="157.3" r="1.8" fill="#4cc855"/><circle cx="155.5" cy="157.3" r="1.9" fill="#49be51"/><circle cx="87.6" cy="141.7" r="1.8" fill="#3fa447"/><circle cx="160.0" cy="89.3" r="1.7" fill="#3d9c44"/><circle cx="175.1" cy="164.0" r="1.8" fill="#4cc755"/><circle cx="167.6" cy="177.3" r="2.0" fill="#3d9e44"/><circle cx="184.3" cy="173.8" r="1.7" fill="#48bd51"/><circle cx="182.0" cy="180.7" r="1.7" fill="#34853a"/><circle cx="190.1" cy="180.7" r="1.8" fill="#3c9a43"/><circle cx="191.8" cy="184.2" r="1.9" fill="#43ac4a"/><circle cx="197.0" cy="182.5" r="1.9" fill="#48bd51"/><circle cx="218.9" cy="182.5" r="1.8" fill="#3fa246"/><circle cx="175.7" cy="187.6" r="1.9" fill="#4bc454"/><circle cx="202.8" cy="187.6" r="2.2" fill="#51d55b"/><circle cx="174.0" cy="195.1" r="2.0" fill="#53d95d"/><circle cx="202.8" cy="195.1" r="2.3" fill="#45b34d"/><circle cx="221.2" cy="193.4" r="2.3" fill="#4ecc57"/><circle cx="214.3" cy="195.7" r="2.2" fill="#50d159"/><circle cx="227.0" cy="195.7" r="2.3" fill="#4dc956"/><circle cx="189.0" cy="199.7" r="1.8" fill="#48bc50"/><circle cx="207.4" cy="200.3" r="2.2" fill="#4ac052"/><circle cx="211.4" cy="202.0" r="1.9" fill="#4dca56"/><circle cx="217.8" cy="202.6" r="2.0" fill="#43ad4b"/><circle cx="228.1" cy="202.0" r="1.9" fill="#45b44d"/><circle cx="165.3" cy="203.8" r="1.6" fill="#43ad4a"/><circle cx="193.6" cy="204.4" r="1.8" fill="#47b950"/><circle cx="176.3" cy="207.2" r="1.9" fill="#3b9942"/><circle cx="205.1" cy="207.2" r="2.1" fill="#47b84f"/><circle cx="221.2" cy="206.7" r="1.9" fill="#49bd51"/><circle cx="228.1" cy="206.7" r="2.1" fill="#4cc554"/><circle cx="185.5" cy="214.7" r="2.0" fill="#46b74e"/><circle cx="203.9" cy="213.6" r="2.2" fill="#50d25a"/><circle cx="211.4" cy="213.6" r="2.2" fill="#4cc855"/><circle cx="225.2" cy="217.0" r="2.1" fill="#4dc856"/><circle cx="206.2" cy="218.8" r="2.2" fill="#44b04c"/><circle cx="216.0" cy="218.2" r="2.3" fill="#4dc956"/><circle cx="241.9" cy="220.5" r="2.0" fill="#46b64e"/><circle cx="211.4" cy="222.8" r="2.4" fill="#53da5d"/><circle cx="218.9" cy="224.5" r="2.1" fill="#53db5d"/><circle cx="225.8" cy="223.4" r="2.1" fill="#53db5d"/><circle cx="241.9" cy="223.9" r="2.2" fill="#44b14c"/><circle cx="213.1" cy="228.0" r="2.3" fill="#50d159"/><circle cx="223.5" cy="226.8" r="2.4" fill="#47b84f"/><circle cx="231.6" cy="229.1" r="2.0" fill="#47b84f"/><circle cx="238.5" cy="229.1" r="2.1" fill="#4dc856"/><circle cx="241.4" cy="229.1" r="2.0" fill="#4fcf58"/><circle cx="208.5" cy="232.0" r="2.1" fill="#4bc554"/><circle cx="222.4" cy="234.9" r="2.1" fill="#4ac153"/><circle cx="228.1" cy="233.7" r="2.0" fill="#43ad4a"/><circle cx="235.6" cy="235.5" r="2.2" fill="#52d65b"/><circle cx="243.1" cy="235.5" r="2.2" fill="#49c052"/><circle cx="247.7" cy="237.2" r="2.4" fill="#4ac253"/><circle cx="252.9" cy="238.3" r="2.0" fill="#51d45b"/><circle cx="222.4" cy="240.0" r="2.3" fill="#43ae4b"/><circle cx="229.3" cy="240.0" r="2.3" fill="#47b94f"/><circle cx="238.5" cy="238.9" r="2.2" fill="#4ac253"/><circle cx="244.3" cy="243.0" r="2.2" fill="#45b24d"/><circle cx="203.9" cy="243.0" r="2.3" fill="#46b64e"/><circle cx="223.5" cy="242.4" r="2.3" fill="#42ac4a"/><circle cx="229.3" cy="243.0" r="1.9" fill="#4ecd58"/><circle cx="236.2" cy="243.5" r="2.4" fill="#4dca56"/><circle cx="240.8" cy="245.8" r="2.4" fill="#47b94f"/><circle cx="252.9" cy="243.5" r="2.0" fill="#49bf52"/><circle cx="260.4" cy="246.4" r="2.1" fill="#44b04c"/><circle cx="225.8" cy="248.7" r="2.3" fill="#4cc755"/><circle cx="232.7" cy="251.0" r="2.1" fill="#4ac052"/><circle cx="239.6" cy="248.7" r="2.1" fill="#52d95c"/><circle cx="245.4" cy="249.3" r="2.2" fill="#45b24d"/><circle cx="250.0" cy="249.3" r="2.2" fill="#4cc655"/><circle cx="227.0" cy="252.2" r="2.3" fill="#46b74f"/><circle cx="237.3" cy="253.3" r="2.1" fill="#46b64e"/><circle cx="244.3" cy="252.2" r="2.2" fill="#4ece58"/><circle cx="258.1" cy="251.0" r="2.0" fill="#44af4b"/><circle cx="205.1" cy="252.2" r="2.1" fill="#51d65b"/><circle cx="209.1" cy="256.2" r="2.3" fill="#43ac4a"/><circle cx="231.6" cy="254.5" r="2.2" fill="#53d95d"/><circle cx="240.8" cy="255.6" r="2.2" fill="#53da5d"/><circle cx="248.9" cy="255.6" r="2.1" fill="#4dc956"/><circle cx="273.0" cy="252.2" r="2.1" fill="#4dc956"/><circle cx="252.3" cy="257.9" r="2.2" fill="#51d35a"/><circle cx="256.9" cy="259.1" r="2.2" fill="#51d45b"/><circle cx="267.3" cy="252.7" r="2.1" fill="#4fcf58"/><circle cx="237.3" cy="260.8" r="1.9" fill="#46b54e"/><circle cx="244.3" cy="262.0" r="1.9" fill="#4fd059"/><circle cx="254.6" cy="261.4" r="2.1" fill="#4dc956"/><circle cx="261.5" cy="260.2" r="2.0" fill="#45b24d"/><circle cx="263.8" cy="262.5" r="2.0" fill="#51d65b"/><circle cx="212.0" cy="263.1" r="2.0" fill="#45b34d"/><circle cx="248.9" cy="267.7" r="2.4" fill="#43ac4a"/><circle cx="255.8" cy="267.7" r="2.2" fill="#4ecc57"/><circle cx="261.0" cy="268.3" r="2.2" fill="#44b04c"/><circle cx="274.2" cy="265.4" r="2.0" fill="#4fce58"/><circle cx="276.5" cy="264.3" r="1.4" fill="#3a9541"/><circle cx="248.3" cy="271.8" r="2.4" fill="#49be52"/><circle cx="251.2" cy="275.2" r="1.6" fill="#3fa447"/><circle cx="241.4" cy="281.0" r="1.6" fill="#43ad4a"/><circle cx="266.1" cy="280.4" r="1.8" fill="#4bc454"/><circle cx="269.6" cy="282.1" r="1.5" fill="#39923f"/><circle cx="273.6" cy="280.4" r="2.0" fill="#49bf52"/><circle cx="288.0" cy="287.3" r="1.7" fill="#48bc51"/><circle cx="174.6" cy="279.8" r="1.4" fill="#53d95d"/><circle cx="303.0" cy="301.1" r="1.9" fill="#36893c"/><circle cx="175.1" cy="248.7" r="1.4" fill="#41a848"/><circle cx="174.6" cy="317.3" r="2.0" fill="#45b44d"/><circle cx="218.9" cy="301.1" r="1.6" fill="#44b14c"/><circle cx="163.6" cy="270.0" r="1.4" fill="#378c3d"/><circle cx="14.4" cy="173.8" r="1.7" fill="#50d35a"/><circle cx="14.4" cy="188.2" r="1.4" fill="#51d65b"/><circle cx="8.1" cy="199.2" r="1.4" fill="#3c9942"/><circle cx="25.3" cy="198.6" r="1.4" fill="#41a748"/><circle cx="40.9" cy="206.7" r="1.6" fill="#3c9a43"/><circle cx="8.6" cy="212.4" r="1.4" fill="#3e9f45"/><circle cx="23.6" cy="210.7" r="2.0" fill="#35873b"/><circle cx="43.2" cy="217.0" r="1.7" fill="#3a9340"/><circle cx="50.7" cy="222.2" r="1.7" fill="#41a748"/><circle cx="64.5" cy="225.7" r="1.6" fill="#378b3d"/><circle cx="39.2" cy="223.9" r="1.7" fill="#378d3d"/><circle cx="41.5" cy="235.5" r="1.8" fill="#51d55b"/><circle cx="49.5" cy="235.5" r="1.5" fill="#4fcf58"/><circle cx="34.6" cy="238.9" r="1.7" fill="#35853a"/><circle cx="39.7" cy="245.8" r="1.7" fill="#43ae4b"/><circle cx="43.2" cy="252.7" r="1.8" fill="#40a547"/><circle cx="53.6" cy="251.0" r="1.9" fill="#4bc354"/><circle cx="22.5" cy="253.9" r="1.7" fill="#3e9f45"/><circle cx="84.7" cy="259.1" r="1.5" fill="#4ecc57"/><circle cx="94.5" cy="233.2" r="1.6" fill="#388e3e"/><circle cx="103.1" cy="214.1" r="1.9" fill="#378b3d"/><circle cx="81.2" cy="214.1" r="1.6" fill="#4ecc57"/><circle cx="116.4" cy="196.9" r="1.4" fill="#388f3e"/><circle cx="126.7" cy="196.9" r="1.5" fill="#3c9942"/><circle cx="124.4" cy="252.2" r="1.7" fill="#42a949"/><circle cx="117.5" cy="254.5" r="1.4" fill="#3c9942"/><circle cx="55.9" cy="268.9" r="1.4" fill="#4ac153"/><circle cx="62.8" cy="268.3" r="1.6" fill="#3a9541"/><circle cx="50.1" cy="269.4" r="1.5" fill="#40a547"/><circle cx="39.7" cy="280.4" r="1.6" fill="#41a949"/><circle cx="59.3" cy="276.4" r="1.7" fill="#4cc655"/><circle cx="42.6" cy="290.8" r="1.8" fill="#50d25a"/><circle cx="52.4" cy="296.0" r="1.7" fill="#4cc655"/><circle cx="92.7" cy="286.7" r="1.9" fill="#42ab49"/><circle cx="97.9" cy="297.1" r="2.0" fill="#49bd51"/><circle cx="91.0" cy="304.6" r="1.8" fill="#4bc454"/><circle cx="88.7" cy="312.1" r="1.9" fill="#3c9b43"/><circle cx="140.6" cy="285.0" r="1.5" fill="#40a547"/><circle cx="137.1" cy="301.1" r="1.5" fill="#368a3c"/><circle cx="157.3" cy="244.1" r="1.8" fill="#3c9b43"/><circle cx="142.3" cy="217.0" r="1.4" fill="#3d9d44"/><circle cx="149.2" cy="268.9" r="1.7" fill="#4cc755"/><circle cx="46.1" cy="181.9" r="1.4" fill="#35863a"/><circle cx="135.4" cy="161.7" r="1.6" fill="#388f3e"/><circle cx="138.2" cy="165.8" r="2.0" fill="#4fcf58"/><circle cx="135.9" cy="170.4" r="1.5" fill="#47b950"/><circle cx="142.3" cy="170.4" r="1.6" fill="#42a949"/><circle cx="141.1" cy="173.2" r="1.4" fill="#3ea145"/><circle cx="135.4" cy="175.6" r="1.9" fill="#46b74f"/><circle cx="133.6" cy="177.3" r="1.5" fill="#4bc454"/><circle cx="144.0" cy="177.9" r="1.5" fill="#45b24d"/><circle cx="148.0" cy="168.6" r="1.7" fill="#4ac253"/><circle cx="151.5" cy="175.6" r="1.9" fill="#52d65b"/><circle cx="126.2" cy="162.9" r="1.6" fill="#388e3e"/><circle cx="138.8" cy="186.5" r="1.7" fill="#51d45a"/><circle cx="145.7" cy="184.8" r="1.7" fill="#42aa49"/><circle cx="145.7" cy="188.2" r="2.0" fill="#4cc755"/><circle cx="144.0" cy="192.3" r="2.0" fill="#45b24d"/><circle cx="157.8" cy="184.8" r="1.5" fill="#47b84f"/><circle cx="158.4" cy="168.1" r="1.7" fill="#4ecb57"/><circle cx="146.9" cy="162.3" r="2.0" fill="#36883b"/><circle cx="161.3" cy="8.6" r="1.7" fill="#35873b"/><circle cx="201.6" cy="39.7" r="1.9" fill="#43ae4b"/><circle cx="208.5" cy="39.7" r="1.5" fill="#40a648"/><circle cx="172.8" cy="53.0" r="1.5" fill="#3d9c43"/><circle cx="183.2" cy="55.3" r="1.6" fill="#46b54e"/><circle cx="174.6" cy="65.1" r="1.5" fill="#4cc655"/><circle cx="160.7" cy="89.3" r="1.5" fill="#3fa346"/><circle cx="185.5" cy="91.6" r="1.9" fill="#53da5d"/><circle cx="169.4" cy="130.8" r="1.8" fill="#4fce58"/><circle cx="197.6" cy="143.4" r="1.5" fill="#41a748"/><circle cx="174.0" cy="150.3" r="1.7" fill="#4ecd57"/><circle cx="193.0" cy="156.1" r="1.5" fill="#35873b"/><circle cx="201.0" cy="155.0" r="1.8" fill="#378c3d"/><circle cx="308.2" cy="117.5" r="1.5" fill="#50d35a"/><circle cx="273.0" cy="198.9" r="1.4" fill="#18361a"/><circle cx="162.7" cy="187.4" r="1.4" fill="#1c421f"/><circle cx="10.5" cy="100.6" r="1.4" fill="#225125"/><circle cx="127.3" cy="312.4" r="1.7" fill="#225125"/><circle cx="212.4" cy="171.6" r="1.4" fill="#204d23"/><circle cx="215.4" cy="167.0" r="1.2" fill="#19391b"/><circle cx="113.7" cy="185.4" r="1.6" fill="#1c421e"/><circle cx="24.6" cy="240.1" r="1.7" fill="#255928"/><circle cx="217.9" cy="266.9" r="1.5" fill="#1b3e1d"/><circle cx="164.2" cy="285.2" r="1.7" fill="#204b22"/><circle cx="125.5" cy="2.9" r="1.3" fill="#214f24"/><circle cx="284.5" cy="289.6" r="1.4" fill="#1a3a1b"/><circle cx="218.3" cy="176.9" r="1.4" fill="#245828"/><circle cx="68.8" cy="98.6" r="1.5" fill="#255928"/><circle cx="54.6" cy="202.0" r="1.3" fill="#19381b"/><circle cx="179.7" cy="264.4" r="1.6" fill="#1e4620"/><circle cx="135.6" cy="169.1" r="1.4" fill="#1c411e"/><circle cx="192.1" cy="307.4" r="1.2" fill="#1a3a1b"/><circle cx="178.6" cy="192.7" r="1.3" fill="#204d23"/><circle cx="205.0" cy="220.1" r="1.2" fill="#1f4921"/><circle cx="264.1" cy="304.5" r="1.6" fill="#214f24"/><circle cx="266.0" cy="152.6" r="1.3" fill="#1a3c1c"/><circle cx="31.1" cy="50.0" r="1.3" fill="#235326"/><circle cx="233.2" cy="260.0" r="1.6" fill="#255a28"/><circle cx="302.5" cy="199.5" r="1.3" fill="#193a1b"/><circle cx="22.2" cy="67.2" r="1.4" fill="#225024"/><circle cx="172.6" cy="120.6" r="1.5" fill="#1d441f"/><circle cx="216.7" cy="158.6" r="1.7" fill="#19391b"/><circle cx="240.6" cy="229.9" r="1.3" fill="#1f4821"/><circle cx="113.2" cy="235.0" r="1.4" fill="#1c411e"/><circle cx="158.6" cy="222.2" r="1.5" fill="#1c411e"/><circle cx="107.8" cy="270.0" r="1.2" fill="#1e4620"/><circle cx="76.7" cy="212.5" r="1.3" fill="#19391b"/><circle cx="152.0" cy="313.1" r="1.4" fill="#255a28"/><circle cx="30.8" cy="114.4" r="1.2" fill="#235426"/><circle cx="115.4" cy="7.2" r="1.4" fill="#1d4520"/><circle cx="164.3" cy="18.8" r="1.7" fill="#1e4721"/><circle cx="150.2" cy="29.0" r="1.7" fill="#225124"/><circle cx="161.5" cy="18.7" r="1.6" fill="#1e4720"/><circle cx="188.4" cy="287.1" r="1.5" fill="#19371a"/><circle cx="9.5" cy="245.2" r="1.6" fill="#245627"/><circle cx="289.4" cy="121.6" r="1.6" fill="#245928"/><circle cx="48.5" cy="248.8" r="1.7" fill="#265d29"/><circle cx="70.0" cy="135.2" r="1.4" fill="#1c411e"/><circle cx="211.3" cy="41.0" r="1.4" fill="#19391b"/><circle cx="121.7" cy="285.6" r="1.3" fill="#18361a"/><circle cx="262.1" cy="305.6" r="1.3" fill="#1b3f1d"/><circle cx="290.9" cy="298.3" r="1.3" fill="#1e4620"/><circle cx="85.7" cy="240.2" r="1.6" fill="#1a3c1c"/><circle cx="164.8" cy="310.1" r="1.2" fill="#1a3a1b"/><circle cx="204.1" cy="120.5" r="1.4" fill="#204c23"/><circle cx="84.6" cy="174.3" r="1.3" fill="#1f4921"/><circle cx="133.5" cy="161.3" r="1.6" fill="#19381a"/><circle cx="159.2" cy="14.1" r="1.4" fill="#18371a"/><circle cx="95.5" cy="144.2" r="1.7" fill="#1d441f"/><circle cx="168.4" cy="227.4" r="1.7" fill="#265c29"/><circle cx="96.8" cy="54.7" r="1.2" fill="#1e4721"/><circle cx="233.2" cy="169.1" r="1.7" fill="#1c411e"/><circle cx="175.2" cy="264.2" r="1.4" fill="#1f4921"/><circle cx="179.7" cy="67.5" r="1.2" fill="#19391b"/><circle cx="109.4" cy="47.4" r="1.3" fill="#1c411e"/><circle cx="248.1" cy="236.2" r="1.6" fill="#214e24"/><circle cx="124.0" cy="200.7" r="1.3" fill="#245828"/><circle cx="139.7" cy="285.5" r="1.3" fill="#19381a"/><circle cx="234.3" cy="179.3" r="1.2" fill="#245627"/><circle cx="157.2" cy="277.3" r="1.5" fill="#1a3a1b"/><circle cx="228.4" cy="195.2" r="1.3" fill="#255b29"/><circle cx="36.9" cy="22.2" r="1.2" fill="#19381b"/><circle cx="146.5" cy="207.0" r="1.6" fill="#19381b"/><circle cx="203.9" cy="268.6" r="1.6" fill="#1c401e"/><circle cx="95.8" cy="2.5" r="1.5" fill="#255928"/><circle cx="148.2" cy="51.1" r="1.3" fill="#255b29"/><circle cx="66.4" cy="29.9" r="1.2" fill="#1e4620"/><circle cx="197.2" cy="207.6" r="1.3" fill="#1f4921"/><circle cx="217.8" cy="143.3" r="1.7" fill="#1a3b1c"/><circle cx="86.1" cy="158.0" r="1.7" fill="#204b22"/><circle cx="210.0" cy="134.6" r="1.6" fill="#1c411e"/><circle cx="35.9" cy="83.9" r="1.6" fill="#1c401e"/><circle cx="199.6" cy="204.4" r="1.3" fill="#235426"/><circle cx="107.6" cy="34.5" r="1.6" fill="#204c23"/><circle cx="17.7" cy="309.2" r="1.5" fill="#225225"/><circle cx="83.9" cy="131.0" r="1.2" fill="#19381b"/><circle cx="227.1" cy="131.7" r="1.2" fill="#1c421e"/><circle cx="58.6" cy="300.1" r="1.6" fill="#1f4922"/><circle cx="34.7" cy="133.5" r="1.2" fill="#204c23"/><circle cx="93.1" cy="36.1" r="1.7" fill="#255b29"/><circle cx="148.4" cy="34.5" r="1.3" fill="#204b22"/><circle cx="28.3" cy="314.0" r="1.4" fill="#1c401e"/><circle cx="175.0" cy="309.5" r="1.3" fill="#1f4a22"/><circle cx="290.3" cy="122.6" r="1.7" fill="#1d421f"/><circle cx="256.6" cy="169.2" r="1.2" fill="#255a29"/><circle cx="148.3" cy="142.0" r="1.5" fill="#1f4922"/><circle cx="91.2" cy="237.2" r="1.4" fill="#235326"/><circle cx="191.9" cy="44.4" r="1.5" fill="#225225"/><circle cx="34.2" cy="317.2" r="1.3" fill="#19391b"/><circle cx="142.2" cy="197.8" r="1.3" fill="#225125"/><circle cx="35.0" cy="185.4" r="1.4" fill="#19381a"/><circle cx="107.7" cy="189.0" r="1.4" fill="#245827"/><circle cx="132.2" cy="310.5" r="1.5" fill="#235326"/><circle cx="100.1" cy="271.6" r="1.4" fill="#245627"/><circle cx="214.2" cy="109.4" r="1.5" fill="#225225"/><circle cx="194.9" cy="253.5" r="1.4" fill="#18361a"/><circle cx="250.3" cy="245.8" r="1.2" fill="#1f4b22"/><circle cx="152.3" cy="39.8" r="1.7" fill="#245727"/><circle cx="76.8" cy="264.0" r="1.4" fill="#214f24"/><circle cx="73.9" cy="88.5" r="1.5" fill="#204c23"/><circle cx="235.4" cy="161.2" r="1.4" fill="#225225"/><circle cx="119.1" cy="190.6" r="1.4" fill="#225124"/><circle cx="21.3" cy="84.3" r="1.3" fill="#19381a"/><circle cx="6.5" cy="244.1" r="1.4" fill="#1e4721"/><circle cx="254.1" cy="152.6" r="1.2" fill="#235526"/><circle cx="243.0" cy="199.0" r="1.5" fill="#225225"/><circle cx="269.2" cy="197.1" r="1.6" fill="#265c29"/><circle cx="65.2" cy="22.9" r="1.3" fill="#1d441f"/><circle cx="30.0" cy="71.6" r="1.4" fill="#1c411e"/><circle cx="230.8" cy="124.8" r="1.7" fill="#255928"/><circle cx="143.6" cy="131.2" r="1.4" fill="#235426"/><circle cx="219.7" cy="273.9" r="1.6" fill="#245827"/><circle cx="290.0" cy="252.6" r="1.5" fill="#214f24"/><circle cx="279.2" cy="227.5" r="1.3" fill="#1d431f"/><circle cx="80.6" cy="217.5" r="1.3" fill="#1f4b22"/><circle cx="265.8" cy="117.5" r="1.5" fill="#1d441f"/><circle cx="47.2" cy="93.0" r="1.3" fill="#1e4620"/><circle cx="34.9" cy="3.9" r="1.7" fill="#245627"/><circle cx="104.4" cy="294.1" r="1.3" fill="#18361a"/><circle cx="20.4" cy="192.2" r="1.4" fill="#235526"/><circle cx="143.7" cy="292.3" r="1.5" fill="#1a3c1c"/><circle cx="135.9" cy="141.1" r="1.3" fill="#1c411e"/><circle cx="71.0" cy="212.2" r="1.2" fill="#225225"/><circle cx="129.9" cy="103.3" r="1.6" fill="#1c421e"/><circle cx="214.8" cy="41.0" r="1.2" fill="#214f24"/><circle cx="289.6" cy="203.1" r="1.5" fill="#1f4821"/><circle cx="141.1" cy="49.8" r="1.4" fill="#19391b"/><circle cx="213.8" cy="79.0" r="1.2" fill="#1c421e"/><circle cx="294.4" cy="94.2" r="1.4" fill="#255b29"/><circle cx="29.6" cy="110.2" r="1.5" fill="#1e4821"/><circle cx="32.9" cy="274.5" r="1.5" fill="#1e4721"/><circle cx="91.7" cy="85.5" r="1.5" fill="#1d431f"/><circle cx="161.2" cy="269.3" r="1.4" fill="#214f24"/><circle cx="195.1" cy="130.1" r="1.3" fill="#1e4721"/><circle cx="191.4" cy="188.6" r="1.4" fill="#225225"/><circle cx="15.0" cy="36.4" r="1.7" fill="#19381b"/><circle cx="27.6" cy="200.0" r="1.5" fill="#18371a"/><circle cx="145.4" cy="53.1" r="1.5" fill="#1f4a22"/><circle cx="270.0" cy="268.0" r="1.6" fill="#1a3d1c"/><circle cx="151.0" cy="103.0" r="1.3" fill="#245828"/><circle cx="118.3" cy="249.7" r="1.7" fill="#1d4520"/><circle cx="271.1" cy="317.1" r="1.6" fill="#225225"/><circle cx="145.7" cy="89.8" r="1.4" fill="#255a28"/><circle cx="128.2" cy="82.7" r="1.4" fill="#214e23"/><circle cx="144.7" cy="92.5" r="1.6" fill="#214f24"/><circle cx="78.5" cy="159.8" r="1.5" fill="#255928"/><circle cx="194.1" cy="53.3" r="1.2" fill="#1f4921"/><circle cx="87.8" cy="168.2" r="1.3" fill="#265c29"/><circle cx="12.2" cy="40.6" r="1.7" fill="#1c421e"/><circle cx="79.8" cy="22.6" r="1.7" fill="#225325"/><circle cx="291.0" cy="266.1" r="1.3" fill="#1a3c1c"/><circle cx="86.8" cy="22.7" r="1.6" fill="#1f4921"/><circle cx="5.3" cy="98.3" r="1.6" fill="#225225"/><circle cx="231.7" cy="290.1" r="1.4" fill="#204c23"/><circle cx="90.7" cy="13.5" r="1.4" fill="#1a3a1b"/><circle cx="27.3" cy="80.1" r="1.7" fill="#1f4921"/><circle cx="264.8" cy="237.2" r="1.4" fill="#1d4520"/><circle cx="101.6" cy="202.4" r="1.6" fill="#1c411e"/><circle cx="49.0" cy="4.8" r="1.3" fill="#18361a"/><circle cx="96.8" cy="74.2" r="1.5" fill="#204d23"/><circle cx="90.5" cy="232.9" r="1.7" fill="#1a3a1b"/><circle cx="187.9" cy="224.7" r="1.4" fill="#245827"/><circle cx="199.6" cy="220.3" r="1.3" fill="#1f4821"/><circle cx="173.2" cy="32.1" r="1.4" fill="#1f4821"/><circle cx="165.9" cy="267.1" r="1.5" fill="#204d23"/><circle cx="207.8" cy="100.7" r="1.4" fill="#204d23"/><circle cx="204.4" cy="44.3" r="1.5" fill="#1b3d1d"/><circle cx="34.1" cy="295.5" r="1.4" fill="#1c411e"/><circle cx="11.8" cy="87.3" r="1.4" fill="#255928"/><circle cx="26.9" cy="113.1" r="1.5" fill="#18371a"/><circle cx="73.8" cy="90.8" r="1.4" fill="#1c401e"/><circle cx="152.8" cy="155.3" r="1.5" fill="#225225"/><circle cx="151.9" cy="171.8" r="1.7" fill="#214e23"/><circle cx="15.9" cy="161.6" r="1.4" fill="#225024"/><circle cx="117.5" cy="196.8" r="1.5" fill="#255a28"/><circle cx="224.2" cy="226.2" r="1.3" fill="#214e23"/><circle cx="196.8" cy="21.3" r="1.3" fill="#1f4921"/><circle cx="166.5" cy="230.2" r="1.4" fill="#255a29"/><circle cx="141.1" cy="181.0" r="1.4" fill="#225225"/><circle cx="206.7" cy="172.6" r="1.6" fill="#1a3b1c"/><circle cx="154.8" cy="196.5" r="1.7" fill="#235526"/><circle cx="288.8" cy="301.0" r="1.4" fill="#235426"/><circle cx="169.0" cy="212.9" r="1.6" fill="#225225"/><circle cx="306.7" cy="158.0" r="1.5" fill="#204c22"/><circle cx="17.4" cy="305.1" r="1.4" fill="#19371a"/><circle cx="61.8" cy="295.5" r="1.3" fill="#235526"/><circle cx="77.8" cy="212.9" r="1.6" fill="#1f4821"/><circle cx="105.2" cy="83.9" r="1.2" fill="#1a3a1b"/><circle cx="48.7" cy="101.4" r="1.7" fill="#1d441f"/><circle cx="80.4" cy="94.7" r="1.4" fill="#1a3a1b"/><circle cx="166.5" cy="87.0" r="1.6" fill="#193a1b"/><circle cx="139.9" cy="244.0" r="1.6" fill="#1c421f"/><circle cx="135.2" cy="3.0" r="1.7" fill="#225225"/><circle cx="233.5" cy="258.3" r="1.4" fill="#1f4821"/><circle cx="287.5" cy="288.9" r="1.7" fill="#204b22"/><circle cx="97.7" cy="28.1" r="1.5" fill="#1e4721"/><circle cx="99.5" cy="301.5" r="1.4" fill="#235426"/><circle cx="78.7" cy="135.6" r="1.3" fill="#265d29"/><circle cx="197.1" cy="167.5" r="1.5" fill="#1f4a22"/><circle cx="117.1" cy="48.6" r="1.3" fill="#1e4620"/><circle cx="5.2" cy="215.2" r="1.3" fill="#1c421f"/><circle cx="156.7" cy="68.2" r="1.4" fill="#19381b"/><circle cx="28.8" cy="283.3" r="1.3" fill="#225225"/><circle cx="16.4" cy="282.9" r="1.5" fill="#19381a"/><circle cx="135.7" cy="266.4" r="1.3" fill="#1b3f1d"/><circle cx="22.0" cy="166.9" r="1.4" fill="#255928"/><circle cx="284.9" cy="157.4" r="1.3" fill="#255b29"/><circle cx="273.8" cy="154.5" r="1.3" fill="#265c29"/><circle cx="103.4" cy="294.1" r="1.7" fill="#225225"/><circle cx="25.0" cy="90.3" r="1.7" fill="#225024"/><circle cx="14.3" cy="111.9" r="1.3" fill="#1b3f1d"/><circle cx="164.1" cy="119.8" r="1.4" fill="#255b29"/><circle cx="189.4" cy="239.6" r="1.2" fill="#245828"/><circle cx="31.9" cy="64.0" r="1.6" fill="#214e23"/><circle cx="151.5" cy="230.2" r="1.3" fill="#1b3e1d"/><circle cx="37.4" cy="13.6" r="1.7" fill="#1d431f"/><circle cx="131.5" cy="90.1" r="1.4" fill="#1a3c1c"/><circle cx="279.6" cy="295.5" r="1.4" fill="#1b3e1d"/><circle cx="202.7" cy="115.4" r="1.4" fill="#214d23"/><circle cx="160.0" cy="156.1" r="1.4" fill="#255b29"/><circle cx="139.7" cy="252.2" r="1.5" fill="#204d23"/><circle cx="250.0" cy="227.0" r="1.4" fill="#1a3c1c"/><circle cx="8.6" cy="219.2" r="1.3" fill="#18371a"/><circle cx="9.1" cy="214.3" r="1.4" fill="#215024"/><circle cx="287.0" cy="223.5" r="1.7" fill="#1b3d1c"/><circle cx="184.4" cy="205.5" r="1.6" fill="#214e23"/><circle cx="92.2" cy="197.3" r="1.4" fill="#1c401e"/><circle cx="105.7" cy="311.1" r="1.4" fill="#204c22"/><circle cx="207.9" cy="84.8" r="1.3" fill="#204c23"/><circle cx="190.0" cy="311.0" r="1.6" fill="#265c29"/><circle cx="157.9" cy="135.3" r="1.4" fill="#235326"/><circle cx="182.6" cy="40.7" r="1.5" fill="#225325"/><circle cx="173.9" cy="188.0" r="1.3" fill="#1a3b1c"/><circle cx="231.5" cy="112.5" r="1.6" fill="#225325"/><circle cx="241.9" cy="124.3" r="1.6" fill="#1b3e1d"/><circle cx="211.8" cy="222.1" r="1.2" fill="#204d23"/><circle cx="250.2" cy="187.9" r="1.3" fill="#225225"/><circle cx="138.7" cy="185.4" r="1.3" fill="#204b22"/><circle cx="192.7" cy="289.4" r="1.4" fill="#214f24"/><circle cx="199.2" cy="130.9" r="1.5" fill="#1d4520"/><circle cx="13.7" cy="55.7" r="1.5" fill="#214f24"/><circle cx="155.9" cy="260.0" r="1.4" fill="#235326"/><circle cx="215.3" cy="136.6" r="1.2" fill="#204b22"/><circle cx="271.5" cy="279.8" r="1.6" fill="#1f4b22"/><circle cx="203.5" cy="315.0" r="1.4" fill="#1a3b1b"/><circle cx="47.9" cy="62.2" r="1.4" fill="#235326"/><circle cx="110.5" cy="78.6" r="1.7" fill="#1b3d1d"/><circle cx="286.1" cy="281.0" r="1.3" fill="#225225"/><circle cx="286.2" cy="189.4" r="1.5" fill="#255b29"/><circle cx="187.5" cy="49.2" r="1.5" fill="#19381a"/><circle cx="2.4" cy="120.2" r="1.4" fill="#19391b"/><circle cx="177.7" cy="215.5" r="1.5" fill="#1f4a22"/><circle cx="249.8" cy="184.1" r="1.5" fill="#245627"/><circle cx="32.3" cy="38.0" r="1.6" fill="#18361a"/></g>
<ellipse cx="62" cy="172" rx="9" ry="7" fill="#000" opacity="0.28" filter="url(#b2)"/>
<ellipse cx="95" cy="203" rx="10" ry="8" fill="#000" opacity="0.28" filter="url(#b2)"/>
<ellipse cx="121" cy="184" rx="8" ry="11" fill="#000" opacity="0.28" filter="url(#b2)"/>
<ellipse cx="138" cy="220" rx="9" ry="8" fill="#000" opacity="0.28" filter="url(#b2)"/>
<ellipse cx="162" cy="232" rx="8" ry="7" fill="#000" opacity="0.28" filter="url(#b2)"/>
<ellipse cx="90" cy="179" rx="7" ry="6" fill="#000" opacity="0.28" filter="url(#b2)"/>
<ellipse cx="110" cy="215" rx="7" ry="6" fill="#000" opacity="0.28" filter="url(#b2)"/>
<ellipse cx="75" cy="190" rx="6" ry="6" fill="#000" opacity="0.28" filter="url(#b2)"/>
<circle cx="19" cy="14.5" r="16" fill="#000" filter="url(#b1)"/>
<path d="M212.0,117.0 C212.3,113.2 218.8,115.3 222.0,115.5 C225.2,115.7 228.0,115.9 231.0,118.0 C234.0,120.1 237.3,123.5 240.0,128.0 C242.7,132.5 245.2,138.8 247.0,145.0 C248.8,151.2 250.5,160.3 251.0,165.0 C251.5,169.7 251.3,172.2 250.0,173.0 C248.7,173.8 246.0,173.0 243.0,170.0 C240.0,167.0 235.8,160.3 232.0,155.0 C228.2,149.7 223.3,144.3 220.0,138.0 C216.7,131.7 211.7,120.8 212.0,117.0 Z" fill="#030403" filter="url(#b1)"/>
<ellipse cx="268.4" cy="206" rx="8.5" ry="13.5" fill="#020202" filter="url(#b1)" transform="rotate(-15 268.4 206)"/>
<circle cx="286.9" cy="248.7" r="3" fill="#030303"/><circle cx="278.8" cy="270.6" r="3.8" fill="#030303"/>
<circle cx="314.5" cy="258" r="3.5" fill="#050505"/>
<path d="M101,148 C125,135 150,118 172,104 C185,101 200,104 213,117" stroke="#060806" stroke-width="1.5" fill="none" opacity="0.85"/>
</g>
<text class="k" x="162.5" y="88.2" font-size="28" font-style="italic" textLength="51.5" lengthAdjust="spacingAndGlyphs">Oxtr</text>
<text class="k" x="482.0" y="88.2" font-size="28" textLength="69.5" lengthAdjust="spacingAndGlyphs">CGRP</text>
<text class="k" x="812.3" y="88.2" font-size="28" textLength="80.5" lengthAdjust="spacingAndGlyphs">Merge</text>
<text class="k" x="1239.3" y="988.5" font-size="28" textLength="91.5" lengthAdjust="spacingAndGlyphs">hM<tspan font-size="18" dy="7">3</tspan><tspan dy="-7">Dq</tspan></text>
<text class="k" x="1587.3" y="991.9" font-size="28" textLength="42.5" lengthAdjust="spacingAndGlyphs">Fos</text>
<text class="k" x="1890.3" y="991.6" font-size="28" textLength="80.5" lengthAdjust="spacingAndGlyphs">Merge</text>
</svg></body></html>
